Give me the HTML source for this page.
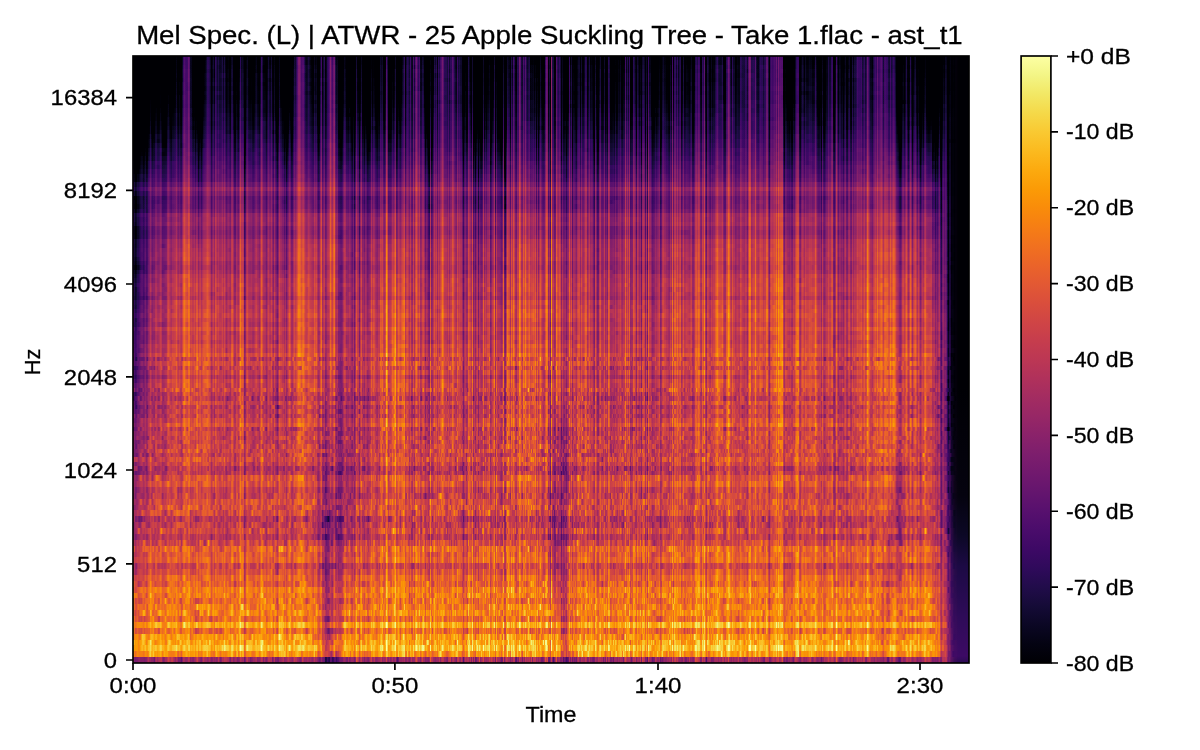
<!DOCTYPE html>
<html><head><meta charset="utf-8"><title>Mel Spec</title><style>
html,body{margin:0;padding:0;background:#fff;width:1200px;height:750px;overflow:hidden}
#sp{position:absolute;left:133px;top:56px;width:836px;height:607px;background:#000;overflow:hidden;filter:url(#cm);isolation:isolate}
#sp i{position:absolute;left:0;width:836px;display:block}
.tx{position:absolute;left:0;top:0;width:836px;height:607px;mix-blend-mode:lighten}
.t0{background:linear-gradient(90deg,#0000a7,#000060,#000044,#000025,#000056,#000056,#000050,#000071,#000072,#000087,#000067,#000052,#000080,#000078,#000030,#00008b,#000084,#0000a5,#0000c0,#000050,#00008b,#000062,#000087,#0000a7,#000085,#00006e,#00007f,#00007d,#0000b6,#00004d,#000058,#000050,#00005a,#000056,#000067,#0000c6,#000078,#000095,#000036,#00008e,#00005c,#000092,#000059,#0000a4,#00008a,#000042,#000069,#000062,#00001f,#00004f,#00007a,#0000b9,#000095,#000081,#000077,#000071,#0000d5,#00004a,#00005d,#00006c,#000030,#00008c,#00004c,#000069,#0000b4,#00004d,#000054,#00009a,#000041,#000052,#000079,#00007c,#000080,#00007d,#0000a0,#000096,#00007e,#000084,#00003d,#00001b,#0000a5,#000026,#000087,#0000ab,#000042,#00009a,#000053,#00007f,#000047,#0000b7,#00004f,#00009a,#000091,#000046,#000064,#000074,#000081,#00003e,#00008c,#0000bd,#000089,#000064,#000023,#000091,#000082,#00006a,#00006c,#0000ff,#0000c3,#000094,#0000f3,#000017,#000010,#00007b,#0000b6,#00007d,#00007b,#000067,#000080,#000067,#000054,#000067,#000076,#0000a7,#000076,#000080,#000054,#000066,#0000d9,#0000bd,#00007c,#00006c,#00007f,#000041,#00005d,#0000a3,#00008d,#000065,#0000ac,#00009b,#00002d,#0000b0,#000077,#000066,#000030,#000046,#0000d3,#00009a,#0000b0,#00007b,#0000b1,#00004d,#0000a6,#00003b,#000066,#000081,#0000c0,#0000aa,#000056,#000037,#00005b,#000096,#000064,#000070,#000084,#0000b5,#0000b1,#0000ab,#000074,#000087,#0000a5,#000085,#000058,#00004d,#00004d,#00007e,#000074,#000068,#000058,#00005e,#000035,#000096,#000068,#000090,#00005a,#000021,#000028,#000064,#0000de,#00003e,#000044,#000081,#00001b,#000019,#00004d,#00005f,#00005d,#0000d3,#0000a7,#00007a,#0000ad,#0000ff,#00008c,#000054,#000089,#000031,#000034,#000028,#000025,#000033,#00006c,#00009e,#0000a6,#000063,#00006d,#000058,#00007f,#000070,#000059,#000021,#000081,#000014,#000042,#0000c9,#00007c,#000098,#000013,#00006a,#0000cd,#00005f,#000077,#000041,#00007c,#000078,#00003e,#000046,#000057,#000050,#0000be,#000077,#00009e,#000099,#00006c,#000059,#00003c,#000069,#000044,#0000a4,#00008f,#0000af,#00006a,#000052,#000062,#0000ff,#0000de,#00004e,#000058,#000054,#000060,#0000a2,#00008d,#0000a2,#0000fd,#00005c,#00005c,#00009f,#00008c,#00006a,#000083,#00009b,#00009a,#0000cf,#000041,#000074,#00008b,#000078,#000040,#000090,#000049,#000023,#0000a5,#000046,#000096,#0000d6,#0000ab,#00007c,#0000c2,#000068,#000070,#0000ac,#0000c1,#00009f,#00004d,#00007e,#00006c,#00003d,#000003,#0000d8,#00003b,#00003b,#000066,#0000a3,#00006f,#000090,#00002e,#00007b,#000047,#00006c,#000082,#0000b8,#000096,#000057,#000052,#000057,#00003a,#000075,#000034,#000064,#000061,#0000a8,#00009d,#000070,#00005c,#000042,#0000a5,#000072,#00008b,#000079,#000082,#000051,#000000,#00004e,#000071,#000049,#000043,#0000c3,#0000a8,#000095,#000066,#0000e3,#000041,#000070,#000037,#000077,#00009d,#000029,#000086,#000069,#000058,#000063,#0000de,#000073,#000099,#000072,#000097,#000098,#0000b3,#000034,#00004f,#00007f,#000093,#0000e3,#00003a,#0000ae,#000069,#000065,#000064,#000057,#00003d,#00005a,#0000e5,#00002b,#000003,#000070,#0000d1,#0000b6,#0000a8,#000052,#0000bc,#00007f,#0000c1,#00008f,#000043,#00002a,#000075,#000068,#0000cb,#0000a8,#000051,#000048,#00009d,#000075,#0000b7,#00007a,#000067,#000082,#00009a,#000064,#00007a,#00007f,#000096,#000082,#0000a8,#00004e,#000097,#000041,#000079,#0000a6,#000078,#000050,#00003f,#000043,#00008a,#0000c1,#0000af,#00001e,#000049,#000000,#0000e7,#000062,#00005e,#000029,#000037,#0000bd,#00008b,#00007b,#00009b,#00007c,#00001a,#000064,#000030,#000032,#00003e,#000008,#00003b,#00004d,#0000b7,#000062,#000092,#00001e,#00006c,#000067,#000057,#000041,#000083,#000099,#00009b,#00005c,#0000a1,#00006e,#00006d,#00008a,#0000ba,#0000b1,#000057,#00007f,#0000a8,#000071,#000085,#00007b,#000048,#000029,#0000b6,#000074,#00002e,#00003b,#0000a1,#0000bf,#00006e,#00006b,#000075,#0000af,#000057,#000071,#00004c,#0000cf,#0000af,#000051,#000058,#00005c,#000063,#000050,#000081,#000052,#000060,#000086,#000077,#000090,#00005f,#000055,#000076,#000075,#0000e0,#00007a,#0000b4,#000079,#0000c9,#00003c,#000058,#00005d,#0000c6,#0000a8,#000086,#000039,#0000b6,#00008d,#000066,#000086,#00001c,#0000af,#0000ab,#000092,#00002d,#00009d,#000013,#0000e1,#00007a,#00008b,#00005b,#000036,#000049,#000053,#000078,#00005e,#000076,#000081,#000095,#00001d,#00004f,#0000a1,#0000a1,#000080,#00007d,#000061,#000067,#00004d,#000045,#00008c,#000058,#0000e4,#00004c,#0000c1,#0000b6,#000083,#0000c1,#000074,#0000a6,#0000b3,#000039,#000077,#0000ae,#00005b,#000072,#000084,#000077,#000073,#000065,#000082,#000095,#00003c,#000047,#000071,#0000bf,#0000c3,#0000a2,#0000d5,#0000b8,#00005a,#000059,#0000c1,#000090,#0000f1,#00003a,#000023,#0000a0,#000073,#000056,#00004b,#000088,#00005b,#00007a,#000075,#0000a9,#0000c2,#0000d5,#000098,#000095,#000090,#000093,#0000b0,#000055,#000046,#00004c,#0000b6,#0000af,#0000ff,#0000c5,#00006f,#000061,#0000c1,#00006e,#000089,#00004e,#00006f,#00007c,#000062,#000063,#0000ab,#000082,#000069,#000066,#000057,#00007c,#000060,#00002b,#0000b4,#0000e2,#0000c4,#00004c,#000084,#000087,#00008b,#0000e9,#000066,#00007d,#000066,#000093,#00009c,#000084,#000083,#00004f,#000076,#000064,#0000bb,#000097,#000025,#000000,#000088,#000080,#000071,#000087,#000094,#000083,#0000ca,#000063,#0000fb,#000087,#0000ce,#0000ba,#0000cf,#000022,#00001f,#000080,#00005a,#000051,#000053,#000042,#000062,#00002a,#000035,#00007f,#00004e,#0000ab,#0000bf,#0000c6,#0000bf,#00001d,#000041,#000089,#000094,#000076,#000056,#0000a1,#00005c,#000079,#000073,#000092,#00007c,#00008d,#00006d,#000080,#000087,#0000d7,#000070,#00005f,#000053,#00005b,#00006b,#000015,#0000c4,#00000e,#000051,#00005b,#000081,#000071,#0000ba,#00006d,#000095,#0000c6,#0000be,#000015,#00004d,#000083,#0000ff,#000056,#000056,#00009f,#00006e,#000060,#00007d,#000035,#0000a4,#000091,#000037,#000059,#0000a3,#000089,#000038,#00004d,#0000a5,#000029,#000096,#000047,#000083,#000091,#000066,#000085,#000070,#00009b,#000038,#000090,#000088,#00004c,#0000a2,#0000f8,#000081,#000075,#000037,#000051,#000021,#000086,#00006a,#000094,#000052,#0000d6,#00002a,#0000ad,#00007a,#0000bd,#00005c,#000057,#0000b5,#00008b,#00009a,#000094,#00005e,#00007f,#0000ca,#000053,#0000c7,#0000aa,#0000a7,#00006f,#00003a,#000041,#000020,#000000,#000000,#000036,#000084,#000061,#000046,#000096,#0000a5,#00003a,#000034,#000091,#0000c1,#000046,#00001d,#0000ad,#00007b,#0000be,#00003d,#000054,#00009d,#00001e,#000022,#000071,#000078,#000050,#0000e0,#000093,#00007e,#000081,#000079,#000087,#00008b,#000096,#000014,#00009c,#00003d,#000035,#00008f,#000026,#0000d1,#000099,#00002d,#000048,#0000eb,#0000a9,#0000c1,#0000e3,#0000ac,#00004a,#000059,#0000d8,#000077,#000060,#0000a5,#000085,#000092,#0000c9,#0000ee,#0000d1,#0000b4,#000060,#00006d,#0000b8,#000085,#00006f,#000026,#000031,#000058,#0000e5,#0000a1);-webkit-mask-image:linear-gradient(180deg,#00000099 0px 4px,#00000099 4px 9px,#00000099 9px 13px,#00000099 13px 17px,#00000099 17px 22px,#00000099 22px 26px,#00000099 26px 30px,#00000099 30px 35px,#00000099 35px 39px,#00000099 39px 44px,#00000099 44px 48px,#00000099 48px 52px,#00000099 52px 57px,#00000099 57px 61px,#00000099 61px 65px,#00000099 65px 70px,#00000099 70px 74px,#00000099 74px 78px,#00000099 78px 83px,#00000099 83px 87px,#00000099 87px 92px,#00000099 92px 96px,#00000099 96px 100px,#00000099 100px 105px,#00000099 105px 109px,#00000099 109px 113px,#00000099 113px 118px,#00000099 118px 122px,#00000099 122px 126px,#00000099 126px 131px,#00000099 131px 135px,#00000099 135px 140px,#00000099 140px 144px,#00000099 144px 148px,#00000099 148px 153px,#00000099 153px 157px,#00000099 157px 161px,#00000099 161px 166px,#00000099 166px 170px,#00000099 170px 174px,#00000099 174px 179px,#00000099 179px 183px,#00000099 183px 188px,#00000099 188px 192px,#00000099 192px 196px,#00000099 196px 201px,#00000098 201px 205px,#00000098 205px 209px,#00000098 209px 214px,#00000097 214px 218px,#00000097 218px 222px,#00000096 222px 227px,#00000096 227px 231px,#00000096 231px 236px,#00000095 236px 240px,#00000095 240px 244px,#00000095 244px 249px,#00000094 249px 253px,#00000094 253px 257px,#00000093 257px 262px,#00000093 262px 266px,#00000093 266px 271px,#00000092 271px 275px,#00000092 275px 279px,#00000092 279px 284px,#00000091 284px 288px,#00000091 288px 292px,#00000090 292px 297px,#00000090 297px 301px,#00000000 301px 305px,#0000008f 305px 310px,#00000000 310px 314px,#0000008f 314px 319px,#0000008e 319px 323px,#0000008e 323px 327px,#0000008d 327px 332px,#00000000 332px 336px,#0000008d 336px 340px,#00000000 340px 345px,#0000008c 345px 349px,#00000000 349px 353px,#0000008b 353px 358px,#00000000 358px 362px,#0000008a 362px 367px,#00000089 367px 371px,#00000000 371px 375px,#00000088 375px 380px,#00000000 380px 384px,#00000087 384px 388px,#00000000 388px 393px,#00000000 393px 397px,#00000000 397px 401px,#00000000 401px 406px,#00000084 406px 410px,#00000000 410px 415px,#00000083 415px 419px,#00000000 419px 425px,#00000082 425px 431px,#00000081 431px 437px,#00000000 437px 443px,#00000000 443px 449px,#00000000 449px 454px,#00000000 454px 460px,#00000000 460px 466px,#00000000 466px 472px,#00000000 472px 478px,#0000007d 478px 484px,#00000000 484px 490px,#00000000 490px 496px,#0000007b 496px 501px,#0000007b 501px 507px,#00000000 507px 513px,#0000007a 513px 519px,#00000079 519px 525px,#00000000 525px 531px,#00000078 531px 537px,#00000000 537px 542px,#00000000 542px 548px,#00000000 548px 554px,#00000000 554px 560px,#00000000 560px 566px,#00000076 566px 572px,#00000000 572px 578px,#00000000 578px 584px,#00000000 584px 589px,#00000074 589px 595px,#00000000 595px 601px,#00000000 601px 607px);mask-image:linear-gradient(180deg,#00000099 0px 4px,#00000099 4px 9px,#00000099 9px 13px,#00000099 13px 17px,#00000099 17px 22px,#00000099 22px 26px,#00000099 26px 30px,#00000099 30px 35px,#00000099 35px 39px,#00000099 39px 44px,#00000099 44px 48px,#00000099 48px 52px,#00000099 52px 57px,#00000099 57px 61px,#00000099 61px 65px,#00000099 65px 70px,#00000099 70px 74px,#00000099 74px 78px,#00000099 78px 83px,#00000099 83px 87px,#00000099 87px 92px,#00000099 92px 96px,#00000099 96px 100px,#00000099 100px 105px,#00000099 105px 109px,#00000099 109px 113px,#00000099 113px 118px,#00000099 118px 122px,#00000099 122px 126px,#00000099 126px 131px,#00000099 131px 135px,#00000099 135px 140px,#00000099 140px 144px,#00000099 144px 148px,#00000099 148px 153px,#00000099 153px 157px,#00000099 157px 161px,#00000099 161px 166px,#00000099 166px 170px,#00000099 170px 174px,#00000099 174px 179px,#00000099 179px 183px,#00000099 183px 188px,#00000099 188px 192px,#00000099 192px 196px,#00000099 196px 201px,#00000098 201px 205px,#00000098 205px 209px,#00000098 209px 214px,#00000097 214px 218px,#00000097 218px 222px,#00000096 222px 227px,#00000096 227px 231px,#00000096 231px 236px,#00000095 236px 240px,#00000095 240px 244px,#00000095 244px 249px,#00000094 249px 253px,#00000094 253px 257px,#00000093 257px 262px,#00000093 262px 266px,#00000093 266px 271px,#00000092 271px 275px,#00000092 275px 279px,#00000092 279px 284px,#00000091 284px 288px,#00000091 288px 292px,#00000090 292px 297px,#00000090 297px 301px,#00000000 301px 305px,#0000008f 305px 310px,#00000000 310px 314px,#0000008f 314px 319px,#0000008e 319px 323px,#0000008e 323px 327px,#0000008d 327px 332px,#00000000 332px 336px,#0000008d 336px 340px,#00000000 340px 345px,#0000008c 345px 349px,#00000000 349px 353px,#0000008b 353px 358px,#00000000 358px 362px,#0000008a 362px 367px,#00000089 367px 371px,#00000000 371px 375px,#00000088 375px 380px,#00000000 380px 384px,#00000087 384px 388px,#00000000 388px 393px,#00000000 393px 397px,#00000000 397px 401px,#00000000 401px 406px,#00000084 406px 410px,#00000000 410px 415px,#00000083 415px 419px,#00000000 419px 425px,#00000082 425px 431px,#00000081 431px 437px,#00000000 437px 443px,#00000000 443px 449px,#00000000 449px 454px,#00000000 454px 460px,#00000000 460px 466px,#00000000 466px 472px,#00000000 472px 478px,#0000007d 478px 484px,#00000000 484px 490px,#00000000 490px 496px,#0000007b 496px 501px,#0000007b 501px 507px,#00000000 507px 513px,#0000007a 513px 519px,#00000079 519px 525px,#00000000 525px 531px,#00000078 531px 537px,#00000000 537px 542px,#00000000 542px 548px,#00000000 548px 554px,#00000000 554px 560px,#00000000 560px 566px,#00000076 566px 572px,#00000000 572px 578px,#00000000 578px 584px,#00000000 584px 589px,#00000074 589px 595px,#00000000 595px 601px,#00000000 601px 607px)}
.t1{background:linear-gradient(90deg,#0000f9,#0000bc,#000085,#00007d,#00009c,#000045,#000033,#000067,#000051,#00007f,#00009a,#000086,#00006a,#00004b,#00001c,#0000a2,#00007d,#0000c7,#0000ea,#00006a,#000082,#000084,#00003d,#000059,#000066,#00006a,#000070,#000071,#0000a5,#000051,#000065,#00007a,#000041,#000033,#00003d,#0000a1,#00006a,#0000ca,#000051,#0000ac,#00003d,#0000ab,#000030,#000080,#00008e,#000042,#00005c,#000090,#000088,#00003d,#00004c,#000081,#000078,#00005e,#0000c3,#00007e,#0000be,#000077,#00003b,#00006c,#00004d,#0000c7,#000046,#00007e,#0000a4,#00006b,#000058,#0000b0,#000041,#000033,#000065,#00006c,#000043,#000092,#000098,#00003f,#00009a,#0000b8,#000029,#000047,#000098,#00003e,#000069,#000095,#000051,#00007f,#000054,#000096,#00005d,#00007d,#00003d,#0000d2,#00008a,#00002b,#000093,#000078,#00006a,#000021,#00007f,#000074,#000097,#000037,#00001c,#000048,#00009f,#00004d,#000045,#0000d6,#00007d,#00007d,#0000c8,#000030,#000007,#00007e,#000097,#000085,#000086,#00008f,#00007d,#00008c,#000057,#00002e,#000072,#0000c5,#000033,#00006b,#000047,#000097,#0000b9,#0000f5,#0000c1,#000047,#000070,#00004d,#000069,#000054,#000063,#000047,#00008b,#00009b,#000042,#00009d,#000064,#00006e,#00002d,#000066,#0000a8,#00007e,#000074,#0000a2,#00006e,#00001c,#0000a0,#000054,#000065,#000053,#000065,#000079,#00006a,#000058,#000084,#0000d8,#000035,#000021,#000053,#00004e,#000054,#0000c1,#00006b,#000075,#00007a,#0000a4,#0000b2,#00006a,#000053,#000049,#000057,#000045,#000086,#000037,#000009,#000074,#000066,#000088,#00005f,#000037,#000036,#0000a0,#0000a0,#000048,#00001e,#000050,#000064,#000014,#000048,#00006a,#000099,#000093,#00007b,#000026,#00007a,#0000e4,#0000ac,#000098,#000078,#000078,#000055,#00004f,#00004c,#000027,#00004d,#000089,#0000e7,#000050,#000066,#000061,#00008a,#00006f,#00003a,#00005c,#000064,#000028,#000091,#000067,#000076,#00005a,#000014,#000082,#0000c0,#00003d,#00003c,#00000d,#00004e,#000092,#000048,#000027,#000043,#00006b,#00008c,#000073,#000059,#000094,#000093,#000071,#000051,#000072,#000026,#000066,#0000ab,#000090,#00003e,#000042,#00005e,#0000ff,#0000c7,#000078,#0000a2,#000055,#00002d,#0000af,#00005a,#000066,#0000f4,#000094,#00007d,#00009c,#00006b,#000057,#000096,#000086,#000094,#00009b,#00008b,#000078,#000082,#0000ab,#000000,#000062,#00003b,#00004c,#000053,#000000,#000080,#000095,#00006e,#000095,#00008f,#000074,#00006c,#0000d3,#000057,#00006f,#00003e,#000086,#0000b9,#0000b8,#000041,#000095,#00003e,#000032,#00002f,#000088,#0000bb,#00009d,#000058,#000091,#000047,#000093,#000058,#000083,#000074,#000074,#00004d,#000071,#00007b,#000079,#00003e,#00004f,#000065,#000096,#000077,#00006e,#000004,#00003d,#0000e5,#000062,#000060,#000041,#000055,#00000e,#00003d,#000057,#000067,#000008,#000098,#0000b0,#0000eb,#000078,#000034,#0000cd,#000079,#00005c,#000057,#0000c5,#00008e,#000091,#00008f,#000075,#00004f,#000052,#000068,#00003d,#0000c0,#000052,#000048,#0000a2,#0000c0,#000019,#000069,#000061,#0000a0,#00008b,#000059,#000077,#0000a8,#000056,#00005f,#000055,#000037,#000080,#00008c,#000056,#00005b,#000061,#000084,#0000e2,#00006f,#000061,#000099,#00008f,#0000c1,#000080,#000077,#000041,#00005e,#000048,#0000ae,#000072,#00005a,#00009a,#000080,#00005a,#000084,#000024,#000044,#000066,#00007b,#0000a7,#0000d3,#0000a4,#0000bb,#00006e,#0000a7,#000054,#000078,#000043,#000084,#00004b,#00005d,#000074,#0000d0,#00005c,#0000d4,#0000da,#000071,#000055,#00005f,#000000,#0000ff,#00007f,#00004c,#000042,#000056,#000089,#000077,#000057,#00007b,#000059,#000092,#000062,#00002c,#00005a,#000010,#000019,#000071,#000077,#0000a9,#000086,#000097,#000083,#00007d,#000043,#00006a,#000026,#000070,#000074,#00007d,#0000b1,#00007f,#000063,#00003c,#000076,#000081,#0000bd,#00009c,#00005a,#0000b5,#00008a,#000091,#000088,#00007e,#000078,#0000c2,#00007c,#000035,#00003b,#00005c,#000061,#000035,#000000,#000075,#00009a,#000058,#000049,#000061,#0000d2,#00006e,#00009c,#00007a,#000050,#0000b2,#000058,#000099,#000068,#000023,#000076,#00008d,#000072,#00008d,#0000a5,#00008f,#000028,#00005d,#000052,#000098,#0000a1,#00008a,#000005,#00007f,#000047,#00009e,#000084,#000068,#000062,#0000b1,#000044,#000049,#000052,#000033,#000093,#000095,#00009c,#000057,#00006e,#000000,#000090,#000084,#000064,#0000b5,#00005c,#0000aa,#00004d,#000026,#000088,#00006b,#00006c,#0000a0,#000022,#000028,#0000bc,#00008e,#000093,#000099,#00007d,#000081,#00003a,#0000cb,#0000d5,#00004b,#000087,#000015,#0000ba,#0000a7,#000080,#00008f,#000085,#000082,#0000ac,#00001e,#000063,#000061,#00005a,#000044,#0000a2,#000051,#000057,#000062,#000042,#000058,#000037,#000070,#000040,#000094,#0000aa,#0000b9,#0000bf,#0000b2,#000043,#00003d,#0000e6,#000099,#0000ff,#000052,#00003b,#0000e6,#000099,#00006c,#00002c,#000043,#00003f,#00008d,#00003e,#0000ac,#00006f,#0000af,#000031,#0000d9,#000066,#000095,#000085,#000049,#000076,#0000b6,#000090,#000099,#0000df,#0000db,#00007c,#000077,#000080,#00007e,#000095,#000032,#000067,#000064,#000078,#00009e,#0000cd,#00009b,#0000a7,#00007c,#000031,#000078,#000083,#000053,#000088,#00009b,#0000df,#00004e,#00003e,#00008e,#000031,#00008b,#00004d,#0000ab,#000049,#0000a3,#00007d,#00008e,#000096,#00008a,#000072,#000049,#00007e,#000065,#000041,#000011,#0000aa,#00005d,#00008e,#00003b,#000067,#0000a9,#0000a4,#000091,#0000d0,#000078,#000092,#000070,#00009e,#000007,#000000,#00007e,#00004c,#00003c,#000045,#00003c,#00004c,#00002d,#000040,#000068,#000098,#0000d6,#0000bb,#0000ef,#000098,#00006a,#00005d,#000085,#0000a0,#000088,#00004c,#0000b2,#0000a9,#000096,#000049,#00007f,#000092,#0000a5,#00005c,#0000b4,#000095,#0000a8,#000055,#000099,#00005a,#000045,#000050,#000071,#000064,#000036,#000058,#000043,#00007b,#000070,#000091,#000051,#000068,#000091,#0000e6,#000031,#00002b,#000033,#0000a8,#00002a,#00003c,#00009a,#00007b,#000087,#000071,#00003d,#000094,#0000b8,#00003e,#000056,#0000ff,#00008f,#000018,#00002e,#00004b,#000053,#00004d,#0000a5,#0000b4,#000082,#000079,#00004f,#00004d,#00004b,#000033,#000090,#00007b,#00001a,#0000d8,#000087,#0000a9,#0000a3,#000069,#000061,#000038,#00007c,#000049,#0000b5,#00001c,#00009d,#000017,#0000ff,#00004d,#00005b,#00000c,#000080,#0000a4,#00008b,#00002b,#00004a,#000040,#0000a0,#0000a6,#000057,#000064,#000077,#00009e,#00004b,#000013,#000056,#000042,#00003d,#000075,#000032,#0000ac,#000035,#000058,#000090,#00003e,#000067,#000047,#000084,#0000b5,#000051,#00008a,#0000ad,#00006f,#00007b,#00002f,#000051,#0000db,#000023,#000049,#000084,#000065,#00008f,#00009e,#000070,#00003b,#000093,#0000ba,#000082,#00006f,#000093,#000039,#00006d,#000018,#000048,#000069,#000037,#0000a4,#00007b,#000041,#00005d,#0000c9,#000094,#00009c,#0000b9,#000084,#000068,#00008c,#00008a,#000059,#000038,#00006e,#000064,#00009f,#0000f7,#0000b3,#0000d3,#0000bb,#000080,#000084,#0000d4,#000091,#000030,#00005d,#000057,#000049,#00007a,#00007a);-webkit-mask-image:linear-gradient(180deg,#00000000 0px 4px,#00000000 4px 9px,#00000000 9px 13px,#00000000 13px 17px,#00000000 17px 22px,#00000000 22px 26px,#00000000 26px 30px,#00000000 30px 35px,#00000000 35px 39px,#00000000 39px 44px,#00000000 44px 48px,#00000000 48px 52px,#00000000 52px 57px,#00000000 57px 61px,#00000000 61px 65px,#00000000 65px 70px,#00000000 70px 74px,#00000000 74px 78px,#00000000 78px 83px,#00000000 83px 87px,#00000000 87px 92px,#00000000 92px 96px,#00000000 96px 100px,#00000000 100px 105px,#00000000 105px 109px,#00000000 109px 113px,#00000000 113px 118px,#00000000 118px 122px,#00000000 122px 126px,#00000000 126px 131px,#00000000 131px 135px,#00000000 135px 140px,#00000000 140px 144px,#00000000 144px 148px,#00000000 148px 153px,#00000000 153px 157px,#00000000 157px 161px,#00000000 161px 166px,#00000000 166px 170px,#00000000 170px 174px,#00000000 174px 179px,#00000000 179px 183px,#00000000 183px 188px,#00000000 188px 192px,#00000000 192px 196px,#00000000 196px 201px,#00000000 201px 205px,#00000000 205px 209px,#00000000 209px 214px,#00000000 214px 218px,#00000000 218px 222px,#00000000 222px 227px,#00000000 227px 231px,#00000000 231px 236px,#00000000 236px 240px,#00000000 240px 244px,#00000000 244px 249px,#00000000 249px 253px,#00000000 253px 257px,#00000000 257px 262px,#00000000 262px 266px,#00000000 266px 271px,#00000000 271px 275px,#00000000 275px 279px,#00000000 279px 284px,#00000000 284px 288px,#00000000 288px 292px,#00000000 292px 297px,#00000000 297px 301px,#00000000 301px 305px,#00000000 305px 310px,#00000000 310px 314px,#00000000 314px 319px,#00000000 319px 323px,#00000000 323px 327px,#00000000 327px 332px,#00000000 332px 336px,#00000000 336px 340px,#00000000 340px 345px,#00000000 345px 349px,#00000000 349px 353px,#00000000 353px 358px,#00000000 358px 362px,#00000000 362px 367px,#00000000 367px 371px,#00000000 371px 375px,#00000000 375px 380px,#00000000 380px 384px,#00000000 384px 388px,#00000000 388px 393px,#00000000 393px 397px,#00000000 397px 401px,#00000085 401px 406px,#00000000 406px 410px,#00000084 410px 415px,#00000000 415px 419px,#00000000 419px 425px,#00000000 425px 431px,#00000000 431px 437px,#00000000 437px 443px,#00000000 443px 449px,#00000000 449px 454px,#00000000 454px 460px,#00000000 460px 466px,#00000000 466px 472px,#00000000 472px 478px,#00000000 478px 484px,#00000000 484px 490px,#00000000 490px 496px,#00000000 496px 501px,#00000000 501px 507px,#00000000 507px 513px,#00000000 513px 519px,#00000000 519px 525px,#00000079 525px 531px,#00000000 531px 537px,#00000078 537px 542px,#00000000 542px 548px,#00000000 548px 554px,#00000000 554px 560px,#00000000 560px 566px,#00000000 566px 572px,#00000000 572px 578px,#00000000 578px 584px,#00000074 584px 589px,#00000000 589px 595px,#00000000 595px 601px,#00000000 601px 607px);mask-image:linear-gradient(180deg,#00000000 0px 4px,#00000000 4px 9px,#00000000 9px 13px,#00000000 13px 17px,#00000000 17px 22px,#00000000 22px 26px,#00000000 26px 30px,#00000000 30px 35px,#00000000 35px 39px,#00000000 39px 44px,#00000000 44px 48px,#00000000 48px 52px,#00000000 52px 57px,#00000000 57px 61px,#00000000 61px 65px,#00000000 65px 70px,#00000000 70px 74px,#00000000 74px 78px,#00000000 78px 83px,#00000000 83px 87px,#00000000 87px 92px,#00000000 92px 96px,#00000000 96px 100px,#00000000 100px 105px,#00000000 105px 109px,#00000000 109px 113px,#00000000 113px 118px,#00000000 118px 122px,#00000000 122px 126px,#00000000 126px 131px,#00000000 131px 135px,#00000000 135px 140px,#00000000 140px 144px,#00000000 144px 148px,#00000000 148px 153px,#00000000 153px 157px,#00000000 157px 161px,#00000000 161px 166px,#00000000 166px 170px,#00000000 170px 174px,#00000000 174px 179px,#00000000 179px 183px,#00000000 183px 188px,#00000000 188px 192px,#00000000 192px 196px,#00000000 196px 201px,#00000000 201px 205px,#00000000 205px 209px,#00000000 209px 214px,#00000000 214px 218px,#00000000 218px 222px,#00000000 222px 227px,#00000000 227px 231px,#00000000 231px 236px,#00000000 236px 240px,#00000000 240px 244px,#00000000 244px 249px,#00000000 249px 253px,#00000000 253px 257px,#00000000 257px 262px,#00000000 262px 266px,#00000000 266px 271px,#00000000 271px 275px,#00000000 275px 279px,#00000000 279px 284px,#00000000 284px 288px,#00000000 288px 292px,#00000000 292px 297px,#00000000 297px 301px,#00000000 301px 305px,#00000000 305px 310px,#00000000 310px 314px,#00000000 314px 319px,#00000000 319px 323px,#00000000 323px 327px,#00000000 327px 332px,#00000000 332px 336px,#00000000 336px 340px,#00000000 340px 345px,#00000000 345px 349px,#00000000 349px 353px,#00000000 353px 358px,#00000000 358px 362px,#00000000 362px 367px,#00000000 367px 371px,#00000000 371px 375px,#00000000 375px 380px,#00000000 380px 384px,#00000000 384px 388px,#00000000 388px 393px,#00000000 393px 397px,#00000000 397px 401px,#00000085 401px 406px,#00000000 406px 410px,#00000084 410px 415px,#00000000 415px 419px,#00000000 419px 425px,#00000000 425px 431px,#00000000 431px 437px,#00000000 437px 443px,#00000000 443px 449px,#00000000 449px 454px,#00000000 454px 460px,#00000000 460px 466px,#00000000 466px 472px,#00000000 472px 478px,#00000000 478px 484px,#00000000 484px 490px,#00000000 490px 496px,#00000000 496px 501px,#00000000 501px 507px,#00000000 507px 513px,#00000000 513px 519px,#00000000 519px 525px,#00000079 525px 531px,#00000000 531px 537px,#00000078 537px 542px,#00000000 542px 548px,#00000000 548px 554px,#00000000 554px 560px,#00000000 560px 566px,#00000000 566px 572px,#00000000 572px 578px,#00000000 578px 584px,#00000074 584px 589px,#00000000 589px 595px,#00000000 595px 601px,#00000000 601px 607px)}
.t2{background:linear-gradient(90deg,#0000bc,#0000ad,#000063,#00001a,#000075,#00005c,#000038,#000041,#000050,#00002c,#00009d,#00004c,#000056,#000083,#000055,#000089,#00005f,#00007f,#0000d0,#00004f,#0000e1,#00006b,#000057,#000071,#000088,#00005d,#00001d,#00006e,#0000ca,#00004b,#000093,#000057,#0000ca,#0000bc,#000054,#000089,#00002f,#0000a0,#000049,#0000af,#00009e,#00004c,#000061,#0000bd,#0000a2,#00008e,#00007d,#000052,#00000c,#00006f,#000092,#000077,#00008f,#0000af,#000096,#00008e,#0000cf,#00005f,#000036,#0000cf,#000033,#000089,#000039,#00000f,#00004d,#000017,#000036,#000077,#00002f,#000040,#00007b,#00008b,#00006d,#000065,#000067,#00008f,#000030,#00003c,#00003b,#000033,#0000c1,#000063,#000072,#000068,#000022,#00009f,#00006c,#000079,#00001d,#000082,#00004e,#000080,#0000c9,#000080,#00008f,#000058,#0000b3,#00002f,#000074,#000088,#000077,#000073,#00008e,#000096,#000069,#000060,#0000bc,#0000ff,#000082,#000061,#00009f,#000023,#00000e,#000041,#00006c,#000075,#000082,#000055,#00006c,#000045,#00006e,#000074,#00006d,#00006e,#000080,#00009b,#000062,#00006f,#0000bb,#0000aa,#0000a7,#000089,#0000d5,#00005a,#000043,#000098,#00007a,#00009f,#000091,#0000c2,#00002b,#000058,#00009d,#00004f,#000006,#00004c,#0000ff,#0000ac,#0000d1,#0000f1,#0000ab,#00004b,#0000a4,#000054,#000029,#000084,#000075,#0000ed,#000071,#000045,#000068,#00004d,#000027,#000077,#000083,#000095,#000077,#000076,#000095,#0000a6,#00005a,#000062,#00004f,#00000f,#00000d,#000062,#00005b,#0000a5,#000094,#00008d,#00004f,#0000c8,#000070,#000098,#000051,#000062,#000054,#000072,#0000e3,#000056,#000086,#000066,#000037,#00003b,#00002a,#000017,#000031,#000080,#00009a,#000060,#0000a6,#0000d1,#00006c,#00008a,#00005b,#000062,#00002e,#00001a,#00001f,#000033,#00000e,#0000a7,#0000c8,#00007c,#00003d,#000082,#0000b3,#00006d,#00001b,#000026,#000069,#000047,#000076,#0000f0,#00004c,#000060,#000019,#000075,#0000bb,#000027,#000069,#00001f,#00007a,#000054,#00005f,#000000,#000041,#000047,#000089,#00006a,#0000a8,#00006a,#000075,#00003d,#000050,#000082,#000065,#00007e,#00007b,#0000d6,#000045,#000094,#000069,#0000bc,#0000d4,#000033,#000024,#000041,#000052,#0000a0,#000095,#000096,#0000f1,#000068,#000083,#0000c8,#00008e,#000027,#00007b,#000078,#0000ae,#0000a5,#000040,#000089,#000098,#00008b,#00002f,#00008e,#00003a,#000036,#0000df,#00006b,#0000c3,#0000b8,#00007e,#00007b,#00008f,#000062,#000032,#0000aa,#0000ff,#00007b,#000041,#00008a,#000087,#000081,#000053,#0000dc,#0000a9,#000011,#000084,#0000cf,#00006d,#000085,#000054,#000076,#000093,#000068,#000075,#0000cb,#0000a3,#000033,#000045,#00004a,#000085,#0000ad,#00004f,#000096,#00005f,#0000a2,#000095,#000078,#0000a6,#00008b,#000085,#000072,#00006e,#000056,#000043,#000079,#000000,#000053,#00005e,#000060,#00000e,#000084,#0000a7,#000068,#00006b,#0000e2,#000024,#000068,#000046,#000042,#000060,#000025,#0000a3,#000077,#000061,#000077,#0000a0,#00007e,#0000ae,#000059,#000093,#000063,#000092,#00003c,#000046,#0000a4,#000072,#000095,#000029,#0000dd,#000056,#000083,#00004e,#000055,#000085,#0000b0,#00008b,#000016,#000026,#0000d8,#0000a7,#000098,#000064,#000069,#00007b,#000089,#000090,#000094,#00006f,#00002a,#000053,#000044,#0000bf,#00009d,#000032,#000031,#000068,#00004a,#00005f,#000050,#00007a,#0000f4,#000086,#00000f,#000052,#000027,#000053,#000061,#0000b6,#000057,#00009e,#00004a,#00003c,#000084,#000097,#00002d,#000061,#000036,#000052,#00007b,#00007d,#000064,#000025,#000008,#0000b9,#00004d,#000058,#000046,#000044,#000077,#00006e,#000082,#00009a,#00009f,#000000,#000055,#000021,#000031,#00005d,#00001a,#000080,#000094,#0000d7,#00002b,#000062,#000027,#00006d,#00008e,#00003c,#000047,#00007c,#000084,#000051,#000060,#0000a3,#000082,#00008f,#000067,#00008c,#000097,#000054,#00003f,#0000b5,#00008b,#0000ce,#000074,#000063,#000032,#0000a9,#0000d5,#000088,#000079,#000087,#0000b9,#000090,#0000bf,#000089,#00006a,#00004f,#0000ad,#000057,#0000be,#0000a9,#00002a,#000050,#000070,#000062,#000048,#00005b,#000033,#000068,#0000a5,#00005d,#000060,#00007d,#00009f,#000054,#00007b,#0000a0,#0000af,#0000c8,#0000bc,#00008b,#00002e,#000055,#000078,#0000db,#0000cc,#00005e,#00004f,#0000cb,#000073,#00008d,#0000a0,#00008d,#0000d8,#000099,#0000ca,#000043,#0000b2,#00004b,#0000a0,#00004d,#000083,#00004b,#000068,#000080,#00005f,#000078,#000037,#000037,#000049,#00005e,#000000,#000044,#000057,#000087,#00003a,#000051,#000072,#000078,#00006f,#0000d0,#0000a1,#00007d,#0000db,#000051,#0000ea,#000089,#0000b1,#000098,#000064,#00007d,#00006a,#000052,#000081,#000057,#000013,#000072,#00007e,#000028,#00007c,#000042,#00009f,#00007d,#000033,#000064,#00006c,#00007d,#0000f7,#00007e,#00008d,#000080,#000084,#000035,#0000f0,#00007c,#0000f7,#000074,#00003f,#0000a5,#0000e6,#00004b,#0000b3,#000075,#0000be,#000093,#00005d,#000087,#000075,#0000dc,#0000bb,#0000a6,#000065,#000077,#00006e,#00002d,#00005a,#000060,#0000a2,#0000be,#0000ba,#000078,#000078,#00006d,#0000c3,#00008a,#00006d,#000064,#00003e,#000053,#000014,#000079,#00008b,#000042,#000043,#00004c,#000077,#00007b,#0000a0,#000095,#00007c,#0000e8,#0000e7,#000031,#000070,#00006d,#0000a5,#0000bd,#00007e,#000054,#000050,#0000ac,#0000a9,#000061,#000027,#000015,#00009d,#000052,#0000ff,#000065,#00001b,#000000,#00006f,#000083,#00005e,#000098,#0000b2,#0000c4,#0000ab,#000078,#0000cf,#0000d1,#0000c0,#00009d,#000084,#000078,#00002b,#000055,#000084,#00005d,#00005d,#000090,#000055,#00000a,#000042,#0000a4,#000042,#00008c,#000092,#00007d,#0000f2,#000013,#000019,#000046,#000071,#0000ad,#00007e,#000084,#000040,#000074,#000069,#000067,#00008a,#000086,#000041,#000053,#000079,#0000ee,#0000a4,#000087,#000031,#00006d,#000060,#000055,#0000b1,#000007,#00004c,#000052,#0000ba,#000083,#000094,#00005f,#00007f,#000068,#0000a5,#000032,#00008d,#00006b,#0000fd,#000060,#00004f,#000078,#000067,#000045,#0000d5,#0000a2,#000082,#000081,#000030,#000055,#000064,#000055,#000030,#000088,#0000c4,#000064,#000071,#000077,#00009f,#000064,#00006b,#000081,#00004c,#000086,#00005b,#000082,#000080,#000040,#000045,#0000ff,#00006a,#000089,#000026,#000049,#000070,#000051,#0000bf,#0000a0,#000044,#00009b,#00007b,#00007d,#0000c6,#000060,#00003f,#000064,#0000fa,#000094,#000066,#000063,#00006c,#000052,#0000ab,#00008f,#0000cf,#000095,#0000cf,#0000a4,#000059,#000027,#000067,#000062,#000077,#00003b,#000057,#000098,#000018,#00004b,#0000b4,#000059,#00002f,#000063,#000057,#000033,#000012,#000073,#000065,#0000cb,#00002b,#000033,#000084,#000052,#00005f,#000057,#00008c,#000048,#0000b9,#00007d,#0000af,#000073,#0000a2,#000063,#000027,#000074,#000009,#00004b,#000026,#00009a,#0000aa,#000027,#0000f1,#000088,#00003b,#000032,#0000c1,#0000a2,#0000a1,#0000a1,#00007a,#00007f,#000076,#00007d,#0000aa,#000057,#00009a,#00004c,#00007d,#0000a7,#0000d8,#0000ac,#00008b,#00009d,#00006a,#000098,#000076,#00006a,#000041,#000054,#00004b,#0000df,#000048);-webkit-mask-image:linear-gradient(180deg,#00000000 0px 4px,#00000000 4px 9px,#00000000 9px 13px,#00000000 13px 17px,#00000000 17px 22px,#00000000 22px 26px,#00000000 26px 30px,#00000000 30px 35px,#00000000 35px 39px,#00000000 39px 44px,#00000000 44px 48px,#00000000 48px 52px,#00000000 52px 57px,#00000000 57px 61px,#00000000 61px 65px,#00000000 65px 70px,#00000000 70px 74px,#00000000 74px 78px,#00000000 78px 83px,#00000000 83px 87px,#00000000 87px 92px,#00000000 92px 96px,#00000000 96px 100px,#00000000 100px 105px,#00000000 105px 109px,#00000000 109px 113px,#00000000 113px 118px,#00000000 118px 122px,#00000000 122px 126px,#00000000 126px 131px,#00000000 131px 135px,#00000000 135px 140px,#00000000 140px 144px,#00000000 144px 148px,#00000000 148px 153px,#00000000 153px 157px,#00000000 157px 161px,#00000000 161px 166px,#00000000 166px 170px,#00000000 170px 174px,#00000000 174px 179px,#00000000 179px 183px,#00000000 183px 188px,#00000000 188px 192px,#00000000 192px 196px,#00000000 196px 201px,#00000000 201px 205px,#00000000 205px 209px,#00000000 209px 214px,#00000000 214px 218px,#00000000 218px 222px,#00000000 222px 227px,#00000000 227px 231px,#00000000 231px 236px,#00000000 236px 240px,#00000000 240px 244px,#00000000 244px 249px,#00000000 249px 253px,#00000000 253px 257px,#00000000 257px 262px,#00000000 262px 266px,#00000000 266px 271px,#00000000 271px 275px,#00000000 275px 279px,#00000000 279px 284px,#00000000 284px 288px,#00000000 288px 292px,#00000000 292px 297px,#00000000 297px 301px,#00000000 301px 305px,#00000000 305px 310px,#00000000 310px 314px,#00000000 314px 319px,#00000000 319px 323px,#00000000 323px 327px,#00000000 327px 332px,#0000008d 332px 336px,#00000000 336px 340px,#00000000 340px 345px,#00000000 345px 349px,#00000000 349px 353px,#00000000 353px 358px,#00000000 358px 362px,#00000000 362px 367px,#00000000 367px 371px,#00000000 371px 375px,#00000000 375px 380px,#00000000 380px 384px,#00000000 384px 388px,#00000000 388px 393px,#00000000 393px 397px,#00000000 397px 401px,#00000000 401px 406px,#00000000 406px 410px,#00000000 410px 415px,#00000000 415px 419px,#00000000 419px 425px,#00000000 425px 431px,#00000000 431px 437px,#00000000 437px 443px,#00000000 443px 449px,#00000000 449px 454px,#00000000 454px 460px,#0000007e 460px 466px,#00000000 466px 472px,#00000000 472px 478px,#00000000 478px 484px,#00000000 484px 490px,#0000007c 490px 496px,#00000000 496px 501px,#00000000 501px 507px,#00000000 507px 513px,#00000000 513px 519px,#00000000 519px 525px,#00000000 525px 531px,#00000000 531px 537px,#00000000 537px 542px,#00000078 542px 548px,#00000000 548px 554px,#00000000 554px 560px,#00000076 560px 566px,#00000000 566px 572px,#00000075 572px 578px,#00000000 578px 584px,#00000000 584px 589px,#00000000 589px 595px,#00000000 595px 601px,#00000000 601px 607px);mask-image:linear-gradient(180deg,#00000000 0px 4px,#00000000 4px 9px,#00000000 9px 13px,#00000000 13px 17px,#00000000 17px 22px,#00000000 22px 26px,#00000000 26px 30px,#00000000 30px 35px,#00000000 35px 39px,#00000000 39px 44px,#00000000 44px 48px,#00000000 48px 52px,#00000000 52px 57px,#00000000 57px 61px,#00000000 61px 65px,#00000000 65px 70px,#00000000 70px 74px,#00000000 74px 78px,#00000000 78px 83px,#00000000 83px 87px,#00000000 87px 92px,#00000000 92px 96px,#00000000 96px 100px,#00000000 100px 105px,#00000000 105px 109px,#00000000 109px 113px,#00000000 113px 118px,#00000000 118px 122px,#00000000 122px 126px,#00000000 126px 131px,#00000000 131px 135px,#00000000 135px 140px,#00000000 140px 144px,#00000000 144px 148px,#00000000 148px 153px,#00000000 153px 157px,#00000000 157px 161px,#00000000 161px 166px,#00000000 166px 170px,#00000000 170px 174px,#00000000 174px 179px,#00000000 179px 183px,#00000000 183px 188px,#00000000 188px 192px,#00000000 192px 196px,#00000000 196px 201px,#00000000 201px 205px,#00000000 205px 209px,#00000000 209px 214px,#00000000 214px 218px,#00000000 218px 222px,#00000000 222px 227px,#00000000 227px 231px,#00000000 231px 236px,#00000000 236px 240px,#00000000 240px 244px,#00000000 244px 249px,#00000000 249px 253px,#00000000 253px 257px,#00000000 257px 262px,#00000000 262px 266px,#00000000 266px 271px,#00000000 271px 275px,#00000000 275px 279px,#00000000 279px 284px,#00000000 284px 288px,#00000000 288px 292px,#00000000 292px 297px,#00000000 297px 301px,#00000000 301px 305px,#00000000 305px 310px,#00000000 310px 314px,#00000000 314px 319px,#00000000 319px 323px,#00000000 323px 327px,#00000000 327px 332px,#0000008d 332px 336px,#00000000 336px 340px,#00000000 340px 345px,#00000000 345px 349px,#00000000 349px 353px,#00000000 353px 358px,#00000000 358px 362px,#00000000 362px 367px,#00000000 367px 371px,#00000000 371px 375px,#00000000 375px 380px,#00000000 380px 384px,#00000000 384px 388px,#00000000 388px 393px,#00000000 393px 397px,#00000000 397px 401px,#00000000 401px 406px,#00000000 406px 410px,#00000000 410px 415px,#00000000 415px 419px,#00000000 419px 425px,#00000000 425px 431px,#00000000 431px 437px,#00000000 437px 443px,#00000000 443px 449px,#00000000 449px 454px,#00000000 454px 460px,#0000007e 460px 466px,#00000000 466px 472px,#00000000 472px 478px,#00000000 478px 484px,#00000000 484px 490px,#0000007c 490px 496px,#00000000 496px 501px,#00000000 501px 507px,#00000000 507px 513px,#00000000 513px 519px,#00000000 519px 525px,#00000000 525px 531px,#00000000 531px 537px,#00000000 537px 542px,#00000078 542px 548px,#00000000 548px 554px,#00000000 554px 560px,#00000076 560px 566px,#00000000 566px 572px,#00000075 572px 578px,#00000000 578px 584px,#00000000 584px 589px,#00000000 589px 595px,#00000000 595px 601px,#00000000 601px 607px)}
.t3{background:linear-gradient(90deg,#000059,#000083,#00004b,#000022,#000035,#00008d,#000060,#000067,#00006c,#000057,#000065,#00004c,#000088,#0000ad,#000014,#00006c,#0000a7,#000082,#0000a6,#000076,#000090,#000028,#00007c,#0000cf,#000066,#000040,#000048,#000066,#000076,#00003c,#000071,#00004a,#00002e,#00003c,#000065,#00007d,#000052,#0000b2,#000067,#000076,#00006a,#0000a8,#000074,#000086,#000056,#000041,#000066,#000085,#000048,#000008,#000048,#00009d,#000030,#000052,#000058,#000063,#000090,#00004d,#000058,#00005d,#000046,#000064,#000029,#000044,#0000e5,#000096,#000066,#0000a9,#000049,#000090,#000066,#000083,#00009a,#00005a,#00007c,#0000ab,#0000a9,#000075,#000027,#00001e,#0000a8,#000038,#000052,#00007d,#00005c,#0000bb,#000048,#000082,#000015,#000096,#000056,#00007b,#00007b,#00003a,#000059,#000055,#0000c1,#000073,#0000a8,#0000c2,#000096,#00003f,#00004d,#000082,#000095,#00004b,#00004c,#000086,#0000cb,#0000d3,#0000ff,#000021,#000049,#000051,#0000cf,#000067,#0000b9,#000058,#000059,#00004f,#00003e,#00003e,#000052,#000070,#0000b8,#0000c2,#00003a,#000066,#0000c4,#00006c,#000046,#000091,#00008c,#000051,#000073,#000087,#00009a,#000035,#000089,#0000b8,#000099,#0000e3,#00003e,#00004b,#00001c,#000001,#00007d,#000075,#00009e,#00006c,#0000c5,#000072,#0000a9,#00003d,#000056,#000073,#00008a,#00008b,#000038,#000047,#0000b7,#00005a,#00003e,#000071,#000070,#00006e,#00006c,#000071,#000067,#0000a9,#00007d,#000049,#000061,#00002f,#000071,#0000a0,#000084,#0000a4,#000071,#000077,#00004f,#000068,#000039,#0000bc,#00007c,#000085,#000005,#00001e,#000094,#000032,#000000,#000065,#000006,#00002d,#000057,#000084,#000046,#000099,#00007d,#00005b,#000079,#0000c0,#00003d,#000067,#0000a1,#000028,#000074,#00003c,#000069,#00003d,#000075,#000090,#000094,#000044,#00006f,#000059,#000071,#000074,#000045,#00000a,#000070,#00004e,#000033,#0000b0,#000070,#0000bc,#00009c,#000079,#00009d,#00009d,#00002b,#00002a,#000065,#00004d,#00000e,#00003f,#000039,#000064,#000086,#000053,#000083,#000094,#000098,#00005f,#00001d,#000094,#000020,#000070,#0000c2,#000042,#00007b,#000070,#000028,#0000b7,#0000c5,#000024,#00005a,#00006d,#00005c,#00006f,#000085,#0000e3,#0000dd,#00004c,#000058,#00008c,#00005e,#000028,#00003a,#000070,#000051,#0000ec,#000054,#00008f,#000073,#000075,#00005f,#000073,#000037,#00002e,#000023,#00002d,#000088,#000072,#00006f,#000031,#0000b6,#000074,#00007c,#000092,#000092,#0000a8,#000014,#00008e,#000052,#000074,#000022,#00008f,#000050,#000048,#00003c,#00008f,#00007a,#000056,#00002c,#000058,#00008e,#000074,#000069,#000063,#000073,#000084,#000055,#000069,#000074,#00005f,#000060,#000039,#00003c,#0000bf,#000091,#00002f,#000060,#000051,#00006c,#000064,#0000ac,#0000aa,#000066,#00008b,#000023,#000049,#000076,#000071,#00003c,#0000d2,#000087,#000074,#00004c,#0000a6,#000056,#000086,#000035,#00005b,#000063,#000027,#000073,#00006d,#00006d,#000069,#0000a1,#00004a,#000045,#000055,#000085,#000070,#0000ff,#00006b,#00005e,#000072,#0000aa,#0000cb,#00006e,#000077,#000069,#00001e,#000065,#00007f,#00008c,#0000a8,#000081,#000041,#000050,#0000b5,#0000a2,#0000e7,#0000a5,#000078,#0000ca,#000071,#0000ac,#000085,#00004a,#000087,#00009a,#000055,#00009f,#000090,#00007c,#00001e,#0000aa,#0000ae,#000087,#000078,#000058,#000067,#0000b7,#00005e,#00005e,#00005a,#00006f,#000087,#000094,#00004c,#000087,#000072,#0000a1,#0000fb,#00007f,#000071,#000046,#000067,#000089,#0000bb,#0000bc,#000061,#000084,#000000,#000081,#00006d,#000084,#000043,#000068,#00007b,#000061,#000067,#000098,#000085,#00002e,#000071,#00003b,#00001c,#000064,#000041,#0000a8,#00003d,#000059,#000082,#000088,#000032,#000080,#000037,#000044,#000074,#0000cd,#000084,#000080,#00004d,#000093,#000058,#00001a,#00004f,#0000db,#000080,#00009c,#0000b6,#000085,#00008c,#000040,#00006e,#00004e,#000085,#0000d1,#000077,#000053,#000047,#000088,#000068,#000090,#000080,#000086,#0000ae,#000098,#0000b5,#000063,#0000d7,#0000a6,#000035,#00004c,#000084,#00001b,#000047,#000047,#00007c,#000064,#00004f,#00007c,#00005d,#00005d,#000077,#000076,#0000c4,#0000ff,#000060,#000083,#000043,#0000af,#00005d,#000071,#000025,#0000b2,#00005f,#000064,#000036,#00004d,#000031,#00004c,#000075,#00002c,#00005b,#000085,#000083,#00003a,#00006f,#000080,#0000a7,#000043,#00005d,#00003f,#000085,#00009a,#000082,#00009b,#00002e,#000063,#000068,#0000a7,#000018,#000032,#00004c,#000069,#00006d,#00007d,#00004c,#00003c,#00002b,#000052,#000073,#000059,#0000b4,#0000d0,#000065,#00007f,#00007c,#0000b8,#000093,#00007d,#0000c1,#00007d,#000060,#00005b,#000034,#000035,#00005f,#00006a,#000061,#000078,#000096,#00007d,#00003a,#000055,#00005f,#0000c0,#00009b,#0000a7,#0000d8,#0000a2,#00007b,#00005c,#0000cf,#000058,#000099,#00004d,#000026,#00009c,#00009e,#000095,#000066,#00004b,#000064,#00007b,#00004f,#000088,#000090,#0000ae,#000089,#00004d,#000055,#00004c,#00005c,#000062,#00006f,#000074,#0000b8,#0000e7,#0000cb,#000068,#000059,#00007f,#0000a3,#000071,#00008c,#000077,#00005a,#000066,#000089,#00004d,#000085,#000053,#000029,#000077,#000056,#000086,#000065,#000059,#00007c,#000089,#00009c,#000073,#00007f,#00009c,#00005f,#0000b3,#000032,#00005d,#000086,#000087,#00006c,#00007d,#000099,#000077,#000071,#000043,#0000c3,#00007c,#00000d,#000000,#000061,#00003a,#000094,#000089,#000081,#00006f,#0000b1,#000054,#0000b1,#00006b,#0000ee,#0000ae,#0000bd,#00001f,#000017,#000047,#000049,#00001f,#000067,#00001e,#000039,#00006a,#000055,#000076,#000052,#0000c8,#0000a2,#00009e,#00008e,#000000,#000049,#0000a1,#00008b,#000060,#00006e,#0000c3,#000095,#000041,#000062,#000076,#000073,#00008d,#000062,#0000a6,#0000b5,#00008b,#000050,#000044,#00005c,#000038,#000079,#000028,#0000ba,#000017,#000006,#000026,#0000a2,#00008a,#000091,#000056,#000066,#000079,#000064,#000052,#000068,#000091,#0000ff,#000089,#000086,#00005a,#000071,#000067,#0000a9,#000056,#00008c,#000082,#000033,#000026,#000076,#00007f,#000033,#00005e,#000087,#00009d,#0000a6,#000048,#000072,#000042,#00005f,#0000ac,#00004e,#000071,#00002d,#0000aa,#000079,#000058,#00008e,#0000ca,#00009b,#00008f,#000020,#000054,#000063,#0000d1,#000061,#00009b,#000033,#000088,#00001c,#000077,#000093,#00006d,#000054,#00005b,#0000a2,#000099,#0000a1,#000058,#00008c,#000079,#000091,#00004b,#00008e,#000096,#00007d,#0000a8,#00002d,#00002f,#00008e,#000023,#000034,#000030,#000057,#000049,#000078,#000087,#0000a9,#000049,#000031,#000065,#00003b,#000000,#00002b,#00006a,#000074,#00009c,#000028,#000059,#0000c3,#00002e,#000067,#000068,#000084,#00006b,#0000c5,#0000b0,#00006b,#00007b,#000060,#000091,#00008c,#000080,#000035,#000073,#00008d,#00003b,#00006b,#000000,#000048,#000075,#00001c,#00006f,#0000ea,#0000ab,#00008a,#0000b5,#000097,#000051,#00007a,#0000ff,#00005f,#000086,#00008c,#000040,#000075,#0000d9,#0000b6,#0000ad,#000071,#000039,#00005a,#000097,#000075,#00003f,#000008,#000045,#000033,#0000be,#00009b);-webkit-mask-image:linear-gradient(180deg,#00000000 0px 4px,#00000000 4px 9px,#00000000 9px 13px,#00000000 13px 17px,#00000000 17px 22px,#00000000 22px 26px,#00000000 26px 30px,#00000000 30px 35px,#00000000 35px 39px,#00000000 39px 44px,#00000000 44px 48px,#00000000 48px 52px,#00000000 52px 57px,#00000000 57px 61px,#00000000 61px 65px,#00000000 65px 70px,#00000000 70px 74px,#00000000 74px 78px,#00000000 78px 83px,#00000000 83px 87px,#00000000 87px 92px,#00000000 92px 96px,#00000000 96px 100px,#00000000 100px 105px,#00000000 105px 109px,#00000000 109px 113px,#00000000 113px 118px,#00000000 118px 122px,#00000000 122px 126px,#00000000 126px 131px,#00000000 131px 135px,#00000000 135px 140px,#00000000 140px 144px,#00000000 144px 148px,#00000000 148px 153px,#00000000 153px 157px,#00000000 157px 161px,#00000000 161px 166px,#00000000 166px 170px,#00000000 170px 174px,#00000000 174px 179px,#00000000 179px 183px,#00000000 183px 188px,#00000000 188px 192px,#00000000 192px 196px,#00000000 196px 201px,#00000000 201px 205px,#00000000 205px 209px,#00000000 209px 214px,#00000000 214px 218px,#00000000 218px 222px,#00000000 222px 227px,#00000000 227px 231px,#00000000 231px 236px,#00000000 236px 240px,#00000000 240px 244px,#00000000 244px 249px,#00000000 249px 253px,#00000000 253px 257px,#00000000 257px 262px,#00000000 262px 266px,#00000000 266px 271px,#00000000 271px 275px,#00000000 275px 279px,#00000000 279px 284px,#00000000 284px 288px,#00000000 288px 292px,#00000000 292px 297px,#00000000 297px 301px,#00000090 301px 305px,#00000000 305px 310px,#00000000 310px 314px,#00000000 314px 319px,#00000000 319px 323px,#00000000 323px 327px,#00000000 327px 332px,#00000000 332px 336px,#00000000 336px 340px,#00000000 340px 345px,#00000000 345px 349px,#0000008b 349px 353px,#00000000 353px 358px,#0000008a 358px 362px,#00000000 362px 367px,#00000000 367px 371px,#00000000 371px 375px,#00000000 375px 380px,#00000000 380px 384px,#00000000 384px 388px,#00000086 388px 393px,#00000000 393px 397px,#00000000 397px 401px,#00000000 401px 406px,#00000000 406px 410px,#00000000 410px 415px,#00000000 415px 419px,#00000000 419px 425px,#00000000 425px 431px,#00000000 431px 437px,#00000000 437px 443px,#00000000 443px 449px,#00000000 449px 454px,#00000000 454px 460px,#00000000 460px 466px,#00000000 466px 472px,#00000000 472px 478px,#00000000 478px 484px,#00000000 484px 490px,#00000000 490px 496px,#00000000 496px 501px,#00000000 501px 507px,#0000007a 507px 513px,#00000000 513px 519px,#00000000 519px 525px,#00000000 525px 531px,#00000000 531px 537px,#00000000 537px 542px,#00000000 542px 548px,#00000077 548px 554px,#00000000 554px 560px,#00000000 560px 566px,#00000000 566px 572px,#00000000 572px 578px,#00000000 578px 584px,#00000000 584px 589px,#00000000 589px 595px,#00000000 595px 601px,#00000000 601px 607px);mask-image:linear-gradient(180deg,#00000000 0px 4px,#00000000 4px 9px,#00000000 9px 13px,#00000000 13px 17px,#00000000 17px 22px,#00000000 22px 26px,#00000000 26px 30px,#00000000 30px 35px,#00000000 35px 39px,#00000000 39px 44px,#00000000 44px 48px,#00000000 48px 52px,#00000000 52px 57px,#00000000 57px 61px,#00000000 61px 65px,#00000000 65px 70px,#00000000 70px 74px,#00000000 74px 78px,#00000000 78px 83px,#00000000 83px 87px,#00000000 87px 92px,#00000000 92px 96px,#00000000 96px 100px,#00000000 100px 105px,#00000000 105px 109px,#00000000 109px 113px,#00000000 113px 118px,#00000000 118px 122px,#00000000 122px 126px,#00000000 126px 131px,#00000000 131px 135px,#00000000 135px 140px,#00000000 140px 144px,#00000000 144px 148px,#00000000 148px 153px,#00000000 153px 157px,#00000000 157px 161px,#00000000 161px 166px,#00000000 166px 170px,#00000000 170px 174px,#00000000 174px 179px,#00000000 179px 183px,#00000000 183px 188px,#00000000 188px 192px,#00000000 192px 196px,#00000000 196px 201px,#00000000 201px 205px,#00000000 205px 209px,#00000000 209px 214px,#00000000 214px 218px,#00000000 218px 222px,#00000000 222px 227px,#00000000 227px 231px,#00000000 231px 236px,#00000000 236px 240px,#00000000 240px 244px,#00000000 244px 249px,#00000000 249px 253px,#00000000 253px 257px,#00000000 257px 262px,#00000000 262px 266px,#00000000 266px 271px,#00000000 271px 275px,#00000000 275px 279px,#00000000 279px 284px,#00000000 284px 288px,#00000000 288px 292px,#00000000 292px 297px,#00000000 297px 301px,#00000090 301px 305px,#00000000 305px 310px,#00000000 310px 314px,#00000000 314px 319px,#00000000 319px 323px,#00000000 323px 327px,#00000000 327px 332px,#00000000 332px 336px,#00000000 336px 340px,#00000000 340px 345px,#00000000 345px 349px,#0000008b 349px 353px,#00000000 353px 358px,#0000008a 358px 362px,#00000000 362px 367px,#00000000 367px 371px,#00000000 371px 375px,#00000000 375px 380px,#00000000 380px 384px,#00000000 384px 388px,#00000086 388px 393px,#00000000 393px 397px,#00000000 397px 401px,#00000000 401px 406px,#00000000 406px 410px,#00000000 410px 415px,#00000000 415px 419px,#00000000 419px 425px,#00000000 425px 431px,#00000000 431px 437px,#00000000 437px 443px,#00000000 443px 449px,#00000000 449px 454px,#00000000 454px 460px,#00000000 460px 466px,#00000000 466px 472px,#00000000 472px 478px,#00000000 478px 484px,#00000000 484px 490px,#00000000 490px 496px,#00000000 496px 501px,#00000000 501px 507px,#0000007a 507px 513px,#00000000 513px 519px,#00000000 519px 525px,#00000000 525px 531px,#00000000 531px 537px,#00000000 537px 542px,#00000000 542px 548px,#00000077 548px 554px,#00000000 554px 560px,#00000000 560px 566px,#00000000 566px 572px,#00000000 572px 578px,#00000000 578px 584px,#00000000 584px 589px,#00000000 589px 595px,#00000000 595px 601px,#00000000 601px 607px)}
.t4{background:linear-gradient(90deg,#000078,#000041,#00005c,#00004d,#000063,#00008a,#0000c9,#000063,#000058,#000076,#0000a6,#00006c,#000076,#00008f,#00004b,#0000af,#00007c,#0000ae,#00009e,#000037,#000096,#00007f,#000041,#00006f,#0000a2,#000045,#00004a,#00006e,#0000e7,#0000ac,#000054,#00007c,#00008b,#00007a,#00004f,#0000ca,#000081,#000088,#000018,#00008c,#00006d,#0000ad,#000037,#00007d,#000098,#000045,#000046,#00004c,#000014,#000088,#000024,#0000a0,#00009d,#00007a,#00001f,#000044,#0000ef,#000067,#0000a7,#000085,#00005d,#00007a,#000068,#000031,#000081,#000074,#00003d,#00009e,#000075,#000067,#00005c,#000080,#000080,#00005b,#000067,#000097,#000070,#00006a,#000044,#000028,#000091,#000019,#00008a,#00009f,#000073,#000075,#000038,#00005d,#000081,#000074,#000034,#0000c3,#000079,#00006b,#000023,#000041,#00006f,#00005b,#00008e,#000097,#000092,#000098,#00004b,#00006e,#000085,#000091,#0000b8,#0000f4,#000093,#0000de,#0000ca,#000050,#00006f,#000075,#00009e,#000062,#0000bc,#0000c9,#000080,#00001a,#000020,#000075,#000062,#0000a7,#000055,#00004c,#000028,#0000cf,#0000c7,#00008e,#0000e8,#0000c1,#000064,#000001,#000060,#0000d3,#0000aa,#00007e,#00009b,#00009f,#000056,#00009f,#000050,#00005b,#000015,#00002a,#0000b3,#0000a5,#000092,#00006a,#00008e,#0000a7,#000055,#000031,#000095,#000058,#000078,#000054,#000023,#000066,#000041,#000053,#000062,#000026,#000074,#000075,#000062,#000094,#000060,#000057,#0000d4,#000089,#0000aa,#000087,#00005f,#000073,#00007b,#000063,#000084,#000096,#000081,#00003d,#000036,#000073,#00004b,#000029,#000047,#00003b,#00007f,#000054,#000042,#0000b4,#000015,#0000af,#000077,#00005e,#00008b,#0000ad,#0000a7,#00007b,#000073,#0000bb,#000065,#000030,#000063,#000082,#000086,#00004b,#000008,#00004c,#00005c,#000087,#0000bd,#0000a3,#000065,#00004a,#000040,#000073,#000060,#000048,#0000cf,#000017,#00003a,#00008c,#000030,#0000a7,#000068,#00003e,#000084,#00004f,#00005b,#00000d,#000055,#000056,#000041,#000007,#000063,#000046,#00008f,#000064,#000063,#00007c,#000041,#00006d,#00003f,#00006d,#000082,#000070,#0000a4,#0000c2,#0000aa,#0000ee,#000077,#0000d8,#000087,#000096,#00007d,#000031,#000052,#000092,#0000ff,#0000bd,#0000f2,#00004f,#000068,#0000e7,#000056,#00004d,#000033,#0000d1,#000092,#0000c7,#00005d,#000067,#000065,#000051,#000060,#000089,#000004,#00000e,#00008d,#00004c,#000075,#0000a1,#00006e,#000078,#0000f0,#000050,#000016,#00008f,#0000be,#0000bd,#00005a,#000044,#00004e,#000090,#00002f,#0000d8,#00006e,#00006f,#000026,#000054,#000057,#0000bf,#00006f,#000070,#000030,#000068,#00009b,#0000a8,#000080,#000049,#000035,#0000a9,#000008,#000057,#000055,#00004d,#00002e,#00008c,#000072,#00006d,#00004c,#0000b0,#000082,#000094,#00008e,#00009f,#00008d,#000084,#00001a,#00006f,#0000be,#0000a0,#000070,#0000b2,#00009f,#0000ab,#000085,#0000b0,#000008,#000064,#000082,#00006d,#0000b6,#00003b,#000050,#000041,#00002b,#0000d8,#0000fc,#00006d,#000051,#000052,#000098,#0000cb,#00009a,#00005a,#00007a,#00006a,#00007e,#0000cc,#00007d,#0000a0,#000065,#00006e,#0000bd,#000054,#00003f,#000091,#0000a8,#000016,#00001d,#0000ab,#000072,#0000c1,#0000a5,#00006d,#000089,#000071,#0000b1,#00005f,#000097,#000011,#00001d,#000088,#000099,#0000aa,#00006c,#000034,#0000cf,#0000a5,#00005e,#000048,#000057,#00005a,#000079,#00007b,#000039,#0000aa,#00008a,#0000c4,#000097,#000033,#000084,#000060,#0000a8,#000080,#000066,#000086,#000050,#00002b,#000090,#0000d5,#000099,#00000e,#00005d,#000027,#0000e7,#000076,#000062,#000024,#00005b,#0000f3,#0000a9,#00003b,#000095,#00008b,#000009,#000084,#000023,#000050,#000068,#000041,#000048,#00005b,#000077,#00005d,#000076,#000024,#000058,#0000c7,#0000b0,#000035,#0000cf,#000099,#000093,#0000aa,#00008b,#0000ea,#000053,#000040,#000093,#00009d,#00006d,#00005f,#0000a7,#000064,#000097,#00009d,#00002e,#000034,#0000f3,#00009c,#000027,#000036,#00009a,#0000b0,#00004e,#000067,#0000a5,#000094,#000039,#000081,#00005c,#00008a,#00007f,#000061,#000040,#000085,#000054,#00006f,#000073,#00006e,#00008d,#0000ba,#000075,#0000e5,#0000a7,#000042,#0000a2,#00004c,#000096,#000078,#0000c0,#000068,#0000a9,#00002e,#000058,#000024,#00005b,#000032,#00007f,#000055,#000095,#000068,#000047,#000087,#00004e,#000098,#0000b1,#0000df,#000018,#000065,#000000,#0000d4,#000058,#000074,#0000bb,#000022,#00005c,#00005e,#00004b,#000038,#000058,#000066,#0000bc,#00004f,#000078,#000091,#0000a8,#000093,#00009a,#00005d,#000081,#000084,#000035,#00005e,#000046,#000090,#000039,#00009f,#00009d,#000089,#0000ac,#0000c2,#00008a,#0000a3,#00004f,#00005d,#000068,#00005e,#00008f,#000085,#0000a3,#000055,#000047,#000037,#00004b,#000017,#00003f,#000067,#0000e2,#0000c1,#00007e,#0000d2,#00008a,#000068,#000078,#0000ad,#00004c,#0000e3,#000063,#000059,#0000da,#000084,#00005b,#0000a5,#000055,#00005c,#000078,#000089,#0000a7,#00009d,#0000b8,#0000d1,#0000e8,#00008a,#000090,#0000b9,#000023,#000016,#000013,#00008b,#0000a7,#0000cb,#00007e,#000056,#00005a,#0000a9,#00007d,#00005a,#000049,#000087,#0000c9,#000066,#00005b,#0000db,#000097,#0000bb,#000097,#00005a,#000034,#000020,#000051,#00008d,#0000e6,#000086,#000069,#000094,#000055,#000086,#0000ff,#000057,#00005c,#000079,#00005f,#000061,#000057,#00006d,#00005b,#00005e,#00005c,#000093,#000098,#000065,#00002f,#000075,#000097,#000047,#000058,#00006a,#00007f,#000093,#000092,#0000ce,#00009a,#0000c5,#0000aa,#0000b6,#00006b,#000052,#000048,#00002b,#000081,#000046,#000059,#000060,#000073,#00003e,#000036,#000039,#000075,#0000a5,#0000c5,#000095,#000063,#0000a1,#000078,#00008e,#000071,#000054,#00007d,#00003f,#000073,#00004f,#0000a9,#0000a8,#000012,#00003f,#000062,#00003e,#0000fd,#0000bc,#000079,#00002e,#000069,#000077,#0000a2,#0000d5,#00001d,#00002c,#000077,#00007e,#00005a,#000084,#00006e,#00009a,#000098,#00009e,#000022,#00003c,#0000d1,#0000fa,#00007d,#000092,#000037,#00004b,#000042,#00005f,#000079,#0000b4,#0000a8,#00005e,#000066,#00008e,#00005a,#00001f,#00004d,#000097,#000083,#00009c,#000054,#000080,#0000aa,#000069,#0000cf,#0000ab,#00008b,#00003e,#000076,#0000a8,#000077,#000082,#0000aa,#0000a2,#000093,#000048,#000077,#000003,#000070,#00002d,#000069,#000080,#000090,#000044,#0000cd,#00007e,#000079,#000076,#000031,#000069,#000094,#000066,#00005c,#0000c2,#000083,#0000d5,#000065,#0000cb,#00008a,#0000dd,#0000a3,#000097,#000079,#000013,#000000,#000000,#00003e,#000090,#00004a,#000078,#0000c1,#00008d,#00002e,#000037,#00006d,#0000b3,#00009e,#00002c,#00005d,#00006a,#0000d1,#000064,#00001c,#00004f,#00003e,#000000,#00008c,#00005a,#00003e,#0000ff,#0000ed,#00007c,#000036,#000057,#000089,#00007b,#000078,#00002f,#000096,#00006f,#00006b,#000077,#000039,#0000d9,#000089,#00002b,#00005f,#0000ff,#000094,#00009f,#000079,#000084,#000000,#000029,#00008d,#0000a0,#00005e,#0000bb,#000081,#00006c,#000066,#0000ff,#0000a6,#000060,#000018,#000043,#00008d,#000074,#000098,#000065,#00003b,#00008c,#0000b5,#00007f);-webkit-mask-image:linear-gradient(180deg,#00000000 0px 4px,#00000000 4px 9px,#00000000 9px 13px,#00000000 13px 17px,#00000000 17px 22px,#00000000 22px 26px,#00000000 26px 30px,#00000000 30px 35px,#00000000 35px 39px,#00000000 39px 44px,#00000000 44px 48px,#00000000 48px 52px,#00000000 52px 57px,#00000000 57px 61px,#00000000 61px 65px,#00000000 65px 70px,#00000000 70px 74px,#00000000 74px 78px,#00000000 78px 83px,#00000000 83px 87px,#00000000 87px 92px,#00000000 92px 96px,#00000000 96px 100px,#00000000 100px 105px,#00000000 105px 109px,#00000000 109px 113px,#00000000 113px 118px,#00000000 118px 122px,#00000000 122px 126px,#00000000 126px 131px,#00000000 131px 135px,#00000000 135px 140px,#00000000 140px 144px,#00000000 144px 148px,#00000000 148px 153px,#00000000 153px 157px,#00000000 157px 161px,#00000000 161px 166px,#00000000 166px 170px,#00000000 170px 174px,#00000000 174px 179px,#00000000 179px 183px,#00000000 183px 188px,#00000000 188px 192px,#00000000 192px 196px,#00000000 196px 201px,#00000000 201px 205px,#00000000 205px 209px,#00000000 209px 214px,#00000000 214px 218px,#00000000 218px 222px,#00000000 222px 227px,#00000000 227px 231px,#00000000 231px 236px,#00000000 236px 240px,#00000000 240px 244px,#00000000 244px 249px,#00000000 249px 253px,#00000000 253px 257px,#00000000 257px 262px,#00000000 262px 266px,#00000000 266px 271px,#00000000 271px 275px,#00000000 275px 279px,#00000000 279px 284px,#00000000 284px 288px,#00000000 288px 292px,#00000000 292px 297px,#00000000 297px 301px,#00000000 301px 305px,#00000000 305px 310px,#00000000 310px 314px,#00000000 314px 319px,#00000000 319px 323px,#00000000 323px 327px,#00000000 327px 332px,#00000000 332px 336px,#00000000 336px 340px,#0000008c 340px 345px,#00000000 345px 349px,#00000000 349px 353px,#00000000 353px 358px,#00000000 358px 362px,#00000000 362px 367px,#00000000 367px 371px,#00000089 371px 375px,#00000000 375px 380px,#00000000 380px 384px,#00000000 384px 388px,#00000000 388px 393px,#00000000 393px 397px,#00000000 397px 401px,#00000000 401px 406px,#00000000 406px 410px,#00000000 410px 415px,#00000000 415px 419px,#00000000 419px 425px,#00000000 425px 431px,#00000000 431px 437px,#00000000 437px 443px,#00000000 443px 449px,#00000000 449px 454px,#00000000 454px 460px,#00000000 460px 466px,#00000000 466px 472px,#0000007d 472px 478px,#00000000 478px 484px,#00000000 484px 490px,#00000000 490px 496px,#00000000 496px 501px,#00000000 501px 507px,#00000000 507px 513px,#00000000 513px 519px,#00000000 519px 525px,#00000000 525px 531px,#00000000 531px 537px,#00000000 537px 542px,#00000000 542px 548px,#00000000 548px 554px,#00000000 554px 560px,#00000000 560px 566px,#00000000 566px 572px,#00000000 572px 578px,#00000000 578px 584px,#00000000 584px 589px,#00000000 589px 595px,#00000000 595px 601px,#00000000 601px 607px);mask-image:linear-gradient(180deg,#00000000 0px 4px,#00000000 4px 9px,#00000000 9px 13px,#00000000 13px 17px,#00000000 17px 22px,#00000000 22px 26px,#00000000 26px 30px,#00000000 30px 35px,#00000000 35px 39px,#00000000 39px 44px,#00000000 44px 48px,#00000000 48px 52px,#00000000 52px 57px,#00000000 57px 61px,#00000000 61px 65px,#00000000 65px 70px,#00000000 70px 74px,#00000000 74px 78px,#00000000 78px 83px,#00000000 83px 87px,#00000000 87px 92px,#00000000 92px 96px,#00000000 96px 100px,#00000000 100px 105px,#00000000 105px 109px,#00000000 109px 113px,#00000000 113px 118px,#00000000 118px 122px,#00000000 122px 126px,#00000000 126px 131px,#00000000 131px 135px,#00000000 135px 140px,#00000000 140px 144px,#00000000 144px 148px,#00000000 148px 153px,#00000000 153px 157px,#00000000 157px 161px,#00000000 161px 166px,#00000000 166px 170px,#00000000 170px 174px,#00000000 174px 179px,#00000000 179px 183px,#00000000 183px 188px,#00000000 188px 192px,#00000000 192px 196px,#00000000 196px 201px,#00000000 201px 205px,#00000000 205px 209px,#00000000 209px 214px,#00000000 214px 218px,#00000000 218px 222px,#00000000 222px 227px,#00000000 227px 231px,#00000000 231px 236px,#00000000 236px 240px,#00000000 240px 244px,#00000000 244px 249px,#00000000 249px 253px,#00000000 253px 257px,#00000000 257px 262px,#00000000 262px 266px,#00000000 266px 271px,#00000000 271px 275px,#00000000 275px 279px,#00000000 279px 284px,#00000000 284px 288px,#00000000 288px 292px,#00000000 292px 297px,#00000000 297px 301px,#00000000 301px 305px,#00000000 305px 310px,#00000000 310px 314px,#00000000 314px 319px,#00000000 319px 323px,#00000000 323px 327px,#00000000 327px 332px,#00000000 332px 336px,#00000000 336px 340px,#0000008c 340px 345px,#00000000 345px 349px,#00000000 349px 353px,#00000000 353px 358px,#00000000 358px 362px,#00000000 362px 367px,#00000000 367px 371px,#00000089 371px 375px,#00000000 375px 380px,#00000000 380px 384px,#00000000 384px 388px,#00000000 388px 393px,#00000000 393px 397px,#00000000 397px 401px,#00000000 401px 406px,#00000000 406px 410px,#00000000 410px 415px,#00000000 415px 419px,#00000000 419px 425px,#00000000 425px 431px,#00000000 431px 437px,#00000000 437px 443px,#00000000 443px 449px,#00000000 449px 454px,#00000000 454px 460px,#00000000 460px 466px,#00000000 466px 472px,#0000007d 472px 478px,#00000000 478px 484px,#00000000 484px 490px,#00000000 490px 496px,#00000000 496px 501px,#00000000 501px 507px,#00000000 507px 513px,#00000000 513px 519px,#00000000 519px 525px,#00000000 525px 531px,#00000000 531px 537px,#00000000 537px 542px,#00000000 542px 548px,#00000000 548px 554px,#00000000 554px 560px,#00000000 560px 566px,#00000000 566px 572px,#00000000 572px 578px,#00000000 578px 584px,#00000000 584px 589px,#00000000 589px 595px,#00000000 595px 601px,#00000000 601px 607px)}
.t5{background:linear-gradient(90deg,#000085,#000084,#00003c,#000043,#00007a,#000058,#000030,#000098,#00005f,#000079,#0000a1,#0000ee,#000093,#00008a,#000027,#00009c,#00005a,#00008f,#0000f7,#00004e,#000050,#00006b,#00008f,#000060,#000076,#00009c,#0000b5,#0000aa,#0000b1,#00006e,#00006d,#000091,#000043,#00005f,#00007b,#0000c5,#00004d,#000084,#000086,#000067,#00009b,#000087,#00004e,#000099,#0000b1,#000039,#000066,#0000cb,#000024,#00003f,#0000ba,#0000be,#0000e3,#000083,#000087,#00003e,#00007f,#00006d,#000050,#000044,#000047,#000060,#000013,#00004a,#00007e,#00001a,#000036,#0000f0,#000079,#0000a7,#000088,#000045,#00003a,#00006c,#000061,#0000ff,#0000b8,#000073,#000028,#00007c,#0000c1,#00008c,#0000ab,#0000a5,#00008f,#00007c,#00003f,#00006e,#00004f,#00006f,#000043,#00009c,#000088,#00004e,#000044,#00005d,#00005d,#000076,#0000a7,#0000c7,#00008e,#00007c,#00002b,#000083,#000064,#000080,#000058,#0000c9,#0000a6,#00009b,#0000b5,#000097,#00004a,#00007c,#0000c7,#0000d9,#0000b2,#00005d,#00008f,#00009c,#00005c,#000090,#000084,#000098,#0000a1,#0000a4,#00005b,#00004d,#0000a2,#0000d4,#0000b1,#00007d,#00003a,#00004e,#00006f,#0000bb,#000086,#000091,#0000b1,#00006a,#000063,#000091,#0000b0,#0000d3,#00003e,#000076,#00007e,#00007a,#000079,#00008f,#0000e1,#00003b,#00004f,#000015,#000072,#000095,#0000c3,#0000a7,#00006e,#00004c,#000087,#00009b,#0000d4,#000097,#00005d,#00009c,#0000c0,#0000e2,#0000d5,#0000a7,#0000a8,#000069,#00004e,#00007b,#000046,#000045,#0000a9,#000078,#00008d,#000084,#000077,#000052,#000063,#0000bc,#0000bb,#000056,#000064,#0000b1,#0000ad,#00006a,#00006d,#00008d,#00007a,#000038,#000056,#00004b,#000091,#0000c9,#000070,#000049,#0000b4,#0000ff,#0000c9,#00007b,#00007c,#00003d,#00003c,#000034,#000020,#000071,#00004f,#000076,#0000d2,#00004e,#000099,#000075,#0000ff,#00006d,#00004b,#00001b,#000082,#00004f,#000050,#0000dc,#000089,#0000b1,#00004e,#00008d,#00008c,#00006c,#000083,#00005e,#00007f,#0000cd,#000043,#000033,#00009d,#000060,#0000c6,#000053,#000098,#0000c8,#000050,#00004e,#00007b,#00005e,#000051,#0000b4,#000091,#0000a4,#00007d,#000043,#000062,#0000ff,#0000be,#000055,#00008f,#000082,#00004f,#00007a,#000073,#0000e1,#0000d8,#00006b,#00006b,#000086,#000093,#00008d,#0000bb,#00007c,#0000a8,#0000ac,#00008c,#00009f,#0000ac,#000049,#00005f,#000099,#00006a,#000069,#00009a,#000032,#00007e,#0000d2,#00005c,#00007a,#0000f5,#000076,#000096,#000084,#0000ab,#0000d1,#000034,#00009c,#000063,#000070,#000033,#0000ac,#000018,#00007c,#000076,#0000ca,#000082,#0000a4,#00006f,#0000ba,#000079,#0000a9,#0000b7,#000093,#0000ba,#0000b1,#00005e,#000068,#00007e,#000088,#000049,#00008d,#000036,#00009c,#00009d,#000052,#0000a8,#000042,#00006d,#000092,#0000a1,#00007d,#000093,#00007c,#00001b,#00008a,#0000a4,#00007c,#00002a,#0000f1,#00006c,#000088,#000077,#0000b6,#00004b,#000064,#0000b7,#000097,#0000bb,#000099,#000085,#000076,#000048,#000092,#0000b4,#000093,#00006d,#000060,#000053,#000059,#0000c6,#000072,#000072,#000070,#00009e,#0000c8,#000045,#000078,#000049,#000073,#0000bb,#000058,#000049,#000014,#0000b1,#000054,#00003d,#00008a,#000095,#000083,#00008d,#0000c7,#000088,#000052,#000092,#000071,#00004c,#0000a4,#000070,#00006c,#0000c8,#0000bd,#000088,#000080,#0000b9,#0000e2,#0000c9,#000063,#000097,#000078,#000091,#00007c,#0000ab,#000094,#00008a,#000083,#000084,#000081,#0000c5,#000034,#000076,#000072,#00007a,#000084,#00004c,#00008f,#0000a4,#0000b7,#0000ae,#00008b,#00009b,#000079,#000082,#000093,#00008d,#00004e,#00003a,#00007c,#00005b,#00005c,#00006d,#00006c,#000029,#000082,#000025,#000060,#00003a,#000002,#000063,#000053,#000085,#000067,#000049,#000049,#0000b1,#000087,#000045,#000070,#0000e4,#00009c,#00008f,#000073,#000098,#000069,#00005f,#000071,#00009a,#000097,#00005d,#00007a,#000085,#00007f,#000089,#000072,#0000ba,#000068,#0000b3,#000067,#00003f,#000025,#000081,#000074,#000077,#000077,#00005f,#0000bf,#00007d,#000080,#000074,#0000cc,#0000cc,#000045,#00004d,#000096,#000088,#000066,#000037,#000020,#00007b,#00008f,#00007a,#000094,#0000a2,#000055,#00006e,#000083,#0000c9,#00004c,#000054,#00003d,#0000d8,#000068,#00006b,#000064,#0000b4,#0000af,#0000b2,#000042,#0000c2,#00006d,#000078,#0000f0,#000043,#00009c,#0000e2,#00009d,#000023,#000074,#00006c,#0000d3,#0000c5,#00009a,#000067,#00003f,#000021,#00001c,#000060,#00006a,#000094,#000074,#000095,#00004d,#00002c,#000072,#0000b8,#00006e,#00004f,#000095,#000078,#00007f,#000082,#000093,#000088,#0000ac,#00005a,#0000ca,#000076,#000076,#0000a9,#000085,#000073,#0000bd,#00007a,#0000d3,#00009b,#00004b,#000098,#00007a,#000076,#00007b,#00007a,#000085,#0000c8,#000078,#00005e,#0000a4,#0000e7,#0000b2,#000095,#0000b6,#0000a6,#000062,#000052,#0000b3,#0000df,#00009b,#000029,#00003a,#000067,#00005d,#00006c,#000061,#0000a3,#000050,#000092,#000087,#00009d,#0000d3,#0000a4,#00006b,#000087,#000082,#000048,#000045,#000050,#000086,#00007d,#00005f,#000090,#000078,#00009b,#000055,#00005c,#0000b1,#000077,#00007c,#000062,#00007a,#000073,#00001c,#000076,#0000a5,#00004b,#000065,#000077,#00009d,#0000a2,#000051,#00007f,#00007f,#000084,#00008f,#000068,#0000b9,#000091,#000059,#0000ab,#00007b,#00008c,#000087,#000097,#000096,#0000ee,#000086,#000033,#00007d,#0000a7,#0000bf,#0000b0,#000063,#000035,#0000a8,#000073,#000067,#000095,#00008a,#00008e,#000085,#000071,#0000d1,#000053,#0000f1,#000083,#0000c6,#00001f,#000036,#000036,#000016,#000045,#00005a,#000064,#000086,#00003d,#00004f,#000058,#000027,#00007a,#00009b,#0000b6,#0000bd,#000024,#00009c,#000074,#000079,#00007e,#000001,#00003d,#000039,#00006e,#000048,#000067,#000072,#0000aa,#000085,#000087,#000085,#0000d2,#000074,#000073,#00006a,#00005c,#000069,#00006d,#0000d0,#000000,#000033,#00004f,#000071,#000065,#0000ac,#00002a,#000076,#0000e8,#0000bb,#000044,#00005d,#0000ab,#0000ff,#000066,#00008b,#00009b,#000084,#000068,#000082,#000089,#00009c,#000096,#000042,#000050,#0000b2,#00008e,#000048,#000045,#000075,#00004a,#000081,#0000a2,#000098,#0000a3,#00003f,#000086,#00008f,#0000be,#00004c,#000070,#000068,#0000a8,#000083,#0000b1,#000065,#0000aa,#00009f,#000043,#000003,#000070,#0000a8,#0000ae,#00008a,#0000f8,#00007f,#0000a5,#00004b,#000078,#000058,#00006a,#0000c5,#00008a,#0000a1,#000091,#000012,#000082,#00008d,#000081,#000082,#0000ad,#0000b3,#0000a8,#000061,#00006b,#000039,#000000,#000000,#000000,#000060,#00009a,#00005b,#0000a9,#0000d6,#00002c,#000016,#000096,#000084,#00007b,#000033,#0000c7,#00008a,#00009a,#000051,#0000ae,#000088,#00001b,#000032,#000043,#000083,#0000b2,#0000b9,#000069,#000090,#000061,#0000b0,#0000e3,#000071,#000070,#000041,#00005c,#000048,#000063,#00008c,#00002c,#0000a4,#00006d,#000000,#00004f,#0000e2,#00008d,#000078,#0000c0,#0000e5,#0000a7,#00009c,#000096,#00005b,#0000a6,#000087,#00004e,#000078,#000096,#000081,#000071,#0000bd,#0000bd,#00007e,#0000a7,#000089,#000084,#00008f,#000068,#000062,#0000d2,#000063);-webkit-mask-image:linear-gradient(180deg,#00000000 0px 4px,#00000000 4px 9px,#00000000 9px 13px,#00000000 13px 17px,#00000000 17px 22px,#00000000 22px 26px,#00000000 26px 30px,#00000000 30px 35px,#00000000 35px 39px,#00000000 39px 44px,#00000000 44px 48px,#00000000 48px 52px,#00000000 52px 57px,#00000000 57px 61px,#00000000 61px 65px,#00000000 65px 70px,#00000000 70px 74px,#00000000 74px 78px,#00000000 78px 83px,#00000000 83px 87px,#00000000 87px 92px,#00000000 92px 96px,#00000000 96px 100px,#00000000 100px 105px,#00000000 105px 109px,#00000000 109px 113px,#00000000 113px 118px,#00000000 118px 122px,#00000000 122px 126px,#00000000 126px 131px,#00000000 131px 135px,#00000000 135px 140px,#00000000 140px 144px,#00000000 144px 148px,#00000000 148px 153px,#00000000 153px 157px,#00000000 157px 161px,#00000000 161px 166px,#00000000 166px 170px,#00000000 170px 174px,#00000000 174px 179px,#00000000 179px 183px,#00000000 183px 188px,#00000000 188px 192px,#00000000 192px 196px,#00000000 196px 201px,#00000000 201px 205px,#00000000 205px 209px,#00000000 209px 214px,#00000000 214px 218px,#00000000 218px 222px,#00000000 222px 227px,#00000000 227px 231px,#00000000 231px 236px,#00000000 236px 240px,#00000000 240px 244px,#00000000 244px 249px,#00000000 249px 253px,#00000000 253px 257px,#00000000 257px 262px,#00000000 262px 266px,#00000000 266px 271px,#00000000 271px 275px,#00000000 275px 279px,#00000000 279px 284px,#00000000 284px 288px,#00000000 288px 292px,#00000000 292px 297px,#00000000 297px 301px,#00000000 301px 305px,#00000000 305px 310px,#00000000 310px 314px,#00000000 314px 319px,#00000000 319px 323px,#00000000 323px 327px,#00000000 327px 332px,#00000000 332px 336px,#00000000 336px 340px,#00000000 340px 345px,#00000000 345px 349px,#00000000 349px 353px,#00000000 353px 358px,#00000000 358px 362px,#00000000 362px 367px,#00000000 367px 371px,#00000000 371px 375px,#00000000 375px 380px,#00000000 380px 384px,#00000000 384px 388px,#00000000 388px 393px,#00000000 393px 397px,#00000000 397px 401px,#00000000 401px 406px,#00000000 406px 410px,#00000000 410px 415px,#00000000 415px 419px,#00000000 419px 425px,#00000000 425px 431px,#00000000 431px 437px,#00000000 437px 443px,#00000000 443px 449px,#00000000 449px 454px,#00000000 454px 460px,#00000000 460px 466px,#00000000 466px 472px,#00000000 472px 478px,#00000000 478px 484px,#0000007c 484px 490px,#00000000 490px 496px,#00000000 496px 501px,#00000000 501px 507px,#00000000 507px 513px,#00000000 513px 519px,#00000000 519px 525px,#00000000 525px 531px,#00000000 531px 537px,#00000000 537px 542px,#00000000 542px 548px,#00000000 548px 554px,#00000077 554px 560px,#00000000 560px 566px,#00000000 566px 572px,#00000000 572px 578px,#00000000 578px 584px,#00000000 584px 589px,#00000000 589px 595px,#00000000 595px 601px,#00000000 601px 607px);mask-image:linear-gradient(180deg,#00000000 0px 4px,#00000000 4px 9px,#00000000 9px 13px,#00000000 13px 17px,#00000000 17px 22px,#00000000 22px 26px,#00000000 26px 30px,#00000000 30px 35px,#00000000 35px 39px,#00000000 39px 44px,#00000000 44px 48px,#00000000 48px 52px,#00000000 52px 57px,#00000000 57px 61px,#00000000 61px 65px,#00000000 65px 70px,#00000000 70px 74px,#00000000 74px 78px,#00000000 78px 83px,#00000000 83px 87px,#00000000 87px 92px,#00000000 92px 96px,#00000000 96px 100px,#00000000 100px 105px,#00000000 105px 109px,#00000000 109px 113px,#00000000 113px 118px,#00000000 118px 122px,#00000000 122px 126px,#00000000 126px 131px,#00000000 131px 135px,#00000000 135px 140px,#00000000 140px 144px,#00000000 144px 148px,#00000000 148px 153px,#00000000 153px 157px,#00000000 157px 161px,#00000000 161px 166px,#00000000 166px 170px,#00000000 170px 174px,#00000000 174px 179px,#00000000 179px 183px,#00000000 183px 188px,#00000000 188px 192px,#00000000 192px 196px,#00000000 196px 201px,#00000000 201px 205px,#00000000 205px 209px,#00000000 209px 214px,#00000000 214px 218px,#00000000 218px 222px,#00000000 222px 227px,#00000000 227px 231px,#00000000 231px 236px,#00000000 236px 240px,#00000000 240px 244px,#00000000 244px 249px,#00000000 249px 253px,#00000000 253px 257px,#00000000 257px 262px,#00000000 262px 266px,#00000000 266px 271px,#00000000 271px 275px,#00000000 275px 279px,#00000000 279px 284px,#00000000 284px 288px,#00000000 288px 292px,#00000000 292px 297px,#00000000 297px 301px,#00000000 301px 305px,#00000000 305px 310px,#00000000 310px 314px,#00000000 314px 319px,#00000000 319px 323px,#00000000 323px 327px,#00000000 327px 332px,#00000000 332px 336px,#00000000 336px 340px,#00000000 340px 345px,#00000000 345px 349px,#00000000 349px 353px,#00000000 353px 358px,#00000000 358px 362px,#00000000 362px 367px,#00000000 367px 371px,#00000000 371px 375px,#00000000 375px 380px,#00000000 380px 384px,#00000000 384px 388px,#00000000 388px 393px,#00000000 393px 397px,#00000000 397px 401px,#00000000 401px 406px,#00000000 406px 410px,#00000000 410px 415px,#00000000 415px 419px,#00000000 419px 425px,#00000000 425px 431px,#00000000 431px 437px,#00000000 437px 443px,#00000000 443px 449px,#00000000 449px 454px,#00000000 454px 460px,#00000000 460px 466px,#00000000 466px 472px,#00000000 472px 478px,#00000000 478px 484px,#0000007c 484px 490px,#00000000 490px 496px,#00000000 496px 501px,#00000000 501px 507px,#00000000 507px 513px,#00000000 513px 519px,#00000000 519px 525px,#00000000 525px 531px,#00000000 531px 537px,#00000000 537px 542px,#00000000 542px 548px,#00000000 548px 554px,#00000077 554px 560px,#00000000 560px 566px,#00000000 566px 572px,#00000000 572px 578px,#00000000 578px 584px,#00000000 584px 589px,#00000000 589px 595px,#00000000 595px 601px,#00000000 601px 607px)}
.t6{background:linear-gradient(90deg,#0000fe,#00004b,#000058,#00004b,#000037,#000043,#000059,#00008a,#0000c3,#000076,#000039,#000053,#000093,#00003b,#00003a,#000038,#00008b,#0000b2,#0000b6,#000031,#000037,#000065,#000068,#0000a2,#0000b4,#000089,#0000b3,#000084,#000093,#000046,#00004a,#000063,#000060,#000056,#0000a2,#00005f,#000085,#0000b4,#000048,#000073,#000086,#00008a,#00007f,#00004b,#000072,#000065,#00006b,#000043,#000026,#000023,#00002e,#0000a3,#000056,#0000a0,#00007a,#000046,#0000a1,#00007e,#000040,#000054,#000056,#000093,#00005a,#000051,#000096,#000072,#00005e,#000072,#00005a,#000064,#00008a,#000079,#00007a,#000068,#0000cb,#00006a,#000076,#00007c,#000054,#00002f,#000069,#000009,#0000cd,#0000a6,#000070,#000077,#000034,#000036,#00005f,#0000c1,#000067,#000072,#000096,#000068,#00007f,#00009b,#0000a6,#000077,#000070,#0000a0,#00009c,#00007b,#00001f,#00008c,#000077,#00006a,#00005e,#0000d0,#00007a,#000049,#0000b7,#00004e,#00004e,#0000b5,#0000a5,#000077,#000059,#00007d,#000096,#0000c0,#000065,#00007d,#000089,#00009d,#000093,#0000a1,#00008d,#00005e,#0000a7,#0000cd,#00008f,#000070,#000072,#000042,#00009f,#0000af,#000077,#00005c,#0000d3,#0000a4,#000082,#000082,#000089,#000091,#000061,#000095,#0000ff,#00006c,#00008d,#000067,#00007a,#000084,#0000be,#000032,#000067,#000062,#000072,#0000a4,#0000b5,#000055,#00004e,#00009a,#0000a1,#0000ad,#000080,#0000c9,#0000ae,#0000ab,#00009a,#0000b3,#0000dc,#000054,#000079,#000032,#000037,#000074,#00006d,#000063,#00004e,#00007a,#0000bb,#0000b7,#00006f,#00009e,#000022,#000000,#000023,#000043,#0000db,#000044,#00000d,#00003b,#00003c,#000000,#000058,#000095,#000071,#0000bf,#000094,#00008f,#0000b0,#0000fa,#000099,#00004d,#000091,#000061,#000050,#00007a,#00003a,#000092,#00005f,#00007b,#000071,#00007c,#000045,#000045,#00005d,#000054,#000052,#00003f,#000041,#000063,#00003f,#000097,#00006f,#000061,#000019,#0000ab,#00008d,#000070,#000053,#00006e,#000075,#00007c,#00005e,#00004d,#000095,#00004b,#0000c9,#000074,#000084,#00006c,#0000b9,#00005b,#00004c,#0000a4,#00002f,#000069,#000092,#00008c,#000050,#000055,#0000a7,#0000ff,#0000c5,#000029,#00005c,#0000a1,#000057,#0000c9,#000088,#00006e,#0000ff,#000054,#00007b,#00007a,#0000b4,#000096,#000097,#0000ae,#000077,#0000a6,#00003a,#00005a,#00007e,#000086,#000040,#000098,#000087,#000037,#000078,#00001c,#0000b7,#000080,#000090,#000099,#0000a0,#00007f,#000063,#000071,#00008b,#000075,#000052,#00005f,#00006c,#00002f,#000066,#0000fc,#000056,#000077,#00005a,#000072,#000080,#000093,#000038,#000064,#00007e,#000060,#0000b0,#000071,#000090,#00009f,#00004c,#00004b,#000031,#00006d,#00007d,#000016,#000053,#00007d,#000081,#000086,#00005f,#000075,#00005c,#000094,#0000a6,#000079,#0000b8,#0000a1,#00004b,#000068,#000088,#00000c,#000068,#000083,#0000a0,#00007a,#00009d,#00009d,#000015,#000081,#000097,#000081,#00006c,#000073,#000086,#000070,#00006b,#00006c,#0000b6,#000075,#00007f,#00005a,#000081,#000064,#00008d,#000057,#000052,#00008c,#00007a,#0000be,#000040,#0000f3,#00006c,#000062,#00005b,#00001a,#000000,#00002a,#000076,#000065,#000054,#000060,#00006a,#000052,#00006d,#000055,#0000ae,#0000a7,#00007b,#000062,#000046,#000042,#00007d,#0000ad,#0000be,#0000c8,#00008b,#000088,#000081,#00007c,#00009f,#0000a3,#000073,#0000d8,#0000aa,#0000b1,#00008e,#000077,#000075,#000066,#0000c2,#00003b,#000072,#000054,#000081,#000096,#000058,#000025,#000030,#000039,#000072,#000099,#0000ad,#00006a,#000059,#000000,#0000aa,#000090,#000089,#000077,#00006a,#0000a9,#000099,#0000ee,#000081,#000067,#00003a,#000099,#000084,#00002f,#000026,#000001,#00002e,#000025,#000077,#000051,#0000c1,#000042,#000077,#000059,#000037,#000049,#0000a6,#0000d2,#000097,#0000ab,#000052,#000028,#000054,#00007d,#00009b,#000080,#00007e,#000065,#000076,#000053,#00007c,#0000a1,#000071,#000049,#000099,#00006f,#000027,#000024,#000070,#0000ad,#000072,#000086,#00006b,#00009a,#000064,#000064,#000042,#0000b8,#0000a5,#00005a,#00002a,#0000a8,#00008b,#00004a,#00003c,#000059,#000064,#000072,#00008f,#0000b2,#000046,#0000b8,#00007a,#000070,#0000b6,#000071,#0000b9,#000097,#0000a4,#00003f,#00003b,#000067,#0000a8,#00007a,#0000aa,#00006b,#000091,#0000b7,#0000ae,#000071,#00006f,#0000a3,#0000e5,#0000c6,#00004c,#0000c0,#000049,#0000a0,#000052,#000096,#000070,#00005b,#00006b,#00005f,#0000a7,#000078,#000087,#0000cc,#00009a,#00002d,#000041,#000076,#000087,#000065,#000064,#000071,#000097,#000056,#00003c,#000088,#00004e,#0000c9,#000045,#0000aa,#000076,#000068,#0000a3,#000059,#0000ac,#0000a3,#000049,#000071,#0000ca,#000062,#00007c,#0000de,#00008f,#000065,#00005a,#00005b,#000032,#000050,#000056,#000043,#000084,#000088,#0000d8,#00008a,#0000ca,#000075,#000048,#000057,#000075,#0000a3,#00006f,#000052,#0000cf,#0000d5,#0000ab,#00003a,#000073,#000066,#000064,#00004b,#00007e,#0000cf,#0000c9,#00008c,#000080,#0000a9,#000084,#000078,#00005c,#000085,#00005c,#0000a5,#0000ba,#0000d4,#0000be,#000065,#00004b,#00009c,#00005d,#0000ac,#000050,#000075,#00006a,#000074,#00005f,#00006b,#00008c,#00008f,#000086,#00006f,#000044,#00008b,#000071,#00009f,#0000a0,#0000a2,#00004c,#000073,#00007d,#00005b,#000095,#000067,#000064,#000060,#0000ad,#000089,#00005c,#00009a,#00004e,#000065,#00007a,#00008e,#000076,#00003b,#00003e,#00006a,#000049,#000097,#0000b0,#000091,#000094,#0000ce,#000032,#0000ff,#000080,#00007b,#0000c0,#0000b1,#000028,#000059,#00007e,#0000a6,#00006f,#000072,#0000a3,#00005f,#00003e,#00005b,#00006c,#00007c,#0000b0,#0000e8,#0000dc,#00007d,#000031,#000058,#0000b7,#000077,#0000be,#000036,#00006c,#000058,#000072,#00009c,#00006c,#000052,#00003f,#000083,#00007a,#000050,#0000c2,#0000a5,#00007a,#00003f,#000050,#00008c,#000052,#00008a,#00005b,#00004d,#000099,#000064,#000032,#00007e,#00005a,#00009b,#0000b3,#0000e3,#00001a,#000045,#000056,#0000ff,#00009c,#00004a,#000070,#000070,#000084,#000068,#00003a,#000070,#00005d,#000019,#00005a,#00009e,#0000bd,#00004b,#00009f,#0000a1,#000070,#00009e,#00003d,#000048,#000056,#00007c,#000080,#00007e,#0000a9,#000015,#00005e,#00006c,#000045,#000041,#0000d3,#000032,#00004b,#000055,#000063,#00004f,#000081,#000054,#000060,#00005c,#000085,#000063,#00008b,#000084,#0000c1,#00006d,#00006b,#0000b0,#0000a3,#0000a6,#00009d,#00004b,#0000b2,#00008b,#00008b,#00008c,#000078,#0000b9,#00005e,#000028,#000033,#000052,#000053,#000052,#000044,#000091,#00008a,#000071,#0000c8,#000082,#00007a,#00003d,#0000cb,#00009f,#000079,#000032,#000098,#000051,#0000b5,#00005a,#000068,#0000aa,#000042,#000000,#000072,#0000c3,#0000e4,#0000a1,#00005a,#000065,#00008d,#000071,#00004a,#00007f,#00007d,#000031,#0000a4,#000076,#000069,#000072,#000021,#0000dc,#000091,#00001f,#00002f,#0000cd,#0000ac,#000086,#0000a2,#00008d,#00007c,#000075,#00009b,#0000a3,#00005d,#000097,#0000b2,#0000cc,#0000b3,#0000be,#0000de,#00008d,#000074,#000082,#0000b3,#0000e1,#00007d,#00003b,#00004f,#000067,#000080,#00004d);-webkit-mask-image:linear-gradient(180deg,#00000000 0px 4px,#00000000 4px 9px,#00000000 9px 13px,#00000000 13px 17px,#00000000 17px 22px,#00000000 22px 26px,#00000000 26px 30px,#00000000 30px 35px,#00000000 35px 39px,#00000000 39px 44px,#00000000 44px 48px,#00000000 48px 52px,#00000000 52px 57px,#00000000 57px 61px,#00000000 61px 65px,#00000000 65px 70px,#00000000 70px 74px,#00000000 74px 78px,#00000000 78px 83px,#00000000 83px 87px,#00000000 87px 92px,#00000000 92px 96px,#00000000 96px 100px,#00000000 100px 105px,#00000000 105px 109px,#00000000 109px 113px,#00000000 113px 118px,#00000000 118px 122px,#00000000 122px 126px,#00000000 126px 131px,#00000000 131px 135px,#00000000 135px 140px,#00000000 140px 144px,#00000000 144px 148px,#00000000 148px 153px,#00000000 153px 157px,#00000000 157px 161px,#00000000 161px 166px,#00000000 166px 170px,#00000000 170px 174px,#00000000 174px 179px,#00000000 179px 183px,#00000000 183px 188px,#00000000 188px 192px,#00000000 192px 196px,#00000000 196px 201px,#00000000 201px 205px,#00000000 205px 209px,#00000000 209px 214px,#00000000 214px 218px,#00000000 218px 222px,#00000000 222px 227px,#00000000 227px 231px,#00000000 231px 236px,#00000000 236px 240px,#00000000 240px 244px,#00000000 244px 249px,#00000000 249px 253px,#00000000 253px 257px,#00000000 257px 262px,#00000000 262px 266px,#00000000 266px 271px,#00000000 271px 275px,#00000000 275px 279px,#00000000 279px 284px,#00000000 284px 288px,#00000000 288px 292px,#00000000 292px 297px,#00000000 297px 301px,#00000000 301px 305px,#00000000 305px 310px,#00000000 310px 314px,#00000000 314px 319px,#00000000 319px 323px,#00000000 323px 327px,#00000000 327px 332px,#00000000 332px 336px,#00000000 336px 340px,#00000000 340px 345px,#00000000 345px 349px,#00000000 349px 353px,#00000000 353px 358px,#00000000 358px 362px,#00000000 362px 367px,#00000000 367px 371px,#00000000 371px 375px,#00000000 375px 380px,#00000000 380px 384px,#00000000 384px 388px,#00000000 388px 393px,#00000000 393px 397px,#00000085 397px 401px,#00000000 401px 406px,#00000000 406px 410px,#00000000 410px 415px,#00000000 415px 419px,#00000082 419px 425px,#00000000 425px 431px,#00000000 431px 437px,#00000000 437px 443px,#0000007f 443px 449px,#00000000 449px 454px,#00000000 454px 460px,#00000000 460px 466px,#00000000 466px 472px,#00000000 472px 478px,#00000000 478px 484px,#00000000 484px 490px,#00000000 490px 496px,#00000000 496px 501px,#00000000 501px 507px,#00000000 507px 513px,#00000000 513px 519px,#00000000 519px 525px,#00000000 525px 531px,#00000000 531px 537px,#00000000 537px 542px,#00000000 542px 548px,#00000000 548px 554px,#00000000 554px 560px,#00000000 560px 566px,#00000000 566px 572px,#00000000 572px 578px,#00000000 578px 584px,#00000000 584px 589px,#00000000 589px 595px,#00000000 595px 601px,#00000000 601px 607px);mask-image:linear-gradient(180deg,#00000000 0px 4px,#00000000 4px 9px,#00000000 9px 13px,#00000000 13px 17px,#00000000 17px 22px,#00000000 22px 26px,#00000000 26px 30px,#00000000 30px 35px,#00000000 35px 39px,#00000000 39px 44px,#00000000 44px 48px,#00000000 48px 52px,#00000000 52px 57px,#00000000 57px 61px,#00000000 61px 65px,#00000000 65px 70px,#00000000 70px 74px,#00000000 74px 78px,#00000000 78px 83px,#00000000 83px 87px,#00000000 87px 92px,#00000000 92px 96px,#00000000 96px 100px,#00000000 100px 105px,#00000000 105px 109px,#00000000 109px 113px,#00000000 113px 118px,#00000000 118px 122px,#00000000 122px 126px,#00000000 126px 131px,#00000000 131px 135px,#00000000 135px 140px,#00000000 140px 144px,#00000000 144px 148px,#00000000 148px 153px,#00000000 153px 157px,#00000000 157px 161px,#00000000 161px 166px,#00000000 166px 170px,#00000000 170px 174px,#00000000 174px 179px,#00000000 179px 183px,#00000000 183px 188px,#00000000 188px 192px,#00000000 192px 196px,#00000000 196px 201px,#00000000 201px 205px,#00000000 205px 209px,#00000000 209px 214px,#00000000 214px 218px,#00000000 218px 222px,#00000000 222px 227px,#00000000 227px 231px,#00000000 231px 236px,#00000000 236px 240px,#00000000 240px 244px,#00000000 244px 249px,#00000000 249px 253px,#00000000 253px 257px,#00000000 257px 262px,#00000000 262px 266px,#00000000 266px 271px,#00000000 271px 275px,#00000000 275px 279px,#00000000 279px 284px,#00000000 284px 288px,#00000000 288px 292px,#00000000 292px 297px,#00000000 297px 301px,#00000000 301px 305px,#00000000 305px 310px,#00000000 310px 314px,#00000000 314px 319px,#00000000 319px 323px,#00000000 323px 327px,#00000000 327px 332px,#00000000 332px 336px,#00000000 336px 340px,#00000000 340px 345px,#00000000 345px 349px,#00000000 349px 353px,#00000000 353px 358px,#00000000 358px 362px,#00000000 362px 367px,#00000000 367px 371px,#00000000 371px 375px,#00000000 375px 380px,#00000000 380px 384px,#00000000 384px 388px,#00000000 388px 393px,#00000000 393px 397px,#00000085 397px 401px,#00000000 401px 406px,#00000000 406px 410px,#00000000 410px 415px,#00000000 415px 419px,#00000082 419px 425px,#00000000 425px 431px,#00000000 431px 437px,#00000000 437px 443px,#0000007f 443px 449px,#00000000 449px 454px,#00000000 454px 460px,#00000000 460px 466px,#00000000 466px 472px,#00000000 472px 478px,#00000000 478px 484px,#00000000 484px 490px,#00000000 490px 496px,#00000000 496px 501px,#00000000 501px 507px,#00000000 507px 513px,#00000000 513px 519px,#00000000 519px 525px,#00000000 525px 531px,#00000000 531px 537px,#00000000 537px 542px,#00000000 542px 548px,#00000000 548px 554px,#00000000 554px 560px,#00000000 560px 566px,#00000000 566px 572px,#00000000 572px 578px,#00000000 578px 584px,#00000000 584px 589px,#00000000 589px 595px,#00000000 595px 601px,#00000000 601px 607px)}
.t7{background:linear-gradient(90deg,#000091,#000046,#000021,#00003a,#00003b,#000045,#00006c,#000063,#000070,#00007a,#000074,#00005c,#000047,#000066,#000051,#0000b8,#000093,#00006c,#00008c,#000039,#00009b,#000013,#000061,#0000ad,#000087,#000066,#0000cb,#00007a,#0000ff,#000086,#000077,#00003e,#000089,#000069,#00006e,#0000c3,#0000bb,#00007d,#000071,#0000cc,#000062,#00009d,#00003e,#00007d,#000098,#000041,#000033,#000059,#00000c,#000020,#000098,#0000ad,#000073,#000057,#000049,#00006b,#0000d7,#00004c,#000081,#00006d,#000056,#000069,#000089,#00006e,#0000e7,#000075,#000057,#00003f,#000024,#000034,#0000ad,#000099,#00007d,#000091,#000078,#000058,#000097,#00006c,#000042,#000022,#00007c,#000055,#00006c,#000078,#00002f,#0000c6,#000083,#000054,#00001b,#0000a1,#000066,#00009f,#00007f,#000088,#000073,#00009a,#000097,#000032,#00007a,#0000b9,#00005c,#000066,#000080,#0000a6,#00005e,#00008b,#00006b,#0000aa,#0000c0,#000061,#0000c1,#000032,#000035,#00006c,#0000bd,#00004d,#00008d,#000029,#000056,#00005b,#000097,#000088,#000071,#0000a5,#000043,#00005f,#00005d,#000077,#0000ae,#0000f0,#000049,#00009c,#000078,#00004b,#000059,#00009e,#0000c4,#000088,#0000da,#000054,#000032,#0000c1,#00004f,#000062,#00007a,#00003d,#00008d,#00006e,#00007d,#00006c,#0000a7,#000048,#00005d,#000055,#000070,#000098,#000079,#000065,#000063,#000041,#000049,#0000a9,#00006b,#000097,#00006f,#00008d,#000060,#000044,#000015,#0000b9,#0000b3,#000084,#000096,#000073,#000087,#000095,#000077,#0000ab,#00007f,#00005b,#00003a,#000097,#000056,#00006d,#000057,#000053,#000050,#00003d,#0000ab,#000063,#00006b,#0000b9,#000044,#000033,#00008f,#000087,#000048,#0000c1,#0000d8,#00007a,#00006d,#0000ad,#0000ae,#00003d,#000047,#00002c,#000049,#000034,#000044,#000041,#000088,#000088,#000073,#000039,#000016,#00008e,#000050,#000044,#000065,#00004b,#000052,#00002a,#00001c,#0000ff,#0000cf,#0000ac,#000046,#00007a,#0000cb,#000057,#00007a,#000031,#000070,#000075,#000072,#000048,#00005f,#00006e,#0000d4,#000072,#000088,#0000c4,#000066,#00004f,#000050,#00006b,#00006a,#000082,#0000c1,#000067,#000084,#000076,#000059,#0000d8,#000063,#000033,#00007a,#00003c,#00004a,#000096,#00005c,#00005f,#0000b7,#000050,#000024,#00003e,#000097,#000082,#000075,#00008d,#000072,#0000a8,#00005b,#000059,#00008c,#000073,#000056,#000063,#0000b1,#000058,#000063,#000061,#0000b8,#0000ff,#0000b5,#00006f,#000086,#00003c,#000072,#0000ce,#000085,#000097,#00005e,#000067,#00005f,#000045,#000036,#0000ec,#00008e,#000089,#00005c,#000061,#000058,#000081,#000085,#000072,#0000b5,#00004e,#00008b,#0000a0,#000095,#000054,#00004f,#000037,#000020,#000094,#0000a4,#0000d7,#000054,#000095,#0000b0,#000089,#00006e,#00002e,#00009f,#0000b5,#000076,#000054,#0000ad,#000081,#000000,#000063,#0000aa,#000087,#0000a1,#0000ab,#000073,#0000b1,#000039,#0000a9,#000030,#0000a6,#00002d,#00003c,#00006f,#000069,#0000f0,#00004d,#000073,#000089,#0000d3,#000061,#00007a,#000073,#000090,#000086,#0000b7,#00007f,#0000b6,#00009d,#000085,#0000b3,#00002d,#0000cb,#000079,#00007f,#000086,#000069,#000040,#000047,#0000e1,#000048,#000087,#0000b0,#000098,#00007d,#000078,#000044,#000079,#000060,#0000a0,#0000a6,#00000f,#000001,#000061,#00003f,#0000b7,#000091,#00008d,#000037,#00008d,#00004b,#000099,#00005c,#00006a,#00006f,#00008a,#00005e,#0000c3,#00004a,#0000ac,#00009d,#00009f,#00005a,#000082,#000060,#00008a,#000073,#000038,#00002c,#00003c,#000068,#0000db,#0000ad,#0000de,#000028,#00002d,#00006f,#0000de,#000056,#000000,#000041,#000094,#0000f6,#00005c,#00007d,#000090,#000057,#00005c,#00007c,#000028,#00006f,#00006a,#00003f,#000046,#000059,#0000ca,#000063,#0000ad,#000044,#00006f,#000042,#00004d,#000024,#000078,#000092,#000054,#000048,#000093,#000082,#000083,#00007e,#0000ae,#00007f,#000036,#00005a,#0000a7,#000062,#00006e,#000039,#000026,#000038,#000095,#000069,#000065,#0000a0,#000092,#000098,#000087,#000095,#000038,#00007a,#00003c,#0000bc,#000043,#0000a0,#000084,#000022,#00002f,#000058,#000024,#000087,#00007a,#00006b,#000053,#000084,#000068,#000094,#000088,#000090,#000040,#00009b,#0000bc,#000061,#00005c,#000081,#00009b,#00006e,#000038,#000082,#0000a8,#00007d,#000098,#00003f,#000098,#0000a5,#00007f,#0000c8,#00001d,#0000e0,#00009e,#000091,#000030,#000054,#00000f,#0000dd,#000076,#000081,#00005c,#00001d,#00003d,#000047,#0000b4,#000082,#00006f,#00007b,#0000ac,#000029,#000068,#000041,#000064,#000075,#000054,#000058,#00006c,#000058,#000078,#000076,#000045,#0000cc,#000046,#00009e,#0000b1,#000074,#0000ac,#000066,#000065,#000072,#000056,#00004d,#000097,#000067,#00004e,#000063,#000094,#000064,#0000c3,#000061,#000081,#00005c,#00004a,#00007c,#0000ff,#0000c7,#0000c3,#0000a6,#000092,#00003a,#000055,#0000de,#000081,#0000bb,#00004b,#000000,#0000a2,#00008e,#000091,#00007b,#00002e,#000041,#000041,#00007a,#00007f,#000073,#00008b,#000067,#00009f,#000068,#000049,#00007a,#000079,#000035,#0000a1,#00006e,#00007e,#0000ff,#000058,#000082,#000063,#0000a0,#00005e,#00008c,#000084,#00006b,#000085,#0000c3,#00004e,#000088,#000083,#000051,#000051,#000027,#000041,#000051,#00003b,#0000a7,#00007c,#000093,#000062,#000070,#0000a1,#00007d,#000092,#00006f,#0000b6,#000046,#0000cc,#00006d,#000071,#00005b,#000033,#000039,#0000ac,#000081,#000060,#00007e,#000012,#00005a,#000061,#000078,#00006a,#00006e,#000067,#0000ba,#0000ad,#0000c3,#000053,#00008e,#00009c,#0000e9,#000016,#00003b,#00006c,#000016,#00003f,#00006f,#00004b,#00008d,#00006a,#000046,#00002d,#0000ab,#0000c4,#0000a0,#00008c,#000072,#00004f,#000051,#000090,#000084,#000035,#00004e,#000074,#00005e,#000087,#00006e,#000096,#0000be,#00006b,#00008b,#000092,#0000b6,#00007f,#000049,#000046,#000053,#00006a,#000058,#000010,#000071,#000040,#00009f,#000059,#000088,#00008c,#0000e2,#000077,#0000a8,#0000c3,#0000b1,#000086,#000046,#00007f,#0000fc,#00005c,#000058,#000039,#000049,#000049,#000063,#00007a,#0000b4,#00007b,#00006d,#000085,#0000c4,#000063,#000076,#0000d3,#00007d,#000025,#000099,#000036,#000081,#000083,#00004b,#000094,#000062,#0000a1,#000047,#0000ce,#000072,#000013,#000039,#000097,#00006b,#0000ac,#00006a,#000064,#00007e,#000072,#000052,#0000ad,#000078,#000094,#0000ac,#0000b1,#0000a6,#0000bf,#000097,#000070,#0000a8,#0000aa,#0000a1,#00003e,#000064,#0000b2,#0000b7,#000049,#000087,#0000b4,#00009c,#00005f,#00004c,#000040,#000000,#000000,#000021,#0000b6,#00006a,#000057,#00006b,#000078,#0000bb,#00006d,#00004f,#00006c,#0000a0,#00003f,#00005f,#000072,#000099,#000079,#000040,#000028,#000070,#00004a,#00005d,#000068,#000080,#000056,#0000ca,#0000c6,#000073,#0000a0,#0000a0,#00008f,#000073,#00006a,#000044,#00006f,#000044,#00003e,#00004a,#000027,#000081,#000080,#00002c,#000080,#0000d4,#000091,#00009f,#0000be,#0000c0,#00003e,#000089,#00008c,#000059,#00006f,#000093,#00009e,#0000a7,#0000c8,#0000c9,#0000a7,#000092,#00003d,#00004e,#0000b3,#000075,#000083,#000041,#0000a1,#000053,#00008d,#0000aa);-webkit-mask-image:linear-gradient(180deg,#00000000 0px 4px,#00000000 4px 9px,#00000000 9px 13px,#00000000 13px 17px,#00000000 17px 22px,#00000000 22px 26px,#00000000 26px 30px,#00000000 30px 35px,#00000000 35px 39px,#00000000 39px 44px,#00000000 44px 48px,#00000000 48px 52px,#00000000 52px 57px,#00000000 57px 61px,#00000000 61px 65px,#00000000 65px 70px,#00000000 70px 74px,#00000000 74px 78px,#00000000 78px 83px,#00000000 83px 87px,#00000000 87px 92px,#00000000 92px 96px,#00000000 96px 100px,#00000000 100px 105px,#00000000 105px 109px,#00000000 109px 113px,#00000000 113px 118px,#00000000 118px 122px,#00000000 122px 126px,#00000000 126px 131px,#00000000 131px 135px,#00000000 135px 140px,#00000000 140px 144px,#00000000 144px 148px,#00000000 148px 153px,#00000000 153px 157px,#00000000 157px 161px,#00000000 161px 166px,#00000000 166px 170px,#00000000 170px 174px,#00000000 174px 179px,#00000000 179px 183px,#00000000 183px 188px,#00000000 188px 192px,#00000000 192px 196px,#00000000 196px 201px,#00000000 201px 205px,#00000000 205px 209px,#00000000 209px 214px,#00000000 214px 218px,#00000000 218px 222px,#00000000 222px 227px,#00000000 227px 231px,#00000000 231px 236px,#00000000 236px 240px,#00000000 240px 244px,#00000000 244px 249px,#00000000 249px 253px,#00000000 253px 257px,#00000000 257px 262px,#00000000 262px 266px,#00000000 266px 271px,#00000000 271px 275px,#00000000 275px 279px,#00000000 279px 284px,#00000000 284px 288px,#00000000 288px 292px,#00000000 292px 297px,#00000000 297px 301px,#00000000 301px 305px,#00000000 305px 310px,#0000008f 310px 314px,#00000000 314px 319px,#00000000 319px 323px,#00000000 323px 327px,#00000000 327px 332px,#00000000 332px 336px,#00000000 336px 340px,#00000000 340px 345px,#00000000 345px 349px,#00000000 349px 353px,#00000000 353px 358px,#00000000 358px 362px,#00000000 362px 367px,#00000000 367px 371px,#00000000 371px 375px,#00000000 375px 380px,#00000000 380px 384px,#00000000 384px 388px,#00000000 388px 393px,#00000086 393px 397px,#00000000 397px 401px,#00000000 401px 406px,#00000000 406px 410px,#00000000 410px 415px,#00000000 415px 419px,#00000000 419px 425px,#00000000 425px 431px,#00000000 431px 437px,#00000000 437px 443px,#00000000 443px 449px,#0000007f 449px 454px,#00000000 454px 460px,#00000000 460px 466px,#00000000 466px 472px,#00000000 472px 478px,#00000000 478px 484px,#00000000 484px 490px,#00000000 490px 496px,#00000000 496px 501px,#00000000 501px 507px,#00000000 507px 513px,#00000000 513px 519px,#00000000 519px 525px,#00000000 525px 531px,#00000000 531px 537px,#00000000 537px 542px,#00000000 542px 548px,#00000000 548px 554px,#00000000 554px 560px,#00000000 560px 566px,#00000000 566px 572px,#00000000 572px 578px,#00000000 578px 584px,#00000000 584px 589px,#00000000 589px 595px,#00000000 595px 601px,#00000073 601px 607px);mask-image:linear-gradient(180deg,#00000000 0px 4px,#00000000 4px 9px,#00000000 9px 13px,#00000000 13px 17px,#00000000 17px 22px,#00000000 22px 26px,#00000000 26px 30px,#00000000 30px 35px,#00000000 35px 39px,#00000000 39px 44px,#00000000 44px 48px,#00000000 48px 52px,#00000000 52px 57px,#00000000 57px 61px,#00000000 61px 65px,#00000000 65px 70px,#00000000 70px 74px,#00000000 74px 78px,#00000000 78px 83px,#00000000 83px 87px,#00000000 87px 92px,#00000000 92px 96px,#00000000 96px 100px,#00000000 100px 105px,#00000000 105px 109px,#00000000 109px 113px,#00000000 113px 118px,#00000000 118px 122px,#00000000 122px 126px,#00000000 126px 131px,#00000000 131px 135px,#00000000 135px 140px,#00000000 140px 144px,#00000000 144px 148px,#00000000 148px 153px,#00000000 153px 157px,#00000000 157px 161px,#00000000 161px 166px,#00000000 166px 170px,#00000000 170px 174px,#00000000 174px 179px,#00000000 179px 183px,#00000000 183px 188px,#00000000 188px 192px,#00000000 192px 196px,#00000000 196px 201px,#00000000 201px 205px,#00000000 205px 209px,#00000000 209px 214px,#00000000 214px 218px,#00000000 218px 222px,#00000000 222px 227px,#00000000 227px 231px,#00000000 231px 236px,#00000000 236px 240px,#00000000 240px 244px,#00000000 244px 249px,#00000000 249px 253px,#00000000 253px 257px,#00000000 257px 262px,#00000000 262px 266px,#00000000 266px 271px,#00000000 271px 275px,#00000000 275px 279px,#00000000 279px 284px,#00000000 284px 288px,#00000000 288px 292px,#00000000 292px 297px,#00000000 297px 301px,#00000000 301px 305px,#00000000 305px 310px,#0000008f 310px 314px,#00000000 314px 319px,#00000000 319px 323px,#00000000 323px 327px,#00000000 327px 332px,#00000000 332px 336px,#00000000 336px 340px,#00000000 340px 345px,#00000000 345px 349px,#00000000 349px 353px,#00000000 353px 358px,#00000000 358px 362px,#00000000 362px 367px,#00000000 367px 371px,#00000000 371px 375px,#00000000 375px 380px,#00000000 380px 384px,#00000000 384px 388px,#00000000 388px 393px,#00000086 393px 397px,#00000000 397px 401px,#00000000 401px 406px,#00000000 406px 410px,#00000000 410px 415px,#00000000 415px 419px,#00000000 419px 425px,#00000000 425px 431px,#00000000 431px 437px,#00000000 437px 443px,#00000000 443px 449px,#0000007f 449px 454px,#00000000 454px 460px,#00000000 460px 466px,#00000000 466px 472px,#00000000 472px 478px,#00000000 478px 484px,#00000000 484px 490px,#00000000 490px 496px,#00000000 496px 501px,#00000000 501px 507px,#00000000 507px 513px,#00000000 513px 519px,#00000000 519px 525px,#00000000 525px 531px,#00000000 531px 537px,#00000000 537px 542px,#00000000 542px 548px,#00000000 548px 554px,#00000000 554px 560px,#00000000 560px 566px,#00000000 566px 572px,#00000000 572px 578px,#00000000 578px 584px,#00000000 584px 589px,#00000000 589px 595px,#00000000 595px 601px,#00000073 601px 607px)}
.t8{background:linear-gradient(90deg,#000070,#000068,#000076,#000061,#00007a,#000077,#000043,#00004c,#00006b,#0000db,#0000c1,#0000a6,#000090,#000062,#000063,#000080,#000059,#00009d,#0000cd,#0000bc,#0000bf,#000099,#00008a,#0000c7,#000082,#000081,#000074,#000093,#0000af,#00005a,#000087,#000086,#00003a,#000054,#00006a,#00009f,#000083,#000094,#000036,#00006d,#000088,#0000ab,#0000ae,#00007c,#0000ea,#00007d,#0000d3,#00007a,#0000a6,#00007f,#0000af,#00008e,#000077,#00006e,#0000a4,#000091,#0000ff,#000026,#000046,#000062,#000052,#000098,#000073,#00004e,#000096,#000080,#000092,#000064,#000063,#000097,#00009f,#000083,#000089,#00008a,#00006f,#000074,#0000a3,#00008d,#00008f,#00009a,#0000a2,#000046,#000070,#0000cc,#00007d,#000075,#000035,#000075,#000059,#0000d3,#000026,#0000b0,#000087,#000076,#000059,#000074,#0000b5,#000072,#000072,#0000d1,#00006a,#000069,#00001c,#00006c,#0000d6,#00006f,#000088,#0000fd,#0000af,#0000a8,#0000dd,#00000c,#00005f,#000053,#000091,#000082,#00005a,#000042,#00006c,#0000e0,#00009f,#00006a,#0000a8,#0000c1,#00009b,#000082,#000093,#00007e,#00009f,#000084,#000068,#000051,#000073,#000058,#000086,#0000a6,#000070,#000051,#00008f,#000086,#000051,#0000c7,#00007a,#000084,#000043,#000088,#0000ff,#0000b1,#0000b8,#000075,#00009b,#000061,#0000a9,#000060,#000068,#000053,#0000a7,#0000bb,#000063,#00002d,#00006d,#00009e,#0000c5,#000082,#0000af,#0000ab,#0000b0,#00006c,#0000b6,#0000ce,#000081,#0000af,#000060,#00005e,#000035,#000080,#0000a9,#00005f,#0000b3,#000052,#000023,#00005d,#000036,#00006c,#000072,#000021,#000058,#00006b,#0000a3,#000000,#000021,#00006f,#00002a,#000072,#000035,#000075,#000040,#000070,#0000aa,#0000a5,#0000bf,#0000bd,#000070,#000054,#0000fd,#000068,#000078,#000025,#00003f,#000084,#0000b4,#000082,#0000bd,#00007f,#000061,#000085,#00007a,#0000b1,#000067,#000044,#000063,#000039,#00004a,#0000bc,#00009d,#0000c8,#00002b,#000051,#0000aa,#000054,#00003e,#000059,#00008f,#0000b6,#000066,#000076,#000081,#0000c5,#0000b2,#000088,#00005a,#00006a,#000063,#00003d,#00004e,#0000a2,#000066,#00009a,#0000cc,#000097,#000064,#000030,#000094,#0000d2,#0000e5,#000056,#0000ab,#00007d,#000086,#00009d,#0000ac,#0000b8,#0000b4,#00003b,#00004c,#000097,#000091,#00001d,#000089,#00009e,#0000ff,#0000d5,#000059,#000052,#000090,#000083,#00008d,#000088,#000078,#000001,#000051,#00001b,#00006c,#0000fe,#0000b2,#00008e,#0000ca,#000078,#00005e,#0000c6,#0000af,#000073,#000060,#00005e,#000097,#00003b,#000083,#0000f3,#000063,#000063,#000065,#00009b,#000054,#000091,#000055,#0000c4,#000072,#00008b,#000056,#00008e,#000096,#0000b0,#00007b,#000051,#000043,#000070,#000066,#00003b,#00008f,#000089,#00009b,#0000c2,#00007d,#0000a1,#0000b1,#000042,#00008e,#00007f,#000062,#00002f,#000000,#000041,#000079,#000088,#00007d,#0000f1,#0000bf,#000084,#00009a,#0000fe,#00007d,#000070,#000000,#000066,#00008b,#000048,#00009b,#0000d1,#00006d,#000087,#0000cb,#00005a,#00009a,#0000a4,#00007d,#0000c8,#0000ef,#000078,#00003d,#000071,#000095,#00008b,#000053,#0000ca,#000045,#000045,#000060,#0000a7,#000095,#000033,#0000e9,#000044,#000000,#00007f,#0000ef,#0000d5,#000099,#00007d,#0000a5,#00007b,#000074,#00005e,#0000a8,#000046,#00007f,#000071,#00007e,#00009a,#00006f,#000059,#00008c,#000053,#0000a2,#00004a,#000084,#0000b1,#00008d,#0000b2,#000061,#000070,#0000a2,#000094,#000088,#000013,#000053,#00002b,#000088,#00009c,#000039,#00003c,#00003f,#000079,#000088,#00009c,#000091,#000067,#0000b4,#00006c,#0000ad,#000044,#00008b,#000029,#00008c,#000095,#0000c7,#00008f,#00007a,#000079,#00001d,#00005d,#000036,#000062,#000021,#000049,#000072,#0000b0,#0000df,#000098,#00007b,#000010,#000089,#000038,#000050,#000047,#000060,#000035,#00008c,#0000ad,#00005a,#00006d,#000058,#000059,#0000e6,#00009e,#000075,#00007d,#00008f,#00009b,#0000bb,#00007d,#00008b,#00004c,#00006a,#00005f,#000026,#000041,#00008c,#0000e3,#000056,#000074,#000073,#0000a4,#000037,#00003b,#00006f,#0000a8,#0000a1,#000097,#00006a,#000036,#00008e,#0000ab,#000071,#000065,#000041,#00008b,#000055,#000089,#000043,#000025,#000015,#0000bc,#0000fe,#000052,#0000ac,#000075,#0000a6,#000099,#000093,#000071,#00009e,#000076,#00004d,#00005e,#0000a2,#0000a6,#000088,#000099,#000038,#00008a,#0000b8,#00006d,#000041,#0000bd,#00005a,#0000c2,#000079,#000076,#000088,#00002b,#00004d,#000063,#000070,#000069,#00007b,#000087,#000068,#000000,#000047,#00008f,#000080,#000049,#000056,#000046,#000072,#0000b0,#000043,#0000b0,#000093,#0000cc,#000074,#0000d0,#000084,#000099,#0000b8,#00005f,#0000b1,#0000b9,#00005b,#000086,#000097,#000051,#00004c,#000080,#00006c,#000078,#000090,#00003d,#000095,#000043,#000089,#0000e3,#0000a1,#000093,#000081,#0000aa,#00008d,#00003d,#000070,#0000ad,#0000cc,#0000b8,#000056,#00000d,#000080,#0000b2,#000041,#000057,#00009b,#00003b,#0000a4,#00008a,#00006e,#0000ab,#0000e2,#00004d,#000060,#00005c,#0000d0,#00008b,#00003d,#00003d,#000036,#0000a7,#00007b,#0000eb,#0000eb,#000059,#000079,#0000d0,#00005d,#000096,#000082,#00009e,#000051,#00002d,#000060,#000098,#00005c,#000085,#000054,#000062,#0000af,#000072,#000062,#0000a6,#0000e5,#000083,#000073,#00005a,#0000af,#000062,#0000f3,#00009b,#000082,#000055,#00009f,#00004c,#000068,#0000b9,#000063,#000075,#000061,#000066,#00005e,#000024,#000009,#000082,#000083,#00008f,#000081,#00009f,#0000aa,#0000c5,#00004b,#0000dd,#000063,#0000b6,#0000c0,#000081,#000060,#000064,#0000a3,#00008c,#0000ad,#000020,#000047,#000064,#00004b,#000072,#00008a,#00003b,#000099,#0000a7,#00007d,#00009a,#00001f,#000062,#0000a4,#0000d8,#00005c,#0000a6,#0000cc,#000061,#00007b,#000055,#000089,#000095,#000099,#000060,#000085,#0000b4,#0000b6,#000051,#000082,#00003a,#000055,#000012,#00002d,#0000c2,#00006f,#000063,#00008b,#00009e,#00008f,#0000b0,#000072,#000062,#000075,#000096,#000030,#000046,#0000b4,#0000ff,#00007c,#000091,#0000de,#00009f,#00002e,#0000a6,#000020,#000092,#000081,#00000b,#000044,#0000a2,#000086,#000014,#00008b,#000093,#00004c,#00007c,#00006d,#000073,#0000aa,#000045,#000088,#00002f,#000039,#00003c,#000065,#0000ac,#000055,#00007e,#0000ff,#00008c,#000083,#00006c,#000062,#00006c,#0000ba,#00007a,#000074,#000057,#000072,#000046,#0000b4,#00006f,#000093,#000066,#000059,#0000af,#00005d,#000095,#000095,#00003d,#000093,#0000b0,#00004c,#0000b0,#000086,#0000ba,#000069,#00008c,#000067,#00002a,#000039,#000040,#000060,#00005d,#000028,#000046,#00008b,#000095,#0000a3,#000074,#000055,#0000c7,#00006b,#00005c,#0000ab,#000070,#0000b0,#00005b,#000069,#0000e1,#00004e,#00005e,#000069,#000076,#00005b,#0000b1,#00009a,#00007f,#000052,#0000a0,#00006a,#000087,#000086,#000064,#00009d,#0000bc,#000054,#00006b,#000050,#0000ea,#000056,#000046,#00001d,#0000be,#0000b3,#00009a,#0000f9,#00006f,#000068,#00006e,#0000d4,#000076,#0000a7,#0000ac,#000040,#000057,#00009d,#0000cf,#00007e,#00009a,#00006c,#000074,#0000b8,#000068,#00003e,#000037,#000049,#00006f,#00009e,#000071);-webkit-mask-image:linear-gradient(180deg,#00000000 0px 4px,#00000000 4px 9px,#00000000 9px 13px,#00000000 13px 17px,#00000000 17px 22px,#00000000 22px 26px,#00000000 26px 30px,#00000000 30px 35px,#00000000 35px 39px,#00000000 39px 44px,#00000000 44px 48px,#00000000 48px 52px,#00000000 52px 57px,#00000000 57px 61px,#00000000 61px 65px,#00000000 65px 70px,#00000000 70px 74px,#00000000 74px 78px,#00000000 78px 83px,#00000000 83px 87px,#00000000 87px 92px,#00000000 92px 96px,#00000000 96px 100px,#00000000 100px 105px,#00000000 105px 109px,#00000000 109px 113px,#00000000 113px 118px,#00000000 118px 122px,#00000000 122px 126px,#00000000 126px 131px,#00000000 131px 135px,#00000000 135px 140px,#00000000 140px 144px,#00000000 144px 148px,#00000000 148px 153px,#00000000 153px 157px,#00000000 157px 161px,#00000000 161px 166px,#00000000 166px 170px,#00000000 170px 174px,#00000000 174px 179px,#00000000 179px 183px,#00000000 183px 188px,#00000000 188px 192px,#00000000 192px 196px,#00000000 196px 201px,#00000000 201px 205px,#00000000 205px 209px,#00000000 209px 214px,#00000000 214px 218px,#00000000 218px 222px,#00000000 222px 227px,#00000000 227px 231px,#00000000 231px 236px,#00000000 236px 240px,#00000000 240px 244px,#00000000 244px 249px,#00000000 249px 253px,#00000000 253px 257px,#00000000 257px 262px,#00000000 262px 266px,#00000000 266px 271px,#00000000 271px 275px,#00000000 275px 279px,#00000000 279px 284px,#00000000 284px 288px,#00000000 288px 292px,#00000000 292px 297px,#00000000 297px 301px,#00000000 301px 305px,#00000000 305px 310px,#00000000 310px 314px,#00000000 314px 319px,#00000000 319px 323px,#00000000 323px 327px,#00000000 327px 332px,#00000000 332px 336px,#00000000 336px 340px,#00000000 340px 345px,#00000000 345px 349px,#00000000 349px 353px,#00000000 353px 358px,#00000000 358px 362px,#00000000 362px 367px,#00000000 367px 371px,#00000000 371px 375px,#00000000 375px 380px,#00000000 380px 384px,#00000000 384px 388px,#00000000 388px 393px,#00000000 393px 397px,#00000000 397px 401px,#00000000 401px 406px,#00000000 406px 410px,#00000000 410px 415px,#00000000 415px 419px,#00000000 419px 425px,#00000000 425px 431px,#00000000 431px 437px,#00000000 437px 443px,#00000000 443px 449px,#00000000 449px 454px,#0000007e 454px 460px,#00000000 460px 466px,#0000007e 466px 472px,#00000000 472px 478px,#00000000 478px 484px,#00000000 484px 490px,#00000000 490px 496px,#00000000 496px 501px,#00000000 501px 507px,#00000000 507px 513px,#00000000 513px 519px,#00000000 519px 525px,#00000000 525px 531px,#00000000 531px 537px,#00000000 537px 542px,#00000000 542px 548px,#00000000 548px 554px,#00000000 554px 560px,#00000000 560px 566px,#00000000 566px 572px,#00000000 572px 578px,#00000075 578px 584px,#00000000 584px 589px,#00000000 589px 595px,#00000000 595px 601px,#00000000 601px 607px);mask-image:linear-gradient(180deg,#00000000 0px 4px,#00000000 4px 9px,#00000000 9px 13px,#00000000 13px 17px,#00000000 17px 22px,#00000000 22px 26px,#00000000 26px 30px,#00000000 30px 35px,#00000000 35px 39px,#00000000 39px 44px,#00000000 44px 48px,#00000000 48px 52px,#00000000 52px 57px,#00000000 57px 61px,#00000000 61px 65px,#00000000 65px 70px,#00000000 70px 74px,#00000000 74px 78px,#00000000 78px 83px,#00000000 83px 87px,#00000000 87px 92px,#00000000 92px 96px,#00000000 96px 100px,#00000000 100px 105px,#00000000 105px 109px,#00000000 109px 113px,#00000000 113px 118px,#00000000 118px 122px,#00000000 122px 126px,#00000000 126px 131px,#00000000 131px 135px,#00000000 135px 140px,#00000000 140px 144px,#00000000 144px 148px,#00000000 148px 153px,#00000000 153px 157px,#00000000 157px 161px,#00000000 161px 166px,#00000000 166px 170px,#00000000 170px 174px,#00000000 174px 179px,#00000000 179px 183px,#00000000 183px 188px,#00000000 188px 192px,#00000000 192px 196px,#00000000 196px 201px,#00000000 201px 205px,#00000000 205px 209px,#00000000 209px 214px,#00000000 214px 218px,#00000000 218px 222px,#00000000 222px 227px,#00000000 227px 231px,#00000000 231px 236px,#00000000 236px 240px,#00000000 240px 244px,#00000000 244px 249px,#00000000 249px 253px,#00000000 253px 257px,#00000000 257px 262px,#00000000 262px 266px,#00000000 266px 271px,#00000000 271px 275px,#00000000 275px 279px,#00000000 279px 284px,#00000000 284px 288px,#00000000 288px 292px,#00000000 292px 297px,#00000000 297px 301px,#00000000 301px 305px,#00000000 305px 310px,#00000000 310px 314px,#00000000 314px 319px,#00000000 319px 323px,#00000000 323px 327px,#00000000 327px 332px,#00000000 332px 336px,#00000000 336px 340px,#00000000 340px 345px,#00000000 345px 349px,#00000000 349px 353px,#00000000 353px 358px,#00000000 358px 362px,#00000000 362px 367px,#00000000 367px 371px,#00000000 371px 375px,#00000000 375px 380px,#00000000 380px 384px,#00000000 384px 388px,#00000000 388px 393px,#00000000 393px 397px,#00000000 397px 401px,#00000000 401px 406px,#00000000 406px 410px,#00000000 410px 415px,#00000000 415px 419px,#00000000 419px 425px,#00000000 425px 431px,#00000000 431px 437px,#00000000 437px 443px,#00000000 443px 449px,#00000000 449px 454px,#0000007e 454px 460px,#00000000 460px 466px,#0000007e 466px 472px,#00000000 472px 478px,#00000000 478px 484px,#00000000 484px 490px,#00000000 490px 496px,#00000000 496px 501px,#00000000 501px 507px,#00000000 507px 513px,#00000000 513px 519px,#00000000 519px 525px,#00000000 525px 531px,#00000000 531px 537px,#00000000 537px 542px,#00000000 542px 548px,#00000000 548px 554px,#00000000 554px 560px,#00000000 560px 566px,#00000000 566px 572px,#00000000 572px 578px,#00000075 578px 584px,#00000000 584px 589px,#00000000 589px 595px,#00000000 595px 601px,#00000000 601px 607px)}
.t9{background:linear-gradient(90deg,#000087,#00009b,#000037,#000045,#00006d,#000072,#000059,#000060,#00005a,#000056,#000053,#000048,#000082,#00007f,#000042,#000040,#00005d,#0000c0,#000090,#00005d,#0000c3,#0000be,#00006b,#00009c,#00007c,#000076,#00009b,#000077,#0000bd,#000035,#000044,#000077,#000078,#000049,#00008f,#00007b,#00005e,#000084,#000043,#000074,#000043,#00007c,#000056,#0000bc,#00006f,#000023,#000054,#00008b,#000022,#00004b,#00008b,#000065,#000087,#000096,#0000cd,#00005d,#00009a,#000055,#00004f,#00006a,#000051,#000090,#000075,#00005a,#0000d4,#000046,#000062,#00007c,#00004f,#000054,#00008b,#00007a,#000056,#00005d,#0000e5,#000084,#0000a4,#00009f,#000055,#00005d,#000054,#000021,#000050,#0000bb,#000082,#000079,#000074,#000049,#000038,#00007f,#000026,#00005c,#000043,#00004c,#000062,#000083,#000079,#000076,#0000b2,#0000f2,#00008d,#00007b,#000025,#000074,#0000e5,#00005a,#000043,#0000f8,#0000ab,#000098,#0000ff,#000010,#000000,#000069,#00008e,#000084,#000073,#000087,#00006f,#000051,#00005f,#00004f,#00003f,#000073,#000067,#000091,#00003e,#000056,#00008f,#0000b3,#000083,#000064,#000096,#000086,#00004b,#00006d,#00003e,#000070,#00008d,#000062,#000051,#0000ae,#00009b,#00008d,#000074,#00003c,#0000b3,#00009b,#0000bc,#0000ab,#0000a3,#0000ab,#0000d0,#00002d,#00008c,#0000c1,#000073,#000095,#00004f,#000047,#00007b,#000044,#000067,#00007a,#0000a8,#0000b3,#00009a,#0000bc,#000063,#000044,#00007c,#000086,#00006a,#000072,#000049,#00008a,#00005e,#000037,#000064,#00005e,#00006c,#0000ff,#00004b,#000095,#00005d,#000024,#000061,#000067,#0000d1,#00008f,#00006a,#000057,#00004d,#000066,#000090,#000079,#000090,#00007f,#000066,#000080,#0000a1,#0000ff,#00008a,#000022,#00007a,#00003e,#000063,#00001e,#000060,#000073,#0000b5,#00006e,#000094,#0000b8,#0000c4,#00007a,#0000a3,#000019,#00007a,#000094,#00005b,#00000d,#000028,#0000a7,#00006e,#000089,#000000,#00003f,#000081,#000034,#00006d,#00003a,#00005b,#00005e,#000039,#00004e,#000062,#00001c,#000090,#000071,#000092,#00009c,#00005c,#00006d,#00004b,#00006f,#000078,#00007e,#0000c6,#0000a5,#000045,#000058,#00005f,#0000ca,#0000d1,#00007c,#000096,#000072,#000058,#000080,#00009a,#000075,#0000bb,#000069,#000059,#0000d1,#000075,#00006e,#000081,#0000be,#0000cd,#0000ff,#00004a,#00000f,#0000bc,#000074,#00002f,#00009e,#00007d,#000053,#0000b9,#000045,#000051,#000074,#000083,#000069,#0000a2,#000032,#00005d,#000099,#000065,#000043,#000000,#000030,#00006a,#00004b,#00003a,#00007d,#000068,#000031,#000044,#000062,#00005f,#00007c,#000036,#000090,#0000ae,#0000ea,#0000d2,#00007f,#00008c,#00005e,#00003e,#00001f,#000021,#000044,#000066,#00007b,#00009a,#0000a8,#0000af,#00007b,#000096,#0000c4,#0000c8,#000067,#00005c,#000077,#000065,#000015,#00002d,#000033,#00007a,#00003f,#000059,#0000e4,#0000f7,#000077,#00007c,#0000a4,#00006c,#00005a,#000018,#0000a0,#00008d,#00006b,#000080,#000064,#0000b8,#000067,#00007a,#000028,#000061,#00005e,#000092,#000072,#0000e6,#000068,#000082,#000093,#000084,#000090,#000030,#000095,#000099,#00007d,#00003b,#000056,#00000f,#000051,#0000a0,#00002d,#00004f,#00008e,#0000f0,#00005c,#000077,#000011,#0000d3,#00009b,#0000b1,#0000be,#000048,#000039,#0000ad,#000072,#00006a,#0000b5,#000040,#000001,#000092,#000075,#0000ce,#00006f,#0000a8,#00008d,#00007e,#00004f,#000054,#0000b4,#0000a1,#000096,#0000c4,#000063,#000077,#000067,#00005b,#000086,#000075,#00001a,#000031,#000072,#0000a6,#0000a1,#000066,#00004c,#00004c,#000000,#000081,#00005d,#00005a,#000099,#00006a,#00008f,#000054,#000065,#000095,#000073,#000007,#000028,#000042,#000078,#000071,#00001c,#000072,#000046,#000052,#000073,#0000a2,#000042,#000039,#00008b,#000078,#00002f,#00004d,#0000d4,#00006f,#00005b,#000097,#0000e7,#000071,#00008b,#00008d,#00008a,#0000a4,#0000d3,#000091,#00008f,#00009b,#000098,#00007a,#00007a,#0000bc,#0000a0,#00005d,#000099,#0000bb,#0000c6,#000070,#00008e,#00009f,#000072,#000030,#000064,#00006c,#000088,#00006a,#000013,#0000b1,#000085,#000057,#00004f,#000098,#0000b3,#000052,#000084,#0000a9,#0000c6,#0000af,#00002a,#0000cb,#00008b,#0000a6,#000053,#000078,#0000c0,#0000d1,#000016,#000033,#000068,#0000de,#0000ab,#000078,#00009a,#0000ae,#00006b,#000060,#000066,#00001d,#0000c0,#000073,#00003b,#00002b,#000084,#000058,#0000d1,#000086,#000048,#00005b,#00005e,#000090,#000060,#00006e,#00007c,#0000d2,#000093,#00008d,#000056,#000095,#0000c6,#00005f,#000060,#000065,#000035,#000071,#0000b9,#000033,#000074,#000065,#00009c,#000033,#0000a2,#00009b,#0000a0,#0000a7,#00005f,#0000ac,#0000c9,#000033,#0000c1,#0000a5,#000034,#00005f,#000076,#000072,#000084,#000075,#000054,#000043,#000039,#00005a,#00005a,#0000a6,#0000bf,#00006a,#0000b5,#000089,#00004e,#000049,#0000bf,#0000b8,#0000a3,#000075,#000032,#000088,#00001d,#000040,#00008b,#000098,#000091,#000054,#00008b,#000097,#0000bc,#0000b1,#00006e,#000077,#000098,#0000ff,#0000ad,#000064,#0000a2,#000040,#0000a6,#0000c5,#0000d5,#0000c7,#000096,#00008a,#000084,#000087,#00008d,#000092,#000098,#00005e,#000072,#00009e,#0000cd,#000084,#000059,#00005e,#0000b0,#000085,#000037,#000027,#00006a,#0000bc,#00009d,#00006a,#000068,#0000b3,#00007a,#0000cc,#00004e,#00003b,#000083,#0000be,#0000a2,#000070,#000067,#00007a,#00005e,#00009f,#0000af,#00008d,#000061,#000024,#000095,#00005b,#00005f,#000082,#00007e,#000089,#0000db,#000048,#0000e9,#000067,#00007d,#00008f,#0000da,#000065,#000044,#000058,#00003b,#00003b,#0000b6,#00004b,#000053,#00006b,#000032,#000068,#00002c,#0000c0,#0000cd,#0000b7,#0000fb,#000006,#000045,#0000a1,#000074,#000074,#000064,#00007b,#00007c,#000063,#000083,#00009c,#000072,#0000bc,#000068,#000095,#000070,#00008d,#000029,#000086,#000025,#000043,#00006e,#00003b,#0000b1,#000035,#000050,#000072,#000063,#000084,#000067,#000022,#000062,#00007d,#0000cc,#000018,#00003e,#000035,#0000b2,#00005c,#000099,#00007d,#000048,#000082,#0000aa,#000037,#00005e,#00006b,#000016,#000034,#00004a,#00006a,#000075,#00005b,#0000ac,#000073,#000061,#000079,#00008d,#000076,#000034,#00005e,#00009a,#00005f,#00000f,#000060,#000096,#000084,#000089,#0000f1,#00008a,#000069,#000045,#00008a,#000047,#000098,#000070,#00006b,#00002a,#0000b1,#00005d,#00008a,#000067,#000082,#00003c,#00004f,#0000b8,#00005b,#0000aa,#00008a,#000093,#0000aa,#00009d,#000053,#00008e,#0000af,#0000a6,#000086,#00006d,#000036,#00003c,#000067,#000052,#00003f,#00004f,#000035,#00002e,#000061,#00009f,#000097,#000035,#000052,#0000b5,#000000,#000027,#00008a,#00009b,#000076,#00003b,#00005c,#000054,#00001c,#00003f,#000057,#000074,#000095,#0000e0,#00006f,#00006e,#000093,#00009e,#000056,#000032,#000060,#000076,#000073,#000069,#00004b,#0000bc,#000040,#0000b9,#000091,#00003e,#000031,#0000aa,#00008a,#0000e1,#0000dd,#0000ac,#000080,#000046,#0000bb,#000095,#000090,#000057,#000064,#00008d,#000094,#0000be,#0000cb,#000078,#00004d,#0000ad,#000099,#00001a,#00007e,#000035,#000062,#00004a,#0000a2,#000073);-webkit-mask-image:linear-gradient(180deg,#00000000 0px 4px,#00000000 4px 9px,#00000000 9px 13px,#00000000 13px 17px,#00000000 17px 22px,#00000000 22px 26px,#00000000 26px 30px,#00000000 30px 35px,#00000000 35px 39px,#00000000 39px 44px,#00000000 44px 48px,#00000000 48px 52px,#00000000 52px 57px,#00000000 57px 61px,#00000000 61px 65px,#00000000 65px 70px,#00000000 70px 74px,#00000000 74px 78px,#00000000 78px 83px,#00000000 83px 87px,#00000000 87px 92px,#00000000 92px 96px,#00000000 96px 100px,#00000000 100px 105px,#00000000 105px 109px,#00000000 109px 113px,#00000000 113px 118px,#00000000 118px 122px,#00000000 122px 126px,#00000000 126px 131px,#00000000 131px 135px,#00000000 135px 140px,#00000000 140px 144px,#00000000 144px 148px,#00000000 148px 153px,#00000000 153px 157px,#00000000 157px 161px,#00000000 161px 166px,#00000000 166px 170px,#00000000 170px 174px,#00000000 174px 179px,#00000000 179px 183px,#00000000 183px 188px,#00000000 188px 192px,#00000000 192px 196px,#00000000 196px 201px,#00000000 201px 205px,#00000000 205px 209px,#00000000 209px 214px,#00000000 214px 218px,#00000000 218px 222px,#00000000 222px 227px,#00000000 227px 231px,#00000000 231px 236px,#00000000 236px 240px,#00000000 240px 244px,#00000000 244px 249px,#00000000 249px 253px,#00000000 253px 257px,#00000000 257px 262px,#00000000 262px 266px,#00000000 266px 271px,#00000000 271px 275px,#00000000 275px 279px,#00000000 279px 284px,#00000000 284px 288px,#00000000 288px 292px,#00000000 292px 297px,#00000000 297px 301px,#00000000 301px 305px,#00000000 305px 310px,#00000000 310px 314px,#00000000 314px 319px,#00000000 319px 323px,#00000000 323px 327px,#00000000 327px 332px,#00000000 332px 336px,#00000000 336px 340px,#00000000 340px 345px,#00000000 345px 349px,#00000000 349px 353px,#00000000 353px 358px,#00000000 358px 362px,#00000000 362px 367px,#00000000 367px 371px,#00000000 371px 375px,#00000000 375px 380px,#00000087 380px 384px,#00000000 384px 388px,#00000000 388px 393px,#00000000 393px 397px,#00000000 397px 401px,#00000000 401px 406px,#00000000 406px 410px,#00000000 410px 415px,#00000000 415px 419px,#00000000 419px 425px,#00000000 425px 431px,#00000000 431px 437px,#00000080 437px 443px,#00000000 443px 449px,#00000000 449px 454px,#00000000 454px 460px,#00000000 460px 466px,#00000000 466px 472px,#00000000 472px 478px,#00000000 478px 484px,#00000000 484px 490px,#00000000 490px 496px,#00000000 496px 501px,#00000000 501px 507px,#00000000 507px 513px,#00000000 513px 519px,#00000000 519px 525px,#00000000 525px 531px,#00000000 531px 537px,#00000000 537px 542px,#00000000 542px 548px,#00000000 548px 554px,#00000000 554px 560px,#00000000 560px 566px,#00000000 566px 572px,#00000000 572px 578px,#00000000 578px 584px,#00000000 584px 589px,#00000000 589px 595px,#00000073 595px 601px,#00000000 601px 607px);mask-image:linear-gradient(180deg,#00000000 0px 4px,#00000000 4px 9px,#00000000 9px 13px,#00000000 13px 17px,#00000000 17px 22px,#00000000 22px 26px,#00000000 26px 30px,#00000000 30px 35px,#00000000 35px 39px,#00000000 39px 44px,#00000000 44px 48px,#00000000 48px 52px,#00000000 52px 57px,#00000000 57px 61px,#00000000 61px 65px,#00000000 65px 70px,#00000000 70px 74px,#00000000 74px 78px,#00000000 78px 83px,#00000000 83px 87px,#00000000 87px 92px,#00000000 92px 96px,#00000000 96px 100px,#00000000 100px 105px,#00000000 105px 109px,#00000000 109px 113px,#00000000 113px 118px,#00000000 118px 122px,#00000000 122px 126px,#00000000 126px 131px,#00000000 131px 135px,#00000000 135px 140px,#00000000 140px 144px,#00000000 144px 148px,#00000000 148px 153px,#00000000 153px 157px,#00000000 157px 161px,#00000000 161px 166px,#00000000 166px 170px,#00000000 170px 174px,#00000000 174px 179px,#00000000 179px 183px,#00000000 183px 188px,#00000000 188px 192px,#00000000 192px 196px,#00000000 196px 201px,#00000000 201px 205px,#00000000 205px 209px,#00000000 209px 214px,#00000000 214px 218px,#00000000 218px 222px,#00000000 222px 227px,#00000000 227px 231px,#00000000 231px 236px,#00000000 236px 240px,#00000000 240px 244px,#00000000 244px 249px,#00000000 249px 253px,#00000000 253px 257px,#00000000 257px 262px,#00000000 262px 266px,#00000000 266px 271px,#00000000 271px 275px,#00000000 275px 279px,#00000000 279px 284px,#00000000 284px 288px,#00000000 288px 292px,#00000000 292px 297px,#00000000 297px 301px,#00000000 301px 305px,#00000000 305px 310px,#00000000 310px 314px,#00000000 314px 319px,#00000000 319px 323px,#00000000 323px 327px,#00000000 327px 332px,#00000000 332px 336px,#00000000 336px 340px,#00000000 340px 345px,#00000000 345px 349px,#00000000 349px 353px,#00000000 353px 358px,#00000000 358px 362px,#00000000 362px 367px,#00000000 367px 371px,#00000000 371px 375px,#00000000 375px 380px,#00000087 380px 384px,#00000000 384px 388px,#00000000 388px 393px,#00000000 393px 397px,#00000000 397px 401px,#00000000 401px 406px,#00000000 406px 410px,#00000000 410px 415px,#00000000 415px 419px,#00000000 419px 425px,#00000000 425px 431px,#00000000 431px 437px,#00000080 437px 443px,#00000000 443px 449px,#00000000 449px 454px,#00000000 454px 460px,#00000000 460px 466px,#00000000 466px 472px,#00000000 472px 478px,#00000000 478px 484px,#00000000 484px 490px,#00000000 490px 496px,#00000000 496px 501px,#00000000 501px 507px,#00000000 507px 513px,#00000000 513px 519px,#00000000 519px 525px,#00000000 525px 531px,#00000000 531px 537px,#00000000 537px 542px,#00000000 542px 548px,#00000000 548px 554px,#00000000 554px 560px,#00000000 560px 566px,#00000000 566px 572px,#00000000 572px 578px,#00000000 578px 584px,#00000000 584px 589px,#00000000 589px 595px,#00000073 595px 601px,#00000000 601px 607px)}
#ed{position:absolute;left:935px;top:56px;width:34px;height:607px;background:linear-gradient(180deg,#000004 0px,#000004 330px,#05030f 440px,#0c0826 480px,#1c0a44 510px,#2e0b58 560px,#3c0a64 600px,#2a0b52 607px);-webkit-mask-image:linear-gradient(90deg,rgba(0,0,0,0) 0px,rgba(0,0,0,0) 13px,rgba(0,0,0,.85) 19px,#000 23px);mask-image:linear-gradient(90deg,rgba(0,0,0,0) 0px,rgba(0,0,0,0) 13px,rgba(0,0,0,.85) 19px,#000 23px)}
#cb{position:absolute;left:1021px;top:56px;width:30px;height:607px;background:linear-gradient(180deg,#fcffa4 0.00%,#f3f586 3.12%,#f2e865 6.25%,#f5d949 9.38%,#f9c932 12.50%,#fbba1f 15.62%,#fcaa0f 18.75%,#fb9b06 21.88%,#f98c0a 25.00%,#f67e14 28.12%,#f1711f 31.25%,#eb6429 34.38%,#e35933 37.50%,#da4e3c 40.62%,#d04545 43.75%,#c63d4d 46.88%,#bc3754 50.00%,#b0315b 53.12%,#a32c61 56.25%,#972766 59.38%,#8a226a 62.50%,#7d1e6d 65.62%,#71196e 68.75%,#64156e 71.88%,#57106e 75.00%,#4a0c6b 78.12%,#3d0965 81.25%,#2f0a5b 84.38%,#210c4a 87.50%,#150b37 90.62%,#0b0724 93.75%,#040312 96.88%,#000004 100.00%)}
svg{position:absolute;left:0;top:0;will-change:transform}
text{font-family:"Liberation Sans",sans-serif;fill:#000;stroke:#000;stroke-width:0.3px}
</style></head><body>
<svg width="0" height="0" style="position:absolute;left:0;top:0"><defs>
<filter id="cm" x="0" y="0" width="1" height="1" color-interpolation-filters="sRGB">
<feColorMatrix type="matrix" values="1.08959 0.06810 0.80000 0 -0.37030 1.08959 0.06810 0.80000 0 -0.37030 1.08959 0.06810 0.80000 0 -0.37030 0 0 0 0 1"/>
<feComponentTransfer><feFuncR type="table" tableValues="0.0000 0.0078 0.0157 0.0275 0.0431 0.0627 0.0824 0.1059 0.1294 0.1569 0.1843 0.2118 0.2392 0.2667 0.2902 0.3176 0.3412 0.3647 0.3922 0.4157 0.4431 0.4667 0.4902 0.5176 0.5412 0.5647 0.5922 0.6157 0.6392 0.6627 0.6902 0.7137 0.7373 0.7529 0.7765 0.7961 0.8157 0.8353 0.8549 0.8745 0.8902 0.9059 0.9216 0.9333 0.9451 0.9529 0.9647 0.9725 0.9765 0.9804 0.9843 0.9882 0.9882 0.9882 0.9843 0.9804 0.9765 0.9686 0.9608 0.9569 0.9490 0.9451 0.9529 0.9647 0.9882"/><feFuncG type="table" tableValues="0.0000 0.0039 0.0118 0.0196 0.0275 0.0353 0.0431 0.0471 0.0471 0.0431 0.0392 0.0353 0.0353 0.0392 0.0471 0.0549 0.0627 0.0706 0.0824 0.0902 0.0980 0.1098 0.1176 0.1255 0.1333 0.1451 0.1529 0.1608 0.1725 0.1804 0.1922 0.2039 0.2157 0.2275 0.2392 0.2549 0.2706 0.2902 0.3059 0.3255 0.3490 0.3686 0.3922 0.4157 0.4431 0.4706 0.4941 0.5216 0.5490 0.5804 0.6078 0.6392 0.6667 0.6980 0.7294 0.7608 0.7882 0.8196 0.8510 0.8824 0.9098 0.9373 0.9608 0.9804 1.0000"/><feFuncB type="table" tableValues="0.0157 0.0392 0.0706 0.1059 0.1412 0.1765 0.2157 0.2549 0.2902 0.3255 0.3569 0.3804 0.3961 0.4078 0.4196 0.4235 0.4314 0.4314 0.4314 0.4314 0.4314 0.4275 0.4275 0.4196 0.4157 0.4078 0.4000 0.3922 0.3804 0.3686 0.3569 0.3451 0.3294 0.3176 0.3020 0.2863 0.2706 0.2549 0.2353 0.2157 0.2000 0.1804 0.1608 0.1412 0.1216 0.0980 0.0784 0.0588 0.0392 0.0275 0.0235 0.0353 0.0588 0.0863 0.1216 0.1569 0.1961 0.2392 0.2863 0.3373 0.3961 0.4588 0.5255 0.5882 0.6431"/><feFuncA type="table" tableValues="1 1"/></feComponentTransfer>
</filter></defs></svg>
<div id="sp">
<i style="top:0px;height:4px;background:linear-gradient(90deg,#000,#000,#000,#000,#010,#060,#060,#030,#0f0,#1c0,#390,#510,#200,#000,#110,#340,#340,#330,#2b0,#260,#170,#0d0,#150,#180,#1c0,#1c0,#250,#260,#1a0,#0a0,#000,#000,#290,#5a0,#410,#350,#250,#220,#450,#500,#340,#220,#1a0,#150,#190,#160,#0f0,#060,#130,#1e0,#210,#140,#040,#050,#2b0,#440,#430,#2e0,#030,#000,#300,#490,#500,#460,#3a0,#2d0,#260,#120,#000,#000,#090,#0e0,#050,#060,#020,#160,#3c0,#460,#3a0,#220,#0c0,#190,#3c0,#4a0,#380,#320,#300,#270,#1e0,#1f0,#250,#1f0,#160,#140,#1b0,#180,#1a0,#1e0,#240,#260,#1e0,#1f0,#240,#1e0,#130,#190,#250,#240,#270,#210,#1d0,#230,#240,#280,#2f0,#270,#1d0,#220,#2b0,#2b0,#260,#380,#4a0,#370,#270,#3a0,#4d0,#4c0,#420,#2f0,#1e0,#220,#230,#250,#240,#1c0,#190,#1f0,#270,#260,#270,#230,#1b0,#2f0,#430,#3d0,#340,#430,#4e0,#400,#360,#2c0,#220,#260,#260,#210,#1b0,#0d0,#050,#000,#000,#010,#0f0,#1d0,#1e0,#220,#1e0)"></i>
<i style="top:4px;height:5px;background:linear-gradient(90deg,#000,#000,#000,#000,#030,#0e0,#070,#050,#0f0,#210,#390,#500,#200,#000,#160,#370,#370,#380,#2d0,#220,#170,#0e0,#180,#1e0,#1d0,#1c0,#260,#230,#180,#0d0,#000,#000,#2b0,#5a0,#3f0,#310,#240,#250,#470,#550,#370,#270,#190,#180,#1c0,#150,#0d0,#070,#160,#1e0,#1b0,#120,#030,#030,#2b0,#440,#460,#330,#050,#050,#2f0,#4f0,#4d0,#4b0,#3b0,#320,#240,#140,#000,#000,#0f0,#0e0,#090,#030,#040,#1c0,#3f0,#480,#3f0,#240,#0b0,#1b0,#430,#450,#380,#340,#320,#260,#230,#210,#250,#200,#160,#150,#1f0,#1f0,#210,#1f0,#260,#260,#1d0,#1e0,#250,#210,#150,#190,#250,#230,#2d0,#220,#1e0,#1f0,#240,#2b0,#300,#290,#1a0,#210,#320,#2a0,#260,#3a0,#4d0,#3e0,#2a0,#380,#4b0,#4a0,#460,#330,#200,#220,#270,#270,#260,#1f0,#1e0,#230,#290,#260,#230,#220,#1f0,#310,#490,#3d0,#340,#410,#4d0,#420,#360,#2c0,#270,#240,#2d0,#200,#190,#0e0,#080,#000,#000,#000,#120,#220,#220,#1d0,#200)"></i>
<i style="top:9px;height:4px;background:linear-gradient(90deg,#000,#000,#000,#000,#020,#0e0,#0f0,#050,#110,#1f0,#3c0,#500,#1f0,#000,#170,#390,#390,#340,#2f0,#230,#1b0,#0d0,#180,#1d0,#1e0,#200,#210,#250,#1c0,#0d0,#000,#000,#2d0,#540,#460,#360,#280,#240,#470,#540,#3d0,#280,#190,#120,#1b0,#190,#100,#060,#170,#230,#1c0,#170,#010,#050,#2f0,#470,#3e0,#330,#0a0,#010,#340,#4c0,#4e0,#4a0,#3a0,#2f0,#270,#150,#000,#000,#0c0,#170,#0e0,#060,#050,#190,#3a0,#470,#390,#290,#100,#1d0,#3f0,#430,#3c0,#320,#350,#2c0,#260,#230,#270,#240,#1b0,#150,#1d0,#1d0,#1c0,#240,#260,#230,#220,#210,#260,#1f0,#170,#190,#290,#2a0,#270,#260,#210,#210,#2a0,#2c0,#340,#2a0,#200,#2a0,#2e0,#2b0,#2a0,#380,#4c0,#3e0,#290,#3f0,#4d0,#480,#470,#310,#220,#200,#280,#2b0,#270,#210,#1f0,#250,#2a0,#290,#2a0,#200,#1b0,#360,#480,#3e0,#370,#3f0,#4d0,#420,#380,#290,#280,#280,#290,#210,#1a0,#0f0,#040,#010,#040,#050,#140,#1d0,#1f0,#1f0,#220)"></i>
<i style="top:13px;height:4px;background:linear-gradient(90deg,#000,#000,#000,#000,#020,#0e0,#0c0,#0a0,#170,#1e0,#3f0,#540,#1e0,#000,#170,#360,#350,#370,#2e0,#270,#1e0,#120,#1a0,#200,#1c0,#1f0,#210,#2a0,#1d0,#0e0,#000,#000,#300,#560,#490,#320,#2b0,#290,#440,#570,#3d0,#280,#1e0,#1b0,#1f0,#1d0,#0f0,#0b0,#160,#200,#220,#180,#0b0,#0b0,#320,#440,#490,#360,#0d0,#040,#370,#500,#4f0,#470,#3d0,#310,#260,#150,#000,#000,#0d0,#150,#0b0,#090,#060,#1e0,#400,#460,#3d0,#290,#110,#1f0,#420,#4a0,#390,#320,#370,#2d0,#200,#250,#260,#250,#180,#1c0,#240,#1f0,#210,#230,#240,#240,#1f0,#250,#250,#210,#170,#1c0,#280,#280,#2a0,#230,#230,#240,#260,#2c0,#350,#260,#250,#280,#350,#300,#280,#3a0,#470,#3d0,#2b0,#3b0,#4c0,#4a0,#440,#370,#230,#280,#290,#2c0,#280,#260,#1f0,#280,#2a0,#290,#2d0,#220,#210,#350,#490,#410,#380,#430,#4a0,#400,#340,#2d0,#280,#280,#2c0,#240,#210,#110,#090,#010,#000,#020,#120,#210,#210,#250,#200)"></i>
<i style="top:17px;height:5px;background:linear-gradient(90deg,#000,#000,#000,#000,#080,#0b0,#090,#0a0,#150,#230,#3d0,#540,#200,#000,#1c0,#3a0,#340,#380,#360,#280,#1e0,#110,#1e0,#1e0,#220,#250,#260,#2b0,#1f0,#100,#000,#000,#2f0,#580,#430,#340,#270,#250,#450,#560,#3d0,#290,#1e0,#150,#1f0,#1d0,#100,#0e0,#150,#200,#220,#1a0,#0b0,#090,#2f0,#440,#460,#340,#070,#080,#2f0,#4e0,#4e0,#4b0,#3f0,#320,#290,#140,#000,#000,#120,#160,#0b0,#0c0,#0b0,#190,#3c0,#450,#3d0,#2e0,#0f0,#210,#3f0,#4b0,#3c0,#350,#370,#2d0,#250,#1e0,#260,#240,#1c0,#1c0,#1c0,#1e0,#1f0,#240,#290,#260,#220,#250,#280,#270,#180,#1e0,#280,#2a0,#270,#260,#250,#240,#2a0,#300,#300,#290,#210,#290,#2d0,#2f0,#270,#370,#4d0,#430,#290,#3b0,#500,#4a0,#460,#320,#200,#230,#2d0,#2b0,#2a0,#240,#200,#250,#290,#2b0,#290,#250,#250,#370,#4a0,#3d0,#370,#410,#4e0,#420,#370,#300,#2b0,#2b0,#2b0,#250,#200,#130,#070,#030,#000,#040,#140,#1d0,#220,#250,#220)"></i>
<i style="top:22px;height:4px;background:linear-gradient(90deg,#000,#000,#000,#000,#070,#0e0,#0c0,#0b0,#150,#1e0,#3b0,#560,#220,#000,#1c0,#380,#370,#380,#300,#250,#1d0,#140,#1c0,#230,#210,#240,#290,#250,#1d0,#110,#010,#000,#320,#570,#450,#370,#2b0,#2b0,#4a0,#550,#3c0,#290,#200,#1a0,#210,#210,#110,#100,#190,#210,#210,#1a0,#0b0,#0a0,#300,#480,#420,#370,#0a0,#070,#340,#520,#490,#480,#430,#320,#290,#160,#000,#000,#0e0,#160,#0e0,#0b0,#0e0,#1c0,#3e0,#470,#3b0,#2a0,#170,#200,#430,#470,#3c0,#3a0,#360,#2f0,#260,#220,#280,#260,#1c0,#1a0,#200,#230,#1e0,#250,#290,#2b0,#210,#270,#290,#270,#1a0,#1d0,#260,#2c0,#2b0,#250,#260,#250,#2a0,#2f0,#300,#270,#200,#290,#300,#2e0,#2a0,#3b0,#4b0,#3f0,#2d0,#3b0,#4b0,#4b0,#430,#360,#230,#250,#280,#270,#280,#280,#220,#230,#2a0,#2a0,#2b0,#270,#1e0,#310,#450,#400,#370,#470,#4f0,#410,#3b0,#330,#280,#2b0,#270,#270,#210,#170,#080,#030,#030,#080,#130,#1f0,#210,#1f0,#1e0)"></i>
<i style="top:26px;height:4px;background:linear-gradient(90deg,#000,#000,#000,#000,#080,#120,#110,#0b0,#160,#250,#400,#510,#260,#000,#1c0,#3a0,#3c0,#390,#320,#2b0,#1f0,#170,#1e0,#230,#230,#230,#240,#2a0,#1f0,#140,#000,#000,#300,#590,#490,#320,#290,#2a0,#440,#550,#3f0,#290,#1f0,#190,#210,#1d0,#120,#100,#180,#230,#210,#1e0,#0d0,#0d0,#310,#450,#460,#340,#090,#0b0,#350,#4f0,#4e0,#4a0,#3e0,#320,#2c0,#1a0,#010,#000,#120,#150,#140,#0d0,#0b0,#1c0,#3d0,#440,#3c0,#2b0,#140,#1d0,#3f0,#460,#3b0,#3a0,#330,#320,#250,#1e0,#2d0,#250,#1a0,#1b0,#1e0,#210,#220,#270,#260,#280,#220,#230,#270,#220,#1c0,#200,#260,#290,#2c0,#240,#200,#2b0,#2c0,#2c0,#320,#2c0,#240,#260,#320,#2d0,#2a0,#3b0,#4b0,#420,#2b0,#3b0,#4c0,#4b0,#460,#360,#230,#270,#290,#300,#2a0,#250,#270,#240,#2b0,#2c0,#2d0,#220,#230,#360,#460,#3f0,#390,#420,#4f0,#460,#380,#320,#2d0,#2f0,#2c0,#280,#200,#150,#0c0,#030,#060,#090,#120,#1d0,#220,#1f0,#1c0)"></i>
<i style="top:30px;height:5px;background:linear-gradient(90deg,#000,#000,#000,#000,#070,#150,#120,#0e0,#190,#240,#400,#500,#250,#000,#190,#380,#350,#360,#300,#290,#1c0,#190,#1c0,#210,#240,#240,#270,#290,#210,#110,#010,#000,#340,#590,#470,#380,#260,#2f0,#460,#540,#3e0,#280,#200,#1d0,#1f0,#1d0,#180,#0c0,#1b0,#250,#220,#200,#090,#0d0,#300,#490,#410,#330,#0f0,#060,#340,#4f0,#4d0,#4a0,#3d0,#360,#260,#1a0,#010,#030,#120,#180,#120,#0b0,#0d0,#200,#3e0,#480,#3d0,#2a0,#150,#1f0,#410,#4a0,#3b0,#390,#340,#2e0,#290,#230,#270,#260,#1f0,#1b0,#220,#200,#230,#270,#2a0,#290,#220,#250,#2b0,#250,#1d0,#210,#280,#2d0,#2f0,#260,#230,#250,#290,#300,#360,#2d0,#250,#2a0,#300,#330,#2b0,#3b0,#490,#400,#300,#3f0,#4e0,#4d0,#4a0,#380,#230,#260,#2d0,#2d0,#2e0,#2a0,#230,#250,#2c0,#2a0,#2e0,#270,#210,#340,#460,#400,#3a0,#440,#4c0,#440,#370,#310,#2a0,#2c0,#2b0,#280,#250,#170,#0f0,#010,#050,#080,#120,#1c0,#220,#1d0,#1e0)"></i>
<i style="top:35px;height:4px;background:linear-gradient(90deg,#000,#000,#000,#010,#0b0,#120,#0e0,#0d0,#1c0,#230,#3e0,#550,#250,#000,#1f0,#380,#380,#3e0,#300,#2a0,#230,#170,#1c0,#210,#220,#260,#280,#2d0,#210,#130,#000,#000,#340,#5a0,#450,#320,#2a0,#260,#460,#540,#3d0,#290,#230,#1c0,#220,#200,#130,#160,#1b0,#200,#230,#1f0,#0c0,#0e0,#2d0,#450,#480,#3c0,#0e0,#0a0,#350,#510,#4f0,#480,#3d0,#340,#2d0,#1e0,#060,#020,#130,#150,#120,#0f0,#0e0,#210,#410,#460,#420,#2b0,#1a0,#210,#420,#4a0,#3b0,#360,#300,#2e0,#230,#260,#290,#290,#1f0,#1e0,#210,#220,#260,#260,#2b0,#2a0,#250,#200,#2a0,#270,#1c0,#1f0,#290,#2c0,#2b0,#2b0,#220,#2b0,#2b0,#2f0,#320,#2f0,#260,#2a0,#320,#320,#2c0,#380,#4c0,#3e0,#2e0,#3b0,#4d0,#4a0,#460,#350,#210,#280,#2b0,#270,#270,#270,#290,#2c0,#2c0,#2c0,#2b0,#290,#200,#340,#470,#400,#390,#460,#520,#420,#390,#320,#2b0,#2c0,#2c0,#270,#230,#160,#110,#080,#060,#090,#130,#200,#230,#1f0,#1e0)"></i>
<i style="top:39px;height:5px;background:linear-gradient(90deg,#000,#000,#000,#020,#0b0,#170,#110,#120,#1a0,#2a0,#420,#540,#240,#000,#1a0,#390,#380,#370,#300,#2a0,#1f0,#160,#1e0,#230,#220,#260,#280,#2f0,#220,#140,#030,#000,#310,#550,#490,#360,#2e0,#2d0,#450,#560,#400,#2a0,#220,#1f0,#200,#210,#160,#120,#1d0,#240,#240,#1d0,#0d0,#100,#310,#480,#460,#3b0,#130,#0e0,#3b0,#510,#4a0,#4d0,#3f0,#320,#2b0,#1a0,#040,#060,#160,#160,#120,#150,#0d0,#220,#430,#490,#3d0,#2a0,#1a0,#210,#420,#490,#3d0,#390,#330,#2e0,#270,#250,#2c0,#270,#250,#200,#1d0,#240,#250,#280,#290,#240,#270,#280,#2c0,#290,#1e0,#210,#290,#2d0,#300,#290,#240,#2c0,#2c0,#340,#340,#2f0,#260,#270,#320,#330,#2d0,#390,#4a0,#3f0,#2f0,#3c0,#4e0,#4a0,#4b0,#310,#250,#290,#290,#300,#2a0,#260,#270,#250,#2d0,#2c0,#2c0,#2b0,#250,#350,#460,#3e0,#3a0,#410,#4e0,#420,#360,#310,#2f0,#2b0,#2d0,#2e0,#250,#190,#0f0,#0b0,#050,#0b0,#170,#1e0,#1c0,#1e0,#200)"></i>
<i style="top:44px;height:4px;background:linear-gradient(90deg,#000,#000,#000,#070,#0e0,#160,#120,#110,#190,#2a0,#3f0,#540,#260,#000,#1f0,#390,#360,#3d0,#340,#2b0,#220,#1c0,#210,#260,#240,#230,#2e0,#2c0,#240,#180,#040,#010,#350,#580,#480,#380,#290,#2c0,#490,#550,#3c0,#2a0,#200,#1e0,#250,#200,#1a0,#150,#1c0,#260,#240,#240,#0f0,#100,#330,#460,#460,#390,#140,#100,#370,#4b0,#4e0,#460,#3c0,#320,#2b0,#190,#080,#020,#140,#1b0,#170,#110,#100,#220,#410,#480,#3f0,#300,#1a0,#220,#3f0,#480,#410,#390,#350,#330,#280,#260,#2d0,#290,#210,#1b0,#240,#230,#250,#280,#2f0,#270,#220,#2e0,#2b0,#280,#200,#250,#2b0,#300,#2b0,#290,#270,#270,#310,#320,#370,#2d0,#290,#2d0,#350,#340,#2e0,#380,#4e0,#430,#340,#3e0,#4f0,#470,#470,#370,#230,#250,#280,#310,#2e0,#250,#230,#280,#2f0,#2a0,#2c0,#2c0,#260,#370,#460,#3b0,#3b0,#460,#4e0,#420,#3b0,#350,#2c0,#260,#2c0,#2a0,#250,#170,#0e0,#0b0,#080,#0b0,#170,#1e0,#220,#220,#230)"></i>
<i style="top:48px;height:4px;background:linear-gradient(90deg,#000,#000,#000,#080,#0f0,#140,#130,#170,#1a0,#2a0,#3e0,#530,#240,#050,#230,#3c0,#3f0,#3a0,#340,#2d0,#260,#210,#1f0,#270,#290,#290,#2d0,#2d0,#220,#170,#090,#010,#360,#5a0,#450,#3a0,#300,#310,#480,#530,#430,#2f0,#230,#1f0,#240,#230,#1b0,#180,#1f0,#270,#280,#220,#100,#150,#340,#4a0,#470,#390,#0f0,#0e0,#360,#540,#510,#4d0,#400,#370,#2c0,#1c0,#080,#060,#170,#1d0,#150,#160,#120,#260,#440,#4c0,#400,#2f0,#1c0,#240,#440,#4a0,#3f0,#390,#380,#2b0,#270,#290,#2d0,#290,#1f0,#230,#280,#230,#290,#2b0,#310,#2e0,#270,#280,#300,#280,#1f0,#250,#2e0,#2f0,#2f0,#2c0,#280,#2c0,#2d0,#340,#350,#2d0,#260,#370,#390,#380,#310,#390,#4a0,#460,#2f0,#3b0,#500,#4e0,#4c0,#380,#270,#290,#320,#2e0,#300,#2b0,#240,#2b0,#2f0,#2f0,#2f0,#2f0,#250,#340,#430,#430,#3c0,#460,#4f0,#480,#3b0,#330,#2f0,#310,#300,#2a0,#250,#1a0,#110,#0c0,#070,#120,#150,#1e0,#230,#230,#200)"></i>
<i style="top:52px;height:5px;background:linear-gradient(90deg,#000,#000,#010,#080,#100,#190,#150,#180,#200,#2c0,#420,#560,#2c0,#070,#230,#3f0,#3e0,#3c0,#360,#2f0,#250,#220,#270,#2a0,#280,#290,#2b0,#2e0,#230,#1f0,#0c0,#030,#370,#5a0,#490,#3c0,#2e0,#2e0,#4b0,#530,#3f0,#2f0,#260,#260,#250,#240,#190,#1a0,#230,#290,#290,#260,#150,#160,#390,#480,#4d0,#3b0,#170,#130,#3b0,#530,#510,#4d0,#420,#370,#2c0,#1f0,#0d0,#0a0,#190,#1f0,#1b0,#170,#1a0,#280,#440,#4c0,#410,#2e0,#1a0,#280,#470,#4c0,#420,#3c0,#340,#320,#2c0,#2b0,#320,#2b0,#260,#250,#280,#290,#280,#2a0,#2f0,#2d0,#2b0,#2e0,#320,#2a0,#270,#270,#2f0,#300,#310,#2d0,#2f0,#2a0,#2f0,#360,#390,#340,#260,#330,#3b0,#340,#320,#3d0,#500,#410,#310,#400,#4f0,#4f0,#490,#3b0,#2a0,#2e0,#300,#2d0,#330,#2c0,#290,#2f0,#2f0,#330,#330,#2e0,#2c0,#3b0,#480,#3f0,#3f0,#450,#520,#460,#3e0,#370,#310,#2f0,#320,#2a0,#240,#1d0,#130,#110,#0a0,#0f0,#150,#230,#220,#210,#220)"></i>
<i style="top:57px;height:4px;background:linear-gradient(90deg,#010,#000,#030,#090,#130,#1b0,#1c0,#180,#240,#310,#420,#580,#280,#030,#230,#3f0,#400,#3e0,#3c0,#330,#290,#1f0,#280,#2b0,#2b0,#2a0,#2f0,#310,#270,#1e0,#110,#090,#360,#580,#490,#3b0,#340,#320,#4c0,#590,#430,#310,#270,#210,#290,#2c0,#1f0,#190,#250,#2e0,#290,#2a0,#170,#150,#390,#4a0,#490,#3b0,#1a0,#150,#3e0,#4f0,#510,#4f0,#460,#3b0,#2f0,#240,#100,#100,#1c0,#220,#1a0,#170,#1b0,#260,#460,#4e0,#400,#320,#1e0,#2a0,#450,#4c0,#410,#3f0,#3b0,#370,#2d0,#2d0,#320,#2d0,#270,#290,#2a0,#2f0,#2b0,#2e0,#310,#310,#2b0,#2b0,#360,#2a0,#220,#2a0,#330,#340,#310,#330,#2a0,#320,#350,#380,#3a0,#320,#2e0,#350,#380,#370,#330,#410,#4c0,#460,#350,#420,#520,#4f0,#490,#3d0,#2b0,#2e0,#360,#330,#350,#2f0,#290,#330,#310,#320,#360,#330,#2e0,#3a0,#480,#470,#400,#4a0,#540,#4b0,#430,#370,#330,#340,#320,#2c0,#2c0,#220,#130,#100,#0f0,#110,#180,#220,#1e0,#260,#230)"></i>
<i style="top:61px;height:4px;background:linear-gradient(90deg,#020,#000,#030,#0b0,#140,#1c0,#1c0,#1e0,#250,#2f0,#450,#5a0,#2d0,#0d0,#260,#410,#410,#410,#390,#350,#2b0,#240,#230,#2a0,#2d0,#2f0,#340,#340,#2b0,#210,#110,#0b0,#3b0,#5e0,#4a0,#3d0,#370,#320,#4d0,#580,#460,#2e0,#2d0,#2a0,#2c0,#270,#200,#210,#280,#2e0,#2a0,#2b0,#170,#1a0,#370,#4b0,#490,#3f0,#1c0,#1a0,#400,#500,#550,#4f0,#470,#3e0,#360,#260,#120,#100,#1c0,#220,#1c0,#1b0,#1d0,#2c0,#4a0,#4e0,#400,#2f0,#230,#2c0,#470,#4d0,#460,#410,#3b0,#3b0,#300,#320,#360,#2e0,#260,#2b0,#2d0,#300,#2c0,#300,#300,#330,#330,#340,#340,#320,#280,#2d0,#350,#340,#350,#340,#320,#300,#330,#390,#380,#380,#2f0,#330,#3c0,#3f0,#340,#420,#4d0,#480,#390,#400,#510,#4a0,#4c0,#400,#290,#2d0,#350,#3a0,#360,#2f0,#2e0,#300,#330,#360,#360,#350,#2e0,#3f0,#4b0,#440,#420,#490,#540,#480,#440,#3b0,#340,#360,#370,#300,#2c0,#240,#180,#150,#140,#110,#1c0,#250,#210,#220,#240)"></i>
<i style="top:65px;height:5px;background:linear-gradient(90deg,#020,#070,#080,#0f0,#190,#200,#1f0,#1e0,#260,#2f0,#460,#580,#320,#0f0,#2a0,#3f0,#3e0,#3f0,#3d0,#350,#2c0,#260,#2b0,#2d0,#2e0,#2e0,#3d0,#340,#330,#240,#170,#0e0,#3d0,#5b0,#500,#3c0,#360,#330,#4d0,#580,#480,#310,#300,#2c0,#2f0,#2d0,#220,#1e0,#2e0,#2f0,#300,#2a0,#1d0,#200,#380,#4e0,#4b0,#3d0,#1d0,#1b0,#400,#530,#510,#520,#480,#410,#350,#250,#140,#150,#210,#250,#200,#1d0,#1b0,#2c0,#470,#4f0,#490,#380,#250,#2f0,#480,#4f0,#410,#3f0,#450,#390,#320,#320,#340,#330,#270,#2d0,#2f0,#300,#320,#320,#390,#320,#300,#2e0,#3a0,#360,#290,#2a0,#390,#3b0,#350,#310,#300,#320,#340,#3d0,#400,#3a0,#2e0,#360,#400,#3e0,#340,#440,#540,#450,#3a0,#420,#550,#520,#4f0,#400,#330,#370,#360,#340,#350,#340,#2f0,#2e0,#380,#380,#360,#350,#300,#3c0,#4c0,#460,#460,#490,#530,#4a0,#410,#3d0,#360,#3a0,#330,#2e0,#2b0,#250,#1c0,#150,#100,#160,#1b0,#230,#240,#210,#1c0)"></i>
<i style="top:70px;height:4px;background:linear-gradient(90deg,#050,#070,#090,#140,#1c0,#220,#210,#210,#2b0,#330,#490,#570,#2f0,#100,#2d0,#430,#420,#420,#3e0,#380,#2a0,#260,#2a0,#300,#300,#320,#3b0,#350,#350,#280,#180,#110,#3a0,#5e0,#510,#410,#3a0,#3a0,#520,#5b0,#450,#350,#300,#2a0,#310,#310,#270,#1e0,#270,#330,#2e0,#2a0,#1d0,#230,#3e0,#500,#4c0,#410,#200,#1e0,#400,#540,#570,#520,#4c0,#440,#320,#280,#160,#160,#1e0,#260,#210,#1e0,#1f0,#2e0,#4a0,#4a0,#4b0,#3b0,#250,#2a0,#490,#520,#450,#440,#3d0,#3f0,#310,#360,#370,#340,#2c0,#290,#2e0,#300,#350,#300,#3a0,#360,#320,#380,#360,#310,#2e0,#2a0,#370,#360,#3e0,#350,#340,#330,#380,#3b0,#400,#380,#330,#360,#3f0,#3d0,#390,#450,#540,#450,#3b0,#460,#560,#500,#4e0,#440,#350,#340,#3b0,#380,#3a0,#360,#350,#370,#360,#360,#390,#350,#2f0,#410,#4d0,#4a0,#420,#4f0,#560,#4a0,#450,#3e0,#3b0,#3b0,#370,#360,#330,#260,#1f0,#170,#150,#140,#1b0,#220,#1f0,#210,#200)"></i>
<i style="top:74px;height:4px;background:linear-gradient(90deg,#0a0,#080,#0f0,#150,#1b0,#240,#260,#250,#2e0,#340,#4c0,#5a0,#360,#140,#2f0,#430,#450,#480,#410,#350,#320,#2b0,#2d0,#370,#350,#350,#3a0,#390,#2e0,#2b0,#150,#150,#3e0,#5e0,#4e0,#410,#3a0,#3a0,#510,#5c0,#490,#380,#350,#2e0,#330,#320,#290,#250,#2e0,#340,#340,#320,#1f0,#200,#400,#4e0,#4e0,#440,#1f0,#210,#460,#570,#5b0,#530,#4a0,#410,#3a0,#2c0,#180,#190,#270,#290,#220,#250,#250,#310,#4d0,#530,#490,#3a0,#2c0,#330,#4e0,#500,#4a0,#430,#410,#3e0,#390,#360,#390,#380,#300,#320,#320,#340,#330,#370,#380,#3b0,#380,#390,#3b0,#380,#2e0,#330,#360,#3b0,#3c0,#360,#370,#340,#3b0,#3d0,#410,#3c0,#340,#3a0,#420,#3f0,#3a0,#4a0,#560,#480,#390,#450,#580,#550,#500,#450,#350,#390,#380,#3e0,#3a0,#360,#380,#360,#3a0,#3a0,#370,#370,#380,#430,#520,#4a0,#480,#4f0,#590,#4f0,#460,#410,#3a0,#3a0,#400,#3b0,#320,#2b0,#200,#210,#180,#160,#1d0,#200,#210,#1d0,#200)"></i>
<i style="top:78px;height:5px;background:linear-gradient(90deg,#120,#0b0,#160,#1b0,#210,#2d0,#270,#250,#2f0,#390,#510,#5d0,#370,#190,#310,#480,#4a0,#450,#450,#400,#380,#2d0,#360,#340,#380,#3f0,#3a0,#3a0,#390,#2a0,#1d0,#1b0,#410,#5e0,#520,#480,#3f0,#420,#520,#5c0,#4e0,#3c0,#370,#330,#360,#360,#2b0,#2d0,#310,#390,#3a0,#2f0,#260,#280,#430,#510,#4f0,#490,#240,#270,#470,#590,#5b0,#550,#4c0,#420,#3b0,#2f0,#1e0,#1b0,#270,#310,#260,#260,#260,#350,#4f0,#530,#4e0,#400,#2d0,#390,#4b0,#580,#4b0,#430,#460,#400,#3a0,#3b0,#3d0,#370,#300,#320,#380,#380,#3b0,#350,#3e0,#3b0,#380,#3b0,#400,#3a0,#340,#320,#3d0,#3f0,#3e0,#3a0,#380,#3b0,#3e0,#400,#460,#420,#350,#3c0,#3f0,#450,#3c0,#490,#580,#4c0,#3f0,#490,#580,#560,#580,#470,#390,#3d0,#420,#3c0,#430,#390,#370,#3a0,#3f0,#3e0,#3e0,#360,#3a0,#480,#520,#4e0,#460,#520,#5b0,#510,#460,#420,#400,#3c0,#3e0,#3b0,#360,#2e0,#260,#220,#1e0,#180,#1f0,#210,#220,#1f0,#240)"></i>
<i style="top:83px;height:4px;background:linear-gradient(90deg,#120,#110,#180,#1e0,#250,#280,#290,#2a0,#380,#3e0,#500,#5d0,#3e0,#1c0,#370,#4c0,#490,#4d0,#420,#430,#380,#320,#360,#3c0,#390,#3d0,#3f0,#3e0,#390,#2d0,#220,#1d0,#460,#630,#530,#4b0,#400,#3e0,#5a0,#620,#4c0,#430,#370,#340,#380,#380,#320,#2d0,#340,#3e0,#3b0,#350,#2a0,#2c0,#440,#560,#570,#490,#2f0,#280,#480,#590,#5a0,#570,#510,#490,#3c0,#300,#240,#230,#2e0,#2e0,#2a0,#2e0,#2a0,#3a0,#500,#550,#510,#430,#340,#390,#4f0,#560,#510,#480,#490,#440,#3a0,#3d0,#450,#410,#360,#340,#380,#3b0,#3b0,#3f0,#430,#400,#3d0,#3e0,#420,#3e0,#350,#390,#400,#460,#420,#410,#3a0,#3c0,#410,#440,#4a0,#410,#3a0,#400,#470,#430,#420,#4d0,#5c0,#540,#400,#4b0,#5b0,#5b0,#540,#480,#3c0,#3e0,#410,#420,#400,#3c0,#3c0,#3e0,#400,#3d0,#400,#400,#3e0,#4b0,#560,#510,#4d0,#550,#5e0,#530,#4b0,#440,#420,#400,#400,#3d0,#3c0,#2f0,#260,#260,#200,#1d0,#1a0,#1b0,#1f0,#250,#200)"></i>
<i style="top:87px;height:5px;background:linear-gradient(90deg,#170,#140,#180,#1d0,#2a0,#330,#2c0,#2d0,#390,#3f0,#4c0,#600,#3e0,#240,#360,#4f0,#4c0,#480,#480,#460,#3b0,#360,#3b0,#420,#3d0,#3d0,#450,#440,#3e0,#330,#220,#210,#4a0,#640,#540,#490,#440,#440,#5b0,#680,#530,#400,#3b0,#3d0,#390,#3c0,#350,#310,#350,#3f0,#3d0,#3b0,#2b0,#2d0,#440,#580,#570,#490,#2e0,#2a0,#490,#5c0,#5c0,#580,#520,#4a0,#430,#360,#290,#290,#300,#360,#320,#2f0,#2f0,#3d0,#550,#5c0,#500,#450,#340,#3f0,#540,#5a0,#4f0,#4c0,#4b0,#450,#430,#410,#440,#430,#3a0,#3b0,#3d0,#3f0,#3d0,#410,#420,#430,#3d0,#430,#450,#400,#380,#3c0,#430,#440,#430,#420,#3e0,#400,#450,#490,#4b0,#450,#3e0,#410,#480,#460,#420,#4d0,#5c0,#520,#450,#500,#5b0,#5a0,#590,#490,#3f0,#420,#410,#450,#470,#430,#3b0,#410,#460,#450,#470,#400,#3e0,#500,#560,#500,#4f0,#580,#5d0,#560,#4b0,#4a0,#460,#420,#470,#430,#3d0,#320,#300,#2c0,#220,#1d0,#1f0,#250,#220,#1c0,#1f0)"></i>
<i style="top:92px;height:4px;background:linear-gradient(90deg,#1a0,#1b0,#1e0,#250,#2f0,#380,#390,#300,#3c0,#420,#560,#610,#420,#230,#420,#520,#500,#520,#4d0,#470,#400,#350,#400,#3f0,#410,#460,#480,#450,#410,#350,#270,#260,#4a0,#6a0,#590,#4f0,#460,#460,#580,#650,#560,#470,#410,#3a0,#3e0,#3f0,#390,#310,#3f0,#400,#420,#3a0,#300,#360,#4c0,#580,#550,#4f0,#350,#340,#4e0,#630,#600,#590,#580,#4d0,#430,#3e0,#270,#2a0,#320,#3b0,#320,#300,#340,#400,#540,#5a0,#520,#450,#3b0,#420,#530,#600,#540,#4d0,#4d0,#4b0,#430,#470,#410,#430,#3c0,#3e0,#400,#410,#420,#470,#440,#430,#410,#4a0,#4a0,#430,#3e0,#420,#450,#460,#490,#450,#420,#450,#450,#490,#4b0,#490,#430,#470,#490,#4f0,#4a0,#580,#5f0,#540,#4a0,#530,#5e0,#600,#570,#520,#450,#440,#450,#490,#4a0,#420,#420,#470,#470,#450,#480,#480,#440,#500,#5d0,#5a0,#520,#5a0,#5f0,#5b0,#500,#4c0,#490,#480,#4a0,#460,#3d0,#3d0,#310,#2c0,#2a0,#1e0,#220,#220,#200,#230,#1d0)"></i>
<i style="top:96px;height:4px;background:linear-gradient(90deg,#1f0,#220,#210,#280,#2f0,#380,#340,#350,#3e0,#430,#560,#670,#4a0,#280,#430,#540,#510,#550,#4e0,#4a0,#430,#3f0,#3f0,#420,#490,#430,#480,#480,#460,#3d0,#300,#280,#500,#6b0,#5c0,#530,#4c0,#490,#5b0,#680,#550,#460,#400,#3d0,#420,#3f0,#380,#380,#400,#450,#460,#420,#350,#350,#4b0,#5b0,#5d0,#4f0,#380,#310,#510,#630,#620,#610,#570,#4b0,#480,#3e0,#2d0,#2b0,#380,#3b0,#390,#340,#370,#420,#590,#5c0,#540,#490,#3d0,#420,#5a0,#610,#570,#530,#4f0,#4d0,#460,#490,#4c0,#440,#430,#410,#450,#440,#430,#470,#480,#470,#400,#460,#4b0,#460,#440,#470,#470,#4b0,#480,#460,#440,#430,#4a0,#4e0,#510,#4b0,#450,#490,#4d0,#500,#470,#570,#620,#590,#4d0,#540,#630,#600,#5e0,#4e0,#450,#480,#4a0,#4b0,#4c0,#470,#410,#4c0,#480,#4d0,#490,#490,#470,#540,#5a0,#590,#540,#5d0,#600,#5e0,#540,#500,#4e0,#490,#4b0,#4a0,#440,#3d0,#360,#310,#280,#220,#200,#220,#230,#200,#220)"></i>
<i style="top:100px;height:5px;background:linear-gradient(90deg,#220,#230,#290,#2c0,#320,#3b0,#3d0,#3c0,#3e0,#4a0,#5c0,#640,#490,#2e0,#450,#560,#5a0,#550,#520,#500,#450,#400,#490,#450,#4a0,#4a0,#4a0,#4d0,#410,#400,#2e0,#2f0,#520,#6f0,#5f0,#540,#4f0,#4e0,#600,#6a0,#5d0,#4b0,#440,#400,#4b0,#490,#3d0,#3a0,#420,#430,#480,#470,#340,#390,#4f0,#610,#5c0,#560,#3c0,#350,#530,#660,#660,#670,#5e0,#500,#4f0,#3d0,#360,#300,#3a0,#420,#3c0,#390,#3e0,#460,#5d0,#620,#560,#4b0,#3e0,#450,#5c0,#650,#5b0,#500,#570,#510,#4c0,#490,#4e0,#490,#440,#430,#4a0,#480,#480,#4f0,#4d0,#4d0,#4a0,#4c0,#4f0,#4c0,#410,#460,#4c0,#4f0,#4b0,#4c0,#490,#490,#4d0,#4e0,#530,#4e0,#480,#4c0,#550,#510,#500,#580,#630,#5b0,#4f0,#590,#660,#640,#5d0,#500,#490,#4c0,#510,#4e0,#4d0,#500,#470,#4b0,#520,#4c0,#4d0,#460,#470,#550,#5c0,#580,#5b0,#5e0,#620,#5c0,#5a0,#560,#4b0,#500,#4d0,#4c0,#490,#3e0,#3e0,#300,#320,#240,#240,#210,#220,#220,#210)"></i>
<i style="top:105px;height:4px;background:linear-gradient(90deg,#2b0,#250,#2c0,#330,#3b0,#450,#410,#410,#490,#4e0,#5e0,#690,#4a0,#340,#460,#590,#590,#5b0,#570,#500,#480,#450,#430,#4b0,#480,#490,#4e0,#500,#4c0,#460,#320,#360,#530,#6a0,#620,#590,#510,#550,#5f0,#6d0,#5b0,#500,#470,#460,#4a0,#470,#400,#400,#460,#4c0,#490,#480,#3a0,#3b0,#530,#600,#610,#560,#3c0,#3d0,#570,#6a0,#670,#600,#5a0,#570,#510,#490,#370,#350,#3f0,#3f0,#400,#3e0,#410,#500,#5f0,#650,#5b0,#570,#440,#4b0,#670,#620,#5d0,#580,#5a0,#550,#4a0,#4a0,#530,#4f0,#460,#470,#4a0,#480,#4b0,#4e0,#4f0,#4c0,#4b0,#4e0,#520,#4d0,#490,#490,#500,#530,#4e0,#520,#510,#4e0,#4f0,#560,#570,#4f0,#4f0,#500,#590,#560,#540,#5b0,#640,#5d0,#540,#5b0,#630,#640,#650,#560,#490,#4e0,#550,#510,#4c0,#4e0,#4a0,#510,#510,#550,#4e0,#4d0,#4d0,#5a0,#5f0,#5f0,#5a0,#600,#650,#630,#580,#530,#510,#520,#550,#4d0,#480,#420,#3d0,#3c0,#320,#2a0,#220,#210,#1f0,#230,#200)"></i>
<i style="top:109px;height:4px;background:linear-gradient(90deg,#280,#290,#2f0,#340,#3d0,#3f0,#450,#450,#480,#500,#610,#6f0,#520,#350,#4b0,#5f0,#5c0,#5b0,#5d0,#530,#4c0,#490,#490,#500,#4e0,#500,#510,#540,#4f0,#450,#3b0,#360,#5b0,#700,#650,#590,#570,#570,#650,#710,#5e0,#4f0,#510,#490,#4b0,#480,#460,#460,#4d0,#4d0,#510,#4f0,#3e0,#3d0,#570,#650,#670,#5e0,#420,#3f0,#5c0,#6b0,#690,#660,#600,#5b0,#550,#470,#390,#350,#430,#480,#420,#430,#400,#4c0,#610,#6a0,#600,#560,#4a0,#4c0,#630,#670,#640,#5e0,#5e0,#570,#4d0,#510,#520,#500,#4e0,#490,#4f0,#510,#510,#520,#540,#540,#4f0,#550,#520,#500,#4d0,#4e0,#500,#590,#530,#540,#510,#530,#560,#540,#5c0,#5a0,#4b0,#550,#590,#530,#560,#600,#6a0,#5f0,#590,#5d0,#6a0,#6d0,#650,#5c0,#4c0,#540,#540,#550,#570,#4f0,#4c0,#510,#520,#540,#570,#530,#540,#5d0,#670,#640,#610,#630,#6a0,#620,#600,#5c0,#540,#510,#520,#540,#500,#4e0,#420,#390,#320,#2b0,#210,#230,#200,#230,#210)"></i>
<i style="top:113px;height:5px;background:linear-gradient(90deg,#320,#2e0,#320,#390,#450,#4a0,#480,#490,#4a0,#540,#640,#720,#540,#3d0,#4f0,#600,#600,#640,#580,#590,#510,#4c0,#500,#550,#520,#560,#570,#580,#560,#490,#430,#390,#5d0,#700,#670,#5e0,#590,#570,#6a0,#6f0,#600,#5a0,#500,#4d0,#4f0,#540,#480,#4a0,#510,#550,#520,#500,#450,#470,#5e0,#6a0,#6c0,#610,#470,#440,#5c0,#6d0,#6f0,#6a0,#620,#5d0,#590,#510,#3e0,#3f0,#470,#4a0,#4a0,#480,#450,#500,#660,#690,#640,#5d0,#4c0,#520,#650,#650,#620,#5d0,#5c0,#580,#550,#560,#590,#550,#4d0,#4f0,#4f0,#4f0,#4f0,#550,#540,#560,#540,#590,#570,#550,#510,#510,#520,#5a0,#5a0,#580,#520,#550,#570,#5b0,#620,#570,#520,#560,#5b0,#590,#570,#5f0,#6d0,#660,#5f0,#610,#6d0,#6a0,#690,#600,#590,#570,#5a0,#570,#5b0,#540,#500,#570,#580,#540,#5c0,#530,#540,#5c0,#680,#5e0,#620,#640,#6f0,#640,#640,#5e0,#580,#570,#5b0,#530,#520,#4e0,#420,#410,#360,#2b0,#240,#220,#1f0,#230,#1f0)"></i>
<i style="top:118px;height:4px;background:linear-gradient(90deg,#360,#360,#3a0,#3e0,#4a0,#4c0,#4c0,#4d0,#4c0,#570,#680,#740,#590,#3e0,#530,#610,#640,#610,#600,#5a0,#540,#4f0,#540,#5b0,#560,#570,#5a0,#5e0,#530,#4d0,#420,#3e0,#5d0,#760,#6e0,#600,#5e0,#5c0,#6c0,#720,#650,#5e0,#570,#540,#530,#530,#510,#4b0,#540,#540,#570,#4f0,#490,#480,#620,#6d0,#6e0,#5f0,#4c0,#4a0,#650,#700,#6e0,#6e0,#660,#640,#5c0,#510,#410,#430,#500,#510,#4b0,#4c0,#490,#550,#690,#700,#660,#5c0,#520,#580,#690,#6d0,#680,#690,#5f0,#5d0,#5b0,#560,#5a0,#5c0,#530,#560,#540,#560,#550,#560,#5a0,#5c0,#590,#560,#5a0,#590,#530,#590,#5a0,#5c0,#5a0,#5d0,#590,#560,#5d0,#5d0,#600,#610,#560,#5b0,#610,#610,#5c0,#660,#6f0,#690,#5e0,#640,#6d0,#6d0,#6c0,#600,#580,#590,#5b0,#5b0,#5c0,#5c0,#560,#5b0,#5d0,#5c0,#5f0,#5c0,#5a0,#630,#6a0,#6a0,#630,#6d0,#6d0,#6a0,#600,#610,#5c0,#5a0,#5e0,#5a0,#520,#500,#490,#480,#390,#2d0,#270,#220,#250,#230,#230)"></i>
<i style="top:122px;height:4px;background:linear-gradient(90deg,#390,#380,#380,#440,#500,#500,#510,#4f0,#550,#5b0,#6a0,#790,#600,#410,#540,#630,#630,#640,#620,#600,#580,#540,#580,#590,#590,#570,#5c0,#5f0,#5b0,#520,#460,#430,#650,#740,#6d0,#670,#5d0,#5c0,#710,#750,#6c0,#600,#590,#570,#560,#570,#4f0,#4e0,#540,#5d0,#5c0,#580,#4e0,#4e0,#630,#6f0,#700,#640,#4d0,#4d0,#680,#710,#760,#710,#670,#610,#610,#540,#470,#480,#510,#530,#510,#4f0,#500,#580,#6b0,#700,#6b0,#5f0,#520,#5a0,#6b0,#700,#690,#660,#650,#630,#590,#5b0,#600,#5d0,#550,#590,#5a0,#590,#590,#5a0,#600,#5b0,#5e0,#5a0,#5d0,#5b0,#5a0,#590,#5e0,#600,#5e0,#5e0,#5a0,#5b0,#5d0,#640,#640,#5f0,#5d0,#5d0,#670,#620,#620,#690,#720,#690,#620,#650,#760,#710,#690,#630,#5d0,#5c0,#610,#610,#620,#600,#590,#5c0,#5c0,#5f0,#610,#5b0,#5a0,#650,#6a0,#6e0,#670,#6c0,#740,#6a0,#6a0,#630,#630,#620,#5d0,#600,#5d0,#500,#4f0,#4a0,#3f0,#330,#280,#220,#240,#250,#210)"></i>
<i style="top:126px;height:5px;background:linear-gradient(90deg,#460,#470,#440,#4e0,#530,#590,#590,#5d0,#5f0,#680,#750,#800,#660,#500,#600,#700,#730,#740,#700,#6a0,#610,#5a0,#600,#630,#670,#640,#680,#680,#640,#5c0,#500,#510,#6b0,#830,#790,#700,#6a0,#6d0,#7a0,#7f0,#740,#670,#670,#610,#640,#660,#610,#5c0,#610,#650,#650,#600,#560,#580,#6a0,#740,#780,#710,#570,#520,#6d0,#800,#7b0,#750,#750,#6d0,#640,#600,#510,#510,#5d0,#5e0,#5e0,#580,#5a0,#620,#750,#7d0,#750,#6b0,#5e0,#640,#7a0,#780,#740,#720,#720,#6c0,#670,#640,#670,#680,#630,#600,#650,#660,#630,#660,#6a0,#6a0,#630,#660,#690,#600,#630,#630,#690,#6e0,#650,#640,#610,#660,#6b0,#6e0,#6b0,#6c0,#630,#6f0,#6b0,#6b0,#660,#740,#7e0,#710,#6f0,#720,#7b0,#790,#750,#700,#660,#690,#6b0,#6d0,#6b0,#6c0,#6a0,#690,#6b0,#6c0,#6a0,#660,#660,#6e0,#770,#700,#750,#730,#7f0,#750,#710,#6c0,#680,#670,#6c0,#6a0,#660,#5a0,#580,#5a0,#450,#320,#250,#250,#1d0,#230,#230)"></i>
<i style="top:131px;height:4px;background:linear-gradient(90deg,#4e0,#4d0,#520,#5c0,#610,#690,#640,#680,#6f0,#770,#800,#8d0,#750,#660,#700,#7f0,#7d0,#7f0,#7e0,#780,#740,#6e0,#740,#750,#750,#700,#750,#780,#730,#690,#630,#5d0,#770,#910,#870,#7d0,#790,#770,#850,#8a0,#7f0,#770,#700,#6d0,#6e0,#700,#6b0,#670,#6e0,#740,#720,#750,#6c0,#6a0,#7c0,#860,#890,#7c0,#650,#670,#7d0,#8a0,#8a0,#870,#820,#790,#790,#6d0,#600,#600,#690,#6b0,#690,#680,#6a0,#6f0,#830,#840,#800,#770,#6b0,#770,#830,#840,#800,#7d0,#7e0,#770,#6f0,#760,#780,#720,#700,#6f0,#700,#710,#700,#740,#780,#750,#740,#750,#770,#710,#6f0,#710,#730,#770,#7a0,#730,#740,#780,#760,#760,#7b0,#790,#730,#760,#7c0,#740,#740,#800,#890,#820,#790,#830,#890,#870,#880,#7d0,#730,#760,#780,#790,#780,#760,#740,#770,#770,#750,#760,#730,#720,#7d0,#870,#810,#810,#850,#8d0,#810,#7f0,#770,#780,#7c0,#790,#770,#730,#6b0,#670,#650,#520,#380,#270,#220,#240,#220,#200)"></i>
<i style="top:135px;height:5px;background:linear-gradient(90deg,#420,#440,#440,#4b0,#5a0,#620,#5b0,#5d0,#640,#6a0,#780,#860,#6d0,#590,#660,#780,#740,#720,#700,#6f0,#670,#660,#620,#6a0,#690,#640,#6b0,#670,#650,#5f0,#5b0,#520,#700,#870,#7b0,#750,#720,#6b0,#7e0,#830,#770,#6c0,#670,#620,#660,#680,#630,#640,#640,#690,#6e0,#670,#5f0,#5c0,#720,#7e0,#780,#730,#5c0,#5d0,#730,#7f0,#800,#7d0,#770,#710,#6c0,#640,#570,#540,#5b0,#650,#630,#5d0,#600,#670,#780,#7d0,#780,#6c0,#630,#6b0,#780,#7d0,#780,#740,#750,#700,#6a0,#6a0,#6d0,#6d0,#660,#670,#680,#680,#690,#680,#6b0,#6a0,#690,#6b0,#6b0,#680,#600,#670,#690,#6c0,#6c0,#6f0,#690,#6b0,#6a0,#700,#730,#6e0,#6e0,#6f0,#740,#700,#6b0,#740,#7d0,#760,#710,#750,#7b0,#800,#7f0,#780,#690,#6d0,#700,#700,#6c0,#6f0,#6d0,#6a0,#6b0,#690,#690,#690,#670,#6e0,#790,#770,#770,#7c0,#7d0,#7a0,#6f0,#730,#710,#730,#6b0,#6f0,#6a0,#660,#5e0,#560,#4a0,#370,#280,#220,#230,#210,#1f0)"></i>
<i style="top:140px;height:4px;background:linear-gradient(90deg,#300,#390,#3a0,#470,#4e0,#510,#510,#520,#5d0,#610,#700,#7b0,#630,#510,#5e0,#6e0,#6b0,#660,#630,#5e0,#5e0,#5b0,#5a0,#5f0,#5e0,#5d0,#5d0,#5e0,#5e0,#530,#4b0,#490,#610,#790,#710,#6b0,#6a0,#640,#700,#770,#6a0,#600,#5a0,#5a0,#570,#590,#590,#520,#590,#610,#600,#5d0,#560,#570,#680,#730,#6d0,#680,#530,#550,#670,#770,#790,#720,#6e0,#690,#610,#560,#4e0,#4b0,#530,#590,#570,#510,#540,#5f0,#6f0,#700,#6d0,#690,#5b0,#620,#6b0,#6f0,#6e0,#660,#6a0,#660,#5f0,#5f0,#630,#600,#590,#5b0,#5f0,#5d0,#5a0,#5d0,#600,#5f0,#5f0,#5d0,#5f0,#600,#5a0,#5f0,#640,#660,#630,#600,#5f0,#5e0,#5f0,#620,#650,#640,#5d0,#640,#680,#640,#620,#690,#770,#6c0,#620,#6e0,#730,#750,#730,#6b0,#610,#600,#660,#630,#660,#650,#630,#5f0,#5e0,#650,#620,#5f0,#5e0,#6b0,#710,#6d0,#6c0,#750,#790,#710,#680,#6a0,#650,#660,#620,#610,#620,#570,#530,#4f0,#4b0,#350,#2c0,#260,#240,#220,#260)"></i>
<i style="top:144px;height:4px;background:linear-gradient(90deg,#370,#390,#3d0,#470,#4b0,#4e0,#560,#550,#600,#620,#710,#7c0,#650,#530,#5f0,#6c0,#6d0,#6b0,#680,#600,#600,#590,#5c0,#630,#5c0,#5c0,#630,#600,#630,#590,#460,#4d0,#6a0,#7d0,#750,#6f0,#680,#6b0,#720,#760,#6d0,#620,#5d0,#5e0,#5f0,#5c0,#550,#590,#590,#610,#5c0,#5f0,#5a0,#590,#690,#720,#710,#690,#520,#540,#6b0,#730,#750,#750,#6c0,#650,#610,#5b0,#4c0,#500,#550,#5a0,#530,#530,#570,#620,#700,#760,#6e0,#640,#5a0,#600,#6f0,#730,#700,#6b0,#6e0,#650,#670,#640,#650,#5f0,#5e0,#5a0,#5d0,#590,#630,#5e0,#630,#610,#630,#600,#610,#5e0,#5a0,#5a0,#620,#670,#680,#630,#610,#5f0,#5d0,#670,#670,#650,#610,#660,#6b0,#650,#620,#6b0,#710,#6e0,#6b0,#720,#760,#780,#780,#6b0,#630,#660,#670,#690,#650,#630,#630,#620,#660,#620,#620,#5b0,#620,#6f0,#700,#730,#6c0,#740,#7b0,#750,#6f0,#6c0,#670,#6a0,#670,#620,#5e0,#5d0,#590,#500,#4a0,#3d0,#2d0,#250,#240,#270,#230)"></i>
<i style="top:148px;height:5px;background:linear-gradient(90deg,#350,#350,#3e0,#490,#4d0,#5a0,#580,#580,#5d0,#650,#740,#780,#650,#540,#620,#6e0,#6e0,#6c0,#6b0,#660,#610,#600,#600,#640,#5e0,#600,#620,#630,#5e0,#570,#4d0,#4e0,#690,#7e0,#740,#730,#680,#690,#750,#7a0,#6f0,#650,#5d0,#5f0,#5a0,#5f0,#5a0,#5b0,#5c0,#610,#660,#600,#580,#5a0,#700,#700,#6e0,#6b0,#520,#4f0,#6b0,#780,#790,#740,#710,#670,#660,#5e0,#500,#4e0,#5c0,#5b0,#550,#570,#520,#640,#6e0,#740,#730,#6b0,#600,#630,#700,#730,#6d0,#6f0,#6f0,#670,#5f0,#640,#680,#5f0,#5f0,#5c0,#5d0,#640,#620,#600,#640,#620,#5f0,#620,#610,#610,#5d0,#610,#630,#670,#650,#650,#5f0,#630,#630,#640,#690,#650,#660,#680,#680,#680,#670,#700,#720,#730,#660,#6d0,#790,#770,#700,#700,#620,#640,#6c0,#6c0,#690,#640,#640,#660,#6a0,#650,#630,#620,#630,#6b0,#700,#710,#6a0,#710,#7b0,#770,#720,#6e0,#680,#690,#650,#670,#650,#5b0,#560,#510,#480,#3d0,#300,#240,#240,#1f0,#220)"></i>
<i style="top:153px;height:4px;background:linear-gradient(90deg,#3d0,#3e0,#440,#480,#560,#5b0,#5b0,#5e0,#630,#6b0,#7b0,#7f0,#6c0,#5f0,#6d0,#760,#730,#6f0,#700,#680,#640,#5f0,#640,#6a0,#650,#670,#650,#6a0,#5e0,#5e0,#550,#530,#710,#820,#800,#790,#6f0,#700,#7d0,#830,#740,#6b0,#670,#620,#660,#630,#600,#5d0,#690,#6b0,#6b0,#650,#610,#650,#730,#7b0,#730,#6f0,#5c0,#5b0,#700,#840,#810,#7d0,#760,#720,#6e0,#640,#580,#590,#610,#600,#5c0,#5e0,#620,#6e0,#780,#7c0,#7a0,#6e0,#6b0,#690,#770,#790,#730,#760,#720,#6b0,#6d0,#690,#690,#690,#640,#620,#650,#660,#620,#670,#6b0,#690,#670,#690,#690,#630,#650,#690,#680,#6c0,#680,#6b0,#6a0,#660,#6b0,#6c0,#6d0,#6f0,#6c0,#6a0,#730,#700,#6d0,#710,#7c0,#740,#6d0,#770,#830,#7f0,#760,#760,#6c0,#700,#6e0,#6a0,#6c0,#6c0,#6a0,#660,#6c0,#690,#670,#670,#650,#710,#780,#7b0,#760,#810,#820,#7e0,#7a0,#770,#700,#750,#710,#6f0,#6b0,#660,#600,#5c0,#4f0,#3d0,#310,#200,#220,#240,#280)"></i>
<i style="top:157px;height:4px;background:linear-gradient(90deg,#490,#4c0,#520,#590,#5f0,#660,#680,#720,#780,#7e0,#870,#910,#7e0,#6b0,#7e0,#840,#7e0,#810,#770,#7d0,#710,#6f0,#760,#770,#780,#730,#730,#770,#6f0,#6b0,#630,#640,#7b0,#930,#8e0,#870,#830,#840,#8d0,#8e0,#860,#790,#750,#720,#710,#730,#6e0,#6f0,#730,#740,#7f0,#790,#730,#740,#800,#820,#830,#7c0,#6b0,#6b0,#7e0,#8d0,#890,#8c0,#830,#7f0,#760,#710,#6b0,#620,#6d0,#6d0,#6d0,#6a0,#6e0,#770,#860,#8d0,#8a0,#7e0,#790,#790,#830,#870,#800,#840,#830,#7f0,#7b0,#790,#7d0,#770,#720,#710,#760,#730,#700,#780,#740,#730,#710,#730,#7b0,#760,#740,#760,#7b0,#780,#750,#7a0,#7a0,#7b0,#780,#7b0,#820,#790,#7c0,#7c0,#810,#7f0,#7d0,#810,#880,#810,#7d0,#840,#8a0,#8b0,#8e0,#840,#7e0,#820,#7d0,#7d0,#7d0,#7f0,#7a0,#7a0,#760,#750,#700,#750,#730,#7e0,#8a0,#870,#870,#890,#890,#8c0,#890,#810,#820,#7d0,#7b0,#7a0,#7b0,#730,#6a0,#680,#590,#420,#2b0,#240,#260,#230,#210)"></i>
<i style="top:161px;height:5px;background:linear-gradient(90deg,#4a0,#470,#4c0,#580,#660,#690,#6f0,#6c0,#750,#7a0,#8c0,#910,#7f0,#750,#7c0,#830,#890,#840,#800,#7b0,#750,#720,#790,#7a0,#770,#780,#760,#7c0,#750,#6c0,#690,#650,#7e0,#920,#920,#860,#890,#820,#8f0,#8e0,#850,#790,#760,#760,#750,#760,#710,#710,#780,#7f0,#7e0,#7e0,#760,#740,#850,#860,#820,#790,#6b0,#6e0,#800,#8d0,#930,#890,#840,#820,#7a0,#740,#6c0,#650,#6f0,#710,#6f0,#6f0,#700,#7b0,#860,#8b0,#8b0,#830,#7b0,#780,#880,#8d0,#820,#810,#800,#800,#7d0,#790,#790,#7b0,#730,#6f0,#740,#780,#750,#7a0,#7d0,#780,#780,#760,#7a0,#750,#770,#770,#790,#7a0,#7c0,#7a0,#7a0,#780,#780,#7c0,#7c0,#7b0,#7c0,#7d0,#7f0,#850,#7a0,#7e0,#8a0,#860,#7f0,#890,#900,#8d0,#8b0,#7f0,#7c0,#810,#800,#830,#800,#7a0,#7f0,#7f0,#7d0,#7b0,#740,#730,#760,#800,#880,#880,#8a0,#8a0,#8d0,#8c0,#890,#840,#830,#830,#7f0,#7f0,#7c0,#750,#760,#6b0,#580,#3e0,#300,#250,#260,#220,#200)"></i>
<i style="top:166px;height:4px;background:linear-gradient(90deg,#430,#470,#4f0,#5a0,#640,#700,#700,#760,#790,#830,#890,#940,#820,#720,#800,#840,#870,#820,#7c0,#7e0,#760,#720,#710,#770,#770,#740,#7c0,#770,#720,#6f0,#670,#6b0,#840,#920,#8f0,#880,#860,#840,#900,#900,#850,#800,#7a0,#750,#750,#790,#6f0,#730,#780,#7f0,#7d0,#7c0,#740,#780,#880,#890,#8b0,#7a0,#6f0,#6d0,#820,#910,#950,#890,#850,#7b0,#7b0,#730,#6a0,#690,#6c0,#710,#740,#6e0,#720,#7c0,#8a0,#900,#8c0,#820,#790,#7d0,#8a0,#880,#850,#860,#890,#800,#7d0,#7d0,#7d0,#770,#770,#710,#750,#790,#7b0,#760,#7b0,#790,#720,#760,#7c0,#760,#790,#780,#7d0,#7b0,#7f0,#810,#7d0,#7f0,#780,#7d0,#810,#820,#7c0,#820,#840,#800,#7e0,#830,#8b0,#860,#810,#8d0,#900,#8a0,#8b0,#860,#7f0,#820,#860,#830,#850,#800,#7e0,#7b0,#830,#790,#790,#760,#760,#800,#890,#8a0,#840,#890,#900,#8c0,#8b0,#8b0,#8a0,#880,#800,#7d0,#7f0,#780,#720,#660,#550,#420,#2f0,#240,#270,#220,#260)"></i>
<i style="top:170px;height:4px;background:linear-gradient(90deg,#390,#3c0,#490,#520,#590,#630,#650,#680,#720,#760,#840,#8b0,#7c0,#6a0,#7e0,#7b0,#7e0,#790,#760,#740,#6b0,#6a0,#6c0,#710,#6f0,#6f0,#6d0,#690,#6c0,#640,#5c0,#5e0,#7c0,#8b0,#8b0,#830,#7d0,#7f0,#860,#8d0,#810,#740,#710,#6c0,#6d0,#650,#660,#660,#700,#760,#7a0,#700,#720,#710,#7d0,#7d0,#7f0,#6f0,#630,#660,#790,#850,#860,#850,#7a0,#780,#710,#6e0,#600,#610,#620,#650,#650,#6b0,#6a0,#740,#850,#860,#820,#790,#730,#700,#820,#840,#7c0,#7d0,#7a0,#7a0,#720,#6f0,#750,#6e0,#6b0,#6a0,#6b0,#6c0,#6b0,#6f0,#710,#6b0,#6c0,#6a0,#6d0,#730,#6d0,#6b0,#750,#730,#730,#770,#730,#720,#770,#730,#790,#760,#700,#770,#760,#760,#710,#770,#7b0,#7b0,#7d0,#830,#870,#880,#860,#800,#760,#790,#790,#780,#760,#760,#750,#7a0,#740,#6f0,#6e0,#6c0,#6b0,#790,#830,#800,#800,#810,#870,#850,#840,#810,#780,#7a0,#790,#790,#710,#6d0,#700,#630,#5b0,#420,#340,#240,#1f0,#220,#220)"></i>
<i style="top:174px;height:5px;background:linear-gradient(90deg,#370,#3d0,#450,#4e0,#580,#5e0,#660,#660,#6d0,#770,#830,#8e0,#740,#6a0,#760,#7c0,#780,#770,#710,#710,#6d0,#690,#6f0,#6d0,#6d0,#6c0,#680,#6d0,#690,#640,#5b0,#5c0,#720,#8c0,#890,#840,#790,#800,#870,#8b0,#800,#710,#6a0,#6f0,#6a0,#670,#640,#6a0,#6d0,#720,#720,#6f0,#750,#700,#7d0,#7c0,#7a0,#6e0,#640,#640,#7c0,#850,#880,#7f0,#7f0,#760,#6f0,#6a0,#630,#600,#660,#6c0,#670,#660,#680,#730,#800,#890,#7f0,#7c0,#720,#790,#7e0,#840,#7d0,#780,#800,#760,#750,#750,#710,#6e0,#6b0,#6b0,#690,#6c0,#6c0,#6c0,#6c0,#6b0,#670,#6f0,#6d0,#730,#6c0,#720,#740,#6f0,#710,#700,#680,#740,#700,#750,#730,#750,#740,#750,#750,#730,#740,#770,#800,#7d0,#770,#7d0,#850,#830,#860,#7c0,#790,#740,#770,#770,#770,#760,#710,#730,#750,#710,#670,#690,#730,#790,#820,#810,#800,#7f0,#860,#880,#7d0,#7e0,#7c0,#770,#7e0,#770,#780,#6f0,#6c0,#660,#5a0,#430,#2c0,#2a0,#240,#220,#220)"></i>
<i style="top:179px;height:4px;background:linear-gradient(90deg,#390,#3c0,#470,#4f0,#5d0,#650,#680,#6a0,#760,#780,#8b0,#8b0,#820,#6d0,#790,#7f0,#7e0,#7b0,#770,#750,#720,#6b0,#700,#720,#6e0,#720,#730,#6f0,#6b0,#660,#600,#640,#760,#900,#8c0,#880,#7f0,#820,#870,#8d0,#7d0,#6e0,#700,#710,#6e0,#6d0,#6a0,#700,#700,#740,#7f0,#7b0,#760,#720,#800,#840,#7e0,#710,#630,#6a0,#7c0,#890,#910,#860,#830,#7b0,#740,#6a0,#640,#670,#6a0,#680,#6e0,#670,#700,#760,#820,#8c0,#880,#7b0,#780,#7b0,#830,#840,#800,#7e0,#800,#7c0,#7d0,#750,#740,#760,#700,#6b0,#6f0,#6d0,#730,#700,#750,#6e0,#6c0,#6f0,#710,#700,#6f0,#700,#750,#730,#760,#790,#710,#710,#740,#770,#7d0,#790,#7c0,#7b0,#7a0,#7b0,#740,#770,#830,#800,#7c0,#820,#880,#890,#880,#840,#7f0,#790,#7f0,#7b0,#7f0,#7c0,#7b0,#750,#760,#720,#6e0,#6d0,#720,#7f0,#840,#860,#820,#840,#8c0,#8b0,#890,#830,#830,#7e0,#7e0,#7d0,#7a0,#6f0,#6b0,#690,#5d0,#420,#2c0,#230,#200,#240,#290)"></i>
<i style="top:183px;height:5px;background:linear-gradient(90deg,#450,#490,#510,#5a0,#6a0,#6c0,#720,#7b0,#800,#860,#960,#990,#8c0,#7a0,#880,#8f0,#8e0,#870,#7f0,#830,#800,#780,#7c0,#7c0,#7d0,#810,#7b0,#7d0,#740,#720,#690,#6f0,#890,#9d0,#990,#910,#8e0,#910,#970,#950,#860,#7f0,#7a0,#7a0,#7b0,#780,#7a0,#770,#830,#890,#850,#840,#870,#840,#8c0,#8e0,#880,#7b0,#700,#760,#890,#930,#970,#950,#8d0,#860,#830,#7f0,#740,#6c0,#720,#770,#790,#790,#750,#810,#8f0,#920,#8f0,#8c0,#860,#890,#8d0,#930,#8f0,#880,#8c0,#870,#860,#820,#800,#790,#7a0,#760,#790,#7b0,#7f0,#810,#830,#7d0,#7b0,#7c0,#800,#7b0,#7b0,#790,#810,#7f0,#7f0,#810,#800,#7b0,#7d0,#840,#880,#860,#880,#8a0,#880,#840,#840,#880,#8e0,#900,#880,#910,#960,#9c0,#980,#930,#8a0,#8a0,#8b0,#8c0,#8b0,#8a0,#860,#800,#820,#7d0,#750,#7c0,#7c0,#850,#930,#900,#960,#970,#9a0,#990,#950,#910,#8f0,#8c0,#8d0,#8c0,#8b0,#800,#790,#760,#650,#450,#310,#240,#280,#240,#220)"></i>
<i style="top:188px;height:4px;background:linear-gradient(90deg,#430,#490,#540,#590,#6a0,#6f0,#680,#7f0,#810,#870,#950,#a20,#890,#810,#8a0,#920,#8e0,#890,#830,#840,#810,#7c0,#800,#810,#7c0,#7a0,#7c0,#7a0,#790,#720,#700,#740,#8b0,#9b0,#990,#960,#970,#930,#990,#990,#8f0,#860,#7b0,#7e0,#7c0,#7c0,#790,#800,#830,#830,#880,#8b0,#860,#850,#8d0,#930,#8c0,#7d0,#710,#790,#8b0,#950,#970,#960,#900,#8a0,#7e0,#770,#730,#730,#770,#770,#7b0,#7a0,#770,#850,#8c0,#9c0,#970,#8f0,#860,#8b0,#910,#900,#920,#900,#8c0,#870,#870,#860,#7e0,#810,#7b0,#790,#7c0,#7c0,#800,#7f0,#840,#7c0,#7a0,#7d0,#830,#820,#7d0,#7d0,#850,#880,#890,#870,#840,#820,#830,#850,#830,#860,#840,#880,#8c0,#8b0,#810,#860,#930,#8a0,#8e0,#940,#990,#970,#9b0,#930,#8a0,#8a0,#850,#8d0,#890,#8a0,#810,#880,#830,#7c0,#7b0,#7f0,#800,#870,#920,#960,#930,#9b0,#9c0,#970,#970,#910,#8d0,#920,#8f0,#8b0,#8c0,#830,#7b0,#7d0,#630,#480,#2d0,#220,#200,#280,#210)"></i>
<i style="top:192px;height:4px;background:linear-gradient(90deg,#420,#4a0,#4d0,#530,#5a0,#5d0,#620,#6d0,#6f0,#720,#790,#7b0,#7c0,#7e0,#860,#8b0,#940,#960,#a00,#990,#940,#8b0,#860,#8b0,#8a0,#900,#900,#900,#870,#880,#840,#860,#7b0,#840,#810,#7f0,#7e0,#7b0,#820,#7d0,#7c0,#810,#7f0,#7d0,#7b0,#830,#780,#780,#760,#710,#6e0,#6e0,#710,#840,#930,#9c0,#a10,#9c0,#950,#9a0,#930,#920,#930,#980,#9c0,#9c0,#970,#920,#890,#870,#870,#7b0,#810,#7c0,#7c0,#790,#7f0,#760,#7a0,#7e0,#810,#860,#8b0,#850,#8c0,#8d0,#890,#880,#850,#8b0,#940,#910,#8f0,#8b0,#890,#820,#7b0,#6e0,#6e0,#810,#850,#900,#960,#9c0,#a00,#980,#910,#8a0,#8b0,#870,#840,#870,#7c0,#740,#770,#730,#760,#7d0,#790,#7a0,#7c0,#7a0,#7d0,#750,#7e0,#820,#880,#910,#990,#970,#9b0,#970,#930,#8c0,#8a0,#880,#8c0,#8f0,#990,#950,#930,#8e0,#920,#8d0,#950,#890,#8f0,#8e0,#880,#890,#870,#880,#840,#7f0,#770,#740,#7d0,#7e0,#7f0,#7f0,#810,#7c0,#800,#810,#800,#820,#7b0,#7e0,#7c0,#7b0,#820,#7f0,#7a0,#800,#7f0,#7f0,#830,#830,#880,#850,#860,#880,#820,#860,#830,#840,#830,#830,#830,#830,#850,#860,#890,#8c0,#900,#8c0,#900,#8c0,#870,#890,#830,#860,#8d0,#880,#910,#940,#930,#8c0,#8c0,#8e0,#970,#9b0,#9e0,#9d0,#980,#930,#930,#8e0,#900,#8d0,#8e0,#8c0,#8d0,#890,#8d0,#910,#8b0,#8e0,#8a0,#880,#7f0,#850,#800,#820,#7a0,#780,#780,#840,#810,#880,#8c0,#920,#930,#950,#960,#940,#990,#980,#9c0,#9b0,#960,#930,#940,#990,#940,#920,#920,#900,#8e0,#930,#8c0,#8a0,#8d0,#840,#810,#810,#7b0,#6f0,#640,#550,#410,#340,#250,#260,#2b0,#230,#280,#250,#280)"></i>
<i style="top:196px;height:5px;background:linear-gradient(90deg,#400,#4b0,#4f0,#4f0,#5d0,#5c0,#680,#6e0,#770,#710,#7b0,#7e0,#7d0,#850,#870,#900,#9a0,#9c0,#a20,#990,#970,#8b0,#8c0,#8e0,#8e0,#960,#8f0,#8c0,#8e0,#880,#870,#870,#850,#830,#7d0,#7f0,#820,#7b0,#800,#840,#800,#7f0,#810,#830,#810,#7e0,#7f0,#7b0,#780,#760,#720,#700,#790,#860,#940,#9f0,#a00,#a00,#990,#9b0,#950,#970,#960,#940,#9e0,#9f0,#990,#900,#870,#870,#800,#7e0,#7c0,#750,#850,#840,#7b0,#800,#7a0,#860,#810,#830,#8e0,#8d0,#8b0,#8f0,#8f0,#8f0,#860,#8c0,#920,#9b0,#940,#8f0,#8c0,#850,#7e0,#760,#730,#7a0,#890,#940,#990,#9f0,#9a0,#980,#930,#8f0,#890,#860,#840,#840,#7d0,#7d0,#750,#770,#740,#780,#800,#7e0,#7a0,#7c0,#7f0,#7c0,#7b0,#820,#8b0,#8e0,#9b0,#9e0,#980,#9b0,#930,#910,#900,#8a0,#8b0,#950,#970,#940,#980,#8d0,#940,#990,#930,#900,#8e0,#8c0,#880,#8b0,#800,#870,#840,#7c0,#7d0,#7a0,#7b0,#7e0,#7f0,#800,#840,#8a0,#840,#850,#800,#810,#7e0,#7f0,#7b0,#7a0,#7e0,#810,#830,#7e0,#810,#810,#840,#8a0,#850,#870,#8a0,#8e0,#870,#8c0,#880,#870,#810,#860,#870,#830,#8b0,#870,#890,#8b0,#8a0,#8e0,#8e0,#8b0,#880,#880,#860,#840,#840,#8e0,#8d0,#950,#910,#8c0,#910,#910,#990,#970,#a40,#9d0,#9c0,#950,#980,#960,#8b0,#910,#8d0,#8d0,#940,#890,#930,#930,#910,#8d0,#870,#8c0,#820,#8c0,#810,#7e0,#7d0,#7c0,#7d0,#830,#840,#8c0,#8d0,#960,#970,#910,#960,#960,#950,#9c0,#a30,#a00,#9d0,#9d0,#9c0,#990,#960,#990,#990,#910,#940,#930,#910,#8e0,#850,#830,#7e0,#820,#7f0,#760,#670,#570,#3f0,#330,#2d0,#200,#260,#220,#1f0,#210,#230)"></i>
<i style="top:201px;height:4px;background:linear-gradient(90deg,#3e0,#450,#480,#520,#5c0,#5a0,#6c0,#730,#740,#6f0,#770,#7e0,#7c0,#830,#8a0,#910,#940,#a10,#a40,#9d0,#950,#8d0,#900,#8f0,#950,#9c0,#940,#900,#8c0,#8d0,#8c0,#870,#870,#830,#840,#7f0,#820,#860,#840,#860,#800,#820,#830,#7f0,#7f0,#820,#7d0,#800,#780,#760,#740,#6e0,#770,#8c0,#970,#a00,#a00,#a00,#a30,#9b0,#9d0,#990,#990,#970,#9e0,#9b0,#970,#8f0,#850,#870,#810,#880,#7f0,#7d0,#7f0,#7f0,#830,#820,#7a0,#850,#880,#870,#920,#8d0,#920,#8e0,#8f0,#890,#850,#900,#930,#940,#910,#930,#8c0,#8a0,#7a0,#7b0,#730,#7f0,#880,#960,#9c0,#a50,#9d0,#9b0,#980,#930,#8c0,#8b0,#860,#810,#7f0,#7e0,#7a0,#730,#790,#7f0,#7f0,#7c0,#790,#780,#790,#800,#870,#800,#8c0,#940,#9c0,#9e0,#9c0,#990,#9c0,#900,#8d0,#900,#8b0,#910,#9d0,#9a0,#970,#960,#920,#940,#930,#8f0,#8f0,#8e0,#8a0,#850,#840,#850,#840,#7f0,#7e0,#7d0,#7a0,#7e0,#800,#800,#810,#810,#840,#880,#860,#860,#7e0,#7c0,#7f0,#840,#820,#830,#840,#830,#830,#7e0,#840,#870,#920,#840,#890,#850,#880,#860,#8b0,#8b0,#870,#8f0,#860,#860,#8c0,#8c0,#890,#8e0,#920,#8f0,#910,#8e0,#8d0,#860,#8a0,#880,#850,#8a0,#910,#920,#900,#910,#8b0,#950,#9e0,#a00,#9c0,#9a0,#9c0,#980,#950,#970,#920,#900,#940,#8f0,#8f0,#8d0,#900,#970,#940,#8c0,#8b0,#890,#8c0,#860,#820,#840,#7c0,#750,#800,#7c0,#880,#8f0,#8e0,#900,#960,#970,#980,#960,#980,#9b0,#a10,#9e0,#9d0,#9e0,#970,#9a0,#970,#980,#960,#940,#960,#940,#920,#8f0,#8f0,#870,#830,#7e0,#800,#750,#680,#530,#410,#390,#260,#200,#240,#250,#240,#2d0,#220)"></i>
<i style="top:205px;height:4px;background:linear-gradient(90deg,#3a0,#420,#430,#4a0,#540,#590,#640,#660,#680,#6f0,#730,#750,#7e0,#7d0,#800,#850,#900,#940,#9c0,#980,#8d0,#880,#830,#8a0,#8e0,#960,#890,#830,#820,#850,#810,#7e0,#7d0,#7e0,#7e0,#780,#7c0,#7a0,#7f0,#780,#7d0,#7c0,#760,#7d0,#780,#7a0,#780,#770,#730,#6d0,#6a0,#6d0,#710,#7d0,#910,#9b0,#9b0,#9c0,#940,#940,#8d0,#920,#930,#910,#9a0,#940,#880,#870,#800,#850,#770,#780,#760,#770,#740,#770,#710,#740,#730,#7a0,#7f0,#850,#850,#860,#870,#840,#860,#830,#840,#8a0,#8d0,#900,#920,#890,#860,#800,#750,#720,#6b0,#7b0,#820,#8c0,#930,#980,#980,#960,#920,#8c0,#840,#870,#7d0,#7c0,#780,#6e0,#730,#6f0,#700,#760,#790,#750,#770,#7a0,#730,#760,#810,#800,#890,#8c0,#990,#920,#960,#8e0,#8f0,#880,#870,#890,#890,#8c0,#960,#900,#890,#8b0,#890,#8e0,#850,#880,#860,#870,#830,#820,#810,#810,#7f0,#7c0,#7a0,#6f0,#780,#760,#770,#7b0,#790,#790,#7d0,#7e0,#7c0,#7e0,#7a0,#790,#780,#770,#7b0,#770,#770,#7d0,#7b0,#790,#7a0,#850,#800,#810,#7f0,#800,#830,#7f0,#7f0,#820,#820,#870,#7d0,#830,#830,#870,#8b0,#890,#840,#860,#860,#820,#8a0,#800,#830,#880,#810,#880,#880,#8b0,#8d0,#860,#870,#8d0,#900,#900,#9a0,#990,#960,#920,#8d0,#8b0,#8c0,#8a0,#8a0,#860,#8a0,#8c0,#8a0,#880,#8d0,#820,#880,#870,#810,#7f0,#760,#770,#7c0,#740,#750,#780,#7f0,#820,#850,#890,#920,#940,#910,#920,#950,#9d0,#9c0,#9b0,#940,#940,#940,#930,#930,#8c0,#8b0,#8c0,#8f0,#900,#860,#820,#890,#7e0,#810,#820,#790,#6f0,#640,#520,#400,#300,#2e0,#270,#250,#230,#260,#240,#220)"></i>
<i style="top:209px;height:5px;background:linear-gradient(90deg,#330,#3b0,#3a0,#460,#4e0,#5f0,#5f0,#620,#700,#720,#710,#6d0,#730,#7a0,#7e0,#880,#8d0,#8e0,#920,#920,#8b0,#890,#830,#860,#860,#880,#870,#880,#860,#810,#7f0,#7c0,#800,#7d0,#780,#7e0,#7d0,#790,#790,#7a0,#7b0,#740,#790,#730,#7a0,#770,#750,#6d0,#6d0,#6b0,#640,#670,#760,#7d0,#8e0,#990,#9d0,#980,#970,#950,#8d0,#8c0,#8d0,#950,#920,#8f0,#880,#890,#840,#780,#750,#740,#7a0,#780,#740,#770,#740,#7a0,#770,#780,#750,#810,#810,#850,#870,#890,#850,#870,#810,#8c0,#8d0,#8b0,#890,#8f0,#820,#7c0,#720,#6e0,#690,#7b0,#800,#8a0,#980,#900,#960,#960,#8b0,#850,#860,#850,#830,#7f0,#7b0,#720,#6e0,#750,#750,#6c0,#780,#730,#6d0,#770,#770,#730,#730,#7c0,#870,#8c0,#960,#910,#960,#8b0,#950,#850,#870,#840,#810,#900,#8e0,#8f0,#8b0,#8d0,#890,#8b0,#8b0,#880,#870,#860,#820,#7f0,#820,#7e0,#790,#770,#710,#750,#790,#760,#7a0,#750,#7c0,#7d0,#7a0,#800,#7a0,#7a0,#7a0,#750,#720,#760,#7a0,#740,#7c0,#7b0,#7c0,#7b0,#7a0,#7e0,#7f0,#820,#7c0,#840,#810,#810,#820,#7a0,#7f0,#890,#7b0,#7f0,#7f0,#810,#800,#870,#830,#890,#8a0,#830,#810,#7e0,#7b0,#7e0,#830,#800,#8a0,#8d0,#8b0,#850,#860,#910,#920,#920,#940,#980,#8d0,#900,#920,#930,#870,#8c0,#890,#890,#890,#870,#8d0,#8b0,#850,#8b0,#850,#850,#820,#840,#770,#770,#750,#730,#780,#7a0,#7a0,#820,#880,#8e0,#880,#8b0,#8f0,#910,#910,#940,#970,#960,#940,#900,#950,#8e0,#8d0,#900,#8d0,#8d0,#8a0,#860,#840,#8c0,#850,#830,#7b0,#7e0,#770,#720,#660,#530,#450,#340,#230,#220,#270,#210,#2a0,#230,#270)"></i>
<i style="top:214px;height:4px;background:linear-gradient(90deg,#3b0,#440,#460,#510,#4d0,#5e0,#5f0,#6a0,#750,#700,#6c0,#7c0,#780,#870,#860,#860,#8e0,#930,#970,#9b0,#920,#8c0,#8a0,#900,#910,#900,#8a0,#880,#8c0,#890,#7f0,#800,#840,#7c0,#7e0,#790,#7a0,#7c0,#7a0,#7a0,#790,#800,#7e0,#7b0,#7d0,#820,#740,#740,#720,#710,#6d0,#7a0,#760,#800,#8d0,#980,#9c0,#9f0,#950,#940,#940,#920,#8e0,#930,#960,#970,#8b0,#890,#7d0,#7f0,#7d0,#7f0,#770,#790,#840,#770,#790,#790,#7a0,#7b0,#7d0,#830,#880,#8b0,#8d0,#930,#900,#890,#840,#8e0,#8e0,#920,#8b0,#8b0,#8a0,#7e0,#7d0,#780,#760,#790,#850,#8c0,#980,#9c0,#9a0,#8f0,#8f0,#840,#870,#860,#7c0,#770,#7a0,#770,#790,#750,#700,#730,#7b0,#7a0,#790,#7a0,#7d0,#760,#7f0,#7d0,#840,#8b0,#960,#9f0,#980,#960,#940,#8d0,#890,#890,#8d0,#920,#910,#930,#8c0,#8e0,#8b0,#8e0,#860,#8e0,#860,#820,#810,#810,#830,#880,#7e0,#7e0,#7e0,#740,#750,#830,#7f0,#840,#760,#7d0,#800,#7d0,#7c0,#800,#7b0,#7d0,#7b0,#730,#7c0,#7e0,#810,#750,#7b0,#780,#800,#7e0,#870,#850,#880,#850,#830,#8a0,#7d0,#840,#800,#850,#860,#830,#890,#840,#8a0,#8a0,#8a0,#8c0,#870,#850,#870,#890,#7f0,#860,#870,#8a0,#870,#900,#8c0,#890,#8b0,#950,#920,#940,#930,#9b0,#970,#960,#8e0,#920,#890,#8d0,#900,#8c0,#900,#8c0,#8b0,#8b0,#8d0,#8b0,#8f0,#880,#840,#7c0,#7d0,#790,#780,#770,#760,#7f0,#7c0,#7d0,#8e0,#8c0,#970,#950,#950,#930,#950,#990,#9c0,#960,#8f0,#940,#920,#930,#920,#940,#960,#900,#8f0,#890,#8c0,#8b0,#8f0,#850,#810,#7c0,#7c0,#720,#660,#550,#4c0,#380,#290,#270,#220,#260,#220,#260,#1b0)"></i>
<i style="top:218px;height:4px;background:linear-gradient(90deg,#3f0,#490,#4f0,#5b0,#5f0,#660,#6e0,#750,#7a0,#7b0,#7c0,#890,#820,#8d0,#910,#920,#a70,#a30,#aa0,#9f0,#990,#930,#900,#940,#970,#980,#9c0,#950,#8c0,#910,#870,#890,#8e0,#8f0,#860,#800,#880,#870,#860,#880,#8f0,#830,#800,#8a0,#830,#870,#860,#7e0,#800,#740,#760,#710,#7e0,#890,#930,#a20,#a60,#a30,#a60,#9d0,#980,#9c0,#9b0,#9a0,#980,#980,#930,#8e0,#840,#850,#830,#7d0,#850,#8a0,#850,#840,#820,#860,#7b0,#8c0,#8a0,#930,#8e0,#900,#960,#990,#970,#930,#980,#980,#9a0,#960,#960,#950,#8a0,#8c0,#870,#7e0,#7f0,#810,#8a0,#990,#9b0,#a70,#980,#9b0,#980,#970,#8e0,#8e0,#8f0,#840,#800,#840,#7e0,#810,#790,#7b0,#830,#810,#7c0,#850,#7e0,#8c0,#840,#8e0,#920,#960,#a00,#a20,#9e0,#9c0,#a20,#920,#910,#910,#990,#980,#a10,#9f0,#980,#9a0,#990,#980,#910,#960,#8e0,#8f0,#8e0,#8c0,#920,#8e0,#8b0,#890,#840,#830,#7e0,#890,#820,#820,#880,#8d0,#8b0,#8b0,#850,#850,#810,#840,#810,#850,#840,#870,#870,#8a0,#860,#850,#870,#890,#880,#8f0,#8b0,#8c0,#920,#8b0,#880,#890,#8e0,#8a0,#890,#8f0,#900,#900,#900,#950,#8d0,#930,#950,#950,#900,#8e0,#8c0,#8d0,#960,#900,#980,#960,#960,#980,#950,#9c0,#9a0,#9a0,#aa0,#a30,#a10,#9c0,#9b0,#940,#980,#9a0,#900,#9a0,#930,#8f0,#980,#940,#9a0,#990,#930,#950,#930,#870,#8e0,#870,#850,#830,#820,#840,#890,#8e0,#920,#990,#9a0,#9a0,#960,#9f0,#a10,#a00,#a20,#a50,#9c0,#9a0,#9d0,#9c0,#9d0,#9a0,#9c0,#9d0,#a20,#980,#8c0,#900,#910,#8c0,#910,#8b0,#8e0,#7f0,#710,#5b0,#410,#310,#2f0,#270,#210,#250,#270,#240,#230)"></i>
<i style="top:222px;height:5px;background:linear-gradient(90deg,#450,#4e0,#4f0,#590,#620,#670,#6a0,#700,#750,#7e0,#830,#880,#830,#890,#910,#950,#a30,#a00,#a00,#a50,#9c0,#960,#930,#9d0,#9d0,#9c0,#9a0,#950,#930,#900,#910,#8b0,#8e0,#910,#8a0,#890,#860,#8a0,#860,#870,#8e0,#7d0,#890,#8c0,#800,#800,#830,#7e0,#820,#830,#820,#820,#820,#8b0,#9a0,#a70,#9f0,#a10,#aa0,#a00,#9b0,#980,#940,#9b0,#a00,#9b0,#940,#950,#8e0,#840,#810,#800,#800,#850,#850,#890,#880,#830,#800,#8c0,#940,#8f0,#930,#920,#9b0,#930,#970,#970,#900,#920,#9d0,#9c0,#970,#910,#910,#860,#820,#780,#810,#860,#8e0,#990,#9b0,#a60,#a20,#9b0,#a40,#9a0,#970,#8a0,#880,#8f0,#8a0,#840,#820,#7e0,#810,#7b0,#880,#810,#8d0,#850,#810,#870,#8e0,#8f0,#920,#9b0,#9b0,#9c0,#a50,#960,#a30,#960,#930,#940,#990,#960,#a00,#9d0,#a00,#990,#980,#980,#9f0,#930,#980,#8f0,#8d0,#930,#920,#930,#8a0,#810,#860,#820,#800,#830,#860,#870,#870,#880,#8b0,#8a0,#820,#8b0,#830,#840,#850,#840,#860,#870,#880,#870,#890,#880,#8c0,#950,#920,#930,#930,#8c0,#8d0,#8f0,#890,#910,#900,#8e0,#8d0,#970,#900,#9a0,#960,#950,#8f0,#960,#930,#970,#8e0,#900,#8e0,#900,#890,#910,#950,#900,#9d0,#970,#9b0,#9b0,#9c0,#a30,#a40,#9e0,#a50,#a20,#9d0,#950,#9a0,#9c0,#970,#8f0,#8b0,#980,#960,#970,#920,#930,#900,#8f0,#900,#8d0,#880,#8a0,#880,#840,#840,#830,#890,#910,#970,#9b0,#990,#970,#9d0,#9a0,#9d0,#a60,#a40,#980,#a50,#9f0,#9c0,#a00,#a10,#9e0,#a10,#a20,#990,#9d0,#950,#950,#8f0,#920,#8c0,#8f0,#8d0,#7f0,#720,#5d0,#4a0,#310,#2c0,#290,#1e0,#270,#270,#280,#230)"></i>
<i style="top:227px;height:4px;background:linear-gradient(90deg,#4c0,#530,#580,#570,#640,#6a0,#770,#7c0,#7b0,#810,#790,#850,#8b0,#940,#920,#960,#990,#aa0,#a10,#b00,#a00,#a10,#970,#9d0,#a10,#a20,#9a0,#970,#9b0,#990,#8c0,#8f0,#930,#8d0,#840,#8d0,#930,#900,#880,#8a0,#8c0,#880,#8b0,#8d0,#840,#8a0,#830,#820,#820,#7b0,#7d0,#820,#800,#950,#9c0,#a40,#aa0,#ac0,#ac0,#a00,#9d0,#a10,#9e0,#9f0,#a10,#a30,#980,#930,#890,#8d0,#8e0,#8b0,#8a0,#890,#8a0,#8c0,#880,#860,#890,#8c0,#920,#940,#950,#960,#940,#990,#970,#940,#960,#9b0,#9a0,#960,#9e0,#980,#920,#8c0,#7d0,#800,#830,#860,#8f0,#980,#9c0,#a60,#a50,#a20,#a00,#970,#900,#910,#8f0,#8e0,#860,#880,#890,#810,#8e0,#870,#830,#8a0,#8a0,#8b0,#8c0,#8d0,#8e0,#930,#900,#9f0,#a30,#a20,#a60,#a40,#a00,#9c0,#910,#9c0,#970,#a00,#a30,#a00,#a40,#9c0,#980,#990,#9a0,#990,#930,#950,#970,#990,#8b0,#900,#8e0,#840,#890,#860,#810,#830,#880,#8a0,#8d0,#8e0,#930,#890,#950,#820,#8a0,#820,#870,#840,#8c0,#8a0,#8a0,#8d0,#850,#8c0,#920,#8e0,#940,#950,#970,#970,#9d0,#960,#940,#900,#900,#8f0,#8d0,#8d0,#930,#9a0,#940,#960,#960,#9c0,#970,#9d0,#910,#920,#8f0,#930,#960,#950,#9a0,#970,#9c0,#980,#950,#980,#9e0,#a40,#a00,#a50,#ab0,#a10,#a00,#9e0,#9e0,#9d0,#9b0,#980,#9f0,#9f0,#970,#960,#930,#930,#9b0,#950,#960,#8b0,#8f0,#890,#840,#810,#890,#880,#8c0,#940,#950,#9f0,#9c0,#9c0,#a10,#a60,#9f0,#a50,#a70,#aa0,#a80,#aa0,#980,#9f0,#a00,#a20,#a40,#9c0,#9e0,#9c0,#9d0,#960,#970,#8e0,#930,#920,#890,#7c0,#750,#580,#470,#380,#2b0,#270,#280,#210,#200,#230,#290)"></i>
<i style="top:231px;height:5px;background:linear-gradient(90deg,#520,#490,#550,#590,#5e0,#660,#7c0,#7a0,#7f0,#800,#810,#7e0,#8a0,#8e0,#940,#9b0,#a00,#a80,#a50,#9e0,#9e0,#a00,#950,#9f0,#9f0,#9d0,#990,#9c0,#8d0,#950,#930,#920,#890,#900,#880,#880,#8d0,#870,#8a0,#8f0,#8e0,#8f0,#8e0,#880,#8b0,#830,#8c0,#7e0,#8a0,#780,#7c0,#830,#850,#8e0,#9d0,#a50,#a40,#ad0,#9e0,#a50,#990,#9e0,#a00,#a20,#980,#a00,#990,#950,#890,#8a0,#840,#850,#800,#8d0,#8a0,#870,#800,#860,#8a0,#850,#8a0,#900,#900,#9e0,#990,#990,#9a0,#9e0,#9b0,#980,#a10,#990,#9c0,#960,#960,#8c0,#820,#7a0,#7f0,#8c0,#8d0,#980,#9f0,#a80,#a00,#a30,#9b0,#990,#950,#930,#8e0,#8a0,#890,#8a0,#830,#840,#830,#7c0,#920,#940,#8c0,#890,#820,#880,#900,#880,#990,#9d0,#a10,#a60,#a00,#a20,#a40,#9d0,#920,#9e0,#970,#a00,#9d0,#a00,#9e0,#a00,#990,#970,#990,#9c0,#950,#8f0,#940,#910,#940,#920,#8b0,#870,#860,#850,#840,#8a0,#850,#8a0,#8f0,#8b0,#8f0,#8b0,#820,#8a0,#860,#870,#840,#860,#8b0,#880,#870,#850,#8c0,#8b0,#870,#900,#8c0,#830,#980,#860,#8f0,#8c0,#960,#920,#8d0,#8e0,#910,#920,#910,#8f0,#990,#990,#920,#950,#930,#950,#950,#920,#950,#910,#910,#970,#9e0,#a00,#9d0,#9d0,#990,#9b0,#9c0,#a30,#a80,#a40,#aa0,#a80,#a20,#9f0,#950,#a10,#960,#9b0,#970,#950,#930,#970,#9f0,#9a0,#9a0,#970,#8f0,#8f0,#840,#880,#890,#8a0,#8d0,#8d0,#8f0,#950,#9a0,#9b0,#a10,#9e0,#a70,#a40,#a70,#a50,#ac0,#aa0,#9d0,#a30,#9e0,#a10,#9d0,#9f0,#9e0,#9d0,#9e0,#9e0,#970,#9d0,#950,#970,#8f0,#8a0,#870,#800,#6f0,#5f0,#4a0,#390,#2a0,#260,#240,#270,#280,#260,#240)"></i>
<i style="top:236px;height:4px;background:linear-gradient(90deg,#4a0,#4c0,#4f0,#5a0,#590,#6b0,#6e0,#790,#7b0,#730,#7f0,#870,#820,#8f0,#8e0,#9d0,#a20,#a00,#9c0,#a00,#a00,#980,#950,#930,#9a0,#980,#8d0,#8b0,#980,#960,#970,#850,#8b0,#8c0,#8f0,#8c0,#910,#8b0,#890,#8a0,#870,#850,#8a0,#8b0,#840,#810,#810,#8d0,#880,#810,#7e0,#790,#840,#8a0,#980,#a30,#a90,#aa0,#a00,#a10,#9b0,#9a0,#9d0,#9c0,#9c0,#990,#880,#8d0,#870,#7c0,#830,#7f0,#8c0,#890,#810,#860,#820,#870,#850,#870,#890,#8c0,#8d0,#970,#920,#970,#960,#970,#9b0,#9c0,#9e0,#970,#9b0,#8c0,#8f0,#900,#830,#800,#750,#850,#8f0,#950,#9d0,#9f0,#9e0,#a70,#a20,#930,#8f0,#930,#830,#850,#920,#820,#840,#7d0,#840,#870,#820,#870,#8f0,#8c0,#870,#850,#840,#880,#960,#9b0,#9c0,#a50,#9c0,#970,#9f0,#950,#990,#990,#9a0,#9a0,#a00,#9d0,#9e0,#950,#9e0,#9b0,#9a0,#960,#990,#950,#9a0,#8c0,#880,#880,#870,#890,#810,#870,#810,#880,#7e0,#8a0,#8a0,#850,#8b0,#860,#890,#870,#830,#830,#830,#880,#840,#8a0,#8b0,#820,#870,#880,#8e0,#8d0,#8b0,#910,#860,#950,#940,#900,#890,#860,#8a0,#910,#880,#880,#8d0,#920,#8f0,#960,#940,#900,#910,#960,#9a0,#930,#910,#920,#8c0,#9c0,#940,#9b0,#9b0,#960,#9b0,#980,#9d0,#a20,#a00,#a40,#a10,#a00,#9c0,#990,#970,#9e0,#960,#930,#910,#940,#9b0,#930,#970,#980,#980,#920,#8d0,#900,#8d0,#8e0,#870,#7c0,#820,#850,#8b0,#920,#900,#9a0,#9d0,#9c0,#9b0,#9f0,#a00,#a20,#a30,#a10,#a50,#a40,#9b0,#9d0,#a30,#990,#a00,#9d0,#940,#9d0,#960,#980,#930,#900,#870,#8b0,#880,#7c0,#720,#580,#430,#380,#2b0,#290,#240,#280,#2f0,#230,#210)"></i>
<i style="top:240px;height:4px;background:linear-gradient(90deg,#440,#4c0,#4d0,#4f0,#540,#5b0,#630,#6e0,#710,#7e0,#780,#780,#870,#850,#8a0,#8a0,#920,#990,#9f0,#980,#940,#8f0,#930,#920,#980,#9b0,#8f0,#8f0,#8b0,#820,#850,#830,#840,#870,#840,#870,#8b0,#790,#810,#890,#7c0,#840,#820,#790,#7e0,#7e0,#750,#7c0,#7d0,#750,#750,#790,#780,#840,#900,#940,#9f0,#9f0,#9d0,#950,#960,#910,#950,#920,#8e0,#8a0,#880,#860,#770,#7e0,#7e0,#830,#850,#7e0,#7a0,#840,#7e0,#850,#820,#840,#880,#8d0,#8c0,#8c0,#920,#900,#910,#8b0,#920,#8e0,#990,#8d0,#880,#8d0,#890,#880,#7d0,#7f0,#720,#810,#8d0,#8b0,#950,#9b0,#990,#960,#900,#900,#8e0,#8c0,#840,#840,#7c0,#7e0,#7e0,#760,#790,#790,#820,#870,#7f0,#7e0,#7f0,#840,#870,#850,#8b0,#8e0,#960,#980,#9d0,#960,#940,#950,#960,#900,#8c0,#950,#980,#960,#950,#900,#900,#910,#900,#910,#8d0,#8a0,#8e0,#890,#8c0,#860,#850,#7d0,#7f0,#810,#7a0,#800,#810,#810,#850,#810,#850,#850,#7e0,#880,#7e0,#800,#860,#820,#7d0,#7f0,#7a0,#7b0,#810,#850,#880,#870,#870,#870,#860,#8e0,#890,#840,#840,#880,#880,#830,#860,#880,#820,#8b0,#840,#920,#810,#8e0,#8f0,#930,#880,#840,#830,#840,#890,#8a0,#950,#820,#890,#8d0,#8d0,#940,#910,#9f0,#9d0,#9a0,#930,#a00,#920,#900,#940,#920,#970,#920,#920,#8a0,#8d0,#880,#8d0,#910,#8a0,#910,#860,#890,#7d0,#7b0,#800,#7e0,#7f0,#780,#7e0,#8a0,#910,#900,#960,#960,#970,#940,#940,#9c0,#9c0,#980,#9a0,#9a0,#960,#920,#980,#970,#9e0,#920,#8d0,#920,#8c0,#930,#880,#900,#810,#7e0,#7d0,#790,#740,#5c0,#460,#3f0,#2e0,#2b0,#260,#280,#220,#220,#260)"></i>
<i style="top:244px;height:5px;background:linear-gradient(90deg,#510,#530,#540,#590,#690,#690,#780,#7e0,#7e0,#8e0,#890,#860,#8f0,#8e0,#a10,#a20,#a60,#a90,#ad0,#aa0,#a30,#a20,#980,#a10,#950,#a20,#a10,#980,#990,#950,#900,#8e0,#950,#940,#8a0,#850,#950,#900,#8f0,#910,#930,#8b0,#890,#900,#8d0,#830,#890,#8c0,#810,#830,#7e0,#820,#8c0,#970,#9b0,#9d0,#a70,#ad0,#a70,#a00,#a40,#a50,#9f0,#9b0,#a40,#9d0,#960,#8a0,#8c0,#8d0,#8d0,#830,#820,#8d0,#8e0,#8d0,#870,#860,#860,#900,#960,#8f0,#a00,#9c0,#9a0,#9a0,#a20,#9b0,#9d0,#9a0,#a90,#9e0,#9c0,#970,#8c0,#950,#880,#8b0,#8a0,#8c0,#980,#a40,#a40,#9e0,#a20,#9e0,#9f0,#9c0,#980,#940,#920,#8d0,#8b0,#870,#890,#890,#860,#8f0,#900,#910,#910,#930,#860,#890,#8c0,#970,#9a0,#9f0,#a20,#a40,#a60,#a30,#a00,#a00,#9d0,#9b0,#9d0,#ac0,#a30,#9e0,#9d0,#a10,#980,#9f0,#9a0,#970,#9f0,#970,#990,#8e0,#900,#8f0,#940,#890,#8c0,#940,#8a0,#850,#900,#920,#8a0,#8d0,#8f0,#8b0,#8a0,#8c0,#8e0,#8b0,#880,#860,#910,#8e0,#8b0,#830,#8a0,#8e0,#920,#8c0,#8f0,#9b0,#930,#930,#900,#930,#920,#900,#920,#970,#900,#950,#970,#910,#9b0,#990,#a00,#990,#970,#9f0,#900,#930,#930,#940,#980,#970,#970,#9f0,#9b0,#990,#950,#9e0,#a10,#9c0,#a80,#9c0,#a60,#a40,#a10,#a50,#a80,#a10,#980,#970,#9f0,#a00,#9f0,#9c0,#9a0,#980,#960,#9b0,#8f0,#900,#940,#8d0,#8a0,#900,#870,#8f0,#8e0,#960,#9b0,#9e0,#a00,#9b0,#a00,#a10,#a70,#a40,#ad0,#ab0,#a60,#a00,#a10,#a40,#a60,#a10,#a70,#9b0,#a10,#9f0,#990,#9d0,#940,#950,#9c0,#970,#850,#850,#730,#680,#460,#300,#350,#1d0,#290,#270,#250,#270,#220)"></i>
<i style="top:249px;height:4px;background:linear-gradient(90deg,#4f0,#500,#570,#600,#660,#6f0,#710,#7c0,#7c0,#7d0,#8a0,#8b0,#8f0,#960,#9c0,#9f0,#9e0,#a70,#a50,#a50,#a00,#a00,#9f0,#9d0,#970,#a00,#9c0,#940,#a40,#970,#8a0,#930,#8b0,#8a0,#930,#920,#920,#880,#910,#8b0,#8c0,#900,#8c0,#880,#800,#8d0,#820,#8a0,#8c0,#860,#860,#800,#880,#8a0,#970,#a40,#a50,#a40,#aa0,#9f0,#a40,#9f0,#a10,#9e0,#9a0,#970,#960,#8c0,#860,#8a0,#890,#8a0,#900,#840,#870,#8f0,#870,#8e0,#8d0,#8f0,#8d0,#900,#960,#9b0,#a00,#9f0,#a50,#980,#a40,#9d0,#a10,#990,#9a0,#a00,#950,#8a0,#820,#800,#860,#8a0,#990,#9b0,#a40,#a50,#a30,#9b0,#940,#9f0,#8e0,#930,#900,#900,#950,#880,#8c0,#8a0,#840,#8f0,#860,#880,#8a0,#920,#900,#8e0,#870,#8d0,#9e0,#a50,#a40,#a00,#9f0,#a00,#9f0,#9a0,#960,#950,#960,#9f0,#9c0,#9e0,#9c0,#a60,#9c0,#9f0,#9a0,#9c0,#9f0,#930,#970,#9b0,#920,#960,#8b0,#890,#830,#850,#870,#8d0,#920,#800,#910,#8f0,#880,#910,#8a0,#890,#990,#870,#920,#930,#870,#8d0,#8f0,#8e0,#840,#920,#8b0,#900,#8d0,#920,#900,#930,#980,#960,#920,#960,#8e0,#970,#8a0,#940,#8c0,#950,#970,#980,#9a0,#920,#9d0,#930,#970,#920,#990,#8d0,#900,#940,#8f0,#9b0,#940,#930,#960,#990,#a00,#a00,#9f0,#ad0,#a10,#9f0,#a70,#9e0,#a40,#a00,#a00,#910,#960,#970,#9f0,#9b0,#940,#9e0,#9c0,#9b0,#970,#8a0,#8e0,#8c0,#800,#8a0,#7d0,#8b0,#8c0,#910,#940,#a10,#9a0,#960,#a10,#a20,#a20,#a70,#a30,#9e0,#9e0,#ab0,#a30,#a40,#9c0,#9b0,#a10,#a30,#a10,#9e0,#970,#980,#950,#920,#930,#920,#860,#880,#750,#650,#440,#3a0,#300,#250,#270,#2b0,#260,#1f0,#250)"></i>
<i style="top:253px;height:4px;background:linear-gradient(90deg,#580,#570,#5b0,#5e0,#6a0,#760,#6b0,#810,#830,#820,#910,#850,#990,#8a0,#9d0,#9c0,#a70,#a90,#b00,#a90,#a20,#a00,#a50,#a10,#a30,#a70,#a10,#980,#a10,#990,#8d0,#910,#920,#9d0,#960,#920,#890,#910,#910,#970,#900,#900,#8a0,#990,#920,#8e0,#860,#870,#850,#890,#820,#8b0,#8d0,#960,#9c0,#ab0,#ab0,#ac0,#a60,#aa0,#aa0,#9f0,#a60,#9f0,#a10,#950,#980,#920,#920,#890,#870,#8a0,#8e0,#8f0,#890,#8e0,#840,#8d0,#8f0,#9b0,#980,#990,#960,#9c0,#a60,#9a0,#a80,#950,#a20,#a20,#9e0,#a60,#9c0,#9e0,#900,#8f0,#890,#8b0,#8f0,#930,#980,#950,#9a0,#ac0,#a90,#a30,#9c0,#9c0,#980,#900,#990,#8b0,#8b0,#880,#890,#870,#8d0,#8f0,#860,#8d0,#960,#970,#990,#8e0,#9c0,#9c0,#a30,#9f0,#a70,#a80,#b20,#a40,#a60,#a60,#a60,#a00,#a80,#ab0,#a80,#a90,#a40,#9d0,#a30,#a50,#a10,#940,#a40,#a00,#a00,#970,#950,#930,#940,#8c0,#8a0,#900,#8c0,#8b0,#8b0,#9b0,#960,#950,#980,#970,#890,#8d0,#910,#8b0,#8d0,#8a0,#8b0,#880,#920,#8e0,#8a0,#900,#880,#990,#9a0,#910,#9b0,#950,#9d0,#980,#970,#940,#970,#980,#990,#9a0,#970,#970,#940,#9e0,#a00,#980,#9e0,#a40,#9d0,#980,#970,#960,#950,#960,#920,#980,#9a0,#a20,#980,#9f0,#a90,#b10,#a60,#a60,#aa0,#a90,#a40,#a80,#9c0,#9e0,#9b0,#9a0,#a20,#9b0,#9e0,#9b0,#a00,#a60,#a00,#9d0,#990,#930,#900,#8d0,#870,#8f0,#880,#920,#980,#950,#9c0,#9c0,#a40,#a20,#a40,#9e0,#a00,#a20,#ad0,#a70,#a60,#aa0,#a50,#9f0,#a10,#a20,#a80,#a40,#a20,#a90,#9f0,#9b0,#9b0,#a40,#920,#930,#8d0,#890,#780,#650,#4a0,#3a0,#310,#2c0,#2c0,#260,#300,#200,#290)"></i>
<i style="top:257px;height:5px;background:linear-gradient(90deg,#580,#5f0,#5f0,#6b0,#6d0,#700,#820,#7f0,#870,#890,#8a0,#910,#950,#9c0,#a40,#9d0,#ae0,#aa0,#af0,#ad0,#ab0,#a50,#ab0,#a30,#ad0,#a60,#a90,#a60,#a00,#940,#970,#9f0,#9e0,#970,#9a0,#940,#980,#970,#9a0,#9b0,#950,#960,#900,#930,#950,#910,#940,#8c0,#800,#890,#830,#8f0,#9b0,#960,#a40,#ac0,#ac0,#a70,#af0,#ae0,#b10,#ad0,#a70,#a20,#ac0,#9c0,#990,#940,#8f0,#8c0,#8e0,#970,#930,#8c0,#8f0,#920,#960,#8f0,#8f0,#960,#990,#9f0,#9f0,#a60,#a00,#a10,#a70,#a70,#a40,#aa0,#aa0,#ad0,#a40,#9c0,#9a0,#9f0,#900,#8d0,#8c0,#990,#9c0,#9f0,#a60,#b30,#b30,#a70,#a90,#9c0,#9c0,#980,#930,#950,#910,#900,#8d0,#890,#890,#8f0,#940,#940,#950,#970,#950,#920,#920,#9e0,#9c0,#9e0,#aa0,#ae0,#aa0,#b10,#ac0,#af0,#a10,#a00,#a90,#a40,#a60,#a30,#9f0,#a90,#a40,#a40,#a00,#a30,#a70,#a80,#9c0,#9e0,#a00,#970,#9d0,#970,#900,#900,#8c0,#8f0,#910,#920,#9a0,#910,#950,#950,#920,#900,#910,#930,#8d0,#8e0,#9f0,#940,#920,#940,#910,#9b0,#9e0,#9b0,#9b0,#9b0,#990,#a30,#9d0,#950,#910,#9d0,#9f0,#9b0,#9d0,#970,#a20,#a20,#970,#9b0,#a10,#a40,#a90,#990,#a50,#9f0,#960,#980,#920,#9d0,#a00,#a00,#a50,#a90,#a50,#a00,#aa0,#b00,#ad0,#aa0,#aa0,#a80,#b00,#a60,#ab0,#aa0,#9e0,#a10,#a50,#a30,#aa0,#a00,#a10,#990,#a20,#9b0,#a00,#970,#8f0,#900,#930,#930,#8d0,#8f0,#970,#a10,#9c0,#a20,#a00,#a50,#b20,#a70,#a90,#b40,#ab0,#a90,#b10,#ae0,#b20,#a80,#aa0,#a50,#ac0,#a90,#b00,#b30,#a30,#a20,#a40,#a10,#9f0,#910,#980,#910,#780,#6e0,#520,#3b0,#310,#2b0,#310,#210,#1f0,#230,#290)"></i>
<i style="top:262px;height:4px;background:linear-gradient(90deg,#590,#520,#610,#5f0,#640,#6c0,#750,#890,#890,#8c0,#8c0,#850,#940,#910,#960,#9c0,#a20,#a70,#a80,#a70,#9d0,#a60,#9b0,#a20,#9a0,#9c0,#a50,#9f0,#970,#970,#900,#8b0,#8f0,#950,#930,#900,#900,#930,#8f0,#8c0,#930,#8a0,#8b0,#8b0,#8e0,#8e0,#910,#8d0,#8c0,#8b0,#7b0,#840,#920,#970,#9f0,#9e0,#a30,#a60,#a10,#a50,#a50,#a00,#a00,#990,#a10,#9b0,#8e0,#860,#8c0,#8c0,#840,#8d0,#810,#890,#910,#840,#8b0,#8e0,#8b0,#880,#8f0,#980,#950,#9e0,#a00,#a00,#a00,#9b0,#a40,#a50,#a10,#9d0,#940,#990,#8d0,#8d0,#900,#870,#8a0,#8d0,#8e0,#9b0,#a40,#a60,#9e0,#9a0,#9d0,#990,#920,#960,#950,#920,#880,#8a0,#830,#8c0,#810,#910,#880,#8d0,#940,#920,#880,#920,#940,#950,#920,#9b0,#9f0,#a80,#a70,#a20,#9e0,#a90,#a60,#9e0,#970,#9c0,#a20,#a00,#9b0,#a10,#9f0,#9d0,#a00,#a40,#a20,#9d0,#940,#9b0,#9f0,#990,#910,#8b0,#8a0,#8e0,#850,#890,#8e0,#870,#8e0,#960,#970,#8d0,#8b0,#910,#880,#8c0,#8e0,#890,#920,#8f0,#860,#920,#910,#940,#910,#8e0,#950,#9a0,#a40,#940,#980,#920,#950,#8e0,#920,#8f0,#910,#900,#990,#920,#9d0,#990,#960,#9c0,#9a0,#980,#9a0,#990,#950,#960,#990,#8e0,#980,#960,#970,#a60,#950,#9b0,#a90,#ab0,#a80,#9f0,#a50,#a40,#a00,#9d0,#a00,#9c0,#9c0,#990,#9a0,#9c0,#a00,#a40,#970,#9d0,#9d0,#940,#950,#960,#940,#8a0,#870,#8a0,#8a0,#8f0,#910,#980,#950,#a00,#9a0,#9c0,#a50,#a10,#a40,#ab0,#a40,#a50,#b20,#a00,#a00,#a30,#a10,#a10,#a20,#a20,#9b0,#9d0,#9b0,#9a0,#950,#980,#990,#960,#920,#910,#740,#6d0,#520,#3c0,#270,#2f0,#260,#280,#200,#2c0,#230)"></i>
<i style="top:266px;height:5px;background:linear-gradient(90deg,#4d0,#590,#590,#610,#660,#710,#770,#7e0,#840,#770,#7f0,#830,#8d0,#930,#980,#9e0,#a10,#a40,#9b0,#a80,#a30,#9b0,#990,#a60,#a50,#a30,#980,#990,#910,#9b0,#8d0,#8b0,#930,#8c0,#8f0,#880,#980,#8f0,#900,#850,#8d0,#870,#840,#8f0,#880,#870,#860,#820,#850,#800,#7b0,#870,#8e0,#970,#940,#a60,#ad0,#a90,#aa0,#9f0,#a00,#a50,#9b0,#950,#9d0,#930,#8a0,#870,#860,#890,#8e0,#850,#820,#810,#8a0,#900,#8d0,#8a0,#870,#990,#970,#940,#9a0,#9f0,#9e0,#a10,#a00,#9a0,#a20,#a20,#a60,#950,#a00,#970,#920,#830,#870,#7f0,#890,#8b0,#920,#a00,#a10,#a10,#a40,#9f0,#a00,#9b0,#970,#8e0,#970,#8a0,#980,#8c0,#860,#870,#870,#8b0,#840,#850,#920,#8b0,#8d0,#8c0,#940,#920,#940,#990,#a10,#a30,#a00,#9f0,#a10,#9d0,#990,#980,#940,#a20,#a10,#960,#980,#980,#970,#9c0,#980,#980,#920,#920,#920,#940,#950,#920,#900,#8f0,#8d0,#870,#840,#8c0,#8d0,#8f0,#8d0,#8d0,#930,#8b0,#8f0,#8d0,#860,#8f0,#820,#8d0,#8f0,#8e0,#910,#860,#8f0,#900,#910,#8d0,#960,#960,#970,#920,#920,#900,#8f0,#960,#950,#8f0,#940,#8c0,#990,#8c0,#980,#960,#970,#9e0,#990,#9d0,#920,#940,#8d0,#8f0,#920,#910,#970,#9c0,#9d0,#960,#9d0,#960,#a20,#a20,#a20,#a10,#9e0,#a60,#a20,#a30,#a10,#980,#9c0,#940,#9b0,#9d0,#990,#9c0,#a10,#9c0,#9d0,#990,#920,#8d0,#8d0,#8d0,#8a0,#7f0,#850,#8f0,#9a0,#960,#930,#9b0,#a20,#9e0,#a00,#9f0,#a00,#a40,#a30,#a30,#9d0,#a80,#980,#9d0,#a30,#9e0,#a00,#9a0,#9b0,#9a0,#990,#9d0,#990,#910,#960,#8f0,#910,#8e0,#810,#660,#560,#380,#2a0,#260,#270,#290,#270,#1a0,#240)"></i>
<i style="top:271px;height:4px;background:linear-gradient(90deg,#670,#5d0,#6a0,#680,#790,#7d0,#7e0,#850,#940,#930,#900,#950,#9a0,#a30,#a40,#a60,#ae0,#b00,#b00,#ae0,#ad0,#a30,#b00,#aa0,#ab0,#a50,#ac0,#9d0,#a50,#9f0,#980,#970,#9e0,#9c0,#9c0,#a20,#960,#9f0,#970,#940,#990,#a10,#8e0,#9f0,#980,#8e0,#930,#900,#8f0,#8b0,#8f0,#930,#960,#980,#a10,#ad0,#a70,#b00,#a50,#b50,#af0,#a60,#a90,#a50,#a10,#a20,#900,#980,#9a0,#930,#920,#9a0,#950,#920,#9b0,#950,#970,#9b0,#990,#a20,#9d0,#9e0,#a40,#a50,#aa0,#a80,#b00,#aa0,#aa0,#a50,#b30,#a70,#a20,#9e0,#990,#970,#8d0,#8a0,#9c0,#920,#9b0,#a10,#a90,#ab0,#ad0,#ae0,#aa0,#a60,#9d0,#9f0,#a00,#9e0,#980,#9d0,#990,#930,#8e0,#900,#930,#930,#8f0,#970,#950,#990,#990,#990,#a30,#a90,#a70,#b50,#a90,#b30,#a60,#ab0,#a60,#a80,#9f0,#ac0,#9e0,#a40,#a40,#aa0,#ae0,#a50,#a30,#9c0,#ae0,#980,#940,#9a0,#9d0,#a50,#a00,#9b0,#920,#920,#940,#8e0,#990,#900,#950,#9b0,#9a0,#930,#940,#9e0,#940,#9f0,#960,#9a0,#930,#9b0,#8a0,#910,#980,#960,#9f0,#a20,#950,#a10,#9e0,#a50,#9b0,#9c0,#9b0,#9f0,#a10,#940,#990,#8c0,#a40,#a10,#a10,#a90,#a60,#9e0,#ac0,#a50,#9a0,#9a0,#980,#a00,#a60,#a70,#a30,#a10,#9e0,#a20,#aa0,#a80,#b40,#a10,#b80,#ad0,#ae0,#ae0,#a40,#a90,#ab0,#ab0,#a60,#a40,#a00,#a20,#a30,#a60,#a00,#a10,#b00,#a30,#a60,#9c0,#960,#970,#920,#8b0,#910,#940,#970,#9f0,#a70,#ab0,#aa0,#a60,#a90,#b60,#b30,#b40,#ac0,#a50,#b00,#ab0,#ab0,#ad0,#b30,#aa0,#af0,#a80,#ae0,#ad0,#a60,#a60,#a60,#9e0,#970,#960,#a00,#8c0,#860,#650,#540,#370,#2f0,#230,#2d0,#290,#2a0,#250,#2d0)"></i>
<i style="top:275px;height:4px;background:linear-gradient(90deg,#530,#630,#5e0,#6c0,#6e0,#6e0,#7e0,#770,#840,#8b0,#850,#870,#930,#960,#980,#a30,#aa0,#a40,#a70,#a30,#a50,#a00,#a30,#9b0,#9b0,#a70,#9a0,#9b0,#9c0,#900,#940,#8e0,#8d0,#840,#8c0,#8d0,#8f0,#8f0,#8d0,#8c0,#890,#8e0,#8d0,#910,#930,#920,#880,#830,#8b0,#8c0,#810,#8a0,#8f0,#950,#9b0,#9f0,#a50,#a70,#a30,#aa0,#a30,#aa0,#970,#9a0,#9a0,#920,#8f0,#8d0,#880,#900,#7d0,#8c0,#8a0,#8d0,#900,#8c0,#8b0,#880,#8d0,#850,#990,#8e0,#9a0,#9f0,#9b0,#9f0,#a50,#9b0,#a10,#a50,#a10,#a30,#920,#950,#950,#900,#7a0,#850,#810,#8e0,#990,#980,#9c0,#a60,#960,#a10,#9d0,#9a0,#950,#8b0,#8c0,#8f0,#8a0,#8f0,#8a0,#8f0,#8c0,#800,#8d0,#910,#910,#8b0,#8b0,#8b0,#950,#8b0,#940,#9b0,#9c0,#a30,#9b0,#a30,#a10,#9f0,#9d0,#9a0,#9e0,#950,#9e0,#970,#990,#a50,#9c0,#980,#9b0,#960,#9f0,#9a0,#910,#980,#970,#980,#860,#8c0,#870,#860,#890,#910,#8a0,#910,#930,#830,#940,#8a0,#830,#900,#900,#8b0,#800,#840,#8a0,#8e0,#920,#930,#8d0,#900,#920,#8f0,#910,#930,#970,#960,#960,#910,#970,#8e0,#930,#8f0,#8b0,#930,#8e0,#8f0,#9a0,#9a0,#9f0,#9a0,#9e0,#9c0,#9c0,#950,#910,#960,#9b0,#910,#8f0,#9b0,#920,#920,#9d0,#990,#9f0,#a20,#a20,#a90,#a60,#a70,#a20,#a60,#9b0,#9d0,#8f0,#9f0,#960,#9a0,#9a0,#9f0,#9a0,#9f0,#9e0,#9c0,#940,#910,#900,#8e0,#870,#7e0,#850,#910,#920,#8f0,#960,#980,#a00,#a80,#9d0,#a50,#a40,#a20,#9f0,#a00,#9e0,#a10,#970,#a50,#a10,#ad0,#a30,#a00,#9c0,#9f0,#9e0,#a20,#930,#990,#930,#960,#900,#880,#790,#5e0,#510,#3e0,#2e0,#210,#270,#270,#2a0,#2e0,#2b0)"></i>
<i style="top:279px;height:5px;background:linear-gradient(90deg,#530,#650,#630,#660,#6e0,#720,#780,#770,#7f0,#8b0,#8a0,#8a0,#8b0,#980,#980,#a00,#a60,#a20,#a00,#aa0,#9b0,#a60,#a10,#9f0,#a80,#9f0,#9f0,#a50,#990,#970,#920,#8f0,#8f0,#900,#900,#8c0,#890,#8c0,#8e0,#910,#8b0,#930,#8f0,#8d0,#8e0,#8c0,#7f0,#920,#890,#820,#830,#890,#8c0,#920,#9e0,#990,#a00,#a10,#a60,#a30,#aa0,#a80,#a00,#960,#980,#8b0,#8b0,#880,#8b0,#8f0,#870,#820,#890,#8d0,#8e0,#8c0,#870,#8f0,#990,#8c0,#910,#920,#9f0,#9b0,#a60,#9b0,#a60,#a20,#9c0,#a10,#a90,#9e0,#9a0,#940,#980,#900,#820,#870,#8d0,#8c0,#9a0,#950,#9e0,#a20,#990,#9d0,#9b0,#9b0,#9f0,#910,#8f0,#8b0,#8c0,#8d0,#890,#850,#950,#8c0,#910,#8b0,#880,#8b0,#8e0,#940,#940,#9d0,#9a0,#a00,#a40,#a70,#a80,#a70,#a70,#9a0,#9d0,#9c0,#970,#990,#9d0,#a20,#a00,#a40,#990,#9c0,#950,#950,#950,#9f0,#9d0,#940,#960,#8c0,#8e0,#8c0,#880,#860,#8d0,#8e0,#950,#8e0,#8f0,#940,#8f0,#8e0,#8d0,#910,#880,#880,#890,#870,#8e0,#870,#900,#8a0,#8d0,#910,#960,#8b0,#900,#910,#930,#930,#960,#910,#930,#9a0,#8e0,#930,#900,#930,#910,#930,#970,#990,#a10,#970,#960,#9a0,#9e0,#950,#8f0,#920,#930,#900,#940,#9b0,#970,#960,#980,#980,#a60,#9f0,#a00,#9a0,#9a0,#a60,#a40,#a10,#a70,#a40,#a20,#980,#9f0,#9d0,#980,#a30,#a10,#9f0,#9b0,#9e0,#930,#940,#900,#850,#7c0,#7f0,#8c0,#8a0,#980,#990,#9b0,#9f0,#a50,#a50,#ac0,#a70,#a30,#a10,#a00,#aa0,#9c0,#a40,#a20,#a50,#a10,#a40,#a00,#a00,#9b0,#9c0,#960,#9a0,#990,#9a0,#9d0,#9d0,#960,#8d0,#800,#590,#550,#3e0,#350,#2c0,#2d0,#2a0,#250,#290,#2f0)"></i>
<i style="top:284px;height:4px;background:linear-gradient(90deg,#540,#690,#6a0,#620,#6e0,#750,#7e0,#800,#800,#8c0,#8c0,#8b0,#970,#8d0,#980,#930,#a90,#a40,#a70,#a50,#9a0,#9f0,#a00,#970,#a00,#a10,#990,#980,#940,#8f0,#930,#8b0,#920,#8f0,#950,#880,#8b0,#920,#8c0,#880,#8b0,#920,#8a0,#8e0,#8f0,#8e0,#830,#840,#7e0,#870,#840,#930,#8e0,#980,#a40,#a20,#a80,#a60,#a50,#a00,#9e0,#a70,#990,#a50,#960,#960,#900,#880,#8a0,#900,#8c0,#800,#8a0,#8f0,#940,#8a0,#930,#980,#940,#930,#970,#970,#a30,#990,#9e0,#a10,#ae0,#a50,#a20,#a50,#9b0,#9f0,#9b0,#920,#8a0,#8e0,#860,#830,#870,#8c0,#890,#9c0,#990,#a20,#a10,#920,#9e0,#9d0,#950,#990,#970,#8d0,#970,#8b0,#8f0,#860,#880,#900,#8c0,#910,#950,#950,#970,#900,#9b0,#960,#9f0,#930,#9f0,#a90,#a40,#9f0,#a00,#930,#a60,#9e0,#990,#a50,#a50,#a10,#970,#a00,#9f0,#9c0,#a30,#9e0,#a00,#910,#970,#950,#910,#950,#910,#8b0,#8d0,#8a0,#940,#880,#8e0,#8f0,#930,#980,#940,#8f0,#8d0,#890,#910,#840,#870,#900,#8c0,#8e0,#8c0,#8f0,#870,#930,#8a0,#950,#930,#980,#910,#930,#960,#990,#970,#920,#960,#8c0,#8e0,#900,#970,#920,#920,#9b0,#9d0,#9c0,#970,#9a0,#990,#8c0,#940,#940,#910,#930,#920,#970,#9a0,#9b0,#990,#940,#a70,#980,#9d0,#a60,#a50,#a00,#a50,#a50,#9e0,#a80,#a20,#a70,#9d0,#9f0,#9f0,#a10,#9f0,#9f0,#940,#a20,#990,#930,#960,#7f0,#890,#880,#8d0,#8f0,#8d0,#950,#970,#980,#950,#a20,#990,#9c0,#9e0,#a70,#a70,#a20,#a70,#a40,#a00,#a80,#a00,#a70,#9b0,#a10,#a60,#9d0,#9f0,#9e0,#a50,#900,#990,#940,#930,#850,#830,#670,#4e0,#3e0,#320,#230,#260,#320,#260,#270,#2b0)"></i>
<i style="top:288px;height:4px;background:linear-gradient(90deg,#5c0,#670,#690,#740,#770,#820,#840,#870,#910,#8b0,#980,#930,#9b0,#a40,#a40,#a30,#aa0,#a90,#ad0,#b00,#b10,#aa0,#ad0,#a60,#aa0,#a90,#a10,#a30,#9f0,#9e0,#980,#980,#9a0,#9f0,#9d0,#960,#910,#9d0,#9b0,#9b0,#9c0,#a00,#930,#990,#920,#930,#990,#950,#960,#920,#950,#910,#9c0,#a20,#a40,#af0,#ad0,#b40,#ba0,#ad0,#ad0,#a50,#a60,#a50,#af0,#9d0,#960,#960,#930,#8d0,#8b0,#8a0,#8f0,#930,#8f0,#8d0,#8f0,#930,#9b0,#980,#a10,#9b0,#a00,#a30,#9d0,#a20,#a00,#a90,#a80,#b40,#ad0,#b00,#9d0,#9f0,#960,#960,#8c0,#920,#980,#990,#a20,#a70,#a70,#aa0,#a80,#a80,#ae0,#a00,#9e0,#a30,#9b0,#a00,#9b0,#920,#9a0,#8e0,#910,#950,#9f0,#8f0,#950,#940,#980,#9b0,#950,#9e0,#a40,#a40,#ac0,#a40,#ae0,#ad0,#ac0,#ad0,#af0,#a70,#ae0,#a90,#a70,#a90,#9a0,#a40,#a50,#a70,#ad0,#a60,#9d0,#9c0,#b10,#a20,#9f0,#930,#970,#970,#8b0,#970,#960,#910,#970,#920,#9a0,#900,#980,#9e0,#920,#970,#920,#990,#9a0,#9f0,#8d0,#9d0,#950,#940,#9d0,#940,#a10,#9e0,#9e0,#980,#9e0,#a30,#a70,#980,#9e0,#a20,#9c0,#930,#980,#960,#9d0,#a50,#9e0,#a00,#9f0,#9e0,#aa0,#a10,#9e0,#940,#9b0,#9a0,#9b0,#990,#9b0,#9e0,#a10,#a20,#9d0,#a80,#a30,#aa0,#a90,#ab0,#b30,#a40,#b00,#af0,#9d0,#a90,#b00,#a80,#a00,#a00,#a70,#a20,#9e0,#af0,#ab0,#a90,#a60,#a20,#960,#870,#930,#960,#980,#9a0,#970,#9a0,#9c0,#a20,#a60,#a80,#aa0,#ad0,#ae0,#a50,#b10,#ae0,#aa0,#a40,#b20,#b10,#a70,#aa0,#b00,#b00,#a80,#ab0,#ac0,#a60,#a10,#9e0,#a30,#a20,#9f0,#950,#7d0,#620,#510,#460,#340,#1f0,#230,#210,#280,#250,#220)"></i>
<i style="top:292px;height:5px;background:linear-gradient(90deg,#5a0,#6b0,#640,#680,#7c0,#7c0,#840,#880,#870,#8d0,#910,#900,#9c0,#9c0,#9f0,#a50,#a70,#aa0,#af0,#a60,#b20,#a90,#ad0,#ac0,#aa0,#a40,#a80,#a50,#9a0,#9a0,#a10,#8a0,#9c0,#a00,#9e0,#940,#9f0,#9d0,#8f0,#880,#920,#910,#9d0,#950,#910,#8c0,#940,#870,#950,#8e0,#960,#910,#980,#a10,#9a0,#ad0,#b20,#ab0,#ac0,#af0,#b00,#a60,#a40,#980,#a60,#940,#9a0,#9a0,#920,#8b0,#8f0,#940,#8b0,#8d0,#910,#930,#8f0,#910,#980,#910,#970,#a50,#9f0,#9f0,#a50,#a20,#a90,#b00,#aa0,#aa0,#a60,#9d0,#a10,#9d0,#990,#8d0,#8c0,#8e0,#950,#9c0,#990,#a80,#950,#ab0,#a90,#a40,#a40,#9c0,#a70,#9a0,#9c0,#9c0,#940,#970,#900,#9d0,#8d0,#9b0,#960,#8a0,#960,#930,#960,#960,#9a0,#9a0,#990,#ac0,#a40,#a40,#ac0,#a40,#a80,#a60,#a60,#a40,#a10,#a30,#a60,#9e0,#a50,#9e0,#a40,#a30,#9d0,#a70,#a80,#9c0,#9c0,#9b0,#980,#970,#9c0,#970,#960,#900,#960,#910,#940,#930,#9b0,#8e0,#9a0,#9a0,#8f0,#8f0,#920,#8d0,#900,#8e0,#960,#950,#8e0,#8c0,#9b0,#950,#9a0,#920,#9c0,#9f0,#990,#9d0,#960,#9e0,#910,#a10,#900,#a00,#9f0,#950,#9f0,#970,#a80,#a00,#a20,#a90,#9b0,#a30,#a00,#a30,#980,#980,#9a0,#9b0,#9c0,#9f0,#9c0,#a20,#9e0,#9b0,#a40,#a00,#b00,#a00,#ad0,#a70,#a70,#a40,#aa0,#a50,#a90,#a60,#a20,#a90,#a10,#a60,#9b0,#9c0,#ac0,#a50,#9b0,#9d0,#980,#940,#8c0,#900,#8d0,#950,#9b0,#9c0,#a40,#a00,#a80,#9f0,#a00,#aa0,#b30,#a90,#a70,#aa0,#ae0,#b10,#ac0,#ab0,#b30,#a60,#a90,#aa0,#ad0,#9f0,#a80,#a10,#a50,#9b0,#9a0,#9a0,#9c0,#910,#870,#6b0,#5a0,#3f0,#360,#360,#2b0,#330,#2d0,#200,#2c0)"></i>
<i style="top:297px;height:4px;background:linear-gradient(90deg,#6b0,#640,#720,#7a0,#830,#850,#900,#940,#9d0,#9a0,#920,#a30,#a00,#ab0,#a80,#ac0,#b70,#b90,#ad0,#b90,#b30,#b60,#b80,#b00,#ac0,#b00,#b20,#ad0,#ac0,#a50,#a90,#a90,#a90,#ab0,#980,#a40,#9f0,#a20,#9d0,#a10,#a40,#a20,#a30,#9c0,#a40,#a00,#9e0,#9f0,#9c0,#9b0,#9b0,#a50,#9c0,#aa0,#a80,#ba0,#bf0,#af0,#b90,#ae0,#b00,#bc0,#ad0,#ac0,#a30,#a30,#a00,#990,#9b0,#9f0,#9d0,#9f0,#900,#9c0,#9d0,#9b0,#970,#9c0,#a40,#a30,#9e0,#a60,#b10,#b30,#b40,#b70,#b30,#ac0,#b10,#b60,#b90,#ae0,#a90,#ac0,#970,#9c0,#930,#990,#9e0,#9b0,#a90,#af0,#a40,#ae0,#af0,#ad0,#ae0,#ac0,#b10,#a40,#9f0,#9e0,#a50,#980,#990,#9e0,#9f0,#950,#a10,#980,#9b0,#9c0,#a40,#ac0,#a60,#ac0,#a70,#ae0,#af0,#bd0,#bb0,#ae0,#b80,#a60,#ae0,#af0,#ac0,#b00,#ae0,#ac0,#a30,#ac0,#b20,#ba0,#a90,#a70,#a90,#b00,#a50,#9f0,#ab0,#a00,#a40,#980,#940,#9f0,#9c0,#a20,#9f0,#a40,#a70,#a00,#9b0,#990,#a60,#9c0,#9c0,#990,#9a0,#960,#990,#9a0,#a10,#980,#a00,#a40,#ab0,#9f0,#a30,#a80,#a70,#a70,#a90,#ab0,#a70,#ac0,#a70,#a10,#a50,#a80,#aa0,#aa0,#a10,#ac0,#b00,#ab0,#aa0,#aa0,#a50,#ad0,#a10,#a60,#ab0,#a10,#a30,#ab0,#ae0,#ad0,#ab0,#ac0,#b30,#b40,#b00,#b20,#b20,#b90,#af0,#b70,#b10,#af0,#af0,#b20,#ae0,#aa0,#b30,#aa0,#b10,#ab0,#b00,#a60,#a60,#a10,#980,#990,#a40,#9c0,#940,#9d0,#a90,#a90,#ad0,#ae0,#af0,#b30,#b00,#b30,#b50,#b60,#ba0,#b10,#bb0,#ae0,#bc0,#b90,#ab0,#ad0,#b90,#b80,#b80,#b40,#a80,#ad0,#aa0,#b00,#b30,#ad0,#a80,#980,#870,#6a0,#540,#400,#2d0,#210,#2f0,#240,#2c0,#320,#2b0)"></i>
<i style="top:301px;height:4px;background:linear-gradient(90deg,#620,#5c0,#630,#6c0,#6e0,#750,#830,#860,#880,#8c0,#950,#960,#9a0,#a50,#9f0,#9f0,#a70,#a40,#ae0,#a40,#a80,#ab0,#a70,#a30,#a80,#a00,#a20,#a60,#970,#9c0,#9b0,#8e0,#910,#990,#900,#920,#960,#8f0,#970,#910,#970,#8c0,#920,#890,#8b0,#8f0,#8c0,#8d0,#940,#820,#900,#8b0,#930,#a80,#a00,#a80,#a70,#aa0,#b70,#ad0,#a80,#9f0,#9e0,#a20,#990,#910,#9a0,#8c0,#950,#820,#920,#8a0,#970,#8a0,#900,#8e0,#910,#940,#9c0,#960,#950,#a40,#9d0,#a00,#a30,#990,#a30,#a60,#a60,#a40,#ab0,#a30,#9c0,#a10,#940,#970,#8d0,#7f0,#8f0,#960,#a00,#a00,#af0,#a80,#a40,#a40,#9c0,#a30,#9d0,#990,#9b0,#950,#920,#8f0,#8e0,#950,#910,#920,#950,#8f0,#910,#900,#950,#900,#900,#9c0,#a00,#940,#9b0,#a40,#a70,#a10,#a00,#a30,#a30,#a70,#ab0,#a20,#a20,#9e0,#a00,#a20,#a40,#950,#a30,#9f0,#9c0,#930,#960,#990,#9c0,#9b0,#980,#950,#8b0,#920,#900,#8d0,#970,#9b0,#970,#9d0,#9c0,#930,#920,#900,#970,#940,#920,#8e0,#8c0,#890,#930,#8e0,#9e0,#960,#9b0,#9d0,#9a0,#990,#990,#9b0,#a00,#9c0,#980,#980,#930,#9f0,#970,#930,#900,#a20,#960,#a10,#9e0,#a60,#a80,#a10,#9e0,#950,#9d0,#9c0,#940,#a50,#990,#a10,#a10,#a10,#a80,#9c0,#a70,#9f0,#a70,#ac0,#a80,#a50,#a70,#ac0,#a10,#9f0,#a10,#930,#9c0,#a20,#a20,#a50,#9f0,#9e0,#9d0,#9b0,#8e0,#920,#8c0,#930,#910,#8e0,#940,#8f0,#8d0,#940,#9a0,#950,#a40,#a00,#a50,#a90,#a30,#a40,#990,#a80,#ac0,#ad0,#ab0,#a50,#b10,#aa0,#ae0,#a80,#aa0,#ac0,#a00,#9f0,#960,#a20,#9d0,#9f0,#9c0,#980,#810,#660,#580,#470,#2f0,#2b0,#340,#240,#240,#2c0,#2b0)"></i>
<i style="top:305px;height:5px;background:linear-gradient(90deg,#630,#710,#6d0,#790,#7c0,#880,#880,#8b0,#950,#970,#9f0,#a20,#970,#a80,#ab0,#a40,#af0,#ae0,#b80,#b80,#b20,#ac0,#b40,#ac0,#b90,#ad0,#ad0,#a50,#a80,#a70,#9d0,#a50,#a10,#a40,#940,#9c0,#a60,#a10,#9c0,#9f0,#a40,#970,#a30,#970,#a00,#940,#9c0,#910,#910,#980,#960,#990,#a40,#a90,#a60,#a90,#b50,#b30,#b30,#ad0,#b40,#b70,#a70,#a80,#a40,#a20,#9f0,#950,#960,#8e0,#890,#990,#920,#9b0,#940,#980,#940,#980,#9f0,#a10,#a20,#a00,#b10,#a50,#b40,#ae0,#b60,#b20,#af0,#b30,#b40,#ae0,#aa0,#a50,#a70,#a20,#950,#940,#9f0,#a60,#9d0,#a60,#ab0,#aa0,#b10,#af0,#a90,#aa0,#a40,#aa0,#990,#9e0,#a00,#a50,#9c0,#a00,#940,#a00,#9b0,#990,#960,#9d0,#a70,#9f0,#a50,#a60,#a60,#b30,#b20,#b40,#ae0,#b20,#b00,#a60,#b80,#ae0,#b10,#a30,#a10,#b20,#aa0,#ad0,#a70,#b20,#9c0,#aa0,#ad0,#b30,#b10,#9d0,#a80,#9f0,#a60,#9f0,#940,#930,#990,#a30,#9e0,#a00,#9a0,#a40,#a30,#a30,#a20,#9c0,#940,#980,#990,#a00,#940,#940,#a00,#9e0,#990,#a30,#a30,#a10,#9e0,#a30,#a70,#a10,#9e0,#a20,#a80,#9f0,#940,#a00,#970,#970,#a20,#9a0,#a50,#a60,#9c0,#ab0,#a80,#aa0,#a90,#9e0,#a70,#9a0,#9e0,#a00,#9d0,#a20,#a50,#a50,#ac0,#a20,#a70,#a80,#a90,#b80,#b30,#ab0,#b60,#ad0,#b90,#ae0,#ad0,#b50,#aa0,#b00,#a40,#a90,#b00,#a80,#ad0,#ab0,#a50,#a40,#950,#9b0,#980,#990,#970,#9f0,#9d0,#990,#a40,#a70,#a90,#ac0,#b10,#b30,#ad0,#bd0,#ba0,#b60,#af0,#ab0,#ba0,#b30,#b60,#b40,#b00,#a30,#aa0,#bb0,#ac0,#ad0,#ae0,#a40,#a20,#a50,#a30,#9d0,#7b0,#6a0,#610,#4b0,#360,#240,#2c0,#270,#230,#220,#310)"></i>
<i style="top:310px;height:4px;background:linear-gradient(90deg,#600,#620,#660,#670,#760,#7b0,#7a0,#890,#830,#850,#8c0,#870,#a20,#930,#a00,#a20,#a90,#ab0,#a70,#a50,#a10,#ae0,#ae0,#ad0,#a40,#a10,#980,#9b0,#a30,#910,#920,#980,#960,#950,#970,#9e0,#930,#960,#8a0,#910,#980,#900,#980,#910,#930,#8c0,#8f0,#880,#870,#890,#8e0,#930,#930,#980,#a50,#a00,#ab0,#ad0,#b00,#a10,#a10,#a00,#a20,#9c0,#900,#8e0,#970,#930,#890,#860,#880,#8c0,#8f0,#980,#8c0,#8e0,#8d0,#a40,#970,#990,#970,#a10,#a20,#9e0,#a30,#a90,#a90,#a00,#af0,#9b0,#a80,#aa0,#9b0,#9c0,#9d0,#840,#820,#8f0,#860,#8a0,#a50,#a30,#a80,#a50,#a60,#a40,#a50,#9b0,#a50,#9d0,#8e0,#8d0,#8c0,#9b0,#970,#930,#950,#8a0,#920,#870,#950,#940,#910,#9c0,#940,#960,#9c0,#930,#9d0,#ad0,#aa0,#9e0,#a50,#a30,#9f0,#a80,#9f0,#9d0,#a40,#a10,#990,#a20,#a20,#9f0,#9d0,#a00,#a30,#9e0,#9b0,#980,#9d0,#980,#940,#930,#8e0,#870,#930,#900,#a10,#8a0,#910,#8a0,#8f0,#8e0,#8a0,#8d0,#8c0,#830,#9e0,#920,#910,#8b0,#900,#940,#960,#930,#970,#980,#950,#940,#990,#9b0,#a00,#9f0,#9d0,#910,#9c0,#940,#920,#8d0,#9e0,#9a0,#9b0,#9d0,#9b0,#9a0,#a80,#9b0,#9b0,#970,#9b0,#990,#960,#9c0,#9b0,#9d0,#9a0,#990,#a90,#9f0,#a20,#a00,#a30,#a70,#a60,#a60,#a70,#a10,#a20,#a40,#a10,#970,#a30,#a30,#9c0,#a50,#9b0,#a60,#9e0,#a80,#970,#950,#950,#900,#920,#890,#800,#8c0,#970,#960,#920,#a00,#9f0,#a40,#a30,#a70,#a20,#ac0,#ab0,#a90,#aa0,#a70,#ad0,#aa0,#b60,#a60,#a80,#a10,#ac0,#9a0,#980,#9d0,#a60,#9a0,#940,#9d0,#9c0,#960,#7b0,#730,#580,#3b0,#340,#2e0,#2c0,#2d0,#280,#240,#2b0)"></i>
<i style="top:314px;height:5px;background:linear-gradient(90deg,#5e0,#660,#6f0,#6f0,#730,#760,#860,#890,#870,#900,#930,#9e0,#8f0,#a60,#a40,#a10,#b10,#ae0,#a50,#b10,#ac0,#b00,#ab0,#b60,#a90,#a90,#a40,#a00,#a80,#9b0,#930,#950,#9a0,#9f0,#9e0,#940,#a10,#970,#950,#930,#950,#910,#960,#900,#9d0,#870,#900,#980,#930,#920,#8d0,#8e0,#940,#a10,#9e0,#a60,#b30,#b10,#b20,#b20,#a80,#aa0,#a50,#9d0,#980,#9b0,#980,#930,#940,#8c0,#950,#8e0,#8b0,#8e0,#900,#980,#970,#a30,#940,#9b0,#a00,#a20,#a40,#a70,#ac0,#b00,#a60,#a80,#ad0,#a90,#b00,#a90,#a60,#a20,#9f0,#900,#910,#9a0,#9d0,#9b0,#9f0,#a50,#a90,#ae0,#ac0,#a70,#aa0,#970,#a50,#950,#9e0,#9a0,#8e0,#9a0,#950,#8d0,#940,#9b0,#9c0,#a00,#940,#a30,#980,#930,#9e0,#9b0,#a30,#a90,#9f0,#aa0,#b20,#b00,#a70,#af0,#ab0,#ab0,#a40,#9a0,#9f0,#a50,#9e0,#ae0,#a90,#9d0,#a40,#a60,#a80,#a40,#a10,#9b0,#a00,#9b0,#900,#910,#9b0,#9a0,#8e0,#8e0,#970,#950,#8f0,#920,#9f0,#9c0,#940,#9d0,#910,#920,#920,#970,#8f0,#9c0,#920,#970,#9c0,#9b0,#990,#9e0,#a20,#9b0,#9b0,#a20,#9f0,#a00,#950,#950,#a70,#990,#a20,#a70,#ab0,#9e0,#a50,#9a0,#a60,#a20,#9e0,#a90,#9b0,#a00,#a60,#9b0,#990,#9e0,#940,#990,#a50,#aa0,#ac0,#a90,#a40,#a70,#a80,#a80,#b20,#b10,#aa0,#b30,#a80,#ab0,#a50,#a40,#a00,#a70,#ab0,#ae0,#a30,#a90,#a50,#9e0,#a40,#a00,#9d0,#a00,#920,#920,#960,#970,#980,#9d0,#a50,#a20,#a60,#a40,#aa0,#af0,#a90,#a70,#ab0,#a70,#ab0,#b10,#b90,#ad0,#a90,#b20,#ab0,#a60,#ad0,#af0,#ac0,#ab0,#ab0,#a00,#9f0,#a50,#9c0,#990,#7b0,#660,#550,#3a0,#370,#2a0,#260,#2d0,#2d0,#2d0,#2e0)"></i>
<i style="top:319px;height:4px;background:linear-gradient(90deg,#560,#5f0,#650,#610,#730,#6b0,#7a0,#7d0,#7c0,#7f0,#830,#880,#8b0,#9b0,#9d0,#9f0,#a60,#ab0,#980,#a10,#9f0,#9e0,#a40,#a10,#a00,#9e0,#980,#960,#8b0,#980,#8b0,#880,#8d0,#860,#920,#900,#890,#870,#920,#850,#8c0,#860,#800,#850,#7d0,#8a0,#8b0,#870,#850,#850,#7d0,#800,#8a0,#980,#990,#a10,#9a0,#a40,#9c0,#a00,#a10,#950,#9e0,#960,#8f0,#880,#920,#710,#7d0,#810,#8c0,#820,#830,#860,#890,#850,#860,#890,#820,#880,#960,#920,#960,#940,#9c0,#990,#a80,#a00,#a80,#a10,#9b0,#920,#8f0,#910,#8f0,#820,#770,#7f0,#820,#930,#8f0,#8e0,#9e0,#9d0,#9d0,#9e0,#950,#980,#980,#8c0,#930,#8d0,#920,#8e0,#870,#8f0,#8d0,#810,#8a0,#890,#8a0,#970,#850,#8e0,#930,#970,#990,#900,#9b0,#9a0,#ac0,#ac0,#9f0,#9b0,#a40,#980,#a00,#900,#8a0,#920,#980,#980,#960,#900,#a00,#9a0,#970,#980,#980,#940,#860,#8d0,#7f0,#8f0,#850,#900,#870,#900,#850,#8e0,#870,#8d0,#820,#870,#8a0,#890,#840,#850,#870,#880,#8b0,#8e0,#880,#870,#910,#810,#8a0,#920,#8e0,#890,#840,#890,#910,#880,#900,#850,#8e0,#8f0,#930,#8d0,#8e0,#920,#880,#940,#950,#970,#960,#8a0,#9a0,#990,#880,#8a0,#8c0,#910,#940,#9f0,#8e0,#9b0,#920,#9a0,#970,#a90,#a70,#9a0,#a40,#9f0,#9e0,#a80,#980,#980,#a10,#920,#9f0,#a00,#9e0,#9e0,#950,#930,#960,#a00,#900,#950,#820,#850,#850,#7e0,#850,#940,#910,#8b0,#8f0,#990,#980,#a50,#930,#ac0,#9f0,#990,#9b0,#a60,#a10,#960,#930,#9e0,#a50,#a30,#930,#960,#a30,#9b0,#a00,#9e0,#900,#9a0,#920,#920,#970,#870,#7c0,#650,#520,#430,#320,#240,#2a0,#310,#250,#270,#2e0)"></i>
<i style="top:323px;height:4px;background:linear-gradient(90deg,#660,#650,#6e0,#6d0,#780,#790,#870,#8c0,#8b0,#900,#940,#9d0,#a50,#ab0,#a50,#a70,#b20,#ab0,#bb0,#a90,#a70,#ac0,#ab0,#a80,#b70,#aa0,#a30,#ad0,#9d0,#9d0,#8f0,#9e0,#9f0,#a00,#9d0,#920,#9a0,#980,#a90,#950,#990,#9a0,#970,#a00,#940,#8f0,#9a0,#920,#900,#920,#810,#9a0,#a60,#a20,#a90,#a90,#ac0,#b80,#af0,#a60,#b10,#ab0,#9f0,#a80,#a10,#9d0,#970,#890,#950,#8b0,#920,#940,#970,#880,#980,#990,#9a0,#940,#990,#9b0,#9f0,#9d0,#a50,#aa0,#ad0,#9d0,#ac0,#aa0,#ad0,#a90,#a60,#a60,#a80,#9e0,#970,#990,#940,#960,#910,#930,#9d0,#ab0,#aa0,#b50,#ab0,#aa0,#960,#a60,#a80,#940,#950,#980,#970,#9d0,#950,#9b0,#8f0,#8d0,#990,#a00,#a50,#980,#970,#9b0,#960,#a50,#a70,#9d0,#970,#b00,#af0,#af0,#ac0,#a00,#b20,#a70,#b00,#a00,#9f0,#9a0,#ac0,#a70,#a60,#ac0,#a00,#a30,#ab0,#ad0,#a30,#9a0,#a20,#990,#950,#980,#970,#940,#8a0,#9d0,#9c0,#950,#9f0,#a50,#9a0,#980,#9a0,#a00,#9d0,#920,#9a0,#980,#970,#900,#9d0,#9d0,#990,#980,#950,#a00,#a60,#930,#9b0,#9c0,#930,#970,#9e0,#9b0,#990,#9b0,#9d0,#930,#9c0,#9f0,#9b0,#a20,#ac0,#ae0,#aa0,#a40,#a70,#9a0,#9b0,#9a0,#920,#9f0,#9e0,#950,#a40,#a30,#a60,#a80,#a70,#a60,#b30,#af0,#b40,#ae0,#b10,#a50,#ad0,#a10,#a50,#ae0,#a70,#ab0,#ac0,#a50,#ab0,#a10,#ac0,#a00,#a10,#a50,#970,#920,#840,#8c0,#a10,#8f0,#910,#a00,#a00,#a30,#af0,#a60,#a70,#a40,#a60,#a60,#a70,#aa0,#ad0,#ab0,#aa0,#af0,#a90,#9f0,#a60,#a80,#a90,#a60,#ab0,#a70,#a10,#a20,#9f0,#a70,#9e0,#8e0,#820,#6f0,#560,#380,#330,#2a0,#2e0,#240,#2b0,#210,#270)"></i>
<i style="top:327px;height:5px;background:linear-gradient(90deg,#6c0,#760,#730,#7a0,#780,#860,#8b0,#880,#960,#9e0,#900,#9a0,#980,#a60,#a20,#ac0,#ad0,#b50,#b20,#ad0,#a70,#b40,#b20,#a80,#ac0,#ae0,#aa0,#a30,#980,#a00,#9d0,#940,#8e0,#9e0,#a20,#8f0,#9c0,#910,#970,#980,#980,#940,#920,#8f0,#950,#8f0,#9b0,#8f0,#8a0,#900,#900,#970,#9b0,#970,#a20,#b30,#a30,#b40,#b80,#ae0,#b60,#a50,#9f0,#a40,#9b0,#970,#8e0,#970,#8d0,#900,#880,#890,#9c0,#950,#950,#970,#8f0,#8c0,#9d0,#9d0,#9e0,#a60,#a80,#aa0,#a60,#ac0,#a90,#a90,#b30,#b70,#a40,#b20,#a10,#980,#9c0,#930,#920,#8d0,#960,#9a0,#9a0,#ab0,#a70,#bb0,#b30,#ac0,#b00,#8e0,#a10,#960,#9c0,#890,#970,#950,#9a0,#990,#910,#8f0,#8a0,#9c0,#a00,#9e0,#980,#9b0,#9e0,#9f0,#9f0,#a20,#a90,#ad0,#ba0,#ad0,#ae0,#b30,#9e0,#a40,#9f0,#a30,#a40,#a90,#b00,#a40,#a00,#aa0,#9b0,#9f0,#990,#a40,#a30,#ac0,#a80,#9a0,#930,#9b0,#980,#960,#910,#910,#a20,#920,#970,#950,#9c0,#940,#8e0,#910,#970,#930,#940,#8d0,#9b0,#940,#900,#950,#950,#990,#9c0,#9f0,#a20,#a70,#9b0,#9b0,#9b0,#9c0,#9b0,#910,#a50,#9c0,#990,#a10,#a50,#a30,#a00,#a20,#ab0,#aa0,#9c0,#a30,#a30,#a20,#a30,#930,#9d0,#9e0,#9e0,#aa0,#9e0,#a00,#a80,#af0,#a50,#ab0,#a20,#a80,#af0,#aa0,#b10,#a30,#ad0,#9f0,#a00,#9e0,#a70,#aa0,#b10,#aa0,#a60,#a70,#b10,#970,#9e0,#9a0,#990,#980,#860,#8a0,#920,#910,#980,#a50,#9f0,#9e0,#a50,#a70,#a30,#a70,#a40,#ad0,#ad0,#a80,#a80,#ad0,#a60,#b20,#ac0,#bc0,#ad0,#aa0,#a30,#a90,#a90,#9c0,#a40,#a30,#a70,#a20,#9e0,#9c0,#8a0,#5d0,#5d0,#3e0,#390,#2f0,#2b0,#2d0,#330,#1f0,#340)"></i>
<i style="top:332px;height:4px;background:linear-gradient(90deg,#690,#780,#730,#790,#800,#770,#890,#880,#8b0,#920,#960,#980,#a30,#a50,#a80,#b00,#a80,#ad0,#b50,#ac0,#b40,#b10,#b40,#b40,#a90,#aa0,#a60,#a70,#ab0,#980,#a20,#a10,#990,#9b0,#a40,#a30,#980,#980,#9c0,#930,#a30,#990,#900,#960,#a00,#950,#950,#900,#880,#8d0,#8f0,#930,#990,#a00,#a00,#b40,#b10,#aa0,#b50,#a80,#b50,#ac0,#a60,#a50,#9d0,#a00,#970,#8b0,#8c0,#920,#920,#960,#9a0,#960,#980,#a00,#980,#9b0,#950,#a20,#a40,#a40,#a20,#aa0,#b20,#a60,#b00,#ad0,#ac0,#b30,#ac0,#ac0,#a40,#9e0,#9b0,#9c0,#990,#9e0,#990,#a20,#a00,#a50,#a70,#b10,#a50,#a50,#a50,#a20,#a40,#9e0,#9e0,#980,#9c0,#9c0,#980,#a00,#9f0,#9f0,#9f0,#a00,#9d0,#9b0,#a20,#980,#970,#a80,#a80,#a70,#b50,#b80,#ab0,#af0,#b00,#a20,#a60,#b70,#b30,#a40,#a00,#b40,#ad0,#b20,#a60,#ad0,#a70,#a60,#a40,#a90,#990,#a90,#a10,#9d0,#9e0,#9e0,#9b0,#940,#910,#9c0,#930,#9c0,#930,#970,#970,#970,#990,#9c0,#920,#970,#960,#a30,#8d0,#9e0,#9a0,#9a0,#960,#980,#a00,#930,#a30,#b20,#ab0,#a90,#a40,#9f0,#a70,#9f0,#950,#a20,#ae0,#990,#a10,#a40,#9d0,#a30,#a60,#ac0,#a70,#a20,#9f0,#a40,#a00,#a20,#a20,#9c0,#920,#9d0,#a10,#a90,#a20,#a60,#a00,#ac0,#b50,#b10,#b40,#b00,#b50,#b80,#b20,#af0,#a70,#a60,#ac0,#a60,#a40,#ac0,#a30,#9e0,#9f0,#a50,#a60,#9f0,#9a0,#980,#960,#8f0,#9c0,#9b0,#a40,#9a0,#a70,#ac0,#b50,#aa0,#b70,#b10,#aa0,#a70,#b80,#b20,#b20,#b60,#b30,#aa0,#b00,#b00,#a30,#b40,#a80,#ae0,#a20,#aa0,#b30,#a90,#a00,#9c0,#990,#900,#8b0,#660,#5e0,#410,#3a0,#2b0,#360,#2d0,#2e0,#370,#380)"></i>
<i style="top:336px;height:4px;background:linear-gradient(90deg,#570,#5f0,#6d0,#710,#780,#7d0,#7f0,#8a0,#860,#810,#8d0,#910,#910,#940,#9c0,#9b0,#9f0,#aa0,#ab0,#9e0,#b00,#ad0,#ab0,#a70,#b20,#980,#9e0,#960,#9a0,#970,#9a0,#9d0,#8e0,#8c0,#960,#930,#8d0,#930,#990,#990,#8d0,#930,#8f0,#900,#8f0,#920,#900,#8e0,#870,#8b0,#8c0,#910,#8d0,#930,#a00,#9a0,#a30,#ab0,#ab0,#a40,#a20,#a10,#a00,#9a0,#9f0,#900,#900,#9a0,#870,#880,#850,#870,#890,#8e0,#8a0,#940,#8a0,#950,#8f0,#960,#940,#960,#980,#950,#9b0,#a30,#a00,#a50,#a90,#a40,#9d0,#9f0,#9c0,#9d0,#930,#8b0,#810,#890,#880,#950,#9f0,#a30,#990,#a50,#a00,#a20,#a00,#9e0,#9c0,#910,#9a0,#9e0,#9a0,#910,#970,#8a0,#8e0,#8f0,#8a0,#900,#8c0,#9f0,#900,#960,#930,#9b0,#960,#a30,#9f0,#aa0,#a80,#9d0,#aa0,#b00,#a10,#ab0,#a40,#a80,#9f0,#950,#a20,#a10,#990,#9e0,#960,#9e0,#980,#9a0,#9a0,#9e0,#950,#8b0,#990,#8d0,#910,#8d0,#900,#850,#910,#930,#8f0,#950,#8b0,#8c0,#920,#930,#8a0,#8a0,#860,#950,#860,#870,#8d0,#950,#8d0,#990,#8d0,#940,#930,#9e0,#980,#9d0,#920,#950,#950,#990,#9d0,#920,#8e0,#890,#9e0,#9a0,#a00,#a40,#990,#a30,#8f0,#a30,#9c0,#9c0,#950,#950,#9a0,#900,#9b0,#960,#990,#9a0,#9e0,#990,#9b0,#a30,#a20,#a70,#9e0,#a50,#a90,#a40,#980,#a70,#a50,#a00,#a00,#a20,#9c0,#a80,#a30,#9e0,#9d0,#9d0,#980,#9c0,#910,#8e0,#8e0,#810,#980,#8c0,#950,#930,#a20,#9e0,#a30,#970,#9e0,#a80,#a40,#9f0,#a30,#ad0,#aa0,#a50,#a60,#ac0,#a80,#a00,#aa0,#a00,#a40,#960,#990,#970,#9c0,#a00,#9d0,#9b0,#9b0,#930,#770,#6c0,#4a0,#3e0,#340,#280,#310,#380,#2e0,#350,#280)"></i>
<i style="top:340px;height:5px;background:linear-gradient(90deg,#5b0,#670,#660,#6e0,#750,#7b0,#7b0,#850,#840,#850,#7d0,#8b0,#980,#940,#8a0,#980,#980,#a00,#a90,#a30,#a00,#a20,#9e0,#a70,#a00,#9b0,#970,#900,#920,#910,#8e0,#8b0,#860,#870,#920,#960,#920,#8d0,#830,#8b0,#8d0,#8b0,#8a0,#890,#910,#840,#820,#790,#880,#7f0,#8b0,#800,#880,#950,#990,#a80,#a70,#a40,#930,#a30,#a00,#a10,#980,#910,#8f0,#890,#860,#810,#7a0,#800,#750,#7e0,#8a0,#840,#800,#810,#800,#870,#880,#8a0,#850,#950,#9a0,#900,#910,#a20,#930,#9c0,#a70,#9e0,#9b0,#950,#900,#900,#910,#8a0,#840,#800,#820,#830,#920,#8e0,#9a0,#a70,#9e0,#990,#9d0,#980,#8f0,#8a0,#9b0,#990,#8a0,#870,#850,#8e0,#850,#820,#830,#8f0,#920,#8e0,#890,#820,#880,#8e0,#880,#9c0,#9e0,#a20,#a50,#9b0,#9f0,#a00,#900,#900,#960,#960,#a10,#990,#970,#a20,#960,#9d0,#a00,#980,#900,#900,#900,#950,#960,#890,#8f0,#900,#8c0,#860,#820,#800,#810,#870,#800,#8d0,#880,#8c0,#8d0,#880,#9a0,#840,#890,#870,#870,#850,#910,#890,#8d0,#8e0,#8a0,#950,#950,#960,#930,#910,#920,#8f0,#920,#960,#8f0,#860,#860,#8c0,#960,#920,#900,#960,#940,#930,#8d0,#990,#880,#970,#860,#910,#8c0,#940,#980,#960,#900,#980,#950,#940,#970,#900,#a60,#a30,#9c0,#ae0,#9b0,#980,#9f0,#990,#9c0,#990,#970,#960,#8e0,#950,#a40,#8b0,#910,#910,#830,#8e0,#8d0,#830,#820,#850,#860,#890,#8a0,#940,#8a0,#910,#a00,#9a0,#9c0,#9c0,#a80,#9d0,#9e0,#9f0,#a40,#9e0,#9a0,#9d0,#a10,#9d0,#9e0,#990,#9f0,#9c0,#9d0,#9d0,#a50,#9c0,#900,#a00,#970,#8f0,#7e0,#600,#5b0,#3e0,#3d0,#370,#300,#270,#1f0,#2e0,#300)"></i>
<i style="top:345px;height:4px;background:linear-gradient(90deg,#6e0,#670,#7d0,#810,#810,#800,#8a0,#810,#8f0,#8d0,#900,#980,#9e0,#980,#a30,#a70,#a80,#b90,#ac0,#ad0,#b30,#af0,#ac0,#b60,#ab0,#a30,#ac0,#a30,#a70,#a50,#9a0,#930,#9d0,#970,#9e0,#9d0,#8f0,#910,#940,#960,#9c0,#8a0,#910,#930,#8d0,#920,#960,#8a0,#920,#960,#940,#8f0,#9a0,#9f0,#ab0,#a70,#ae0,#b30,#b20,#ac0,#a30,#a70,#a80,#a90,#930,#990,#940,#8f0,#900,#900,#940,#8e0,#910,#950,#900,#940,#980,#920,#930,#9e0,#a20,#9e0,#a30,#a60,#9f0,#ab0,#b20,#a60,#ae0,#b70,#b10,#a70,#a40,#a20,#9c0,#900,#9a0,#900,#980,#a10,#9e0,#a60,#ad0,#a60,#ac0,#a90,#a80,#a10,#a20,#9a0,#9a0,#a30,#9b0,#960,#980,#970,#920,#950,#9c0,#950,#970,#8e0,#9c0,#9a0,#9a0,#a00,#a10,#9f0,#9c0,#aa0,#b10,#b00,#a90,#b00,#a60,#af0,#a20,#aa0,#a50,#a10,#9e0,#a20,#a80,#9f0,#a40,#af0,#a90,#a50,#aa0,#980,#a20,#9d0,#9c0,#900,#950,#850,#9a0,#9b0,#9e0,#9b0,#9f0,#980,#9a0,#9a0,#9e0,#920,#9e0,#9d0,#8d0,#9a0,#9c0,#9c0,#9a0,#9b0,#9f0,#a50,#950,#9b0,#9e0,#a70,#a80,#a00,#9e0,#a20,#980,#a70,#a00,#970,#950,#9e0,#a30,#9b0,#a20,#ab0,#a50,#a30,#a20,#a40,#9c0,#9e0,#9c0,#9a0,#970,#ab0,#920,#a40,#a00,#a50,#a30,#a60,#ac0,#a30,#ac0,#ac0,#a90,#ae0,#ac0,#b00,#b10,#ab0,#a50,#a80,#a70,#ab0,#a60,#aa0,#a90,#ae0,#af0,#9a0,#a70,#9b0,#960,#8e0,#980,#8a0,#8f0,#9b0,#980,#a30,#9e0,#a00,#ad0,#ac0,#a70,#ac0,#af0,#a90,#a80,#af0,#ae0,#ac0,#bb0,#b20,#b50,#a50,#a80,#aa0,#a60,#aa0,#a50,#a30,#a40,#a20,#a30,#9f0,#920,#8e0,#8b0,#6f0,#5c0,#420,#2f0,#2b0,#2e0,#2f0,#280,#2b0,#2c0)"></i>
<i style="top:349px;height:4px;background:linear-gradient(90deg,#690,#660,#660,#7b0,#7a0,#740,#7e0,#880,#8e0,#800,#8a0,#930,#920,#9d0,#9b0,#990,#a40,#a90,#a80,#a30,#a00,#a90,#a80,#980,#920,#9a0,#9a0,#990,#8d0,#930,#9b0,#8b0,#940,#910,#910,#930,#990,#940,#930,#8d0,#8e0,#930,#8c0,#8c0,#8c0,#8a0,#8f0,#910,#790,#830,#890,#900,#920,#9d0,#a00,#a70,#9d0,#a70,#a90,#af0,#a00,#990,#9e0,#990,#9d0,#890,#8d0,#7e0,#890,#820,#8a0,#780,#860,#870,#870,#900,#8f0,#870,#950,#8e0,#980,#8a0,#970,#a00,#a80,#990,#a80,#a20,#9b0,#a50,#a60,#9c0,#9f0,#950,#9a0,#940,#870,#8d0,#880,#900,#9f0,#9c0,#9a0,#a10,#9c0,#970,#920,#920,#950,#950,#8d0,#920,#8f0,#930,#8e0,#8f0,#920,#940,#920,#8e0,#940,#990,#9b0,#990,#950,#990,#9c0,#a00,#9f0,#ab0,#b00,#ac0,#9e0,#a20,#ad0,#a80,#970,#9b0,#9f0,#940,#980,#8f0,#9b0,#8f0,#940,#990,#a70,#9d0,#980,#890,#9d0,#970,#850,#970,#920,#8a0,#8c0,#930,#910,#910,#8f0,#980,#8d0,#930,#8b0,#8e0,#8d0,#950,#850,#8f0,#900,#8e0,#970,#850,#950,#920,#940,#970,#990,#900,#8d0,#970,#970,#960,#8f0,#960,#880,#8c0,#980,#910,#900,#900,#960,#960,#9d0,#9d0,#980,#a40,#980,#9b0,#9a0,#960,#980,#880,#970,#920,#a10,#a10,#9b0,#990,#a20,#a10,#a10,#a20,#a70,#a40,#a00,#a10,#a30,#9f0,#a60,#9e0,#9d0,#9a0,#960,#a00,#a10,#a00,#a50,#9a0,#9b0,#950,#8a0,#890,#830,#8f0,#830,#920,#8e0,#9a0,#9a0,#9a0,#930,#960,#a10,#a40,#a20,#a00,#a40,#b10,#920,#a70,#a40,#a60,#a30,#a60,#a30,#9e0,#9d0,#9f0,#920,#a10,#9b0,#9d0,#9b0,#970,#900,#940,#7d0,#6f0,#5d0,#430,#350,#2c0,#320,#340,#260,#2e0,#3d0)"></i>
<i style="top:353px;height:5px;background:linear-gradient(90deg,#6a0,#750,#6f0,#7c0,#760,#7f0,#830,#7e0,#8b0,#8e0,#870,#970,#8e0,#9e0,#9c0,#af0,#a30,#a90,#9c0,#a40,#a60,#ac0,#a50,#a00,#ae0,#9e0,#a20,#8c0,#a40,#a10,#910,#9c0,#8f0,#8f0,#950,#950,#950,#960,#8b0,#910,#900,#8b0,#970,#8f0,#8b0,#8b0,#8a0,#930,#890,#930,#820,#950,#990,#a40,#980,#a60,#ab0,#a20,#a10,#a60,#970,#980,#9e0,#a10,#8e0,#920,#860,#800,#7e0,#7d0,#890,#8b0,#8e0,#960,#8a0,#8b0,#890,#9a0,#900,#9d0,#950,#930,#9c0,#a20,#aa0,#a10,#a40,#a20,#9e0,#a50,#a10,#a60,#990,#970,#8f0,#8b0,#870,#850,#8f0,#950,#9c0,#960,#9b0,#9f0,#a70,#aa0,#9e0,#9b0,#940,#960,#950,#8b0,#950,#950,#8f0,#920,#970,#920,#880,#910,#9e0,#8c0,#9e0,#940,#920,#8e0,#9f0,#9d0,#a00,#a10,#a70,#980,#a20,#9d0,#a40,#9f0,#a00,#a10,#990,#940,#920,#930,#9c0,#9b0,#9c0,#970,#a30,#9e0,#990,#9d0,#9b0,#8b0,#8b0,#8d0,#920,#8c0,#8c0,#970,#990,#8c0,#9c0,#940,#940,#980,#990,#8a0,#910,#930,#8d0,#8e0,#940,#980,#940,#900,#980,#950,#980,#930,#960,#950,#9f0,#950,#9a0,#8f0,#900,#960,#940,#960,#940,#9c0,#920,#990,#a10,#a10,#9d0,#a00,#a70,#9d0,#a80,#950,#a30,#9f0,#8f0,#9a0,#920,#970,#a50,#a40,#a10,#9e0,#a30,#9d0,#a40,#a40,#a50,#ae0,#9f0,#9c0,#a40,#9a0,#a30,#9b0,#a20,#9e0,#a80,#9f0,#9e0,#aa0,#9f0,#a30,#9e0,#950,#990,#900,#8c0,#810,#960,#960,#9d0,#8a0,#9e0,#9a0,#a10,#a50,#ac0,#9e0,#a80,#a10,#a10,#a10,#a70,#ad0,#b10,#ac0,#a00,#a50,#a40,#a00,#9c0,#9d0,#a10,#9f0,#a10,#9f0,#9e0,#930,#920,#950,#800,#610,#580,#460,#320,#320,#260,#2c0,#2c0,#2f0,#320)"></i>
<i style="top:358px;height:4px;background:linear-gradient(90deg,#7a0,#7e0,#7a0,#790,#790,#810,#870,#890,#940,#910,#950,#930,#990,#a60,#a00,#9d0,#9d0,#b10,#a80,#ac0,#a20,#a60,#aa0,#a20,#a10,#9e0,#a20,#910,#990,#940,#940,#9e0,#980,#920,#9b0,#a30,#940,#8f0,#930,#9a0,#9d0,#970,#8c0,#9b0,#950,#8b0,#860,#8b0,#840,#8d0,#890,#8e0,#9e0,#940,#9a0,#9a0,#a20,#a80,#ac0,#a80,#9d0,#a30,#920,#960,#8d0,#8c0,#810,#880,#8b0,#8c0,#7e0,#8a0,#860,#880,#890,#930,#970,#910,#920,#950,#970,#960,#9d0,#9d0,#980,#a50,#a60,#ac0,#a20,#ae0,#aa0,#a50,#930,#9a0,#900,#9e0,#810,#930,#8d0,#960,#8f0,#a00,#9f0,#af0,#a20,#a50,#9f0,#9b0,#9f0,#950,#870,#900,#930,#9a0,#9b0,#900,#990,#910,#900,#940,#8e0,#990,#9c0,#a00,#990,#a00,#a40,#a10,#a00,#ab0,#ac0,#a90,#b30,#990,#aa0,#9d0,#9f0,#970,#a80,#8f0,#9b0,#8a0,#9b0,#920,#910,#980,#a10,#a00,#9c0,#a90,#9f0,#990,#920,#920,#8c0,#880,#930,#9c0,#940,#950,#9d0,#910,#970,#930,#8c0,#980,#960,#950,#930,#890,#960,#940,#980,#960,#930,#a20,#980,#930,#980,#950,#9a0,#9b0,#960,#9c0,#9f0,#9d0,#990,#a30,#950,#980,#900,#970,#a40,#950,#9e0,#a20,#a70,#9c0,#970,#9b0,#9e0,#a00,#980,#940,#920,#9d0,#a00,#9b0,#a20,#990,#a50,#9f0,#a90,#a90,#a10,#9d0,#af0,#a90,#a70,#a10,#9b0,#a20,#a40,#960,#9d0,#9e0,#9b0,#a40,#9d0,#8b0,#9b0,#990,#8b0,#900,#8f0,#960,#920,#980,#950,#9a0,#950,#980,#a70,#a50,#a00,#9c0,#a00,#a50,#a60,#aa0,#aa0,#9a0,#aa0,#a90,#9b0,#a00,#a70,#a80,#a20,#9b0,#a10,#a00,#a40,#9c0,#9f0,#980,#990,#880,#800,#730,#580,#440,#380,#2c0,#2d0,#350,#410,#320,#290)"></i>
<i style="top:362px;height:5px;background:linear-gradient(90deg,#6e0,#7f0,#7f0,#900,#8b0,#910,#880,#8e0,#880,#9a0,#9d0,#8f0,#930,#9b0,#a10,#a60,#ac0,#ae0,#b00,#b10,#ad0,#b90,#ad0,#b20,#b00,#af0,#a50,#a10,#a70,#aa0,#a20,#9c0,#960,#a40,#9b0,#a00,#990,#a20,#960,#9b0,#940,#950,#9e0,#980,#980,#960,#a00,#980,#8e0,#940,#920,#970,#a50,#a40,#a40,#af0,#ae0,#b00,#b30,#b70,#ad0,#a50,#af0,#9a0,#910,#990,#900,#820,#8d0,#890,#8e0,#8a0,#9a0,#920,#9b0,#9e0,#900,#9c0,#970,#a50,#9f0,#a10,#aa0,#af0,#b30,#ab0,#ac0,#a90,#aa0,#b70,#ab0,#a30,#a00,#a60,#9e0,#990,#9b0,#880,#960,#980,#a60,#a50,#b60,#b30,#a80,#ae0,#a90,#a00,#a80,#ab0,#a30,#910,#a70,#9d0,#9d0,#930,#a40,#9d0,#a00,#9a0,#990,#a70,#9c0,#940,#980,#a30,#b00,#b10,#ac0,#b50,#a60,#b30,#b90,#a90,#b30,#ac0,#b00,#a30,#af0,#a30,#9f0,#940,#870,#960,#9a0,#ab0,#a40,#a40,#a40,#ad0,#a00,#9c0,#980,#a00,#930,#920,#9d0,#9e0,#9e0,#9a0,#930,#970,#9d0,#940,#9c0,#8e0,#8f0,#9a0,#910,#980,#9b0,#900,#9d0,#a40,#9b0,#a00,#910,#a40,#9f0,#aa0,#a90,#a50,#9c0,#9d0,#9d0,#ad0,#a30,#9d0,#940,#9f0,#a00,#ab0,#9d0,#a70,#a10,#ac0,#a50,#a00,#a50,#a40,#ae0,#990,#a30,#9f0,#a80,#9f0,#b00,#a50,#b00,#ab0,#a60,#b10,#a30,#b20,#a90,#ab0,#b50,#b00,#af0,#b00,#ab0,#a80,#a30,#ad0,#aa0,#b20,#a80,#a70,#a10,#ad0,#ac0,#a40,#a20,#9e0,#900,#920,#920,#a20,#a30,#9e0,#b10,#a80,#a70,#a80,#ac0,#a50,#bb0,#b00,#ad0,#b00,#b00,#b10,#b40,#b60,#b30,#ab0,#aa0,#a30,#a60,#b50,#b20,#b20,#a20,#ac0,#aa0,#a50,#a60,#990,#810,#650,#4f0,#470,#3a0,#350,#340,#300,#2a0,#360,#350)"></i>
<i style="top:367px;height:4px;background:linear-gradient(90deg,#7e0,#840,#850,#8b0,#8a0,#8f0,#9e0,#960,#8f0,#9d0,#a30,#ae0,#b10,#a90,#ad0,#c00,#b70,#b30,#b50,#af0,#b50,#b60,#bf0,#ae0,#b80,#ad0,#b10,#ad0,#b40,#a90,#a90,#a80,#a80,#a90,#a40,#9d0,#ae0,#ab0,#a90,#a50,#af0,#a00,#a40,#a00,#a60,#a40,#950,#a20,#9a0,#9c0,#9b0,#9f0,#a40,#aa0,#b30,#b70,#c20,#b70,#c00,#b10,#b70,#ad0,#ae0,#a20,#9a0,#a40,#8c0,#960,#9a0,#890,#8b0,#8e0,#9e0,#9d0,#9c0,#980,#980,#a10,#a90,#aa0,#af0,#af0,#aa0,#b00,#b80,#b40,#b60,#bb0,#b50,#bf0,#bb0,#b20,#b00,#a70,#ab0,#9c0,#980,#9a0,#a50,#a00,#b80,#ac0,#b30,#bf0,#b30,#b90,#b10,#ab0,#a60,#a10,#a80,#990,#a00,#a30,#a10,#a80,#a50,#9e0,#b00,#a80,#9a0,#a00,#b00,#9c0,#a50,#aa0,#ac0,#af0,#ac0,#b70,#b50,#af0,#b50,#b70,#a00,#af0,#b60,#b00,#ab0,#a20,#a10,#8e0,#9d0,#960,#a10,#a50,#bb0,#a20,#b00,#a40,#9b0,#ac0,#a00,#a40,#a00,#a30,#a00,#9f0,#a20,#9a0,#a60,#a20,#a50,#ab0,#a40,#a60,#a20,#a40,#9a0,#a40,#a10,#a70,#a20,#a80,#a70,#9c0,#ae0,#a70,#b40,#a40,#aa0,#af0,#b10,#ae0,#ae0,#b20,#a40,#a00,#a60,#a50,#ad0,#b50,#b30,#aa0,#ba0,#ad0,#af0,#b40,#b30,#b70,#a00,#ad0,#a80,#a40,#ac0,#a80,#a60,#b10,#a30,#b30,#ac0,#b20,#c20,#b90,#ac0,#c40,#b70,#bc0,#b00,#a90,#bb0,#b00,#ae0,#b20,#a60,#b60,#ac0,#bc0,#ad0,#ac0,#a20,#ab0,#ac0,#a70,#a60,#a10,#af0,#9e0,#af0,#9d0,#ac0,#b50,#b40,#b40,#b50,#a90,#b10,#bf0,#af0,#b40,#b50,#bb0,#b90,#bc0,#b60,#b90,#b20,#ba0,#af0,#b90,#b40,#be0,#ac0,#b70,#af0,#ac0,#b20,#a40,#8a0,#730,#580,#430,#340,#2a0,#300,#300,#2c0,#340,#310)"></i>
<i style="top:371px;height:4px;background:linear-gradient(90deg,#760,#730,#770,#810,#890,#820,#8c0,#8a0,#900,#8a0,#960,#970,#9c0,#920,#a10,#a10,#9e0,#b00,#aa0,#a80,#af0,#a60,#a40,#ab0,#9b0,#a30,#a60,#9f0,#8f0,#970,#990,#960,#910,#880,#9a0,#960,#910,#9e0,#920,#900,#950,#8a0,#910,#950,#8e0,#8f0,#930,#920,#8a0,#900,#8c0,#930,#990,#930,#8e0,#9f0,#ac0,#a40,#ad0,#980,#a30,#970,#980,#860,#900,#830,#830,#800,#790,#8c0,#8c0,#880,#860,#8c0,#8d0,#920,#8d0,#950,#9a0,#930,#9b0,#980,#8f0,#a70,#a30,#a30,#a80,#9d0,#a60,#a60,#a90,#a60,#9e0,#a00,#900,#8a0,#8d0,#8d0,#8a0,#9f0,#930,#9f0,#a40,#b20,#a20,#a50,#9d0,#990,#9d0,#980,#980,#8d0,#990,#980,#900,#940,#940,#930,#950,#980,#940,#970,#910,#980,#a30,#a10,#8e0,#940,#9f0,#a70,#a30,#a60,#a70,#9f0,#a10,#a30,#9c0,#a00,#960,#8e0,#880,#790,#7b0,#890,#7e0,#920,#9a0,#8f0,#9b0,#9b0,#9a0,#8d0,#990,#9b0,#980,#8c0,#9a0,#8f0,#990,#930,#910,#8e0,#930,#8a0,#8c0,#940,#870,#950,#8e0,#8d0,#9f0,#940,#870,#960,#9a0,#950,#970,#960,#960,#910,#960,#a20,#9b0,#980,#9f0,#960,#9a0,#910,#9d0,#960,#960,#950,#960,#a10,#9f0,#9b0,#9a0,#9a0,#9e0,#930,#8f0,#8c0,#9a0,#a10,#9f0,#960,#9c0,#9d0,#a30,#a50,#a40,#9d0,#b30,#a90,#ae0,#a60,#a60,#9c0,#a00,#9e0,#9f0,#990,#9a0,#9b0,#9c0,#a30,#9f0,#a00,#a30,#9b0,#9c0,#9f0,#920,#8a0,#8c0,#860,#8d0,#920,#8c0,#9c0,#980,#960,#aa0,#980,#9f0,#a50,#a50,#a70,#a00,#a50,#ab0,#a60,#af0,#a50,#a00,#ab0,#ab0,#b10,#9d0,#a40,#a40,#ac0,#a50,#ad0,#a30,#960,#990,#8f0,#820,#720,#550,#440,#3d0,#300,#400,#340,#2b0,#2c0,#260)"></i>
<i style="top:375px;height:5px;background:linear-gradient(90deg,#7a0,#8b0,#840,#860,#840,#8f0,#8b0,#8e0,#8d0,#8e0,#a10,#8f0,#9e0,#a50,#a70,#aa0,#a60,#b30,#ab0,#a70,#ab0,#ac0,#a20,#b30,#a60,#a60,#ac0,#ad0,#9e0,#980,#9a0,#940,#940,#a00,#a20,#990,#9b0,#970,#9f0,#980,#920,#9a0,#940,#960,#980,#960,#850,#960,#910,#8c0,#930,#8d0,#840,#a80,#9d0,#a60,#b30,#a70,#a10,#a90,#a40,#a20,#a30,#920,#940,#7e0,#830,#8c0,#800,#840,#810,#870,#8d0,#910,#910,#8c0,#960,#8c0,#9a0,#990,#9b0,#950,#a20,#a30,#9a0,#a70,#a10,#a80,#ad0,#af0,#a90,#990,#a00,#9f0,#980,#930,#8d0,#950,#950,#9b0,#9c0,#a30,#a60,#a30,#ac0,#a50,#a70,#a50,#ab0,#970,#9f0,#9d0,#960,#9e0,#a00,#920,#940,#930,#950,#940,#9a0,#9c0,#990,#9e0,#a20,#a60,#a40,#a90,#a80,#a40,#a80,#aa0,#a10,#a30,#a20,#a10,#a50,#9e0,#950,#990,#8f0,#8f0,#7e0,#8b0,#900,#920,#9b0,#9b0,#a30,#a50,#980,#9a0,#9a0,#940,#9e0,#870,#8b0,#970,#920,#a00,#980,#a20,#9a0,#9f0,#980,#8f0,#8d0,#950,#990,#9a0,#970,#930,#910,#960,#980,#9c0,#9d0,#9d0,#ad0,#9a0,#950,#a40,#990,#a70,#980,#a00,#9f0,#a00,#a50,#970,#950,#980,#a10,#a90,#9d0,#ac0,#a40,#a30,#a50,#a90,#9f0,#9c0,#920,#a40,#a10,#9d0,#9a0,#a60,#a40,#a70,#a90,#b00,#a40,#ad0,#ac0,#a60,#ac0,#aa0,#9c0,#ad0,#9f0,#a80,#9e0,#a20,#a50,#a50,#a50,#ac0,#ae0,#ae0,#a40,#9c0,#a00,#8f0,#960,#900,#990,#9b0,#a10,#a20,#9c0,#9e0,#a00,#a30,#af0,#a50,#a90,#ae0,#a80,#ae0,#aa0,#ab0,#9d0,#a50,#ac0,#af0,#aa0,#b20,#b80,#a20,#9f0,#9e0,#a20,#ab0,#960,#a20,#a60,#9d0,#8b0,#670,#5c0,#490,#470,#280,#380,#360,#3a0,#390,#2c0)"></i>
<i style="top:380px;height:4px;background:linear-gradient(90deg,#710,#880,#870,#880,#7d0,#850,#980,#910,#8f0,#8d0,#8d0,#9b0,#a40,#960,#a30,#a50,#aa0,#a90,#a40,#af0,#b00,#a10,#aa0,#ac0,#aa0,#a00,#9f0,#a90,#920,#a40,#960,#a00,#920,#960,#9b0,#920,#8d0,#8f0,#a00,#990,#9f0,#970,#960,#980,#940,#960,#980,#900,#980,#9d0,#970,#9a0,#9d0,#960,#9e0,#b50,#a90,#ad0,#ad0,#a40,#a20,#a70,#950,#990,#930,#900,#930,#820,#830,#890,#880,#930,#8b0,#940,#9c0,#9e0,#900,#9b0,#960,#980,#990,#a30,#9f0,#a20,#ae0,#9c0,#a90,#a90,#ab0,#ab0,#a80,#aa0,#a40,#9e0,#a70,#900,#940,#930,#9b0,#a10,#a90,#a50,#a40,#a20,#b10,#a90,#a30,#9f0,#9f0,#9e0,#9e0,#9a0,#9e0,#a40,#8f0,#a00,#930,#970,#9d0,#950,#9c0,#940,#9b0,#9b0,#a00,#9b0,#a30,#a90,#af0,#a40,#a40,#ab0,#a90,#aa0,#af0,#a80,#9b0,#990,#9d0,#a00,#8d0,#7e0,#840,#8b0,#980,#8c0,#a10,#a00,#9c0,#9e0,#9e0,#a40,#970,#930,#950,#990,#950,#940,#940,#9b0,#9c0,#960,#9f0,#a00,#a20,#9f0,#9c0,#8f0,#a00,#8e0,#980,#9c0,#930,#940,#930,#980,#960,#9e0,#950,#a80,#970,#9b0,#a50,#a50,#900,#990,#9b0,#970,#ab0,#a00,#a80,#9b0,#a00,#a20,#9f0,#a50,#9a0,#a20,#990,#910,#a20,#a40,#9d0,#a10,#970,#9f0,#a30,#a20,#a60,#9d0,#a30,#a10,#a50,#a60,#ac0,#a70,#9b0,#b10,#a70,#aa0,#a60,#aa0,#9f0,#9e0,#b20,#ab0,#990,#990,#a80,#a70,#9c0,#960,#a30,#9a0,#950,#960,#880,#990,#920,#a40,#9a0,#9b0,#bb0,#ae0,#aa0,#a40,#b30,#b50,#af0,#b20,#b00,#a10,#a30,#b30,#b20,#ab0,#a30,#a90,#b50,#ab0,#a90,#ae0,#a60,#a80,#950,#a30,#940,#930,#8a0,#760,#5c0,#420,#3d0,#380,#380,#340,#380,#310,#360)"></i>
<i style="top:384px;height:4px;background:linear-gradient(90deg,#7b0,#820,#780,#860,#810,#980,#910,#8b0,#9c0,#970,#990,#8f0,#9d0,#a40,#a00,#9d0,#9b0,#a70,#b30,#a70,#a80,#9c0,#a60,#ab0,#ac0,#9e0,#a80,#a10,#a90,#9e0,#9d0,#a60,#980,#950,#9c0,#a30,#950,#9c0,#960,#a20,#900,#8a0,#9c0,#990,#970,#880,#990,#8c0,#910,#8a0,#890,#910,#9b0,#a20,#9d0,#ab0,#af0,#a40,#a20,#a10,#9d0,#9d0,#990,#970,#8f0,#860,#860,#850,#7d0,#800,#8f0,#8f0,#920,#900,#990,#960,#8e0,#9a0,#900,#900,#a00,#930,#a20,#a90,#a50,#9e0,#a50,#ac0,#aa0,#a40,#ac0,#a20,#a20,#9f0,#990,#990,#900,#9e0,#8d0,#a40,#940,#a70,#a00,#b50,#b00,#a40,#aa0,#a00,#980,#970,#980,#9a0,#900,#920,#9c0,#970,#940,#960,#a00,#980,#a20,#9c0,#980,#9d0,#a00,#9d0,#a20,#9a0,#a30,#b40,#a60,#aa0,#ab0,#ad0,#a30,#a50,#9c0,#a20,#a10,#960,#8d0,#880,#860,#890,#8c0,#9f0,#9c0,#a80,#9f0,#a60,#a20,#9e0,#940,#9f0,#9c0,#9a0,#a20,#950,#920,#980,#940,#990,#9f0,#8c0,#9f0,#9c0,#a10,#980,#900,#980,#a00,#9a0,#9e0,#a10,#a40,#920,#a20,#9b0,#a00,#940,#970,#9e0,#9c0,#970,#a60,#9c0,#9c0,#940,#990,#a40,#a50,#9f0,#9a0,#af0,#a10,#a10,#9e0,#b10,#a40,#9a0,#990,#9e0,#950,#980,#b10,#a30,#990,#a30,#a90,#9e0,#a10,#a80,#a40,#a80,#ab0,#b20,#a90,#af0,#a40,#ab0,#a70,#ac0,#ab0,#a90,#9d0,#a20,#9f0,#a60,#ac0,#990,#a20,#9a0,#990,#930,#9b0,#920,#a30,#9d0,#a30,#9f0,#a00,#9f0,#a20,#990,#a80,#a20,#b50,#ae0,#ae0,#ad0,#b30,#ad0,#a40,#ad0,#ac0,#a10,#b00,#a30,#a20,#9c0,#ab0,#a70,#a80,#990,#a10,#9a0,#a30,#970,#860,#6c0,#5a0,#4d0,#480,#360,#3a0,#330,#370,#360,#3f0)"></i>
<i style="top:388px;height:5px;background:linear-gradient(90deg,#7b0,#800,#7f0,#8c0,#910,#920,#9f0,#900,#990,#970,#930,#980,#9a0,#9c0,#a80,#b10,#ac0,#a50,#b10,#ad0,#b40,#a80,#a90,#af0,#b10,#a40,#b30,#a40,#a10,#9f0,#9f0,#a10,#920,#9f0,#9c0,#a90,#990,#a20,#9c0,#9d0,#9c0,#9d0,#9a0,#940,#9f0,#9e0,#9a0,#9e0,#a20,#910,#a40,#9b0,#9d0,#a40,#aa0,#b80,#af0,#af0,#b70,#a60,#a60,#a50,#980,#970,#8c0,#880,#840,#950,#890,#860,#830,#940,#8e0,#8f0,#930,#940,#9c0,#900,#960,#ab0,#980,#940,#ae0,#a80,#ad0,#a90,#b20,#a30,#a50,#b20,#af0,#b10,#a40,#a30,#930,#950,#9a0,#950,#9d0,#a50,#a90,#c10,#a80,#ba0,#a50,#a50,#ac0,#ab0,#9e0,#9d0,#a20,#990,#940,#9d0,#a00,#920,#930,#970,#930,#990,#a40,#9d0,#990,#a60,#a90,#ab0,#a20,#a60,#a70,#a50,#ae0,#a90,#ab0,#b20,#a60,#ae0,#ab0,#aa0,#a80,#9f0,#9a0,#860,#860,#8f0,#950,#9f0,#9e0,#a00,#a90,#9d0,#a20,#a40,#a50,#940,#a50,#9b0,#960,#9d0,#980,#8f0,#a60,#9d0,#a30,#930,#9d0,#930,#9c0,#9c0,#a10,#920,#9a0,#920,#ac0,#a10,#960,#900,#a10,#a30,#a10,#a40,#9c0,#a10,#960,#9a0,#a80,#980,#9b0,#a30,#9b0,#a70,#9b0,#a50,#a60,#a60,#a20,#a50,#a20,#a80,#ad0,#9e0,#9b0,#9f0,#9b0,#a20,#9c0,#a40,#a80,#a30,#a10,#b00,#a00,#a30,#b00,#ae0,#b40,#ac0,#ab0,#a60,#b40,#af0,#a90,#b00,#aa0,#ac0,#a10,#9d0,#b40,#a60,#af0,#a20,#a30,#a40,#a80,#990,#980,#930,#980,#9f0,#a00,#a10,#a40,#960,#b20,#aa0,#a90,#a70,#ae0,#ad0,#ad0,#a90,#a10,#a60,#a30,#a30,#ae0,#a50,#a70,#ae0,#af0,#ab0,#a80,#a20,#a60,#a60,#a60,#9d0,#a00,#a00,#850,#770,#560,#4f0,#470,#3c0,#360,#390,#3d0,#360,#320)"></i>
<i style="top:393px;height:4px;background:linear-gradient(90deg,#860,#8c0,#870,#930,#890,#950,#970,#9b0,#a00,#980,#980,#a00,#a40,#a30,#ad0,#b20,#a80,#ad0,#b40,#b40,#ad0,#af0,#bd0,#a50,#b60,#a10,#ae0,#a00,#9f0,#9b0,#a20,#9e0,#9f0,#a50,#9a0,#a70,#9e0,#9f0,#a80,#970,#950,#9e0,#a30,#a40,#960,#9f0,#9a0,#a20,#9b0,#980,#960,#a20,#ab0,#b60,#9f0,#ab0,#b30,#ae0,#b30,#ab0,#ab0,#a40,#aa0,#a50,#990,#910,#8b0,#820,#940,#8d0,#890,#910,#950,#970,#9c0,#9d0,#8c0,#a90,#970,#a80,#960,#a00,#a80,#ac0,#ad0,#a80,#a70,#ae0,#ad0,#aa0,#ab0,#ad0,#9a0,#a60,#9d0,#9b0,#9a0,#9b0,#a40,#a70,#a70,#900,#a80,#b20,#b40,#a30,#a90,#a10,#a10,#a70,#aa0,#a60,#9e0,#a10,#9c0,#a00,#9f0,#980,#a90,#a40,#a10,#9c0,#a00,#a20,#990,#9e0,#ab0,#af0,#ae0,#a30,#ae0,#b30,#ac0,#a90,#ae0,#a80,#990,#a70,#a40,#960,#990,#900,#8b0,#870,#9a0,#9c0,#9b0,#9d0,#a60,#a90,#b20,#ae0,#930,#a30,#a20,#a20,#9f0,#9c0,#9e0,#980,#9b0,#a60,#9b0,#a30,#a90,#9d0,#a10,#970,#a10,#a10,#9a0,#a00,#a00,#9d0,#950,#a20,#aa0,#a10,#990,#9b0,#9c0,#a60,#9e0,#a20,#a40,#9d0,#9d0,#a80,#a50,#9c0,#ac0,#9a0,#a30,#aa0,#b30,#a90,#a40,#a30,#a10,#a20,#a70,#aa0,#a40,#a80,#aa0,#a20,#a90,#a80,#a30,#a60,#aa0,#a80,#ae0,#a50,#b90,#ab0,#a80,#ac0,#a90,#bb0,#a50,#ad0,#ae0,#a60,#ae0,#a80,#b10,#ae0,#ab0,#b30,#a50,#970,#990,#9a0,#9a0,#950,#a40,#a40,#a60,#a50,#aa0,#aa0,#b40,#b50,#ae0,#a30,#a20,#b10,#ac0,#bd0,#b60,#b30,#b20,#b30,#a60,#a70,#b00,#ab0,#ad0,#af0,#a50,#a90,#9f0,#a60,#a20,#a40,#b00,#9d0,#8b0,#700,#5d0,#550,#3f0,#440,#340,#3a0,#350,#370,#460)"></i>
<i style="top:397px;height:4px;background:linear-gradient(90deg,#800,#790,#890,#890,#880,#870,#910,#930,#940,#8e0,#940,#9c0,#9f0,#960,#a00,#a70,#a40,#a60,#aa0,#ab0,#af0,#ab0,#9c0,#ac0,#a70,#9d0,#9f0,#940,#9a0,#a30,#970,#9b0,#8d0,#9e0,#920,#9a0,#a20,#8e0,#970,#8f0,#9b0,#970,#a40,#9c0,#9b0,#940,#930,#9c0,#910,#920,#920,#880,#9c0,#a00,#a70,#9f0,#b00,#a80,#b20,#a50,#940,#a00,#9f0,#8a0,#8a0,#810,#860,#830,#870,#7a0,#800,#8d0,#800,#8d0,#930,#930,#900,#9f0,#900,#a00,#9d0,#a70,#9e0,#a40,#9c0,#a40,#ab0,#a50,#ad0,#ab0,#a70,#a20,#a10,#9f0,#a20,#970,#8b0,#a00,#970,#9a0,#9f0,#a80,#aa0,#a40,#a70,#a60,#a10,#990,#a50,#9e0,#a20,#9b0,#970,#9e0,#960,#980,#980,#910,#910,#930,#8a0,#920,#a30,#9c0,#9c0,#9f0,#9f0,#9f0,#b00,#a10,#ac0,#9b0,#a30,#a90,#ad0,#950,#9c0,#980,#9b0,#940,#850,#8c0,#880,#8b0,#8f0,#950,#a20,#a20,#a50,#a50,#8d0,#8a0,#930,#900,#990,#940,#900,#8e0,#9d0,#950,#9e0,#970,#9f0,#9a0,#900,#980,#a30,#9d0,#960,#9e0,#910,#940,#a20,#910,#8e0,#930,#9e0,#960,#a20,#ab0,#950,#a00,#a10,#9e0,#980,#990,#930,#9e0,#8c0,#9d0,#990,#a40,#a20,#a60,#a90,#970,#a00,#a20,#9e0,#960,#a40,#980,#9d0,#a60,#990,#9b0,#9d0,#a20,#990,#9e0,#a60,#a60,#a50,#a20,#a20,#aa0,#a20,#a60,#a90,#a30,#a20,#a30,#a50,#a10,#a40,#a60,#ae0,#a60,#a70,#a00,#940,#980,#9e0,#960,#910,#8a0,#910,#a30,#9e0,#a00,#a00,#9e0,#a00,#a70,#ac0,#aa0,#a70,#a90,#af0,#a50,#a30,#b20,#a70,#b20,#9a0,#940,#9a0,#a80,#a30,#9c0,#9a0,#980,#9d0,#b00,#a40,#990,#9c0,#950,#8b0,#720,#5f0,#500,#4d0,#3f0,#3c0,#3b0,#310,#330,#340)"></i>
<i style="top:401px;height:5px;background:linear-gradient(90deg,#840,#900,#980,#990,#990,#940,#9b0,#930,#9d0,#a00,#a30,#a90,#9b0,#b10,#a90,#b50,#aa0,#b20,#b50,#a90,#b60,#ba0,#bb0,#ba0,#b30,#9c0,#ad0,#a70,#ad0,#b50,#a90,#a70,#aa0,#a40,#9f0,#a90,#9c0,#a80,#ab0,#ad0,#a00,#9d0,#a40,#a80,#a30,#a40,#a60,#a50,#9f0,#9c0,#a40,#a40,#b00,#a10,#b20,#bb0,#b00,#b20,#b90,#b30,#aa0,#a70,#a00,#a30,#9d0,#940,#8e0,#8b0,#840,#950,#860,#940,#960,#a00,#9d0,#9a0,#9f0,#9d0,#a60,#a90,#a60,#b00,#a90,#b70,#b50,#b10,#ab0,#b10,#ab0,#b10,#aa0,#af0,#af0,#a60,#a90,#a60,#990,#a30,#ab0,#a70,#ae0,#a30,#b00,#b30,#ab0,#bb0,#a50,#aa0,#a70,#b40,#ab0,#ad0,#a80,#a60,#a20,#a30,#970,#a60,#9e0,#9e0,#b40,#a20,#a00,#b00,#b40,#b10,#a20,#b40,#b30,#c10,#b10,#a70,#ab0,#b60,#ac0,#c00,#af0,#a90,#a40,#a30,#9d0,#8c0,#8a0,#8c0,#9d0,#a40,#a70,#a70,#b40,#a90,#a00,#aa0,#aa0,#a60,#a80,#a30,#9b0,#9e0,#a50,#a70,#a60,#a60,#a60,#af0,#a10,#a10,#a50,#aa0,#a40,#990,#a10,#9a0,#990,#ab0,#9d0,#a20,#a60,#ae0,#9c0,#a60,#a50,#ae0,#a40,#9d0,#9f0,#a50,#a90,#a70,#970,#b20,#ac0,#a50,#a20,#ad0,#b50,#a80,#b50,#b40,#ad0,#ad0,#aa0,#b40,#a70,#9f0,#a60,#a20,#ac0,#b00,#b60,#a40,#a60,#ab0,#ae0,#b70,#9f0,#b20,#ae0,#b80,#b50,#ac0,#b30,#a80,#ab0,#a20,#b20,#ad0,#b30,#ab0,#b40,#a30,#a40,#a10,#aa0,#9f0,#a20,#9e0,#950,#9e0,#970,#b00,#9e0,#a90,#b30,#b20,#a60,#bf0,#b30,#b90,#b60,#b00,#af0,#bb0,#ab0,#aa0,#ad0,#9c0,#a80,#ad0,#a70,#b10,#ac0,#ad0,#a30,#b00,#a70,#b30,#9e0,#a30,#910,#7a0,#630,#4f0,#460,#3f0,#410,#3a0,#400,#380,#340)"></i>
<i style="top:406px;height:4px;background:linear-gradient(90deg,#880,#880,#8a0,#920,#8c0,#940,#990,#9b0,#9c0,#8c0,#940,#9c0,#9f0,#a00,#a20,#a30,#aa0,#b00,#b60,#af0,#a70,#a80,#a40,#b20,#ad0,#a30,#9f0,#a70,#a50,#9d0,#a30,#a60,#920,#a00,#a10,#990,#9c0,#9b0,#9a0,#980,#890,#9d0,#930,#a00,#9a0,#9e0,#950,#8b0,#a00,#8e0,#960,#9b0,#990,#a80,#9d0,#a40,#a70,#a80,#ae0,#a70,#a30,#a40,#9c0,#950,#910,#890,#8a0,#8c0,#810,#840,#830,#880,#940,#9e0,#900,#8c0,#a20,#960,#980,#9f0,#990,#9e0,#a00,#aa0,#ac0,#b60,#ac0,#b80,#ae0,#b30,#a40,#b80,#aa0,#a10,#990,#940,#960,#9a0,#990,#a00,#950,#a90,#a00,#ac0,#ac0,#a30,#a20,#a70,#a00,#8f0,#930,#a30,#9a0,#930,#960,#960,#9f0,#980,#980,#a00,#9c0,#a00,#9e0,#990,#aa0,#a10,#a20,#9f0,#af0,#ac0,#ad0,#af0,#ae0,#aa0,#ae0,#a80,#a20,#9f0,#9f0,#a30,#8c0,#8e0,#8b0,#7e0,#920,#970,#9b0,#a30,#9d0,#ac0,#a00,#a40,#9f0,#a30,#9f0,#930,#a70,#990,#950,#a10,#a30,#a30,#a00,#a00,#990,#9b0,#a00,#990,#950,#9d0,#990,#9c0,#9a0,#9b0,#9b0,#9f0,#970,#8d0,#9c0,#9a0,#970,#a50,#a20,#990,#ac0,#a40,#a20,#9f0,#9d0,#9c0,#970,#a30,#a90,#a10,#a70,#ab0,#a00,#b00,#a10,#9f0,#a10,#a10,#a10,#a30,#a70,#9b0,#a80,#9f0,#a80,#a50,#9c0,#a40,#ab0,#ad0,#ba0,#ad0,#b50,#a30,#ac0,#a70,#b40,#a30,#a40,#ac0,#af0,#a80,#a90,#af0,#9c0,#a70,#9e0,#970,#940,#940,#980,#9f0,#9c0,#9e0,#950,#a00,#a10,#ad0,#9c0,#ab0,#a40,#a80,#b20,#b30,#ab0,#aa0,#b00,#b10,#a40,#9d0,#aa0,#9b0,#a60,#a00,#a10,#a40,#aa0,#a40,#9e0,#a30,#a00,#a10,#ab0,#960,#8e0,#7a0,#610,#520,#4d0,#3d0,#370,#460,#2f0,#3f0,#2e0)"></i>
<i style="top:410px;height:5px;background:linear-gradient(90deg,#750,#850,#7e0,#740,#800,#860,#900,#8c0,#8f0,#840,#980,#880,#930,#940,#9a0,#950,#a70,#9a0,#9c0,#aa0,#9b0,#a20,#960,#a60,#a10,#900,#9b0,#9d0,#900,#920,#960,#890,#990,#950,#8a0,#8e0,#950,#910,#840,#900,#8b0,#8d0,#8d0,#870,#970,#8b0,#910,#8e0,#840,#860,#840,#990,#8a0,#910,#9b0,#910,#980,#9a0,#a20,#960,#8e0,#920,#9c0,#8e0,#810,#7c0,#6d0,#740,#700,#7a0,#790,#7a0,#780,#790,#8e0,#9a0,#830,#860,#940,#890,#960,#970,#8d0,#a60,#950,#9c0,#9e0,#9f0,#970,#9f0,#9a0,#8e0,#9c0,#960,#840,#830,#8c0,#880,#8d0,#910,#940,#980,#9a0,#9e0,#aa0,#970,#950,#960,#9a0,#8b0,#910,#910,#8c0,#870,#900,#980,#8b0,#8b0,#990,#9c0,#8a0,#910,#a00,#910,#8f0,#9a0,#930,#930,#980,#940,#8e0,#950,#9b0,#9a0,#970,#950,#920,#9a0,#a00,#900,#800,#7b0,#820,#720,#850,#830,#8b0,#830,#950,#900,#890,#8e0,#990,#880,#910,#990,#980,#9c0,#7f0,#910,#900,#830,#8f0,#920,#800,#850,#870,#960,#8f0,#8e0,#8b0,#8b0,#900,#950,#920,#930,#8f0,#840,#8b0,#980,#960,#920,#970,#920,#930,#8c0,#900,#920,#8e0,#920,#960,#9a0,#890,#930,#9b0,#9c0,#920,#9c0,#890,#950,#8a0,#9a0,#8d0,#8e0,#8c0,#900,#a30,#9e0,#a40,#980,#a00,#9d0,#9c0,#a30,#9a0,#970,#a00,#940,#900,#920,#920,#960,#9d0,#960,#9c0,#990,#9f0,#9a0,#930,#910,#950,#8f0,#7c0,#8b0,#810,#8a0,#8a0,#940,#8f0,#900,#8c0,#940,#990,#960,#a20,#950,#950,#9f0,#9c0,#980,#9f0,#9d0,#9a0,#900,#8d0,#860,#840,#8d0,#960,#970,#8e0,#9d0,#930,#970,#980,#9f0,#950,#990,#840,#710,#610,#510,#440,#3d0,#3d0,#410,#470,#360,#400)"></i>
<i style="top:415px;height:4px;background:linear-gradient(90deg,#800,#7b0,#760,#7c0,#830,#7f0,#8b0,#8d0,#850,#8c0,#900,#8e0,#960,#a90,#a00,#920,#a40,#9a0,#a00,#a30,#9c0,#990,#9e0,#9d0,#960,#a00,#a00,#8f0,#980,#910,#960,#8a0,#8f0,#960,#9b0,#960,#870,#8e0,#970,#980,#920,#920,#900,#9a0,#940,#8a0,#8a0,#8f0,#890,#8e0,#830,#960,#8f0,#950,#a00,#9b0,#980,#a20,#a10,#a00,#990,#8c0,#9d0,#8f0,#820,#7a0,#770,#710,#710,#6e0,#860,#7b0,#800,#8f0,#7d0,#930,#8c0,#8f0,#8a0,#900,#940,#9d0,#920,#8b0,#950,#930,#990,#9c0,#9f0,#9e0,#a30,#900,#8d0,#900,#930,#930,#860,#980,#890,#9a0,#910,#960,#900,#900,#9e0,#930,#9f0,#910,#8e0,#8c0,#910,#990,#970,#930,#910,#8d0,#910,#970,#900,#970,#8c0,#930,#900,#900,#a50,#9e0,#990,#980,#9f0,#a00,#970,#a60,#9e0,#990,#9b0,#9c0,#9b0,#9e0,#900,#8e0,#7f0,#790,#700,#740,#850,#8d0,#8f0,#900,#8b0,#990,#8d0,#a00,#9b0,#8b0,#930,#8a0,#880,#8b0,#920,#980,#900,#920,#950,#a00,#a20,#850,#900,#890,#880,#8e0,#8e0,#900,#8a0,#910,#940,#980,#9d0,#900,#910,#830,#910,#920,#920,#910,#8d0,#970,#970,#8b0,#980,#910,#920,#990,#a00,#960,#940,#a10,#940,#970,#970,#9a0,#910,#900,#980,#a50,#910,#960,#990,#930,#950,#9b0,#9a0,#9d0,#9a0,#a80,#9e0,#a50,#a10,#a00,#a60,#a20,#a20,#960,#940,#930,#9f0,#8e0,#9a0,#8f0,#980,#950,#940,#940,#8a0,#8d0,#830,#8a0,#890,#900,#930,#960,#950,#930,#9f0,#980,#940,#9c0,#a50,#a00,#b10,#990,#a90,#9c0,#970,#880,#910,#940,#840,#920,#950,#a40,#900,#930,#8b0,#a20,#9e0,#950,#930,#880,#840,#710,#630,#4e0,#3c0,#350,#3b0,#460,#390,#350,#370)"></i>
<i style="top:419px;height:6px;background:linear-gradient(90deg,#8f0,#8c0,#990,#9f0,#9d0,#9b0,#8f0,#a40,#b40,#a10,#990,#9d0,#9e0,#aa0,#ae0,#ae0,#ae0,#b00,#bc0,#b60,#ad0,#ae0,#c20,#b40,#b00,#b80,#b10,#aa0,#ad0,#b00,#a40,#950,#ab0,#aa0,#a80,#a90,#aa0,#b30,#a00,#ab0,#a70,#b00,#9d0,#ae0,#a30,#9e0,#a70,#950,#a60,#a20,#9c0,#a40,#ae0,#b10,#aa0,#b60,#bf0,#b20,#b00,#b10,#9f0,#a00,#a10,#950,#860,#8e0,#890,#800,#880,#840,#8f0,#8a0,#9d0,#950,#970,#a50,#9b0,#a70,#ac0,#a80,#b20,#9a0,#af0,#b80,#b30,#aa0,#b40,#b40,#ba0,#b00,#b30,#b50,#9f0,#ac0,#a70,#a70,#9b0,#990,#a40,#ae0,#9d0,#b30,#b00,#aa0,#ad0,#b20,#a90,#ae0,#a50,#b30,#ad0,#a50,#a90,#ad0,#a00,#a20,#9a0,#a20,#a90,#ab0,#a40,#a70,#a40,#a60,#ad0,#b00,#b40,#b20,#b30,#bb0,#b80,#bb0,#b40,#b20,#b50,#a90,#b90,#ac0,#a30,#a00,#8f0,#8e0,#860,#920,#940,#8f0,#b00,#a00,#be0,#a10,#a60,#a60,#aa0,#a50,#ac0,#a70,#9e0,#a90,#a20,#aa0,#ad0,#a50,#a40,#9c0,#9c0,#a50,#990,#a80,#a20,#aa0,#a40,#a40,#a90,#ab0,#ae0,#b10,#a70,#aa0,#a60,#9e0,#ae0,#9f0,#ae0,#9f0,#a40,#ab0,#a20,#a00,#b30,#a10,#a50,#a00,#a70,#ad0,#ac0,#a60,#a70,#ac0,#a30,#b10,#a10,#a50,#a50,#a90,#a70,#a50,#ad0,#ac0,#a90,#b40,#b40,#ae0,#b00,#b00,#b00,#af0,#bc0,#b50,#b50,#a70,#b10,#ad0,#a90,#b70,#a80,#a60,#aa0,#ab0,#ac0,#ad0,#ab0,#ac0,#a40,#a20,#9f0,#970,#9c0,#a00,#a00,#b50,#a70,#b90,#b10,#a30,#b90,#b50,#b00,#b80,#ad0,#ae0,#bb0,#bd0,#bc0,#a40,#a20,#980,#9b0,#a30,#a80,#a70,#a90,#a60,#ac0,#b00,#a10,#af0,#ab0,#9f0,#900,#810,#650,#520,#500,#4c0,#2f0,#480,#410,#2c0,#4c0)"></i>
<i style="top:425px;height:6px;background:linear-gradient(90deg,#8b0,#970,#990,#960,#970,#a00,#9f0,#a70,#a20,#af0,#a70,#ba0,#b40,#a60,#ad0,#b40,#b00,#b00,#ac0,#b80,#be0,#b80,#a80,#b20,#bf0,#b10,#b70,#b80,#ae0,#a70,#a60,#a90,#ab0,#a70,#a70,#a00,#9d0,#b40,#b00,#a30,#a30,#ad0,#9f0,#a20,#ac0,#b80,#a10,#ac0,#a70,#9f0,#990,#aa0,#a60,#aa0,#b80,#ac0,#b80,#b90,#b10,#b50,#aa0,#ad0,#a60,#9d0,#930,#930,#880,#8c0,#930,#940,#950,#850,#990,#9c0,#a00,#a40,#b20,#a20,#ab0,#9a0,#a00,#b00,#b80,#ad0,#af0,#a90,#b70,#b20,#b20,#b40,#b50,#b40,#af0,#a20,#b20,#a10,#ab0,#a40,#aa0,#ae0,#a80,#af0,#af0,#ac0,#c20,#bb0,#c00,#af0,#a60,#a10,#a70,#a80,#a50,#a60,#a10,#ad0,#ad0,#a80,#ae0,#b10,#a10,#b40,#b40,#b10,#b20,#b80,#ac0,#ac0,#b60,#b50,#b60,#b10,#ab0,#b90,#b90,#b30,#af0,#a70,#b60,#a70,#930,#910,#8d0,#a00,#950,#a30,#a70,#b30,#ac0,#ad0,#b40,#ab0,#a30,#a20,#b00,#a40,#a50,#b30,#a20,#ac0,#ae0,#b10,#a40,#b60,#a90,#a70,#b00,#9d0,#a40,#a80,#aa0,#ac0,#ae0,#b80,#ab0,#a60,#960,#bd0,#a60,#ad0,#a70,#b20,#b20,#af0,#b50,#b50,#ad0,#af0,#af0,#aa0,#a30,#b80,#ab0,#a80,#b20,#b20,#b70,#b80,#b10,#a10,#aa0,#aa0,#a30,#b10,#af0,#a60,#bd0,#b00,#b80,#ae0,#bc0,#b10,#b20,#b60,#bf0,#b50,#bd0,#ac0,#ad0,#bc0,#aa0,#b00,#a90,#ad0,#ac0,#b40,#b00,#b40,#b20,#a50,#ac0,#ad0,#ac0,#990,#9f0,#a80,#ab0,#ab0,#ae0,#a60,#ad0,#af0,#b60,#b20,#b60,#ba0,#b70,#bd0,#b70,#aa0,#bd0,#ba0,#ab0,#a20,#8e0,#ab0,#a20,#a60,#ae0,#ab0,#b20,#b70,#b20,#ad0,#af0,#af0,#aa0,#a70,#960,#740,#600,#540,#490,#500,#400,#400,#3f0,#430,#3f0)"></i>
<i style="top:431px;height:6px;background:linear-gradient(90deg,#930,#860,#8a0,#8d0,#910,#850,#8f0,#900,#9f0,#940,#a50,#a60,#9a0,#9e0,#b40,#8f0,#9f0,#9d0,#9a0,#9d0,#a30,#b50,#ab0,#a40,#a50,#9d0,#a90,#9e0,#aa0,#9b0,#940,#940,#a40,#a10,#a30,#a40,#9c0,#a40,#a00,#9f0,#980,#9b0,#8f0,#970,#9e0,#980,#920,#930,#a50,#9c0,#9b0,#960,#9f0,#9b0,#9e0,#a10,#9c0,#af0,#9c0,#ae0,#a40,#9e0,#910,#910,#7a0,#820,#770,#830,#7b0,#870,#850,#8b0,#8c0,#900,#920,#910,#a00,#a90,#960,#a40,#950,#940,#a00,#ad0,#a30,#a60,#9f0,#970,#b10,#a40,#ab0,#a50,#9f0,#9d0,#960,#9f0,#920,#970,#9f0,#980,#a30,#a60,#9c0,#a10,#a10,#aa0,#9d0,#a20,#920,#970,#a30,#9e0,#a20,#960,#9b0,#8f0,#940,#930,#a90,#980,#9c0,#9a0,#940,#9c0,#9b0,#9e0,#9c0,#a00,#a50,#ad0,#b20,#9e0,#af0,#a70,#a30,#a40,#a50,#a10,#940,#9c0,#8a0,#7b0,#840,#910,#8c0,#9d0,#9d0,#a00,#a10,#9d0,#9c0,#a60,#a20,#980,#a20,#a10,#980,#9b0,#990,#a90,#9c0,#a00,#8d0,#9d0,#a20,#930,#9e0,#940,#980,#8d0,#980,#950,#900,#950,#9d0,#9b0,#9e0,#9f0,#9d0,#a00,#990,#a50,#9a0,#ae0,#aa0,#960,#9a0,#9f0,#a40,#970,#a00,#a00,#9f0,#a50,#a60,#950,#a10,#a40,#9f0,#990,#9c0,#ab0,#9d0,#9f0,#990,#9f0,#980,#a90,#a50,#ab0,#a10,#a30,#a50,#a40,#a30,#ab0,#ac0,#a50,#a70,#a40,#9f0,#ab0,#a40,#9e0,#9e0,#9e0,#9b0,#aa0,#ac0,#a90,#9e0,#a40,#a00,#8b0,#980,#8a0,#910,#990,#a50,#ab0,#9b0,#9d0,#a80,#a50,#9e0,#a90,#a80,#a30,#a70,#a30,#a70,#a20,#9e0,#960,#8a0,#920,#990,#a00,#a30,#9c0,#ab0,#a30,#a00,#a00,#a90,#9c0,#a50,#9f0,#880,#770,#600,#4a0,#410,#510,#420,#3e0,#470,#460,#400)"></i>
<i style="top:437px;height:6px;background:linear-gradient(90deg,#820,#840,#960,#8f0,#900,#960,#860,#960,#a00,#9b0,#940,#9b0,#a80,#9e0,#af0,#a10,#a50,#aa0,#ad0,#a30,#a20,#a40,#af0,#aa0,#a10,#9a0,#a10,#970,#a10,#a50,#a40,#9b0,#990,#a20,#a40,#a00,#9e0,#9a0,#a60,#9a0,#9a0,#9f0,#9c0,#a40,#a20,#9c0,#8d0,#a10,#ac0,#980,#8b0,#9c0,#a40,#9a0,#a30,#ae0,#a50,#b10,#ad0,#ab0,#9b0,#a00,#9f0,#8a0,#7c0,#7f0,#7f0,#710,#7f0,#7d0,#840,#7f0,#860,#8f0,#9c0,#920,#970,#9b0,#9e0,#a20,#a70,#9d0,#990,#a10,#a40,#960,#ab0,#a00,#a20,#9e0,#a20,#a40,#a30,#9f0,#940,#930,#9b0,#930,#930,#910,#990,#a30,#b00,#b10,#a70,#ac0,#a50,#980,#990,#af0,#930,#9a0,#950,#a40,#a20,#960,#930,#9f0,#8f0,#910,#9c0,#ae0,#9f0,#8f0,#ab0,#980,#a10,#9e0,#a80,#a70,#a10,#a40,#a20,#a70,#a30,#a70,#9e0,#a90,#950,#860,#7e0,#840,#7e0,#870,#9c0,#950,#980,#a60,#a20,#a20,#9d0,#aa0,#9b0,#920,#940,#940,#950,#990,#940,#a40,#a30,#930,#980,#a40,#970,#9d0,#9a0,#a20,#990,#8e0,#990,#9b0,#a70,#9e0,#970,#a10,#930,#960,#a50,#a80,#a00,#ab0,#aa0,#a50,#9f0,#9c0,#990,#960,#9d0,#9b0,#9d0,#a40,#a40,#9c0,#9c0,#a10,#a40,#a30,#8e0,#a40,#a10,#a50,#a60,#a30,#a10,#a40,#a60,#ab0,#a60,#a60,#a90,#a50,#a80,#a50,#a30,#a40,#a20,#9e0,#a90,#a80,#9f0,#9b0,#a50,#a30,#a50,#ac0,#a40,#a10,#9c0,#b10,#990,#ad0,#aa0,#950,#9c0,#920,#930,#9b0,#980,#970,#a60,#a10,#ac0,#a20,#a70,#9e0,#a60,#aa0,#b10,#a90,#a50,#a20,#910,#9a0,#8f0,#940,#8b0,#a50,#a90,#a50,#9e0,#af0,#aa0,#9e0,#980,#a10,#9c0,#9a0,#830,#7b0,#6b0,#5c0,#400,#490,#4b0,#490,#450,#480,#470)"></i>
<i style="top:443px;height:6px;background:linear-gradient(90deg,#970,#910,#9a0,#a00,#9e0,#9f0,#9f0,#ac0,#a10,#a80,#a40,#a60,#a40,#a90,#af0,#a30,#b30,#b20,#ab0,#b20,#b60,#b60,#ac0,#b10,#ad0,#b10,#af0,#a50,#a70,#b30,#a90,#a50,#a50,#a20,#ab0,#ae0,#a80,#a60,#ad0,#ac0,#b00,#b00,#990,#a30,#a20,#a10,#a30,#b30,#a10,#a10,#a30,#ab0,#a60,#9e0,#aa0,#ad0,#ad0,#af0,#b90,#af0,#b10,#ae0,#a00,#9e0,#8f0,#810,#840,#790,#980,#920,#8f0,#970,#870,#990,#aa0,#a50,#a60,#9f0,#a30,#ac0,#a80,#a50,#ae0,#ac0,#ab0,#ba0,#ba0,#aa0,#a80,#a80,#ac0,#a40,#ab0,#af0,#a80,#a20,#a60,#a50,#a40,#b40,#b60,#ac0,#ac0,#b30,#b10,#b30,#ab0,#ae0,#a20,#ae0,#b30,#9c0,#b20,#aa0,#9c0,#a70,#a80,#ab0,#aa0,#9e0,#ac0,#a30,#a40,#a30,#a60,#a20,#a00,#b70,#ae0,#ab0,#b80,#b40,#ad0,#b60,#9d0,#af0,#b50,#aa0,#a20,#940,#8e0,#8d0,#7f0,#800,#a40,#a80,#ab0,#ac0,#b00,#a50,#a90,#aa0,#a70,#b30,#a70,#a10,#a60,#ae0,#a60,#a50,#ac0,#a50,#9c0,#ae0,#a90,#980,#a30,#a80,#9b0,#a60,#aa0,#ae0,#a70,#ac0,#b00,#a50,#a40,#a90,#ab0,#ac0,#a70,#a70,#a60,#a80,#a40,#9d0,#a60,#ae0,#a10,#b20,#a10,#b20,#970,#b50,#b70,#b40,#a70,#b20,#9f0,#b50,#a60,#9e0,#a60,#9d0,#a70,#a80,#aa0,#b00,#a10,#ab0,#a20,#b50,#ac0,#bc0,#b80,#a60,#ad0,#af0,#a60,#ba0,#b10,#9d0,#aa0,#ab0,#ab0,#bc0,#ab0,#a50,#ae0,#9d0,#a60,#a20,#a60,#950,#a10,#a80,#aa0,#aa0,#9d0,#a70,#a40,#ae0,#a60,#be0,#aa0,#b50,#b90,#a90,#ae0,#b10,#a90,#a00,#a50,#980,#910,#a70,#9d0,#aa0,#a40,#ac0,#b40,#b50,#ae0,#a20,#af0,#9f0,#aa0,#9a0,#910,#860,#6a0,#690,#470,#400,#410,#470,#480,#4d0,#3c0)"></i>
<i style="top:449px;height:5px;background:linear-gradient(90deg,#8e0,#980,#9a0,#950,#980,#9a0,#aa0,#a00,#a60,#a80,#aa0,#a90,#b30,#b30,#a90,#b60,#ae0,#b40,#c00,#bf0,#b90,#b10,#b30,#b30,#aa0,#b70,#ae0,#b70,#a90,#9c0,#b10,#a50,#a40,#ae0,#ab0,#a50,#b20,#aa0,#a40,#a60,#ae0,#b30,#9f0,#9d0,#a60,#ad0,#a10,#a30,#a40,#a00,#940,#a50,#a80,#b40,#b20,#a50,#b20,#ad0,#be0,#b50,#af0,#9f0,#980,#910,#960,#8a0,#7f0,#7a0,#840,#850,#930,#920,#a50,#9e0,#990,#a60,#b00,#a10,#b30,#a80,#a70,#9c0,#b80,#b40,#b10,#a40,#b50,#ad0,#af0,#b30,#ac0,#b40,#a50,#aa0,#b40,#a40,#9e0,#ab0,#a40,#a30,#a60,#ae0,#b00,#b50,#a60,#ab0,#a50,#af0,#a40,#aa0,#ae0,#aa0,#a30,#ab0,#af0,#a80,#a50,#ad0,#a40,#a20,#ab0,#9b0,#a20,#b60,#ae0,#b00,#a50,#a60,#b40,#ae0,#b60,#bb0,#b90,#be0,#aa0,#be0,#a60,#ac0,#a40,#9e0,#940,#860,#940,#970,#a60,#b00,#b60,#a30,#ab0,#ac0,#a80,#a90,#b00,#a00,#a70,#990,#ad0,#a00,#b30,#a70,#af0,#a90,#ab0,#ae0,#a30,#a70,#a20,#a50,#9b0,#a30,#9d0,#9f0,#a90,#9d0,#a80,#a80,#a40,#a90,#ac0,#b10,#af0,#ad0,#a30,#a60,#b10,#9f0,#a60,#b30,#a40,#b00,#ab0,#a50,#9e0,#a70,#a50,#af0,#ae0,#a90,#a60,#ae0,#a80,#af0,#ae0,#a60,#b50,#a90,#ab0,#ae0,#a90,#b30,#b20,#a90,#c00,#b50,#b70,#a80,#ac0,#ac0,#ae0,#b80,#bb0,#a50,#ac0,#b10,#ac0,#b00,#b00,#bb0,#b20,#af0,#b20,#a60,#a00,#a00,#9f0,#970,#b00,#a80,#a40,#a50,#b30,#a90,#b60,#b30,#b30,#b60,#ab0,#ac0,#ad0,#b20,#b80,#b00,#a70,#920,#a00,#a00,#a50,#af0,#aa0,#ab0,#ae0,#b30,#9e0,#af0,#a80,#ad0,#a10,#a30,#8a0,#8e0,#730,#580,#540,#4c0,#460,#440,#410,#510,#4b0)"></i>
<i style="top:454px;height:6px;background:linear-gradient(90deg,#940,#8d0,#a00,#970,#970,#a20,#9e0,#a10,#a70,#ae0,#970,#980,#af0,#9f0,#aa0,#b00,#a70,#b00,#b00,#a70,#a80,#a10,#a60,#aa0,#b30,#ad0,#ae0,#9d0,#aa0,#a20,#9b0,#950,#a80,#a50,#a20,#a20,#a30,#a20,#9d0,#ab0,#aa0,#980,#b00,#a30,#a50,#9e0,#a20,#ae0,#9d0,#9c0,#a60,#a10,#9b0,#ae0,#9e0,#a10,#b40,#b30,#9b0,#aa0,#a50,#a30,#910,#910,#910,#7f0,#690,#7d0,#8e0,#8c0,#840,#870,#960,#a10,#9c0,#ad0,#a20,#a70,#a30,#a40,#a90,#a50,#b60,#ae0,#a80,#a50,#af0,#a80,#a90,#b50,#a60,#a90,#9e0,#a60,#9a0,#a50,#9b0,#a00,#980,#af0,#a80,#b10,#b30,#b40,#a00,#b00,#a50,#b50,#a60,#9a0,#9a0,#9e0,#a80,#a10,#a20,#a50,#a10,#a70,#b30,#ad0,#920,#9e0,#ad0,#a90,#a60,#b50,#900,#9f0,#ad0,#ad0,#b20,#ac0,#b50,#a90,#a10,#ae0,#a60,#a40,#a00,#9c0,#850,#800,#850,#920,#9f0,#a80,#ac0,#ab0,#ae0,#a80,#a60,#ac0,#a50,#a10,#9e0,#a50,#9b0,#a20,#a80,#9d0,#ad0,#9a0,#a90,#a40,#aa0,#a70,#9f0,#960,#980,#a20,#960,#b20,#990,#a00,#ac0,#aa0,#ad0,#a10,#ac0,#a80,#ad0,#ad0,#a60,#a80,#ae0,#a20,#a10,#a70,#9c0,#a70,#a20,#a10,#a90,#a20,#9c0,#a40,#a10,#ac0,#b20,#ad0,#a50,#9f0,#990,#aa0,#a30,#a80,#a40,#9a0,#a80,#ab0,#b30,#b20,#ad0,#ad0,#b30,#ab0,#a10,#ae0,#b70,#a50,#9d0,#aa0,#ab0,#a20,#b10,#b20,#a70,#b90,#b20,#a50,#a80,#a80,#a20,#9b0,#9b0,#a90,#9d0,#a90,#a60,#b90,#ab0,#aa0,#b30,#ac0,#a50,#ad0,#ae0,#ad0,#a80,#b10,#b10,#aa0,#900,#870,#990,#940,#a90,#ab0,#a90,#ab0,#ab0,#aa0,#a50,#af0,#a30,#a90,#a80,#960,#8e0,#740,#6e0,#5b0,#500,#450,#460,#480,#410,#4c0,#460)"></i>
<i style="top:460px;height:6px;background:linear-gradient(90deg,#880,#860,#7e0,#800,#8d0,#920,#8e0,#900,#940,#930,#930,#960,#960,#910,#930,#950,#9a0,#950,#a20,#9e0,#9d0,#990,#9d0,#a90,#a10,#9c0,#a50,#940,#a10,#9c0,#950,#8f0,#910,#980,#900,#8f0,#900,#940,#9e0,#9a0,#9e0,#8c0,#8f0,#940,#900,#970,#900,#940,#880,#920,#9a0,#980,#920,#990,#980,#980,#a30,#940,#980,#9e0,#920,#940,#8e0,#780,#6d0,#5b0,#6d0,#6c0,#690,#730,#770,#950,#860,#920,#920,#8e0,#940,#920,#810,#940,#980,#a40,#960,#a40,#950,#960,#8e0,#a90,#9a0,#970,#9f0,#9a0,#990,#a30,#960,#9a0,#910,#910,#9f0,#9b0,#970,#aa0,#960,#980,#a40,#a30,#a20,#9b0,#920,#970,#860,#9b0,#910,#840,#950,#950,#8d0,#950,#910,#960,#8c0,#940,#970,#810,#9c0,#9c0,#9b0,#8f0,#a70,#9f0,#ac0,#960,#9f0,#a20,#990,#950,#950,#a90,#970,#7f0,#720,#820,#800,#7f0,#860,#920,#990,#a00,#980,#9b0,#9e0,#9a0,#8c0,#9f0,#890,#900,#9a0,#8b0,#a10,#950,#8c0,#950,#8d0,#960,#880,#9a0,#940,#910,#900,#9b0,#8f0,#8e0,#8c0,#960,#980,#8d0,#9d0,#900,#8f0,#920,#910,#9a0,#9d0,#a60,#940,#8d0,#950,#9a0,#8f0,#940,#990,#9b0,#8f0,#980,#9c0,#9a0,#9e0,#970,#980,#9b0,#980,#9b0,#990,#960,#910,#a30,#960,#9f0,#a00,#970,#910,#a00,#9f0,#960,#a00,#a30,#a50,#a00,#990,#a00,#980,#980,#a00,#a00,#9e0,#960,#9b0,#980,#990,#990,#970,#900,#8b0,#980,#950,#940,#920,#980,#8e0,#980,#960,#9d0,#9f0,#960,#9b0,#8e0,#9c0,#a20,#a10,#9d0,#a50,#960,#920,#830,#770,#850,#940,#980,#a10,#9f0,#9f0,#8e0,#9e0,#9c0,#9d0,#990,#9b0,#950,#900,#710,#6c0,#5a0,#520,#4b0,#4a0,#490,#3d0,#4a0,#480)"></i>
<i style="top:466px;height:6px;background:linear-gradient(90deg,#780,#910,#8f0,#820,#9b0,#870,#810,#950,#900,#9b0,#8e0,#990,#990,#960,#980,#a50,#a30,#a40,#930,#9c0,#a90,#970,#a20,#a40,#9c0,#b10,#940,#940,#960,#960,#980,#8d0,#9d0,#930,#a00,#9d0,#9a0,#890,#a10,#9a0,#9e0,#9a0,#9a0,#8e0,#8c0,#920,#8f0,#960,#9d0,#8f0,#910,#910,#a80,#910,#a20,#950,#a50,#a90,#a30,#a30,#a00,#9a0,#8e0,#7b0,#790,#740,#710,#6e0,#6e0,#7e0,#790,#860,#8b0,#8f0,#970,#8e0,#9b0,#900,#950,#9c0,#990,#9b0,#990,#a90,#960,#9e0,#9b0,#a10,#a30,#9b0,#9f0,#9c0,#990,#9c0,#960,#8e0,#950,#930,#970,#9b0,#9d0,#950,#9d0,#9d0,#970,#930,#960,#970,#9e0,#960,#9a0,#920,#970,#970,#9b0,#8e0,#970,#a30,#9c0,#9a0,#880,#8e0,#950,#930,#990,#960,#9a0,#9d0,#9c0,#a00,#a70,#a80,#980,#9b0,#a30,#9b0,#9e0,#930,#9d0,#840,#770,#740,#730,#830,#8a0,#8d0,#960,#9c0,#940,#920,#940,#910,#940,#960,#9c0,#920,#990,#a60,#9e0,#980,#910,#960,#9b0,#920,#9a0,#9a0,#920,#940,#8f0,#950,#a00,#950,#930,#8f0,#a20,#930,#990,#960,#970,#9f0,#9a0,#980,#a20,#9e0,#9a0,#8d0,#980,#9c0,#950,#a10,#8e0,#9b0,#8a0,#930,#a50,#a60,#9b0,#9d0,#980,#a30,#a10,#920,#920,#960,#970,#a00,#960,#960,#9e0,#a30,#a40,#920,#9f0,#9b0,#990,#a40,#a00,#9d0,#a10,#9c0,#9a0,#a00,#9c0,#a20,#9c0,#960,#9f0,#a70,#9e0,#9b0,#910,#980,#950,#960,#960,#8f0,#910,#8f0,#a00,#920,#960,#980,#a40,#9a0,#920,#a50,#a20,#a80,#a10,#a10,#900,#9d0,#8c0,#920,#830,#8b0,#940,#9f0,#9c0,#960,#9c0,#9e0,#a30,#940,#9c0,#9b0,#980,#9c0,#880,#770,#630,#580,#4d0,#470,#500,#500,#440,#4c0,#4d0)"></i>
<i style="top:472px;height:6px;background:linear-gradient(90deg,#900,#900,#a30,#920,#9a0,#9b0,#9e0,#a00,#960,#ae0,#b30,#a20,#9e0,#ad0,#ac0,#af0,#a50,#a90,#ae0,#a00,#a70,#b40,#af0,#af0,#a40,#a40,#aa0,#af0,#a30,#a80,#9e0,#9e0,#a10,#a40,#a80,#a10,#970,#a00,#a30,#a80,#a40,#9d0,#a90,#9d0,#a20,#a20,#a30,#a80,#a10,#a70,#a20,#a90,#ac0,#9c0,#ac0,#a60,#a80,#ac0,#ab0,#a50,#9f0,#a50,#910,#9b0,#7f0,#700,#700,#7f0,#760,#870,#a10,#8f0,#900,#9d0,#ae0,#a30,#a40,#a50,#9c0,#a40,#ac0,#a80,#b50,#a80,#a50,#a30,#bd0,#b80,#ac0,#b30,#b80,#ae0,#af0,#a00,#9b0,#a90,#9e0,#ac0,#a00,#b00,#a50,#a90,#ac0,#ac0,#ab0,#ad0,#a80,#a60,#a10,#a30,#9d0,#a70,#9e0,#9e0,#a10,#a30,#a80,#a30,#a20,#a10,#a30,#a10,#ad0,#a50,#9d0,#a60,#ab0,#b00,#ac0,#b50,#a40,#b80,#aa0,#ae0,#af0,#9d0,#b20,#a10,#a40,#970,#8d0,#8c0,#870,#970,#a10,#9f0,#ae0,#ab0,#a30,#ae0,#af0,#b10,#9d0,#ac0,#a90,#9e0,#a20,#ab0,#a70,#b20,#a40,#af0,#a20,#9e0,#aa0,#ad0,#a70,#a60,#a80,#aa0,#a10,#a50,#af0,#a60,#aa0,#a10,#a30,#a70,#aa0,#ad0,#aa0,#a20,#bd0,#a60,#a80,#a10,#af0,#a80,#a90,#a90,#a40,#9d0,#a30,#b40,#ae0,#ab0,#b00,#aa0,#af0,#aa0,#a30,#aa0,#ab0,#a50,#a00,#aa0,#ac0,#a60,#aa0,#a90,#a50,#9a0,#af0,#aa0,#b10,#b30,#a90,#9c0,#b00,#a60,#aa0,#ac0,#a40,#b20,#b30,#af0,#a40,#ab0,#aa0,#bc0,#ab0,#b00,#a20,#a40,#af0,#a80,#ac0,#9d0,#a40,#ac0,#a80,#ae0,#b20,#b00,#b10,#a80,#ad0,#ac0,#a90,#b60,#a70,#ab0,#990,#9c0,#9a0,#930,#a80,#b00,#a90,#b00,#a70,#b00,#a80,#b70,#b60,#9b0,#a80,#a00,#a40,#8e0,#720,#5f0,#5a0,#530,#540,#4b0,#590,#4e0,#390)"></i>
<i style="top:478px;height:6px;background:linear-gradient(90deg,#8d0,#8b0,#930,#920,#920,#8a0,#990,#8e0,#8d0,#9e0,#960,#a60,#8f0,#9e0,#9d0,#9a0,#9f0,#9f0,#9a0,#9d0,#990,#9b0,#a10,#a40,#930,#970,#8e0,#9a0,#a20,#960,#900,#8e0,#930,#900,#a10,#980,#930,#9a0,#9e0,#9b0,#9d0,#940,#a00,#940,#9b0,#8a0,#940,#910,#900,#970,#900,#970,#930,#9c0,#950,#a10,#9b0,#9b0,#9f0,#a50,#920,#890,#880,#7e0,#700,#690,#6b0,#760,#670,#7d0,#7d0,#8f0,#820,#8b0,#940,#9a0,#910,#890,#9a0,#980,#940,#9a0,#9b0,#960,#9f0,#9c0,#a60,#9b0,#940,#9e0,#9c0,#a20,#910,#930,#9e0,#960,#9b0,#9c0,#940,#980,#930,#9e0,#9d0,#9c0,#990,#a00,#9c0,#980,#9a0,#9c0,#8f0,#910,#930,#9e0,#8c0,#9c0,#990,#930,#930,#940,#9c0,#960,#9b0,#900,#9d0,#9a0,#9d0,#910,#ac0,#9a0,#920,#a40,#9f0,#980,#940,#a50,#9d0,#920,#850,#870,#880,#730,#780,#7c0,#8d0,#8d0,#940,#990,#990,#9c0,#9d0,#8d0,#920,#8f0,#950,#920,#8f0,#9d0,#920,#910,#a00,#980,#980,#970,#980,#940,#9b0,#940,#9f0,#a10,#930,#8c0,#9a0,#9e0,#930,#960,#980,#9c0,#980,#a10,#9a0,#a00,#980,#970,#9f0,#9a0,#910,#9d0,#960,#a20,#9d0,#930,#980,#970,#9e0,#920,#900,#9b0,#990,#a00,#9b0,#a20,#9e0,#a20,#9a0,#8f0,#970,#8d0,#a00,#a50,#9c0,#940,#a20,#a20,#9c0,#a20,#9f0,#9c0,#9e0,#a20,#990,#920,#9d0,#a30,#950,#9e0,#9e0,#9e0,#9c0,#9e0,#930,#900,#910,#8a0,#940,#940,#8c0,#a30,#950,#940,#a10,#a40,#900,#8a0,#a70,#9e0,#980,#930,#a60,#a60,#9b0,#970,#780,#840,#840,#930,#940,#990,#980,#970,#9a0,#990,#990,#980,#9f0,#9d0,#9c0,#940,#850,#7c0,#760,#660,#5d0,#530,#540,#540,#520,#4e0,#4f0)"></i>
<i style="top:484px;height:6px;background:linear-gradient(90deg,#9c0,#990,#a40,#990,#a50,#9a0,#9c0,#9e0,#910,#a50,#a40,#9c0,#a30,#a20,#9c0,#ad0,#a60,#a60,#a50,#a50,#a20,#b30,#ab0,#aa0,#960,#b40,#ac0,#9c0,#a30,#9b0,#a90,#9f0,#aa0,#a50,#a70,#9a0,#a60,#9d0,#a00,#9f0,#980,#a90,#a00,#a40,#9c0,#9d0,#a10,#9b0,#a30,#a70,#9b0,#a00,#af0,#a40,#a20,#a30,#ae0,#b70,#a60,#a60,#a80,#9b0,#970,#930,#7f0,#7a0,#730,#7d0,#7d0,#930,#8c0,#890,#970,#9e0,#9a0,#a20,#a30,#9f0,#a70,#930,#b00,#aa0,#a00,#a20,#ac0,#b20,#af0,#a60,#9d0,#a50,#a80,#a90,#9f0,#a00,#a40,#a00,#9c0,#a20,#ab0,#aa0,#b50,#9f0,#a30,#a70,#b10,#ad0,#9f0,#990,#aa0,#a40,#a80,#a30,#ab0,#a80,#a90,#9e0,#a60,#9c0,#aa0,#9b0,#a50,#9e0,#9c0,#a60,#ab0,#a70,#a70,#a00,#ab0,#aa0,#ab0,#b10,#a00,#a80,#a60,#b90,#9d0,#a10,#a00,#950,#830,#7f0,#7e0,#910,#920,#9e0,#a80,#a90,#ba0,#9c0,#a10,#a00,#ab0,#ab0,#9b0,#a40,#990,#a50,#a30,#a20,#a40,#ae0,#a50,#9a0,#a40,#a00,#aa0,#a70,#a40,#a30,#a50,#9d0,#a40,#a40,#960,#990,#ac0,#ab0,#9b0,#aa0,#a50,#9e0,#a80,#a70,#a50,#9b0,#a10,#a40,#a30,#a50,#9f0,#b20,#a00,#b00,#9c0,#b10,#a50,#a50,#9a0,#a90,#9f0,#ab0,#aa0,#ae0,#af0,#a10,#ac0,#ac0,#ab0,#ae0,#b10,#a50,#a20,#ac0,#ba0,#a90,#b20,#a60,#b40,#a90,#ad0,#a40,#af0,#b00,#af0,#ab0,#9e0,#a90,#a30,#a10,#a10,#a10,#ab0,#a30,#b40,#a00,#a00,#a90,#9f0,#a60,#a20,#a80,#ad0,#a20,#a80,#a20,#a30,#a40,#a80,#af0,#a50,#880,#910,#880,#a10,#9a0,#9e0,#a30,#b20,#a70,#ac0,#ad0,#ac0,#aa0,#b10,#960,#a70,#960,#900,#880,#710,#670,#560,#570,#560,#420,#4d0,#4c0,#570)"></i>
<i style="top:490px;height:6px;background:linear-gradient(90deg,#af0,#a30,#ae0,#b60,#c00,#ba0,#ab0,#af0,#bb0,#b10,#b00,#bc0,#ba0,#b90,#c20,#b30,#b20,#c80,#b40,#bc0,#b90,#be0,#b80,#bf0,#c40,#c00,#bb0,#b60,#c00,#a90,#aa0,#b70,#b50,#c00,#bf0,#ad0,#b40,#ad0,#be0,#b10,#b50,#b60,#c10,#bb0,#b00,#b80,#bd0,#ac0,#b10,#c20,#be0,#b90,#b90,#bc0,#b90,#b30,#cc0,#c10,#b80,#c30,#b40,#c00,#b00,#a50,#8d0,#8e0,#920,#920,#940,#a00,#a40,#ac0,#b00,#ad0,#b90,#b90,#b60,#b70,#b70,#b70,#b30,#b60,#b90,#c90,#b50,#b90,#bf0,#c30,#be0,#ba0,#b60,#bb0,#c00,#bc0,#bc0,#ba0,#ba0,#b50,#ac0,#c10,#c30,#bf0,#af0,#b80,#ca0,#c90,#b90,#bd0,#b40,#bf0,#b70,#b20,#ac0,#be0,#b20,#b80,#c30,#b90,#c40,#c50,#bd0,#bf0,#bb0,#b90,#af0,#c40,#ba0,#bb0,#c40,#b50,#bf0,#c40,#b50,#bf0,#b90,#b90,#b70,#ac0,#b10,#a70,#950,#900,#920,#a30,#ae0,#be0,#c60,#bb0,#be0,#b10,#aa0,#b80,#b70,#b50,#af0,#b00,#b00,#ba0,#b40,#b90,#ba0,#c10,#b40,#ae0,#ae0,#b50,#b40,#bb0,#be0,#ae0,#b40,#bc0,#b80,#c50,#b70,#be0,#ad0,#b30,#c20,#c50,#bb0,#af0,#bc0,#be0,#bb0,#b80,#b80,#b60,#bb0,#b70,#c00,#bd0,#b70,#b80,#bd0,#c30,#ba0,#c00,#bd0,#b80,#b60,#be0,#bd0,#b90,#bb0,#b00,#b60,#b80,#c40,#bb0,#bc0,#ad0,#bb0,#be0,#be0,#bf0,#b60,#be0,#bc0,#cf0,#c30,#b90,#c00,#bd0,#ba0,#bc0,#c10,#bf0,#c50,#b10,#bb0,#c10,#ac0,#af0,#bd0,#b20,#bb0,#b50,#ba0,#b90,#b90,#bc0,#b80,#b90,#c30,#bc0,#c50,#b70,#c90,#af0,#c10,#ac0,#a60,#a30,#a40,#b40,#c20,#bd0,#c90,#bc0,#bb0,#c50,#bc0,#bd0,#c20,#c30,#c70,#b50,#9e0,#860,#790,#620,#680,#540,#500,#4d0,#590,#4e0,#4a0)"></i>
<i style="top:496px;height:5px;background:linear-gradient(90deg,#a20,#a70,#a70,#a90,#9f0,#ae0,#b30,#ad0,#aa0,#b70,#ab0,#b90,#ad0,#af0,#b20,#bf0,#c20,#b10,#bf0,#c10,#af0,#b80,#b50,#c40,#b40,#ab0,#b00,#bb0,#af0,#bc0,#b60,#ba0,#af0,#b70,#b00,#b20,#b10,#b80,#b10,#bf0,#aa0,#b30,#b60,#b00,#c00,#b20,#b80,#b60,#b20,#a90,#a80,#ab0,#b30,#b50,#bf0,#af0,#b30,#c10,#c30,#ba0,#b60,#be0,#a90,#9e0,#990,#900,#810,#940,#910,#a20,#a50,#9d0,#ae0,#aa0,#ac0,#ac0,#b10,#ac0,#af0,#b00,#bc0,#b50,#b10,#c20,#ba0,#b50,#b20,#b70,#c30,#b60,#b50,#b30,#bc0,#bd0,#b60,#b70,#a90,#b30,#a60,#b60,#a80,#a90,#b60,#b80,#bc0,#b10,#c10,#ab0,#b80,#b60,#b10,#ac0,#b60,#b40,#ac0,#b90,#c50,#ac0,#bc0,#bd0,#b50,#bd0,#bb0,#b60,#bc0,#b10,#af0,#b30,#b70,#c70,#ab0,#c00,#b40,#be0,#c20,#b50,#ba0,#bd0,#ad0,#9b0,#970,#970,#930,#980,#b20,#af0,#ad0,#ad0,#b20,#bb0,#b50,#b60,#b00,#b20,#bb0,#b30,#b20,#b60,#ab0,#af0,#aa0,#b60,#ba0,#b70,#b70,#aa0,#b10,#bc0,#b50,#bd0,#b60,#c00,#af0,#a90,#aa0,#ad0,#b20,#b10,#b90,#b50,#b90,#c00,#b70,#a80,#b80,#ba0,#bd0,#b70,#b70,#b60,#bc0,#c10,#aa0,#b60,#bb0,#b20,#bd0,#bc0,#bb0,#ba0,#b50,#b40,#b50,#b60,#b80,#ba0,#b30,#b70,#b80,#b30,#b90,#b90,#b30,#bb0,#ba0,#ac0,#b80,#b60,#b00,#b40,#bf0,#c40,#b70,#b80,#b20,#b00,#b50,#b50,#bc0,#c40,#b30,#b10,#ba0,#aa0,#c00,#b60,#b40,#b60,#b80,#b30,#b70,#bd0,#bc0,#b10,#b60,#b90,#b40,#bd0,#b20,#b50,#b20,#a30,#a10,#990,#ab0,#bc0,#bd0,#c80,#ae0,#ba0,#b90,#be0,#bd0,#b10,#b90,#b00,#b10,#ab0,#9f0,#820,#820,#610,#5e0,#580,#550,#5a0,#510,#540,#520)"></i>
<i style="top:501px;height:6px;background:linear-gradient(90deg,#a80,#b70,#ae0,#a70,#ad0,#b40,#b60,#ab0,#b40,#b00,#b50,#b30,#bb0,#b70,#c10,#b90,#c20,#b60,#b40,#c00,#b80,#bc0,#b90,#c60,#bf0,#c00,#b50,#b90,#b60,#b80,#bc0,#b80,#b30,#c50,#bf0,#b20,#b30,#bb0,#b70,#ba0,#b60,#b00,#b40,#b40,#b60,#b40,#a50,#b10,#bf0,#b10,#c10,#b50,#af0,#b60,#c00,#be0,#c50,#c00,#c40,#bb0,#b10,#bd0,#b60,#a50,#8d0,#8c0,#910,#8e0,#970,#9b0,#af0,#b50,#ac0,#ba0,#b50,#c40,#b60,#ac0,#b20,#c00,#b50,#ad0,#c60,#b80,#b50,#c30,#b40,#c50,#cf0,#c00,#bc0,#b80,#b60,#cb0,#ba0,#b90,#b30,#af0,#bb0,#b60,#bd0,#b60,#ba0,#bb0,#b30,#bc0,#c20,#b40,#b80,#b30,#c20,#b90,#a90,#bb0,#c20,#bf0,#c20,#bc0,#bd0,#b70,#b70,#bb0,#c40,#c40,#b90,#b60,#c60,#c00,#b80,#c20,#c00,#b80,#b90,#b60,#c50,#be0,#c20,#bc0,#b50,#ac0,#9e0,#8d0,#970,#a10,#a90,#b50,#b80,#bb0,#ba0,#c10,#c30,#c10,#b80,#b10,#b90,#b30,#b20,#b90,#ba0,#b70,#c50,#ba0,#b70,#bc0,#bd0,#b50,#bc0,#b20,#ae0,#b30,#bd0,#b30,#ac0,#b30,#bc0,#bd0,#bb0,#bb0,#be0,#c30,#bf0,#b40,#c40,#c10,#b30,#b00,#b50,#c50,#be0,#aa0,#ba0,#be0,#b80,#c10,#af0,#be0,#bd0,#bf0,#b70,#c00,#b20,#bc0,#b60,#bd0,#c60,#b60,#b60,#bc0,#b50,#ba0,#c40,#b90,#c20,#c20,#ab0,#b30,#bf0,#c50,#be0,#bd0,#b70,#bd0,#bb0,#c40,#c60,#bf0,#ad0,#bd0,#c30,#ba0,#c50,#b40,#ae0,#be0,#b20,#af0,#b50,#b10,#b70,#b50,#b90,#c30,#b60,#c00,#c20,#bc0,#b60,#c30,#c50,#b70,#af0,#a60,#a40,#a80,#af0,#be0,#c10,#bc0,#c70,#c40,#c90,#ba0,#c70,#bb0,#b90,#bb0,#ae0,#b80,#a90,#8c0,#7c0,#750,#5e0,#560,#5a0,#550,#4e0,#520,#4b0)"></i>
<i style="top:507px;height:6px;background:linear-gradient(90deg,#9a0,#950,#9a0,#a80,#a30,#9f0,#a10,#9e0,#a60,#9f0,#9f0,#ad0,#a50,#ad0,#a30,#a70,#ae0,#ac0,#ac0,#ab0,#9e0,#ae0,#ac0,#a00,#af0,#b00,#b50,#a80,#ac0,#9a0,#b50,#a50,#a80,#a40,#9f0,#9b0,#a80,#9c0,#a90,#a00,#a80,#a30,#a10,#9f0,#a70,#a90,#ab0,#990,#a00,#a10,#ab0,#a30,#990,#a40,#990,#b20,#ab0,#b00,#990,#a70,#a00,#a20,#a20,#890,#8b0,#770,#7a0,#790,#870,#970,#850,#9f0,#a10,#a50,#a50,#9e0,#a10,#9b0,#a70,#a90,#9f0,#9f0,#a40,#a70,#a90,#b00,#a30,#a80,#a90,#ae0,#a10,#ac0,#a50,#9a0,#ad0,#9e0,#9c0,#9e0,#a50,#a40,#af0,#ac0,#a30,#aa0,#9d0,#a20,#a80,#a90,#a90,#9f0,#a30,#a30,#a70,#a70,#a20,#ab0,#9c0,#a40,#a10,#a10,#b60,#a20,#ad0,#a40,#a10,#ae0,#a00,#a50,#a80,#a10,#b50,#a70,#ad0,#a30,#a90,#a80,#b00,#a40,#9d0,#a00,#8d0,#7c0,#840,#8d0,#9e0,#a50,#aa0,#b00,#a10,#aa0,#a40,#a00,#a50,#9b0,#a10,#990,#a50,#a50,#970,#a50,#a20,#aa0,#ab0,#a00,#a30,#9f0,#ac0,#a90,#ae0,#a10,#a90,#a50,#a90,#a20,#a00,#af0,#9e0,#a90,#b50,#9f0,#a50,#aa0,#9b0,#a90,#9e0,#9a0,#a60,#9f0,#aa0,#aa0,#ab0,#a10,#a20,#a90,#9b0,#ab0,#ac0,#b00,#a60,#9f0,#ad0,#9e0,#a90,#a50,#990,#a60,#a90,#ac0,#ac0,#9e0,#ac0,#a50,#a60,#b00,#a20,#b20,#ad0,#9f0,#a50,#a30,#a50,#ab0,#af0,#b30,#a70,#ad0,#a50,#a80,#a70,#ae0,#9d0,#a20,#9c0,#a60,#a40,#a50,#950,#9f0,#a10,#a80,#a00,#ac0,#ad0,#a90,#980,#a10,#b00,#a90,#a00,#9b0,#990,#930,#820,#920,#a30,#ac0,#a50,#a00,#ab0,#a00,#b00,#ac0,#9b0,#a50,#a30,#990,#af0,#9f0,#960,#8f0,#7d0,#6b0,#660,#570,#600,#520,#540,#630,#590)"></i>
<i style="top:513px;height:6px;background:linear-gradient(90deg,#a20,#980,#ad0,#a00,#a30,#a40,#ad0,#9e0,#a60,#a50,#b00,#ae0,#ad0,#ae0,#a90,#a90,#b80,#af0,#b30,#af0,#aa0,#aa0,#b50,#c00,#b20,#bc0,#af0,#af0,#b20,#a70,#ad0,#aa0,#b00,#9f0,#b40,#b40,#af0,#af0,#ac0,#ab0,#ae0,#a30,#a60,#a90,#ba0,#a90,#b80,#a60,#940,#a90,#ab0,#b80,#a80,#b20,#aa0,#b40,#b70,#ad0,#b90,#b50,#aa0,#b20,#9f0,#9c0,#870,#7a0,#850,#900,#950,#9d0,#9d0,#b20,#a70,#ac0,#a50,#a30,#ae0,#b10,#a70,#ab0,#af0,#b00,#a80,#a70,#ad0,#b30,#b60,#af0,#be0,#aa0,#af0,#b10,#b10,#b10,#a80,#a60,#a00,#b00,#a70,#ae0,#b50,#b10,#a80,#b20,#b40,#bd0,#b30,#ab0,#c50,#b50,#b00,#a70,#a40,#ac0,#ae0,#a90,#af0,#ab0,#a20,#b80,#a10,#b40,#aa0,#9f0,#a80,#b70,#a60,#ad0,#bb0,#ab0,#b70,#a90,#b20,#b00,#b10,#ac0,#b90,#a40,#b50,#a40,#940,#930,#910,#930,#9c0,#b50,#af0,#a80,#bc0,#b50,#af0,#a70,#b40,#aa0,#aa0,#a90,#a30,#ba0,#af0,#b30,#a90,#b70,#9a0,#aa0,#9b0,#ae0,#b10,#af0,#a20,#ab0,#aa0,#ae0,#b40,#a90,#b30,#b20,#b40,#a90,#aa0,#ac0,#a70,#aa0,#a90,#b10,#ab0,#b30,#ab0,#ba0,#ae0,#ae0,#a60,#b50,#b70,#ae0,#b60,#bd0,#ab0,#b50,#ae0,#ae0,#a70,#ad0,#ae0,#b40,#ac0,#ad0,#be0,#b20,#b50,#b40,#aa0,#b30,#b40,#a90,#c00,#b00,#af0,#b40,#b70,#b70,#b30,#bb0,#b50,#b20,#b50,#af0,#b00,#b40,#ad0,#ac0,#b00,#ad0,#ac0,#a80,#b50,#a90,#b10,#b00,#a70,#b00,#b30,#b80,#a70,#aa0,#b90,#ac0,#ac0,#b70,#b00,#b30,#950,#9f0,#9d0,#9b0,#a40,#b60,#aa0,#c20,#b80,#a90,#b10,#b30,#b70,#ad0,#b20,#ae0,#ac0,#a60,#a20,#900,#830,#730,#630,#660,#600,#5d0,#530,#610,#5b0)"></i>
<i style="top:519px;height:6px;background:linear-gradient(90deg,#b20,#b80,#af0,#a50,#b40,#b80,#af0,#b20,#ab0,#b90,#b00,#be0,#c00,#c70,#c30,#c40,#be0,#cb0,#b10,#b60,#ca0,#b90,#b60,#b90,#c30,#c40,#c00,#b80,#b90,#be0,#b70,#bd0,#b00,#c00,#ba0,#b80,#b50,#aa0,#c10,#b50,#b80,#b80,#be0,#b70,#c40,#bc0,#b40,#b30,#c70,#b00,#b30,#b00,#ba0,#b90,#c40,#b60,#b50,#ca0,#ac0,#bc0,#ae0,#ba0,#a90,#a70,#910,#8a0,#7e0,#8e0,#9b0,#a50,#b20,#b50,#c40,#ab0,#b80,#b60,#ba0,#c10,#c60,#c40,#b40,#b50,#b50,#bc0,#b20,#bb0,#b20,#bb0,#bd0,#c60,#bd0,#ba0,#bf0,#b40,#c10,#b70,#b90,#b40,#b80,#b60,#b60,#bc0,#c20,#b40,#bd0,#c40,#ba0,#c30,#bf0,#b20,#b50,#c20,#c00,#bb0,#b90,#a80,#b70,#ac0,#b70,#b80,#b70,#bc0,#ba0,#b10,#b70,#c10,#c90,#b50,#c00,#c50,#c20,#bd0,#c60,#ca0,#be0,#b70,#b30,#c10,#c20,#b10,#a90,#9c0,#a70,#980,#ae0,#af0,#be0,#be0,#c40,#ba0,#b60,#b60,#b30,#bf0,#b80,#ac0,#b90,#b50,#ad0,#b60,#b80,#b50,#b50,#b10,#b00,#c50,#af0,#bb0,#ba0,#b70,#aa0,#bf0,#b30,#c70,#b60,#b10,#c10,#b70,#bb0,#c00,#b40,#b10,#ba0,#c10,#b90,#b70,#c30,#c00,#b90,#c80,#b70,#bd0,#b50,#c00,#c30,#bb0,#b20,#bd0,#ba0,#bd0,#b20,#bc0,#b50,#c00,#bb0,#ba0,#bc0,#c00,#c70,#bb0,#be0,#b80,#be0,#b50,#bc0,#c80,#be0,#bb0,#ba0,#b70,#c10,#ba0,#b70,#c80,#c40,#be0,#b80,#c60,#ca0,#bc0,#bd0,#bd0,#c30,#bc0,#b90,#b50,#b40,#bb0,#bb0,#b80,#b50,#bb0,#ba0,#be0,#c40,#c30,#c70,#b10,#c50,#ad0,#ae0,#a20,#a70,#a50,#b90,#af0,#c50,#b60,#cc0,#b90,#bc0,#bb0,#bf0,#ba0,#b90,#b60,#b90,#ba0,#a20,#960,#800,#700,#670,#5e0,#530,#5e0,#5a0,#5c0,#6a0)"></i>
<i style="top:525px;height:6px;background:linear-gradient(90deg,#ac0,#a40,#a30,#a60,#ae0,#b10,#b20,#b50,#b70,#b30,#ad0,#b50,#b50,#c50,#c10,#b60,#bc0,#c60,#bf0,#c50,#bf0,#c00,#c20,#ba0,#b90,#ba0,#c30,#bd0,#b20,#c10,#bc0,#bf0,#bb0,#b90,#ac0,#bb0,#ad0,#b70,#c50,#ba0,#bb0,#b50,#ba0,#af0,#b60,#b90,#b50,#af0,#a70,#b20,#b10,#b30,#bc0,#ae0,#c00,#b30,#ce0,#c60,#c10,#b70,#bb0,#b70,#aa0,#9e0,#9a0,#880,#920,#950,#990,#a90,#ad0,#a80,#b60,#af0,#bf0,#bd0,#a70,#b80,#b20,#c40,#b90,#bd0,#bf0,#b50,#bd0,#c50,#b90,#c10,#bc0,#cc0,#cb0,#bc0,#ba0,#bd0,#b80,#b70,#b30,#c20,#c70,#bd0,#b00,#b20,#c00,#b70,#b90,#bd0,#b90,#c30,#b10,#ba0,#b10,#ba0,#ac0,#b50,#bf0,#b30,#ba0,#b40,#b90,#b60,#bc0,#b10,#b70,#be0,#b50,#bf0,#c10,#bd0,#af0,#c90,#b60,#be0,#c00,#c80,#bd0,#b70,#c00,#c60,#b30,#b90,#ab0,#a10,#970,#9f0,#ac0,#c20,#ac0,#c60,#bc0,#b40,#b10,#c30,#ae0,#c50,#af0,#ba0,#b20,#af0,#b40,#c60,#ba0,#bb0,#c00,#c10,#b30,#bc0,#b90,#b60,#a90,#be0,#bd0,#b50,#d10,#b10,#b80,#bb0,#b40,#ba0,#c40,#b30,#ad0,#b60,#b40,#b70,#b50,#b90,#c90,#b90,#c70,#b90,#b60,#ad0,#bc0,#be0,#cd0,#b00,#b60,#b80,#b90,#b90,#b40,#b80,#b20,#b20,#bb0,#c20,#b60,#af0,#b80,#bc0,#bc0,#c40,#b60,#bb0,#b90,#c90,#bf0,#bb0,#b70,#c20,#b30,#c30,#c30,#c00,#bd0,#bc0,#c10,#ba0,#c20,#b10,#c30,#b80,#c00,#ba0,#b30,#b50,#b30,#bd0,#af0,#b00,#c10,#be0,#b50,#c00,#b40,#bd0,#b40,#c10,#b90,#b40,#9a0,#9a0,#990,#a90,#b50,#af0,#b90,#bc0,#bf0,#bb0,#bd0,#c40,#b00,#c30,#b10,#ba0,#b40,#b40,#a50,#9f0,#7b0,#7c0,#6b0,#670,#5a0,#670,#600,#630,#5f0)"></i>
<i style="top:531px;height:6px;background:linear-gradient(90deg,#bf0,#bb0,#c20,#c60,#c50,#bf0,#c10,#cc0,#c40,#c60,#c60,#ca0,#cb0,#c60,#c70,#c80,#cc0,#cf0,#c20,#d50,#c40,#cc0,#c40,#c80,#ca0,#ce0,#cb0,#ce0,#c60,#d20,#bd0,#c80,#c90,#c40,#c70,#c10,#c90,#c40,#cb0,#c90,#c90,#c70,#c00,#ca0,#cb0,#c30,#be0,#c10,#cb0,#ba0,#c60,#c30,#cb0,#bf0,#cc0,#c40,#cf0,#d70,#ca0,#d60,#c80,#c90,#cb0,#b60,#a30,#850,#8d0,#9d0,#a30,#ad0,#bd0,#b50,#b90,#c70,#d00,#c00,#c60,#c90,#c20,#c20,#ca0,#c10,#c40,#d50,#bd0,#d60,#d30,#c70,#d20,#cc0,#c50,#c60,#c40,#d20,#bf0,#bd0,#c20,#c00,#d30,#c30,#c30,#c40,#c50,#be0,#cb0,#c50,#c70,#d00,#ce0,#cc0,#c00,#c50,#c30,#c40,#c50,#c20,#cc0,#c10,#ce0,#c80,#c50,#c90,#c40,#c40,#ce0,#c60,#e40,#c10,#c10,#d30,#c80,#c60,#c30,#c80,#c50,#ce0,#c50,#c80,#cb0,#c50,#b70,#a80,#9d0,#9f0,#b80,#ba0,#c20,#c80,#ca0,#ce0,#ca0,#c50,#be0,#c80,#c40,#c40,#bf0,#c70,#cb0,#c40,#ca0,#c60,#c40,#ce0,#c40,#c70,#bb0,#cb0,#c20,#c40,#c30,#c70,#c20,#bf0,#c70,#c80,#c30,#cb0,#ce0,#c20,#ca0,#ca0,#be0,#bf0,#b90,#d00,#c40,#c40,#cb0,#d10,#ca0,#d20,#d10,#e10,#c30,#c70,#c40,#cd0,#c30,#cd0,#bb0,#cd0,#ca0,#d10,#cc0,#c90,#cb0,#bc0,#c80,#cb0,#d50,#cb0,#c00,#d90,#c40,#cb0,#c40,#b30,#cf0,#c70,#cf0,#c50,#cd0,#d40,#cd0,#c80,#c60,#c90,#c00,#c90,#cc0,#bd0,#be0,#d10,#c40,#d00,#c80,#ca0,#c80,#d20,#d10,#c90,#bd0,#c10,#c90,#c40,#ce0,#cc0,#c90,#c20,#b50,#b00,#b30,#b40,#c40,#c90,#d00,#c70,#c40,#d60,#cf0,#d10,#d40,#c70,#cf0,#c90,#bf0,#c10,#b20,#a00,#860,#740,#610,#650,#510,#5e0,#5b0,#5b0,#600)"></i>
<i style="top:537px;height:5px;background:linear-gradient(90deg,#c20,#c00,#c00,#ba0,#c00,#b90,#cb0,#c50,#c60,#c30,#c00,#ba0,#c30,#c60,#c70,#d00,#d10,#c60,#c70,#d30,#be0,#ca0,#d10,#cd0,#c90,#cf0,#c70,#c50,#cb0,#c80,#cc0,#d00,#d10,#b90,#ca0,#cc0,#ce0,#c60,#c60,#ca0,#c30,#bd0,#cc0,#cc0,#c00,#ce0,#c10,#c90,#be0,#c60,#c10,#c40,#ca0,#cd0,#c40,#d50,#c70,#c20,#ca0,#d70,#c60,#bc0,#b90,#b20,#a30,#960,#990,#a80,#aa0,#b80,#bc0,#c30,#cb0,#c70,#bf0,#cc0,#d10,#c90,#d40,#d00,#c00,#c70,#c30,#c80,#c60,#cd0,#d00,#bf0,#d10,#cc0,#d30,#c90,#bc0,#c90,#cb0,#ca0,#c60,#c00,#c10,#c30,#c30,#cb0,#ce0,#d20,#ce0,#cb0,#cf0,#ca0,#c30,#cf0,#c80,#c80,#d00,#cc0,#cc0,#d50,#cf0,#cd0,#c90,#bb0,#b80,#c20,#d70,#c70,#c60,#cd0,#d20,#cd0,#cf0,#cf0,#ca0,#c90,#bd0,#cb0,#cb0,#cd0,#d10,#c20,#c20,#cb0,#b40,#b50,#aa0,#ae0,#ae0,#c20,#be0,#ce0,#c90,#c60,#ca0,#d00,#c10,#c60,#bf0,#cc0,#cb0,#c10,#c50,#c00,#c80,#ce0,#c40,#c70,#bc0,#d20,#bf0,#c70,#c40,#cd0,#c50,#c40,#be0,#cf0,#bc0,#d20,#d00,#d40,#c20,#c40,#ca0,#d00,#c20,#d10,#c10,#cd0,#c90,#ca0,#c80,#cd0,#be0,#d00,#c60,#c90,#c50,#cf0,#cd0,#c80,#c40,#d50,#c80,#cc0,#c70,#d00,#d20,#d10,#d50,#d60,#be0,#c70,#c40,#d00,#ce0,#c50,#d70,#ce0,#d70,#c90,#d20,#d40,#ca0,#ce0,#cc0,#c90,#ce0,#bf0,#d00,#cc0,#c40,#cf0,#bd0,#c20,#d00,#cb0,#c30,#d00,#c50,#c70,#c90,#ce0,#ce0,#c50,#c90,#d00,#d30,#ce0,#d20,#d10,#c00,#bd0,#c20,#ae0,#ba0,#b70,#dc0,#c70,#d10,#d00,#c20,#cb0,#d30,#c80,#d20,#c90,#d30,#d90,#c30,#c40,#af0,#9a0,#8c0,#7b0,#6f0,#670,#540,#5f0,#550,#640,#680)"></i>
<i style="top:542px;height:6px;background:linear-gradient(90deg,#b20,#b90,#b60,#b70,#c00,#c30,#c40,#bc0,#b90,#c10,#bc0,#c90,#b70,#c30,#b90,#bc0,#b90,#bb0,#c70,#bf0,#bc0,#bb0,#bd0,#c00,#c80,#c20,#c10,#c00,#c50,#ba0,#c10,#b80,#b80,#c30,#bf0,#be0,#b90,#c20,#cd0,#c20,#c20,#be0,#c60,#bc0,#d10,#bf0,#be0,#c50,#b60,#b90,#b80,#bd0,#ca0,#ba0,#d10,#c90,#cd0,#c50,#b90,#ba0,#c90,#ba0,#b60,#a80,#9f0,#920,#8a0,#920,#a60,#a50,#af0,#b00,#b40,#b20,#c20,#bc0,#c90,#bc0,#c10,#bd0,#c50,#c50,#bf0,#c40,#bd0,#bf0,#bc0,#c80,#bd0,#bc0,#c90,#c10,#b80,#b90,#bb0,#b70,#bc0,#b50,#b60,#c40,#cb0,#c90,#bf0,#c60,#c10,#cd0,#c30,#c40,#cc0,#c70,#c00,#b80,#bc0,#b60,#c90,#bd0,#c30,#c00,#ba0,#c00,#c10,#bf0,#bf0,#c10,#ba0,#bf0,#be0,#bd0,#c30,#b50,#ba0,#c10,#cc0,#c60,#bd0,#cb0,#c20,#bd0,#c00,#c80,#bd0,#a90,#9c0,#a50,#a20,#b10,#c10,#b90,#bb0,#c10,#be0,#c80,#bf0,#c20,#c20,#ba0,#c30,#c60,#bd0,#bb0,#bd0,#c80,#bf0,#bb0,#b60,#be0,#b50,#c40,#b80,#b50,#c40,#c00,#c10,#b90,#c40,#c10,#c00,#c50,#c60,#bf0,#ca0,#c30,#bf0,#c40,#c10,#c90,#c10,#be0,#bf0,#c40,#b60,#b80,#bf0,#c40,#c50,#bf0,#b70,#b30,#bf0,#bd0,#c10,#c50,#b90,#c80,#bd0,#bf0,#c10,#b50,#d00,#bf0,#c90,#bd0,#b80,#bb0,#bb0,#b60,#b20,#c70,#bd0,#c20,#c90,#be0,#c10,#c70,#c30,#c20,#bb0,#bb0,#c60,#bf0,#c50,#c40,#c10,#c20,#be0,#c40,#b00,#b90,#c10,#ca0,#b50,#bd0,#c40,#ca0,#bf0,#b50,#c40,#c50,#be0,#b40,#ac0,#a10,#b00,#bc0,#be0,#bc0,#be0,#c70,#be0,#ca0,#c30,#c00,#c60,#c00,#ce0,#c90,#bb0,#b60,#a00,#a20,#8e0,#7c0,#640,#6e0,#6b0,#600,#5f0,#600,#680)"></i>
<i style="top:548px;height:6px;background:linear-gradient(90deg,#c40,#c60,#c00,#c80,#bd0,#c10,#cb0,#c30,#cb0,#ca0,#c80,#d40,#ce0,#c80,#c90,#ce0,#c40,#d50,#ce0,#c30,#c80,#d70,#cf0,#dc0,#ce0,#d00,#d90,#da0,#c50,#d10,#c40,#c70,#bf0,#ce0,#c40,#c50,#d70,#d00,#c90,#be0,#cc0,#bb0,#c40,#ce0,#ce0,#ca0,#ce0,#ca0,#c30,#c80,#d30,#c90,#cc0,#cf0,#c30,#c70,#c40,#d10,#cb0,#c50,#c30,#cc0,#c40,#b40,#a00,#970,#920,#9e0,#a80,#b10,#ba0,#c50,#d00,#c10,#c00,#cd0,#cd0,#c40,#c60,#c60,#cd0,#df0,#c70,#ce0,#c90,#ce0,#d00,#cf0,#c70,#c70,#d30,#ce0,#cd0,#ce0,#c50,#d10,#c30,#c10,#c30,#c90,#dc0,#cc0,#ce0,#d70,#ca0,#c30,#c80,#c90,#c00,#c80,#ca0,#d70,#ce0,#ca0,#c60,#c40,#bd0,#c80,#ba0,#c80,#d40,#c70,#cc0,#c40,#be0,#cc0,#c90,#cf0,#cd0,#d10,#ca0,#d00,#d30,#c90,#ca0,#d30,#cf0,#ca0,#c10,#c80,#ce0,#b70,#ae0,#a50,#b10,#be0,#c80,#c60,#c30,#d80,#cb0,#c40,#c80,#cc0,#d00,#ca0,#c60,#cc0,#c00,#c30,#d10,#cb0,#c90,#c50,#c20,#cb0,#c90,#d40,#c30,#c80,#c60,#c30,#d50,#d20,#ca0,#c10,#cc0,#cd0,#c60,#c00,#d60,#c20,#d10,#c60,#c80,#d10,#c20,#c80,#c90,#d10,#d10,#cb0,#c30,#d30,#c90,#ce0,#c00,#ca0,#ce0,#c80,#ce0,#d20,#d40,#c70,#c10,#bb0,#c90,#c10,#cf0,#be0,#d30,#cd0,#c20,#cf0,#d10,#d10,#cd0,#d10,#d00,#ca0,#cd0,#c30,#d10,#c30,#cb0,#c40,#d20,#cd0,#c50,#cd0,#c90,#ce0,#c90,#c80,#c60,#bc0,#cb0,#cd0,#c30,#cd0,#d20,#d10,#d40,#d20,#ca0,#db0,#cd0,#c60,#ce0,#b60,#b70,#ac0,#c10,#cc0,#c70,#d10,#d20,#cd0,#d00,#cc0,#c90,#c60,#ce0,#cf0,#d10,#cf0,#cf0,#c10,#c10,#9e0,#950,#7d0,#6e0,#750,#6a0,#5f0,#690,#630,#720)"></i>
<i style="top:554px;height:6px;background:linear-gradient(90deg,#bc0,#b50,#bd0,#c80,#c60,#b90,#cf0,#bd0,#c00,#d20,#cb0,#c80,#d30,#c90,#cd0,#c70,#cb0,#cc0,#d40,#c80,#cb0,#be0,#c10,#d10,#c90,#c90,#cf0,#c80,#ca0,#c70,#bb0,#cd0,#d20,#d00,#c90,#ca0,#cb0,#d20,#d00,#c60,#c70,#c70,#c40,#c40,#c70,#b70,#c90,#c40,#bf0,#c50,#c10,#cf0,#c10,#ca0,#cc0,#c60,#c40,#cf0,#c90,#c50,#c00,#c90,#c70,#ab0,#a10,#980,#960,#960,#ad0,#bb0,#cf0,#c40,#cb0,#cb0,#cb0,#c00,#c90,#d10,#c60,#cb0,#c40,#cc0,#cd0,#cf0,#c90,#c90,#c80,#ce0,#cd0,#db0,#c80,#d00,#c70,#c70,#d00,#cb0,#ca0,#bf0,#d90,#d60,#c50,#c20,#c70,#ce0,#c60,#cd0,#c70,#dc0,#c80,#c60,#d60,#cb0,#c90,#c80,#cc0,#c50,#c90,#c50,#c00,#c60,#ca0,#d30,#ca0,#c70,#ca0,#ce0,#bc0,#c80,#be0,#c10,#c80,#cb0,#cc0,#cd0,#d40,#ce0,#ce0,#c90,#d70,#d20,#c20,#b90,#b60,#b10,#ae0,#c30,#bd0,#c80,#d10,#c60,#cb0,#c90,#c70,#bd0,#c60,#c90,#c90,#cd0,#ce0,#c60,#c70,#d40,#cf0,#c90,#c70,#cf0,#cf0,#c80,#cb0,#c80,#c80,#d40,#c00,#ce0,#c20,#c50,#cf0,#c10,#c40,#c20,#c60,#cc0,#d10,#c60,#d00,#c20,#d70,#c60,#c60,#cb0,#ca0,#c90,#bf0,#d00,#cf0,#c80,#c30,#cc0,#d10,#be0,#c20,#c90,#c40,#c70,#c90,#cf0,#cf0,#d10,#d10,#c70,#bc0,#cd0,#ce0,#cf0,#c80,#d80,#c10,#d10,#d00,#d10,#d40,#ce0,#cd0,#c90,#d00,#cd0,#d00,#c40,#c10,#cb0,#cd0,#bf0,#c20,#c50,#c90,#c90,#ce0,#c70,#cb0,#d20,#c80,#d90,#c90,#cc0,#bf0,#cb0,#c70,#c40,#c30,#b00,#b10,#a40,#b70,#cd0,#cb0,#d00,#c60,#c30,#d50,#d20,#d10,#cb0,#d20,#c80,#cf0,#ce0,#c30,#cb0,#b40,#a50,#830,#730,#6a0,#670,#6a0,#650,#610,#660,#610)"></i>
<i style="top:560px;height:6px;background:linear-gradient(90deg,#b40,#c40,#ba0,#b60,#ae0,#b50,#c10,#c70,#b60,#b00,#bf0,#bf0,#c50,#bc0,#c20,#b50,#ba0,#bf0,#c00,#c60,#cb0,#b90,#ce0,#be0,#c00,#c90,#b20,#b70,#bb0,#c10,#c70,#c70,#ba0,#c50,#bd0,#c90,#be0,#c70,#b90,#c40,#b60,#c00,#b40,#be0,#ba0,#b80,#c00,#c30,#bf0,#c00,#c30,#c70,#c60,#c30,#cf0,#bf0,#c80,#bc0,#d30,#c10,#c20,#c60,#b30,#a00,#880,#860,#940,#920,#ac0,#b30,#b30,#b10,#bb0,#c10,#bc0,#bf0,#c20,#bc0,#b60,#be0,#c40,#bb0,#ba0,#bb0,#c00,#c10,#c20,#ba0,#c30,#be0,#bc0,#b60,#ba0,#bc0,#c00,#c10,#be0,#bf0,#b70,#c50,#c60,#c60,#bf0,#c20,#bf0,#b90,#bf0,#b70,#b50,#c40,#c30,#c50,#bc0,#bf0,#c20,#bc0,#b10,#ce0,#c70,#c70,#c00,#ba0,#c00,#c20,#b70,#be0,#c50,#cc0,#c60,#c00,#bb0,#d00,#c30,#c80,#c30,#b90,#d00,#c60,#ca0,#bc0,#be0,#bf0,#a80,#9d0,#9e0,#a80,#c00,#bf0,#b50,#cb0,#c90,#c80,#b30,#c00,#c80,#b80,#b90,#bd0,#b20,#c10,#c60,#c40,#ca0,#c00,#bf0,#be0,#ba0,#b80,#ba0,#be0,#bb0,#c00,#c00,#c40,#bc0,#b20,#ba0,#cd0,#c50,#be0,#bf0,#c00,#bd0,#c20,#c50,#c80,#be0,#be0,#be0,#c00,#c70,#bc0,#d00,#c50,#c90,#bc0,#bf0,#be0,#c10,#b30,#c40,#b50,#c30,#c70,#c00,#c00,#c00,#c00,#c40,#c80,#c70,#cd0,#c40,#c00,#c00,#bb0,#c10,#bf0,#cf0,#c60,#cf0,#b60,#c40,#c90,#c50,#bf0,#c40,#c30,#c30,#c40,#c80,#c20,#c20,#c00,#c20,#ba0,#c30,#be0,#c60,#bd0,#c10,#c10,#bc0,#ca0,#c60,#c30,#ca0,#bd0,#b70,#b40,#b60,#aa0,#bf0,#be0,#bd0,#c70,#cc0,#c50,#c60,#bc0,#b40,#c40,#b90,#c10,#bd0,#c20,#c60,#af0,#ae0,#9f0,#980,#7f0,#6c0,#650,#730,#610,#670,#680,#5f0)"></i>
<i style="top:566px;height:6px;background:linear-gradient(90deg,#d10,#db0,#da0,#cd0,#d40,#d40,#d20,#df0,#e50,#e00,#d40,#d30,#e50,#de0,#e00,#d90,#d40,#f10,#de0,#e10,#db0,#ec0,#e00,#e10,#e20,#e10,#ea0,#d40,#e40,#db0,#dc0,#db0,#e20,#d60,#db0,#e30,#db0,#dc0,#e10,#df0,#dc0,#df0,#d80,#e40,#d70,#d30,#e00,#d50,#d70,#dc0,#e20,#db0,#dc0,#dd0,#e30,#de0,#e40,#eb0,#e00,#df0,#d90,#d70,#cb0,#bd0,#af0,#a80,#a80,#ad0,#c20,#c50,#e30,#ea0,#db0,#e00,#de0,#e20,#d90,#d40,#e40,#d80,#e20,#da0,#db0,#e70,#eb0,#e00,#de0,#e30,#de0,#d60,#e20,#d20,#e30,#dc0,#e00,#d40,#d80,#e10,#e70,#e40,#e20,#d90,#e50,#e30,#df0,#e90,#db0,#ec0,#db0,#db0,#de0,#d60,#db0,#df0,#d30,#d90,#d50,#db0,#e60,#db0,#dd0,#e00,#d70,#e00,#dc0,#db0,#d50,#dc0,#e80,#e90,#e00,#e20,#df0,#da0,#d50,#ec0,#da0,#e20,#eb0,#de0,#dd0,#d90,#c90,#c40,#c10,#d60,#dc0,#d60,#d70,#dc0,#db0,#da0,#e50,#da0,#db0,#df0,#d10,#e10,#e20,#e80,#d80,#dc0,#e00,#dc0,#d50,#e40,#dc0,#e00,#d70,#e40,#dc0,#da0,#e40,#e60,#d90,#e60,#ea0,#e10,#d60,#e30,#e70,#d90,#eb0,#de0,#df0,#e70,#e10,#e80,#df0,#e20,#e00,#e20,#e40,#e40,#df0,#e70,#e00,#e80,#e40,#df0,#db0,#e00,#e90,#e10,#e60,#e00,#de0,#dc0,#d40,#e30,#e20,#e10,#e70,#db0,#ed0,#d90,#e40,#da0,#e00,#e90,#d80,#e20,#e20,#e20,#e30,#e60,#e40,#e40,#e70,#e50,#df0,#d70,#e40,#dc0,#e80,#da0,#d60,#e60,#da0,#d60,#e80,#d70,#ea0,#db0,#e40,#e30,#d40,#dc0,#d00,#ca0,#c80,#d40,#d30,#dc0,#ef0,#e70,#e70,#d80,#d80,#de0,#e00,#e40,#f30,#d80,#de0,#e40,#e10,#de0,#c20,#a50,#a10,#820,#690,#660,#660,#5d0,#6c0,#680,#640)"></i>
<i style="top:572px;height:6px;background:linear-gradient(90deg,#b90,#bd0,#c10,#bb0,#ba0,#b90,#bd0,#bf0,#ba0,#bc0,#c40,#bf0,#bc0,#c50,#c60,#c60,#c70,#c00,#c40,#c50,#c40,#b70,#c30,#c50,#c60,#c00,#c20,#b50,#b70,#ad0,#be0,#cb0,#cc0,#b90,#c40,#c80,#be0,#b30,#c90,#bd0,#bd0,#cb0,#c30,#c50,#ca0,#be0,#b80,#c40,#bf0,#c30,#c10,#ba0,#c00,#bf0,#c00,#c20,#c60,#c50,#bb0,#c70,#b80,#cc0,#af0,#a50,#9d0,#850,#7d0,#870,#a30,#b20,#bd0,#bd0,#ba0,#c10,#c80,#ba0,#d70,#bd0,#c80,#cd0,#c70,#c30,#c60,#cb0,#b10,#c50,#c00,#be0,#c40,#c40,#c60,#be0,#c90,#b30,#ba0,#b70,#bf0,#bb0,#c30,#bb0,#c90,#c60,#bf0,#b80,#bb0,#b80,#ca0,#c60,#b80,#cd0,#be0,#b10,#c70,#c80,#c00,#b90,#c70,#bc0,#bf0,#c30,#c20,#bd0,#b90,#c50,#b20,#c30,#c30,#c50,#c00,#c40,#c80,#bc0,#c30,#c50,#ba0,#bc0,#cc0,#c90,#bd0,#c60,#c30,#c40,#b70,#950,#a20,#b70,#c40,#bb0,#b90,#c30,#bc0,#c00,#b80,#c50,#c30,#c20,#b80,#b40,#b70,#c30,#b40,#c40,#cc0,#bc0,#be0,#c60,#c50,#bb0,#be0,#c00,#bd0,#c30,#c20,#c80,#b50,#c80,#c60,#bf0,#c30,#c70,#c30,#bf0,#c30,#bc0,#b80,#bb0,#bb0,#c10,#c50,#c20,#ca0,#c00,#bd0,#bd0,#bc0,#c00,#cb0,#b80,#c50,#c10,#c60,#bd0,#c50,#bd0,#c50,#b40,#c50,#c70,#b80,#c80,#bb0,#c90,#c30,#c70,#c60,#bb0,#cd0,#cb0,#bc0,#c60,#c60,#be0,#bb0,#cb0,#c00,#c80,#cf0,#c60,#bc0,#c80,#b80,#bb0,#d40,#ba0,#c10,#b80,#bf0,#c10,#af0,#bd0,#c60,#c80,#c50,#bc0,#c50,#bf0,#bc0,#bc0,#c10,#a20,#ad0,#ae0,#ae0,#b90,#c10,#c00,#c50,#bc0,#bc0,#c90,#c20,#bd0,#c20,#ce0,#be0,#b70,#c70,#c80,#b90,#9a0,#850,#8a0,#730,#6f0,#680,#740,#6a0,#670,#6a0)"></i>
<i style="top:578px;height:6px;background:linear-gradient(90deg,#c90,#d40,#d10,#cf0,#e10,#cb0,#cd0,#cf0,#d30,#d40,#d00,#d80,#d70,#d20,#c40,#da0,#cf0,#d20,#d50,#ce0,#d00,#d60,#d30,#d80,#d00,#d30,#cd0,#d20,#d50,#d20,#c90,#d20,#d40,#da0,#d30,#d00,#cb0,#e00,#cc0,#cb0,#d10,#c60,#d90,#d30,#d50,#cb0,#ce0,#d70,#d70,#e40,#d90,#c60,#d30,#d10,#dc0,#d50,#d90,#d40,#da0,#df0,#d00,#c20,#c00,#c30,#a70,#960,#910,#aa0,#b60,#c20,#c70,#ce0,#ce0,#d50,#da0,#c50,#c80,#d20,#d30,#c90,#cf0,#d10,#d10,#d20,#d40,#db0,#da0,#d90,#d70,#d10,#d20,#da0,#d50,#d90,#d50,#d30,#d50,#c80,#d10,#cf0,#d90,#d00,#d70,#d30,#d90,#da0,#d30,#d50,#d50,#d80,#d10,#d30,#d00,#cc0,#d40,#d50,#cd0,#dd0,#cd0,#d70,#d50,#c70,#d30,#c80,#d30,#d80,#e00,#da0,#cb0,#d30,#df0,#d70,#e10,#d00,#d10,#cc0,#d20,#dd0,#ce0,#da0,#d60,#d40,#c30,#ba0,#c40,#b70,#d00,#db0,#d60,#df0,#c00,#d10,#cb0,#d00,#d10,#d50,#cc0,#d80,#c80,#d90,#d10,#c70,#c70,#c70,#cc0,#d30,#db0,#d70,#c90,#c20,#d00,#c90,#d10,#ce0,#e30,#c70,#d50,#df0,#d00,#ce0,#de0,#c50,#c80,#cb0,#d60,#d80,#d20,#e10,#d10,#d30,#d10,#db0,#d40,#d10,#df0,#dd0,#db0,#cb0,#cc0,#d20,#d10,#d00,#d10,#d70,#cd0,#d50,#d10,#d10,#d30,#da0,#d70,#d00,#d70,#d60,#d80,#d40,#dc0,#d80,#ce0,#cd0,#cc0,#d80,#d00,#d30,#d40,#dd0,#e30,#d40,#e20,#d80,#dc0,#d20,#cb0,#d60,#db0,#c70,#d20,#d40,#d70,#cd0,#d10,#db0,#e10,#d60,#dc0,#d60,#d60,#ca0,#c10,#b60,#ba0,#c90,#cd0,#d70,#d10,#db0,#c10,#cc0,#d30,#c90,#d90,#d60,#cf0,#d50,#ca0,#ce0,#d10,#c10,#c30,#a30,#990,#7f0,#740,#630,#650,#640,#690,#700,#630)"></i>
<i style="top:584px;height:5px;background:linear-gradient(90deg,#d90,#d10,#e30,#e20,#e40,#dc0,#de0,#d90,#d60,#dd0,#de0,#d90,#ea0,#d40,#da0,#db0,#e90,#df0,#de0,#da0,#db0,#d80,#e70,#e40,#e70,#db0,#f00,#d80,#d10,#dc0,#df0,#e30,#d70,#e20,#e90,#d80,#d90,#d20,#df0,#e30,#e20,#e30,#e70,#de0,#e30,#d70,#d70,#de0,#d70,#e00,#e50,#e00,#d90,#d90,#e80,#db0,#e10,#df0,#e10,#e70,#db0,#d10,#db0,#c40,#b50,#a20,#a60,#b60,#c80,#cc0,#d40,#dd0,#dd0,#e00,#d80,#cd0,#e00,#e20,#e20,#e90,#e40,#dc0,#e50,#df0,#e80,#e10,#e30,#e10,#e00,#d60,#e10,#d10,#e20,#e50,#eb0,#e00,#d80,#d20,#ea0,#d40,#e40,#d00,#df0,#e50,#e20,#df0,#da0,#d90,#e50,#e10,#dd0,#df0,#d70,#e40,#e60,#d80,#de0,#e40,#d90,#eb0,#e70,#dc0,#e40,#e90,#d60,#e30,#de0,#de0,#e40,#dd0,#d70,#d70,#e00,#e40,#e00,#df0,#df0,#e80,#e30,#da0,#dd0,#e30,#cf0,#c40,#c10,#c10,#da0,#cd0,#e80,#dc0,#d60,#e00,#d20,#e10,#e20,#d90,#da0,#e30,#d90,#de0,#e00,#e80,#da0,#de0,#e50,#cc0,#db0,#d00,#d10,#ea0,#de0,#e70,#dc0,#e10,#db0,#da0,#dd0,#df0,#e80,#dd0,#e10,#dd0,#df0,#d60,#e50,#db0,#de0,#dc0,#e40,#e10,#de0,#e00,#e10,#e40,#e20,#e80,#ea0,#e30,#d60,#ea0,#ec0,#db0,#db0,#d00,#e30,#d80,#eb0,#cf0,#e00,#e40,#dd0,#db0,#e20,#dd0,#de0,#e00,#dc0,#de0,#e50,#dd0,#e10,#da0,#e50,#d70,#e60,#cb0,#d90,#d50,#e60,#e10,#d60,#da0,#e60,#dd0,#e00,#d20,#d30,#e10,#ed0,#da0,#e20,#d90,#e80,#dc0,#dd0,#d20,#d90,#d60,#d30,#bb0,#ca0,#cb0,#d60,#d70,#d40,#d80,#eb0,#d80,#dd0,#e70,#d10,#e20,#db0,#e00,#e40,#dd0,#dc0,#da0,#c80,#a90,#970,#7c0,#7f0,#650,#6d0,#770,#710,#6a0,#670)"></i>
<i style="top:589px;height:6px;background:linear-gradient(90deg,#dc0,#ef0,#d50,#e50,#e90,#e50,#e30,#ea0,#de0,#e90,#f00,#e00,#e20,#e90,#ef0,#f10,#ee0,#e50,#e20,#eb0,#ec0,#e20,#ea0,#ec0,#f00,#e20,#ec0,#e00,#e50,#e70,#f10,#fd0,#e90,#ea0,#ee0,#de0,#ec0,#df0,#f20,#f00,#ea0,#e10,#f20,#e80,#e70,#ea0,#db0,#e90,#ec0,#e80,#e70,#e00,#eb0,#e90,#e80,#e50,#ef0,#f20,#ec0,#ef0,#f00,#ee0,#dd0,#ca0,#b60,#ab0,#ad0,#bd0,#c60,#d90,#da0,#ec0,#e30,#e80,#e10,#e40,#e20,#f20,#e90,#e60,#e10,#e40,#ec0,#f30,#df0,#e30,#e80,#e50,#de0,#e90,#ee0,#de0,#e90,#ee0,#ed0,#e40,#f50,#ea0,#e10,#ee0,#e00,#ee0,#e00,#ef0,#e50,#f00,#ed0,#eb0,#e80,#ee0,#db0,#ea0,#ea0,#ea0,#ec0,#ff0,#e70,#ec0,#e80,#f10,#d90,#f20,#e20,#d80,#e00,#e70,#e90,#e80,#ee0,#e90,#e90,#db0,#ec0,#f00,#e60,#dc0,#e00,#f40,#e40,#e40,#e30,#ea0,#da0,#cc0,#c10,#d00,#e30,#e40,#ed0,#e90,#e80,#e80,#e70,#ed0,#ea0,#e20,#e70,#e60,#ea0,#e80,#ea0,#dd0,#e90,#f00,#de0,#f10,#e80,#e50,#da0,#ed0,#e00,#e30,#ea0,#e00,#e00,#df0,#e60,#eb0,#ea0,#ea0,#e50,#e80,#e30,#f50,#e90,#da0,#e00,#f20,#de0,#e40,#ea0,#e00,#ef0,#f30,#e30,#f00,#e20,#e10,#e90,#e90,#e30,#ed0,#dd0,#e20,#e00,#ed0,#ed0,#ed0,#e00,#e90,#ec0,#de0,#e40,#ed0,#ee0,#eb0,#ed0,#eb0,#ea0,#e80,#e30,#e70,#e60,#f80,#ea0,#e80,#e70,#e80,#e70,#ec0,#e70,#ed0,#e20,#e90,#ec0,#de0,#e70,#e80,#e50,#e40,#dc0,#f00,#e20,#e00,#ed0,#dc0,#eb0,#df0,#d60,#ca0,#c60,#cc0,#ec0,#e40,#e60,#f40,#e50,#e80,#e70,#e80,#e20,#e50,#f10,#ed0,#d40,#db0,#e90,#dd0,#c80,#b80,#8d0,#8c0,#770,#710,#6d0,#710,#6a0,#680,#710)"></i>
<i style="top:595px;height:6px;background:linear-gradient(90deg,#cc0,#d30,#d10,#d60,#cd0,#df0,#e30,#d20,#d40,#d60,#dd0,#e10,#cd0,#d20,#cf0,#cf0,#cc0,#da0,#d00,#e10,#dd0,#d10,#d10,#d30,#e00,#d10,#cd0,#d60,#d80,#d10,#e00,#d70,#d80,#d00,#d50,#d40,#c60,#d70,#c90,#d50,#cb0,#e20,#d70,#da0,#db0,#cc0,#c50,#d20,#da0,#d50,#d90,#db0,#cb0,#d80,#e30,#d30,#ca0,#d60,#d50,#da0,#d00,#d30,#bb0,#bf0,#b10,#a00,#8d0,#a70,#a30,#c80,#cf0,#cc0,#d60,#d50,#db0,#d50,#d60,#c80,#cd0,#d20,#d80,#d60,#e00,#d10,#d50,#d90,#d50,#da0,#d30,#e10,#d50,#de0,#d60,#e00,#cc0,#d80,#d10,#d60,#dd0,#ce0,#cd0,#d00,#d90,#cb0,#d80,#ce0,#cf0,#d40,#d80,#d10,#d20,#d50,#d30,#c30,#d20,#d50,#dc0,#e20,#d90,#d50,#cf0,#d60,#da0,#de0,#d00,#d70,#dc0,#e30,#d90,#d40,#d30,#d50,#d30,#dc0,#de0,#dc0,#df0,#d40,#d90,#d40,#d70,#dd0,#ce0,#b60,#b80,#b90,#c00,#cd0,#dc0,#e10,#d20,#dc0,#dd0,#cd0,#d40,#d40,#d60,#ca0,#d20,#dc0,#dd0,#e10,#d30,#e10,#d90,#cc0,#da0,#d20,#d80,#d40,#dd0,#d60,#d30,#db0,#d70,#d30,#de0,#d30,#d10,#d20,#cc0,#d20,#e20,#d00,#d60,#ce0,#d10,#df0,#db0,#d10,#d60,#d00,#d10,#d00,#d10,#d90,#da0,#d90,#d50,#cd0,#d50,#cf0,#db0,#d90,#db0,#d40,#ca0,#dd0,#df0,#cd0,#d80,#df0,#d00,#e30,#d50,#d00,#e00,#d90,#d30,#dd0,#ca0,#e30,#d10,#d90,#d40,#d90,#dc0,#d10,#dc0,#d40,#d10,#d40,#ce0,#cf0,#da0,#d30,#dc0,#d80,#ce0,#c90,#d10,#d80,#d70,#d10,#dd0,#ca0,#c90,#c90,#cc0,#bc0,#b70,#cc0,#d60,#dc0,#d40,#d20,#d80,#da0,#e20,#e50,#d20,#d30,#d60,#d50,#d90,#d90,#d70,#d70,#be0,#a50,#8d0,#7f0,#710,#630,#720,#6e0,#6a0,#670,#630)"></i>
<i style="top:601px;height:6px;background:linear-gradient(90deg,#920,#890,#880,#7b0,#860,#860,#880,#840,#890,#860,#810,#900,#900,#960,#8b0,#890,#880,#820,#930,#850,#840,#8b0,#960,#8e0,#850,#870,#8f0,#8a0,#860,#890,#8f0,#970,#820,#860,#850,#7a0,#840,#830,#910,#890,#7f0,#8e0,#870,#7e0,#860,#860,#840,#890,#7a0,#870,#900,#8f0,#910,#920,#950,#840,#920,#800,#880,#7f0,#920,#900,#7d0,#7a0,#560,#4d0,#4d0,#520,#6f0,#890,#7e0,#8e0,#880,#950,#8d0,#8e0,#8e0,#8b0,#810,#930,#820,#8c0,#8f0,#860,#8c0,#930,#8c0,#860,#790,#860,#880,#880,#850,#8d0,#860,#890,#8e0,#830,#880,#980,#900,#830,#8b0,#900,#940,#8d0,#880,#860,#8f0,#8c0,#870,#890,#870,#8f0,#850,#8d0,#8f0,#8d0,#840,#930,#850,#8d0,#850,#7f0,#8c0,#8d0,#8b0,#8d0,#870,#870,#8b0,#990,#910,#880,#8f0,#880,#880,#910,#880,#800,#850,#8a0,#850,#810,#6a0,#770,#810,#860,#900,#8e0,#850,#910,#820,#8a0,#8a0,#8c0,#850,#890,#890,#900,#850,#8b0,#880,#810,#9c0,#890,#800,#930,#820,#8c0,#8f0,#850,#870,#860,#890,#7f0,#820,#890,#910,#8f0,#960,#8f0,#870,#8a0,#7d0,#840,#840,#8c0,#8e0,#870,#870,#800,#8a0,#8d0,#8e0,#860,#980,#930,#8a0,#870,#880,#8b0,#8a0,#8e0,#900,#940,#930,#8a0,#8e0,#890,#880,#980,#890,#990,#8a0,#8e0,#930,#8c0,#8e0,#8a0,#880,#8a0,#870,#960,#8a0,#970,#7a0,#8c0,#8f0,#890,#920,#8f0,#880,#8c0,#9c0,#8b0,#8b0,#870,#8b0,#820,#8a0,#9b0,#930,#900,#930,#960,#890,#890,#780,#6f0,#800,#6f0,#830,#8d0,#860,#8b0,#880,#880,#9e0,#900,#8b0,#940,#8a0,#910,#8d0,#950,#810,#8e0,#8a0,#820,#8d0,#790,#800,#730,#730,#6f0,#750,#620,#6f0)"></i>
<div class="tx t0"></div>
<div class="tx t1"></div>
<div class="tx t2"></div>
<div class="tx t3"></div>
<div class="tx t4"></div>
<div class="tx t5"></div>
<div class="tx t6"></div>
<div class="tx t7"></div>
<div class="tx t8"></div>
<div class="tx t9"></div>
</div>
<div id="ed"></div>
<div id="cb"></div>
<svg width="1200" height="750" viewBox="0 0 1200 750">
<rect x="133" y="56" width="836" height="607" fill="none" stroke="#000" stroke-width="1.67" stroke-linejoin="miter"/>
<rect x="1021.1" y="56" width="29.8" height="607" fill="none" stroke="#000" stroke-width="1.67"/>
<path d="M126 97.60H133M126 190.40H133M126 284.00H133M126 376.90H133M126 470.00H133M126 563.90H133M126 660.00H133M133.00 663V670M394.90 663V670M658.00 663V670M920.00 663V670M1051 56.00H1058M1051 131.88H1058M1051 207.75H1058M1051 283.62H1058M1051 359.50H1058M1051 435.38H1058M1051 511.25H1058M1051 587.12H1058M1051 663.00H1058" stroke="#000" stroke-width="1.67" fill="none"/>
<text x="116.90" y="105.20" text-anchor="end" font-size="22.07" textLength="66.27" lengthAdjust="spacingAndGlyphs">16384</text>
<text x="116.90" y="198.00" text-anchor="end" font-size="22.07" textLength="53.02" lengthAdjust="spacingAndGlyphs">8192</text>
<text x="116.90" y="291.60" text-anchor="end" font-size="22.07" textLength="53.02" lengthAdjust="spacingAndGlyphs">4096</text>
<text x="116.90" y="384.50" text-anchor="end" font-size="22.07" textLength="53.02" lengthAdjust="spacingAndGlyphs">2048</text>
<text x="116.90" y="477.60" text-anchor="end" font-size="22.07" textLength="53.02" lengthAdjust="spacingAndGlyphs">1024</text>
<text x="116.90" y="571.50" text-anchor="end" font-size="22.07" textLength="39.76" lengthAdjust="spacingAndGlyphs">512</text>
<text x="116.90" y="667.60" text-anchor="end" font-size="22.07" textLength="13.25" lengthAdjust="spacingAndGlyphs">0</text>
<text x="133.00" y="693.00" text-anchor="middle" font-size="22.07" textLength="46.78" lengthAdjust="spacingAndGlyphs">0:00</text>
<text x="394.90" y="693.00" text-anchor="middle" font-size="22.07" textLength="46.78" lengthAdjust="spacingAndGlyphs">0:50</text>
<text x="658.00" y="693.00" text-anchor="middle" font-size="22.07" textLength="46.78" lengthAdjust="spacingAndGlyphs">1:40</text>
<text x="920.00" y="693.00" text-anchor="middle" font-size="22.07" textLength="46.78" lengthAdjust="spacingAndGlyphs">2:30</text>
<text x="1066.00" y="63.60" font-size="22.07" textLength="64.85" lengthAdjust="spacingAndGlyphs">+0 dB</text>
<text x="1066.00" y="139.47" font-size="22.07" textLength="68.17" lengthAdjust="spacingAndGlyphs">-10 dB</text>
<text x="1066.00" y="215.35" font-size="22.07" textLength="68.17" lengthAdjust="spacingAndGlyphs">-20 dB</text>
<text x="1066.00" y="291.23" font-size="22.07" textLength="68.17" lengthAdjust="spacingAndGlyphs">-30 dB</text>
<text x="1066.00" y="367.10" font-size="22.07" textLength="68.17" lengthAdjust="spacingAndGlyphs">-40 dB</text>
<text x="1066.00" y="442.98" font-size="22.07" textLength="68.17" lengthAdjust="spacingAndGlyphs">-50 dB</text>
<text x="1066.00" y="518.85" font-size="22.07" textLength="68.17" lengthAdjust="spacingAndGlyphs">-60 dB</text>
<text x="1066.00" y="594.73" font-size="22.07" textLength="68.17" lengthAdjust="spacingAndGlyphs">-70 dB</text>
<text x="1066.00" y="670.60" font-size="22.07" textLength="68.17" lengthAdjust="spacingAndGlyphs">-80 dB</text>
<text x="551" y="722" text-anchor="middle" font-size="22.07" textLength="50.98" lengthAdjust="spacingAndGlyphs">Time</text>
<text transform="translate(39.8 362) rotate(-90)" x="0" y="0" text-anchor="middle" font-size="22.07" textLength="26.60" lengthAdjust="spacingAndGlyphs">Hz</text>
<text x="549.4" y="44.2" text-anchor="middle" font-size="26.5" textLength="826.5" lengthAdjust="spacingAndGlyphs">Mel Spec. (L) | ATWR - 25 Apple Suckling Tree - Take 1.flac - ast_t1</text>
</svg>
</body></html>
